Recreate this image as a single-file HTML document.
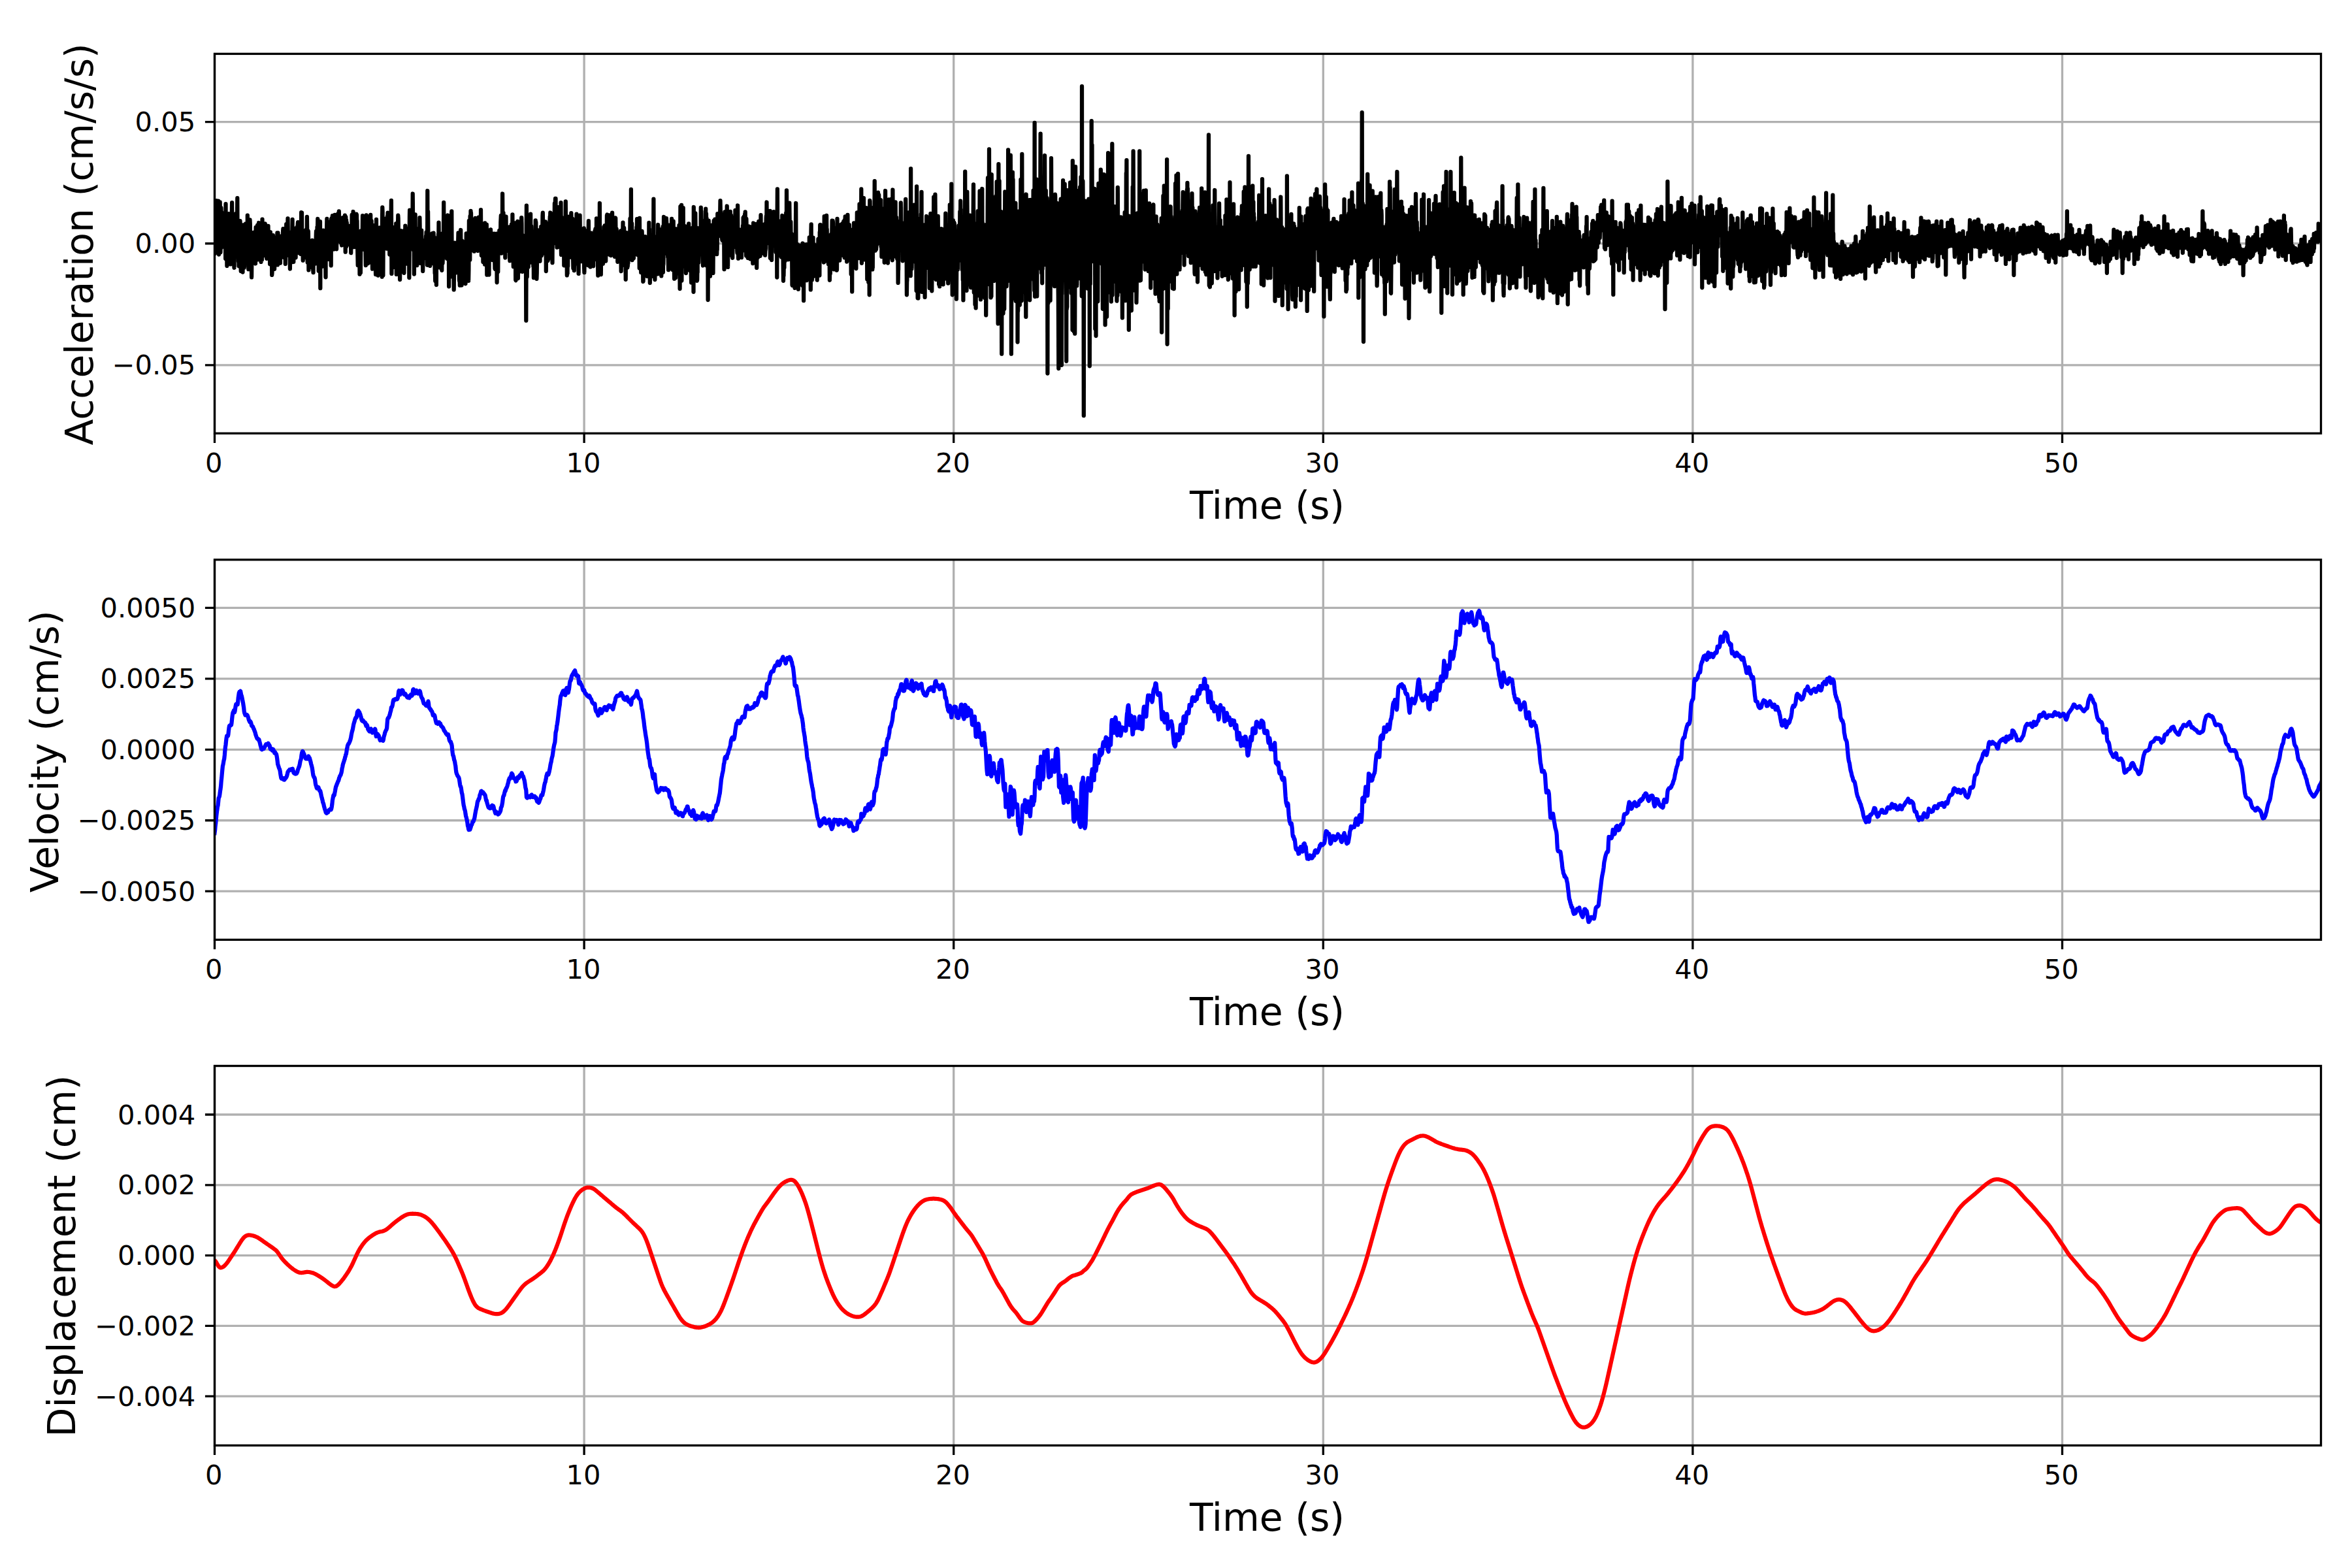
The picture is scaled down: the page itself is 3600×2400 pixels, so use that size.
<!DOCTYPE html>
<html lang="en"><head><meta charset="utf-8"><title>Acceleration, velocity and displacement time series</title>
<style>html,body{margin:0;padding:0;background:#fff;width:3600px;height:2400px;overflow:hidden}svg{display:block}text{font-family:"DejaVu Sans","Liberation Sans",sans-serif;fill:#000}.t{font-size:41.67px}.l{font-size:58.33px}</style></head><body>
<svg width="3600" height="2400" viewBox="0 0 3600 2400">
<rect width="3600" height="2400" fill="#ffffff"/>
<defs>
<clipPath id="c0"><rect x="328.50" y="82.40" width="3224.00" height="580.90"/></clipPath>
<clipPath id="c1"><rect x="328.50" y="856.70" width="3224.00" height="581.70"/></clipPath>
<clipPath id="c2"><rect x="328.50" y="1631.50" width="3224.00" height="580.90"/></clipPath>
</defs>
<path d="M328.50 82.40V663.30M894.10 82.40V663.30M1459.70 82.40V663.30M2025.30 82.40V663.30M2590.90 82.40V663.30M3156.50 82.40V663.30M328.50 186.70H3552.50M328.50 372.75H3552.50M328.50 558.80H3552.50" stroke="#b0b0b0" stroke-width="3.333" fill="none"/>
<path clip-path="url(#c0)" d="M328.5 357.9 328.8 339.3 329.1 388.1 329.3 360.2 329.6 357.7 329.9 372.4 330.2 384.0 330.5 332.5 330.8 341.5 331.0 385.1 331.3 307.1 331.6 322.2 331.9 353.9 332.2 328.4 332.5 378.1 332.7 361.4 333.0 340.5 333.3 309.9 333.6 346.8 333.9 311.8 334.2 307.7 334.4 311.4 334.7 318.1 335.0 389.5 335.3 360.9 335.6 346.7 335.9 375.6 336.1 354.1 336.4 320.3 336.7 309.3 337.0 340.6 337.3 356.2 337.5 386.3 337.8 365.6 338.1 353.6 338.4 318.0 338.7 326.5 339.0 369.4 339.2 378.7 339.5 342.5 339.8 328.3 340.1 349.0 340.4 328.4 340.7 345.1 340.9 343.4 341.2 372.6 341.5 362.4 341.8 326.7 342.1 337.7 342.4 332.5 342.6 343.2 342.9 369.4 343.2 359.5 343.5 336.4 343.8 333.4 344.1 363.0 344.3 349.8 344.6 377.0 344.9 351.8 345.2 395.9 345.5 312.1 345.8 375.3 346.0 365.6 346.3 344.7 346.6 383.6 346.9 376.1 347.2 348.9 347.4 407.0 347.7 371.0 348.0 401.6 348.3 386.6 348.6 386.9 348.9 365.5 349.1 351.8 349.4 371.3 349.7 345.9 350.0 327.2 350.3 351.8 350.6 361.7 350.8 348.8 351.1 362.0 351.4 376.0 351.7 388.6 352.0 342.8 352.3 360.2 352.5 356.2 352.8 404.4 353.1 359.8 353.4 372.8 353.7 368.3 354.0 381.5 354.2 363.3 354.5 343.1 354.8 327.5 355.1 310.1 355.4 337.4 355.6 345.6 355.9 363.5 356.2 369.2 356.5 339.4 356.8 355.7 357.1 396.8 357.3 350.1 357.6 330.8 357.9 339.0 358.2 404.9 358.5 409.8 358.8 386.0 359.0 382.2 359.3 373.0 359.6 338.9 359.9 329.5 360.2 363.9 360.5 356.9 360.7 356.0 361.0 329.6 361.3 326.9 361.6 329.2 361.9 353.1 362.2 362.7 362.4 367.3 362.7 358.6 363.0 332.0 363.3 303.2 363.6 359.7 363.9 360.2 364.1 366.3 364.4 352.7 364.7 375.8 365.0 400.3 365.3 376.1 365.5 407.3 365.8 358.1 366.1 374.9 366.4 373.4 366.7 392.7 367.0 367.5 367.2 375.9 367.5 338.2 367.8 344.8 368.1 365.7 368.4 360.6 368.7 415.1 368.9 387.1 369.2 358.3 369.5 359.3 369.8 375.7 370.1 381.6 370.4 391.6 370.6 392.0 370.9 379.1 371.2 352.9 371.5 416.6 371.8 359.0 372.1 351.0 372.3 344.3 372.6 380.5 372.9 369.7 373.2 357.3 373.5 380.2 373.7 409.8 374.0 407.8 374.3 387.1 374.6 377.4 374.9 385.6 375.2 381.2 375.4 393.1 375.7 386.2 376.0 342.4 376.3 368.1 376.6 370.2 376.9 362.2 377.1 351.9 377.4 352.7 377.7 377.1 378.0 390.3 378.3 381.6 378.6 370.2 378.8 329.6 379.1 365.6 379.4 364.9 379.7 370.5 380.0 351.5 380.3 412.2 380.5 364.0 380.8 369.1 381.1 408.8 381.4 357.7 381.7 391.1 381.9 378.8 382.2 386.1 382.5 336.4 382.8 342.5 383.1 364.0 383.4 365.0 383.6 364.8 383.9 360.0 384.2 378.1 384.5 404.8 384.8 392.8 385.1 424.4 385.3 402.9 385.6 375.0 385.9 371.0 386.2 382.5 386.5 396.5 386.8 373.8 387.0 391.2 387.3 377.8 387.6 388.6 387.9 399.7 388.2 355.8 388.5 380.8 388.7 379.6 389.0 367.0 389.3 379.6 389.6 382.8 389.9 385.6 390.2 358.5 390.4 370.8 390.7 381.5 391.0 403.5 391.3 385.6 391.6 347.9 391.8 393.5 392.1 359.6 392.4 390.9 392.7 361.0 393.0 376.7 393.3 368.6 393.5 396.0 393.8 383.2 394.1 344.6 394.4 378.9 394.7 353.2 395.0 397.4 395.2 387.6 395.5 356.7 395.8 372.8 396.1 341.0 396.4 361.5 396.7 364.0 396.9 374.9 397.2 355.6 397.5 381.8 397.8 373.2 398.1 375.5 398.4 379.5 398.6 373.6 398.9 364.8 399.2 369.8 399.5 400.9 399.8 371.3 400.0 375.3 400.3 397.4 400.6 371.6 400.9 397.6 401.2 365.5 401.5 335.6 401.7 373.5 402.0 363.2 402.3 392.0 402.6 377.2 402.9 359.9 403.2 389.6 403.4 388.1 403.7 378.4 404.0 362.9 404.3 356.8 404.6 356.9 404.9 356.8 405.1 366.5 405.4 376.2 405.7 342.4 406.0 348.9 406.3 382.7 406.6 344.3 406.8 345.1 407.1 345.9 407.4 356.5 407.7 376.9 408.0 368.6 408.2 395.8 408.5 368.3 408.8 348.3 409.1 363.9 409.4 365.4 409.7 365.1 409.9 360.0 410.2 361.7 410.5 345.9 410.8 374.1 411.1 384.1 411.4 365.0 411.6 391.4 411.9 385.6 412.2 369.1 412.5 369.4 412.8 377.0 413.1 404.3 413.3 373.3 413.6 367.6 413.9 355.4 414.2 376.1 414.5 361.8 414.8 372.3 415.0 393.1 415.3 376.9 415.6 379.4 415.9 371.0 416.2 420.9 416.5 417.7 416.7 398.4 417.0 373.4 417.3 382.4 417.6 377.4 417.9 360.2 418.1 390.0 418.4 386.3 418.7 384.6 419.0 405.4 419.3 392.6 419.6 388.7 419.8 400.9 420.1 411.8 420.4 363.6 420.7 364.3 421.0 372.7 421.3 387.2 421.5 400.6 421.8 387.6 422.1 391.5 422.4 396.3 422.7 371.6 423.0 381.7 423.2 394.1 423.5 401.1 423.8 380.5 424.1 376.5 424.4 356.5 424.7 405.4 424.9 405.4 425.2 375.9 425.5 356.3 425.8 365.7 426.1 379.5 426.3 375.8 426.6 397.6 426.9 403.0 427.2 399.0 427.5 398.4 427.8 390.4 428.0 378.1 428.3 375.8 428.6 362.1 428.9 402.7 429.2 368.4 429.5 393.0 429.7 361.7 430.0 392.6 430.3 373.9 430.6 376.8 430.9 372.4 431.2 374.6 431.4 383.8 431.7 381.5 432.0 371.6 432.3 384.6 432.6 378.8 432.9 385.7 433.1 353.5 433.4 350.2 433.7 375.0 434.0 393.8 434.3 384.7 434.6 359.9 434.8 377.7 435.1 391.3 435.4 383.8 435.7 375.3 436.0 377.4 436.2 369.0 436.5 378.5 436.8 404.0 437.1 379.7 437.4 380.0 437.7 380.2 437.9 391.7 438.2 343.1 438.5 375.1 438.8 354.0 439.1 345.6 439.4 358.4 439.6 349.9 439.9 343.1 440.2 355.8 440.5 334.4 440.8 360.9 441.1 378.6 441.3 378.4 441.6 360.2 441.9 364.9 442.2 379.4 442.5 378.1 442.8 362.8 443.0 355.5 443.3 364.3 443.6 372.1 443.9 411.5 444.2 378.2 444.4 390.9 444.7 381.9 445.0 373.9 445.3 402.0 445.6 392.5 445.9 397.6 446.1 371.9 446.4 389.9 446.7 386.4 447.0 382.1 447.3 354.5 447.6 335.9 447.8 377.5 448.1 397.2 448.4 388.3 448.7 384.4 449.0 364.8 449.3 401.0 449.5 389.1 449.8 375.9 450.1 360.4 450.4 369.7 450.7 349.7 451.0 358.7 451.2 382.3 451.5 351.3 451.8 375.3 452.1 381.7 452.4 354.0 452.6 394.3 452.9 370.8 453.2 378.6 453.5 356.7 453.8 371.9 454.1 357.6 454.3 374.7 454.6 347.7 454.9 377.3 455.2 348.3 455.5 348.7 455.8 341.7 456.0 340.2 456.3 378.0 456.6 354.3 456.9 355.9 457.2 354.6 457.5 346.2 457.7 362.4 458.0 387.3 458.3 372.4 458.6 349.0 458.9 371.2 459.2 355.5 459.4 380.7 459.7 356.8 460.0 388.8 460.3 373.4 460.6 366.7 460.9 359.3 461.1 325.2 461.4 339.3 461.7 366.9 462.0 325.6 462.3 374.9 462.5 382.1 462.8 386.6 463.1 379.1 463.4 374.5 463.7 398.7 464.0 367.4 464.2 380.6 464.5 367.4 464.8 376.5 465.1 353.0 465.4 363.4 465.7 382.4 465.9 357.0 466.2 373.2 466.5 366.0 466.8 358.2 467.1 375.4 467.4 364.7 467.6 380.1 467.9 379.8 468.2 370.0 468.5 370.0 468.8 362.6 469.1 350.9 469.3 379.9 469.6 395.1 469.9 331.8 470.2 354.6 470.5 384.0 470.7 401.7 471.0 383.3 471.3 365.4 471.6 353.2 471.9 354.6 472.2 379.5 472.4 413.4 472.7 399.8 473.0 404.7 473.3 384.9 473.6 388.2 473.9 383.7 474.1 409.1 474.4 386.9 474.7 395.1 475.0 403.7 475.3 393.6 475.6 399.9 475.8 399.8 476.1 376.8 476.4 369.6 476.7 372.4 477.0 373.1 477.3 385.6 477.5 374.2 477.8 367.9 478.1 395.0 478.4 405.0 478.7 399.6 478.9 407.9 479.2 412.1 479.5 417.1 479.8 386.2 480.1 396.6 480.4 394.8 480.6 394.8 480.9 373.9 481.2 368.9 481.5 386.6 481.8 376.6 482.1 381.1 482.3 382.2 482.6 403.7 482.9 394.0 483.2 392.2 483.5 371.7 483.8 358.7 484.0 354.0 484.3 391.1 484.6 375.6 484.9 366.7 485.2 383.2 485.5 347.6 485.7 371.4 486.0 351.3 486.3 335.0 486.6 373.6 486.9 371.0 487.2 369.6 487.4 354.6 487.7 414.7 488.0 389.1 488.3 396.3 488.6 394.9 488.8 405.6 489.1 397.1 489.4 386.4 489.7 386.1 490.0 339.2 490.3 441.2 490.5 368.1 490.8 377.8 491.1 381.0 491.4 378.9 491.7 399.2 492.0 402.6 492.2 380.2 492.5 387.1 492.8 407.9 493.1 382.9 493.4 397.4 493.7 384.2 493.9 398.2 494.2 389.6 494.5 384.7 494.8 352.6 495.1 376.6 495.4 376.4 495.6 390.8 495.9 386.6 496.2 382.5 496.5 369.5 496.8 379.0 497.0 388.2 497.3 392.0 497.6 366.8 497.9 371.0 498.2 393.5 498.5 424.3 498.7 361.2 499.0 380.2 499.3 387.6 499.6 380.5 499.9 377.1 500.2 345.6 500.4 334.9 500.7 372.9 501.0 363.6 501.3 361.3 501.6 349.0 501.9 396.9 502.1 350.3 502.4 339.8 502.7 362.2 503.0 356.1 503.3 342.6 503.6 353.2 503.8 379.2 504.1 375.4 504.4 363.7 504.7 370.3 505.0 356.1 505.2 364.6 505.5 356.6 505.8 354.6 506.1 344.0 506.4 368.1 506.7 406.4 506.9 339.3 507.2 335.2 507.5 334.2 507.8 360.0 508.1 348.9 508.4 341.7 508.6 337.3 508.9 330.2 509.2 358.7 509.5 348.3 509.8 349.3 510.1 357.7 510.3 373.8 510.6 336.9 510.9 381.6 511.2 379.2 511.5 365.4 511.8 331.1 512.0 332.9 512.3 328.9 512.6 341.1 512.9 357.6 513.2 346.3 513.5 357.8 513.7 332.4 514.0 375.2 514.3 356.9 514.6 356.3 514.9 356.9 515.1 381.3 515.4 344.0 515.7 341.3 516.0 347.7 516.3 366.5 516.6 339.5 516.8 355.9 517.1 327.4 517.4 354.1 517.7 354.8 518.0 354.0 518.3 350.5 518.5 332.0 518.8 323.4 519.1 333.8 519.4 345.3 519.7 347.1 520.0 352.5 520.2 336.7 520.5 355.9 520.8 356.9 521.1 350.6 521.4 371.1 521.7 347.1 521.9 346.6 522.2 359.8 522.5 357.9 522.8 354.4 523.1 375.5 523.3 374.3 523.6 345.7 523.9 361.7 524.2 368.3 524.5 349.9 524.8 333.1 525.0 367.7 525.3 348.7 525.6 357.5 525.9 354.2 526.2 359.1 526.5 352.3 526.7 342.3 527.0 344.2 527.3 354.6 527.6 366.2 527.9 329.7 528.2 339.8 528.4 353.7 528.7 385.6 529.0 354.9 529.3 332.2 529.6 366.2 529.9 377.8 530.1 337.1 530.4 355.8 530.7 340.3 531.0 344.2 531.3 374.2 531.6 359.9 531.8 345.4 532.1 359.4 532.4 356.4 532.7 371.8 533.0 364.6 533.2 350.8 533.5 374.3 533.8 357.0 534.1 350.5 534.4 359.4 534.7 359.2 534.9 349.5 535.2 345.9 535.5 355.6 535.8 350.4 536.1 347.5 536.4 348.3 536.6 353.5 536.9 346.0 537.2 387.1 537.5 361.8 537.8 348.9 538.1 347.2 538.3 374.6 538.6 328.9 538.9 364.8 539.2 356.2 539.5 353.6 539.8 345.9 540.0 351.2 540.3 342.3 540.6 324.0 540.9 343.9 541.2 326.7 541.4 342.4 541.7 360.8 542.0 378.2 542.3 341.2 542.6 372.0 542.9 347.9 543.1 352.9 543.4 345.0 543.7 347.2 544.0 336.8 544.3 347.1 544.6 344.9 544.8 375.8 545.1 354.8 545.4 365.2 545.7 327.7 546.0 329.5 546.3 354.9 546.5 337.8 546.8 369.9 547.1 376.0 547.4 390.5 547.7 406.1 548.0 371.5 548.2 364.4 548.5 365.8 548.8 378.7 549.1 387.0 549.4 380.8 549.6 387.5 549.9 394.7 550.2 371.7 550.5 419.7 550.8 392.5 551.1 382.9 551.3 360.2 551.6 391.0 551.9 417.5 552.2 383.3 552.5 353.3 552.8 377.6 553.0 370.3 553.3 366.6 553.6 367.5 553.9 354.1 554.2 363.2 554.5 370.5 554.7 360.5 555.0 330.2 555.3 367.7 555.6 372.7 555.9 377.9 556.2 381.7 556.4 379.2 556.7 381.9 557.0 364.7 557.3 375.4 557.6 368.0 557.9 373.5 558.1 366.2 558.4 343.1 558.7 349.5 559.0 365.1 559.3 346.0 559.5 383.6 559.8 406.1 560.1 383.6 560.4 386.8 560.7 329.3 561.0 352.8 561.2 366.4 561.5 330.7 561.8 361.1 562.1 377.3 562.4 394.8 562.7 383.9 562.9 403.4 563.2 383.3 563.5 361.4 563.8 387.8 564.1 379.8 564.4 370.1 564.6 350.5 564.9 377.1 565.2 397.3 565.5 364.9 565.8 376.0 566.1 368.8 566.3 370.4 566.6 401.5 566.9 335.5 567.2 328.8 567.5 373.0 567.7 385.6 568.0 398.7 568.3 373.3 568.6 338.1 568.9 367.7 569.2 370.4 569.4 377.0 569.7 392.5 570.0 411.6 570.3 353.5 570.6 359.7 570.9 355.2 571.1 373.9 571.4 395.9 571.7 403.7 572.0 387.8 572.3 353.9 572.6 345.2 572.8 376.9 573.1 400.9 573.4 372.8 573.7 347.9 574.0 368.4 574.3 386.8 574.5 367.6 574.8 405.5 575.1 420.2 575.4 384.8 575.7 390.7 576.0 335.8 576.2 375.2 576.5 404.5 576.8 357.2 577.1 355.2 577.4 373.5 577.6 368.8 577.9 361.7 578.2 379.1 578.5 421.6 578.8 394.1 579.1 370.3 579.3 372.5 579.6 364.5 579.9 375.8 580.2 394.3 580.5 393.2 580.8 370.3 581.0 375.8 581.3 348.5 581.6 352.2 581.9 414.4 582.2 368.8 582.5 370.8 582.7 371.8 583.0 365.0 583.3 374.2 583.6 362.5 583.9 367.4 584.2 378.1 584.4 404.7 584.7 423.7 585.0 338.0 585.3 317.3 585.6 325.1 585.8 369.4 586.1 352.6 586.4 421.6 586.7 366.0 587.0 338.2 587.3 363.2 587.5 343.7 587.8 378.2 588.1 360.8 588.4 352.7 588.7 341.1 589.0 335.6 589.2 354.7 589.5 361.2 589.8 352.9 590.1 341.0 590.4 364.3 590.7 356.1 590.9 358.2 591.2 363.7 591.5 365.0 591.8 334.0 592.1 380.7 592.4 356.6 592.6 339.7 592.9 330.8 593.2 338.5 593.5 325.7 593.8 366.8 594.0 364.9 594.3 359.7 594.6 355.8 594.9 364.9 595.2 343.9 595.5 350.4 595.7 365.9 596.0 359.7 596.3 389.5 596.6 358.5 596.9 376.9 597.2 329.6 597.4 369.8 597.7 348.5 598.0 379.1 598.3 329.1 598.6 328.5 598.9 306.9 599.1 357.6 599.4 418.9 599.7 393.5 600.0 400.5 600.3 360.8 600.6 387.1 600.8 380.0 601.1 351.9 601.4 355.6 601.7 347.9 602.0 365.9 602.3 392.1 602.5 383.3 602.8 409.0 603.1 357.4 603.4 372.7 603.7 401.4 603.9 367.9 604.2 363.5 604.5 361.8 604.8 369.1 605.1 365.7 605.4 375.0 605.6 399.7 605.9 406.6 606.2 342.1 606.5 361.9 606.8 419.9 607.1 360.0 607.3 385.2 607.6 387.5 607.9 397.5 608.2 352.5 608.5 371.7 608.8 362.7 609.0 345.4 609.3 329.7 609.6 334.0 609.9 358.6 610.2 360.3 610.5 370.7 610.7 356.9 611.0 382.6 611.3 417.4 611.6 382.1 611.9 405.9 612.1 428.0 612.4 395.7 612.7 355.1 613.0 383.5 613.3 353.2 613.6 376.9 613.8 380.4 614.1 379.5 614.4 368.4 614.7 378.2 615.0 353.5 615.3 363.5 615.5 369.1 615.8 414.4 616.1 361.3 616.4 359.5 616.7 385.0 617.0 391.0 617.2 416.0 617.5 374.9 617.8 359.7 618.1 395.3 618.4 417.8 618.7 380.2 618.9 371.4 619.2 352.7 619.5 382.9 619.8 370.9 620.1 385.9 620.3 345.6 620.6 378.2 620.9 377.3 621.2 379.3 621.5 393.7 621.8 375.9 622.0 378.4 622.3 384.8 622.6 394.1 622.9 387.4 623.2 403.7 623.5 392.4 623.7 382.1 624.0 375.3 624.3 349.9 624.6 371.0 624.9 384.8 625.2 378.1 625.4 365.1 625.7 399.1 626.0 365.5 626.3 425.1 626.6 389.6 626.9 332.3 627.1 321.6 627.4 355.6 627.7 375.2 628.0 355.1 628.3 369.9 628.6 336.6 628.8 342.7 629.1 355.1 629.4 374.0 629.7 348.2 630.0 373.4 630.2 377.3 630.5 378.8 630.8 367.5 631.1 353.4 631.4 343.6 631.7 296.5 631.9 312.8 632.2 367.8 632.5 356.6 632.8 382.7 633.1 370.8 633.4 380.7 633.6 343.6 633.9 419.6 634.2 372.9 634.5 370.7 634.8 351.5 635.1 377.2 635.3 357.5 635.6 328.3 635.9 372.4 636.2 382.1 636.5 398.0 636.8 352.3 637.0 369.2 637.3 386.9 637.6 394.3 637.9 389.4 638.2 406.2 638.4 355.7 638.7 371.7 639.0 357.0 639.3 350.2 639.6 398.4 639.9 386.2 640.1 363.4 640.4 366.2 640.7 393.0 641.0 353.3 641.3 374.2 641.6 354.7 641.8 351.3 642.1 373.6 642.4 333.2 642.7 353.7 643.0 390.3 643.3 403.0 643.5 391.2 643.8 381.6 644.1 390.5 644.4 353.8 644.7 379.9 645.0 359.0 645.2 352.7 645.5 388.0 645.8 371.9 646.1 371.6 646.4 367.6 646.7 369.2 646.9 384.8 647.2 415.0 647.5 388.0 647.8 371.6 648.1 388.4 648.3 387.7 648.6 391.2 648.9 377.8 649.2 387.1 649.5 381.4 649.8 384.0 650.0 380.7 650.3 384.0 650.6 377.0 650.9 394.9 651.2 388.0 651.5 379.3 651.7 367.9 652.0 361.2 652.3 368.5 652.6 355.3 652.9 385.6 653.2 365.8 653.4 367.9 653.7 391.2 654.0 405.8 654.3 292.0 654.6 396.9 654.9 374.8 655.1 323.8 655.4 359.4 655.7 369.8 656.0 366.7 656.3 392.5 656.5 394.3 656.8 380.9 657.1 390.7 657.4 373.8 657.7 372.1 658.0 370.5 658.2 406.9 658.5 363.7 658.8 389.1 659.1 376.7 659.4 391.8 659.7 397.3 659.9 388.4 660.2 385.2 660.5 358.3 660.8 358.6 661.1 372.4 661.4 357.5 661.6 360.0 661.9 363.3 662.2 388.2 662.5 386.3 662.8 403.1 663.1 362.3 663.3 359.0 663.6 356.7 663.9 397.4 664.2 362.4 664.5 389.8 664.7 379.6 665.0 389.7 665.3 382.4 665.6 418.3 665.9 411.7 666.2 430.0 666.4 421.7 666.7 389.8 667.0 404.0 667.3 365.4 667.6 370.6 667.9 436.0 668.1 364.4 668.4 377.3 668.7 397.0 669.0 386.0 669.3 396.1 669.6 385.5 669.8 401.4 670.1 396.7 670.4 380.4 670.7 369.1 671.0 358.3 671.3 370.1 671.5 340.7 671.8 369.2 672.1 380.0 672.4 379.8 672.7 362.2 673.0 409.6 673.2 385.7 673.5 376.3 673.8 360.4 674.1 374.4 674.4 404.0 674.6 393.9 674.9 372.3 675.2 400.2 675.5 384.8 675.8 368.4 676.1 377.3 676.3 413.8 676.6 381.4 676.9 375.4 677.2 357.4 677.5 402.8 677.8 395.8 678.0 364.8 678.3 369.0 678.6 375.6 678.9 365.4 679.2 309.9 679.5 389.8 679.7 358.9 680.0 364.3 680.3 356.6 680.6 366.6 680.9 392.9 681.2 368.8 681.4 357.4 681.7 388.1 682.0 375.7 682.3 381.2 682.6 378.3 682.8 382.1 683.1 362.6 683.4 344.1 683.7 371.0 684.0 395.8 684.3 372.1 684.5 374.7 684.8 337.5 685.1 361.3 685.4 329.5 685.7 368.4 686.0 343.3 686.2 393.7 686.5 394.3 686.8 357.9 687.1 438.5 687.4 388.5 687.7 416.3 687.9 355.3 688.2 409.5 688.5 387.9 688.8 385.1 689.1 413.7 689.4 342.2 689.6 383.0 689.9 350.2 690.2 404.3 690.5 411.7 690.8 372.3 691.0 339.0 691.3 323.3 691.6 398.4 691.9 423.4 692.2 421.7 692.5 396.4 692.7 388.4 693.0 406.3 693.3 396.1 693.6 378.9 693.9 372.8 694.2 414.5 694.4 406.4 694.7 443.4 695.0 415.6 695.3 392.6 695.6 398.6 695.9 401.7 696.1 371.7 696.4 405.1 696.7 416.2 697.0 394.9 697.3 390.6 697.6 417.4 697.8 389.7 698.1 380.3 698.4 415.2 698.7 415.2 699.0 402.5 699.3 379.4 699.5 416.7 699.8 416.9 700.1 405.4 700.4 390.3 700.7 398.0 700.9 406.9 701.2 368.6 701.5 356.4 701.8 403.7 702.1 376.1 702.4 408.7 702.6 366.2 702.9 427.7 703.2 430.1 703.5 421.6 703.8 436.9 704.1 412.0 704.3 385.5 704.6 429.1 704.9 390.9 705.2 352.0 705.5 402.4 705.8 400.8 706.0 428.5 706.3 404.9 706.6 436.6 706.9 384.2 707.2 368.6 707.5 383.7 707.7 415.7 708.0 431.2 708.3 410.2 708.6 422.5 708.9 408.1 709.1 407.5 709.4 422.8 709.7 416.4 710.0 384.2 710.3 405.1 710.6 396.7 710.8 422.4 711.1 379.5 711.4 383.8 711.7 370.2 712.0 413.7 712.3 395.9 712.5 434.3 712.8 416.7 713.1 412.3 713.4 407.7 713.7 357.4 714.0 403.4 714.2 387.4 714.5 398.7 714.8 396.2 715.1 391.7 715.4 428.0 715.7 409.8 715.9 425.9 716.2 382.6 716.5 380.0 716.8 420.2 717.1 429.9 717.4 413.5 717.6 378.7 717.9 337.8 718.2 349.1 718.5 361.9 718.8 378.3 719.0 386.4 719.3 397.8 719.6 331.0 719.9 355.3 720.2 363.2 720.5 322.8 720.7 350.7 721.0 325.9 721.3 348.6 721.6 335.2 721.9 364.5 722.2 378.6 722.4 364.9 722.7 354.2 723.0 343.3 723.3 357.9 723.6 370.7 723.9 381.0 724.1 383.3 724.4 369.3 724.7 358.6 725.0 350.0 725.3 352.9 725.6 358.6 725.8 384.7 726.1 380.8 726.4 345.0 726.7 347.9 727.0 354.3 727.2 338.6 727.5 333.8 727.8 349.1 728.1 337.6 728.4 353.9 728.7 350.4 728.9 375.4 729.2 376.9 729.5 350.4 729.8 379.0 730.1 353.2 730.4 355.2 730.6 357.6 730.9 375.6 731.2 345.2 731.5 383.9 731.8 373.4 732.1 339.5 732.3 350.1 732.6 332.6 732.9 364.2 733.2 382.9 733.5 374.0 733.8 347.1 734.0 350.6 734.3 346.4 734.6 360.3 734.9 363.4 735.2 368.9 735.4 331.6 735.7 365.0 736.0 321.2 736.3 367.0 736.6 341.8 736.9 391.0 737.1 389.5 737.4 375.3 737.7 387.5 738.0 386.5 738.3 374.7 738.6 375.0 738.8 346.7 739.1 353.1 739.4 401.1 739.7 365.3 740.0 395.2 740.3 396.9 740.5 391.9 740.8 374.2 741.1 375.2 741.4 398.7 741.7 386.3 742.0 404.7 742.2 341.4 742.5 389.9 742.8 387.1 743.1 390.7 743.4 388.8 743.7 389.3 743.9 397.7 744.2 373.8 744.5 363.9 744.8 343.7 745.1 374.0 745.3 420.7 745.6 377.8 745.9 394.6 746.2 369.0 746.5 406.9 746.8 385.0 747.0 375.0 747.3 399.7 747.6 386.6 747.9 363.5 748.2 362.7 748.5 420.6 748.7 354.2 749.0 363.2 749.3 359.5 749.6 377.9 749.9 378.7 750.2 381.4 750.4 383.2 750.7 388.1 751.0 351.3 751.3 365.2 751.6 368.6 751.9 371.8 752.1 375.9 752.4 357.1 752.7 383.7 753.0 371.8 753.3 374.0 753.5 378.5 753.8 398.0 754.1 364.6 754.4 372.7 754.7 361.5 755.0 383.8 755.2 386.8 755.5 373.1 755.8 382.1 756.1 387.0 756.4 357.7 756.7 370.7 756.9 360.5 757.2 396.5 757.5 411.2 757.8 404.9 758.1 412.2 758.4 370.2 758.6 360.8 758.9 364.1 759.2 367.8 759.5 365.3 759.8 369.1 760.1 357.6 760.3 377.4 760.6 432.3 760.9 375.2 761.2 391.2 761.5 378.8 761.7 363.0 762.0 370.5 762.3 415.9 762.6 367.4 762.9 378.3 763.2 371.8 763.4 374.9 763.7 362.3 764.0 373.1 764.3 352.8 764.6 374.5 764.9 373.1 765.1 353.1 765.4 355.0 765.7 374.1 766.0 373.1 766.3 340.7 766.6 334.4 766.8 329.9 767.1 351.4 767.4 387.6 767.7 361.6 768.0 376.2 768.3 371.3 768.5 348.4 768.8 357.9 769.1 296.5 769.4 340.4 769.7 338.3 770.0 334.4 770.2 334.2 770.5 325.8 770.8 378.1 771.1 354.3 771.4 366.3 771.6 344.0 771.9 332.8 772.2 339.4 772.5 351.0 772.8 340.9 773.1 348.4 773.3 394.5 773.6 376.0 773.9 369.4 774.2 336.8 774.5 331.5 774.8 368.8 775.0 367.8 775.3 384.1 775.6 365.3 775.9 363.8 776.2 347.9 776.5 381.5 776.7 352.9 777.0 365.9 777.3 364.7 777.6 359.7 777.9 372.9 778.2 353.2 778.4 360.6 778.7 351.5 779.0 376.4 779.3 385.2 779.6 368.4 779.8 347.3 780.1 395.9 780.4 399.1 780.7 362.8 781.0 378.5 781.3 350.4 781.5 356.4 781.8 366.2 782.1 360.6 782.4 368.1 782.7 356.3 783.0 343.3 783.2 346.9 783.5 375.8 783.8 398.2 784.1 394.3 784.4 328.3 784.7 386.6 784.9 373.3 785.2 362.6 785.5 382.3 785.8 408.1 786.1 348.6 786.4 347.4 786.6 376.0 786.9 390.8 787.2 341.2 787.5 358.2 787.8 364.0 788.0 390.2 788.3 395.9 788.6 388.0 788.9 377.9 789.2 428.4 789.5 429.2 789.7 371.4 790.0 400.7 790.3 384.0 790.6 399.3 790.9 374.5 791.2 364.8 791.4 379.2 791.7 374.0 792.0 353.5 792.3 338.9 792.6 378.1 792.9 426.1 793.1 396.6 793.4 409.5 793.7 386.8 794.0 390.1 794.3 355.2 794.6 385.3 794.8 374.1 795.1 340.9 795.4 373.0 795.7 350.3 796.0 360.4 796.3 371.2 796.5 415.4 796.8 371.2 797.1 365.2 797.4 342.7 797.7 343.7 797.9 350.0 798.2 333.2 798.5 342.8 798.8 400.5 799.1 394.9 799.4 394.2 799.6 415.8 799.9 360.1 800.2 391.8 800.5 373.1 800.8 387.8 801.1 396.4 801.3 399.2 801.6 392.5 801.9 394.0 802.2 384.0 802.5 386.1 802.8 381.8 803.0 394.9 803.3 385.2 803.6 400.9 803.9 403.9 804.2 415.2 804.5 402.3 804.7 403.8 805.0 410.5 805.3 490.7 805.6 393.7 805.9 314.7 806.1 401.7 806.4 383.7 806.7 423.6 807.0 400.4 807.3 403.0 807.6 388.1 807.8 384.8 808.1 380.8 808.4 366.3 808.7 408.8 809.0 373.3 809.3 370.1 809.5 386.3 809.8 383.6 810.1 340.6 810.4 382.4 810.7 378.6 811.0 383.6 811.2 392.9 811.5 382.2 811.8 401.6 812.1 327.7 812.4 373.1 812.7 364.4 812.9 367.3 813.2 346.2 813.5 361.1 813.8 362.1 814.1 366.6 814.4 374.1 814.6 389.4 814.9 378.6 815.2 398.5 815.5 367.5 815.8 363.5 816.0 360.9 816.3 407.8 816.6 369.0 816.9 425.2 817.2 378.4 817.5 392.6 817.7 361.2 818.0 368.2 818.3 375.3 818.6 384.2 818.9 363.6 819.2 386.6 819.4 377.7 819.7 337.4 820.0 386.3 820.3 340.1 820.6 369.8 820.9 381.5 821.1 392.4 821.4 426.8 821.7 418.6 822.0 396.0 822.3 383.4 822.6 358.9 822.8 352.1 823.1 384.0 823.4 383.7 823.7 378.9 824.0 385.6 824.2 374.2 824.5 399.3 824.8 372.6 825.1 383.8 825.4 375.8 825.7 373.9 825.9 372.0 826.2 388.2 826.5 399.8 826.8 378.5 827.1 386.5 827.4 389.3 827.6 362.0 827.9 361.3 828.2 346.9 828.5 349.4 828.8 391.1 829.1 362.2 829.3 375.1 829.6 351.7 829.9 352.7 830.2 354.1 830.5 330.2 830.8 325.7 831.0 335.8 831.3 376.0 831.6 359.6 831.9 367.8 832.2 358.6 832.4 377.7 832.7 347.3 833.0 374.9 833.3 369.2 833.6 387.6 833.9 377.9 834.1 358.6 834.4 367.3 834.7 380.0 835.0 339.4 835.3 342.5 835.6 358.4 835.8 415.1 836.1 362.2 836.4 370.0 836.7 350.2 837.0 378.1 837.3 352.9 837.5 342.3 837.8 365.4 838.1 389.6 838.4 399.1 838.7 396.0 839.0 386.8 839.2 397.0 839.5 363.1 839.8 358.6 840.1 365.0 840.4 366.5 840.7 345.0 840.9 368.2 841.2 361.2 841.5 338.4 841.8 331.5 842.1 333.4 842.3 325.5 842.6 345.9 842.9 335.2 843.2 349.3 843.5 350.9 843.8 344.3 844.0 346.3 844.3 346.8 844.6 374.7 844.9 373.1 845.2 383.1 845.5 402.2 845.7 370.9 846.0 371.4 846.3 337.7 846.6 335.9 846.9 334.9 847.2 334.1 847.4 328.4 847.7 340.4 848.0 326.5 848.3 344.9 848.6 348.2 848.9 311.4 849.1 345.1 849.4 343.9 849.7 313.3 850.0 304.0 850.3 316.2 850.5 303.9 850.8 372.6 851.1 347.2 851.4 362.1 851.7 348.0 852.0 323.5 852.2 330.0 852.5 378.7 852.8 350.7 853.1 345.4 853.4 345.2 853.7 332.2 853.9 331.5 854.2 322.7 854.5 328.3 854.8 322.5 855.1 317.2 855.4 342.4 855.6 350.6 855.9 345.3 856.2 346.4 856.5 362.7 856.8 378.2 857.1 353.2 857.3 331.2 857.6 360.5 857.9 340.4 858.2 379.1 858.5 310.2 858.8 378.6 859.0 390.0 859.3 367.7 859.6 367.6 859.9 332.8 860.2 350.0 860.4 365.0 860.7 360.3 861.0 356.5 861.3 375.6 861.6 383.6 861.9 358.7 862.1 377.3 862.4 387.1 862.7 387.9 863.0 353.5 863.3 406.3 863.6 379.8 863.8 357.6 864.1 354.1 864.4 340.5 864.7 352.3 865.0 356.5 865.3 343.0 865.5 353.2 865.8 308.4 866.1 366.0 866.4 375.1 866.7 404.6 867.0 388.7 867.2 351.9 867.5 379.5 867.8 421.4 868.1 394.7 868.4 361.4 868.6 418.5 868.9 356.7 869.2 407.6 869.5 366.7 869.8 365.3 870.1 331.7 870.3 362.8 870.6 368.7 870.9 373.4 871.2 357.7 871.5 345.8 871.8 367.3 872.0 384.9 872.3 384.9 872.6 368.4 872.9 378.2 873.2 393.6 873.5 382.2 873.7 354.9 874.0 368.6 874.3 326.2 874.6 335.6 874.9 354.0 875.2 371.3 875.4 358.5 875.7 380.9 876.0 368.9 876.3 334.9 876.6 379.8 876.8 379.9 877.1 395.4 877.4 410.6 877.7 360.1 878.0 340.9 878.3 337.8 878.5 402.9 878.8 414.1 879.1 386.0 879.4 351.1 879.7 343.5 880.0 337.0 880.2 337.3 880.5 376.0 880.8 380.2 881.1 355.2 881.4 385.6 881.7 385.3 881.9 382.8 882.2 364.6 882.5 327.7 882.8 363.3 883.1 383.6 883.4 378.5 883.6 372.8 883.9 384.8 884.2 382.5 884.5 404.5 884.8 388.0 885.1 366.3 885.3 403.2 885.6 418.9 885.9 380.0 886.2 385.5 886.5 358.5 886.7 366.7 887.0 363.0 887.3 352.7 887.6 329.7 887.9 362.9 888.2 397.8 888.4 397.8 888.7 392.9 889.0 394.7 889.3 375.8 889.6 378.1 889.9 369.7 890.1 400.2 890.4 395.0 890.7 377.9 891.0 357.1 891.3 376.2 891.6 379.6 891.8 394.3 892.1 382.2 892.4 395.3 892.7 397.9 893.0 388.4 893.3 367.8 893.5 365.2 893.8 349.3 894.1 409.2 894.4 417.2 894.7 388.5 894.9 398.1 895.2 384.3 895.5 375.6 895.8 379.8 896.1 359.5 896.4 354.9 896.6 377.6 896.9 375.6 897.2 374.6 897.5 404.7 897.8 378.8 898.1 383.9 898.3 388.7 898.6 392.9 898.9 353.1 899.2 374.1 899.5 399.8 899.8 366.6 900.0 406.1 900.3 365.3 900.6 357.1 900.9 338.2 901.2 371.8 901.5 388.0 901.7 358.2 902.0 372.0 902.3 380.1 902.6 391.7 902.9 377.9 903.1 408.1 903.4 382.9 903.7 408.5 904.0 382.2 904.3 381.2 904.6 361.1 904.8 356.7 905.1 378.0 905.4 358.8 905.7 367.6 906.0 403.7 906.3 382.8 906.5 394.2 906.8 371.0 907.1 375.1 907.4 401.9 907.7 387.7 908.0 384.7 908.2 407.3 908.5 381.2 908.8 391.2 909.1 398.1 909.4 367.9 909.7 393.6 909.9 378.2 910.2 366.4 910.5 353.4 910.8 357.3 911.1 384.0 911.4 350.4 911.6 370.8 911.9 364.8 912.2 369.1 912.5 356.2 912.8 365.6 913.0 334.3 913.3 355.9 913.6 356.4 913.9 373.7 914.2 397.2 914.5 391.0 914.7 391.3 915.0 393.4 915.3 421.7 915.6 398.8 915.9 386.9 916.2 383.9 916.4 361.1 916.7 377.7 917.0 374.4 917.3 368.1 917.6 387.0 917.9 311.0 918.1 373.0 918.4 359.5 918.7 354.7 919.0 374.6 919.3 367.2 919.6 371.2 919.8 420.2 920.1 392.8 920.4 370.3 920.7 369.1 921.0 357.4 921.2 369.5 921.5 379.7 921.8 372.5 922.1 380.8 922.4 372.7 922.7 354.6 922.9 403.7 923.2 376.8 923.5 384.8 923.8 375.6 924.1 377.4 924.4 347.5 924.6 362.4 924.9 359.0 925.2 348.6 925.5 393.7 925.8 345.1 926.1 390.6 926.3 381.5 926.6 362.2 926.9 389.3 927.2 399.6 927.5 352.3 927.8 373.4 928.0 356.5 928.3 364.7 928.6 370.0 928.9 329.9 929.2 361.5 929.5 328.5 929.7 377.5 930.0 373.1 930.3 371.4 930.6 366.1 930.9 384.6 931.1 389.0 931.4 345.2 931.7 354.7 932.0 344.8 932.3 375.9 932.6 389.8 932.8 387.9 933.1 366.6 933.4 354.0 933.7 370.6 934.0 372.8 934.3 329.1 934.5 354.1 934.8 385.3 935.1 391.1 935.4 384.9 935.7 335.7 936.0 369.4 936.2 334.1 936.5 385.1 936.8 388.4 937.1 325.6 937.4 368.8 937.7 348.9 937.9 363.0 938.2 373.8 938.5 348.3 938.8 359.5 939.1 360.8 939.3 374.8 939.6 390.6 939.9 353.2 940.2 369.1 940.5 370.0 940.8 364.0 941.0 392.9 941.3 358.5 941.6 361.4 941.9 333.3 942.2 334.0 942.5 355.5 942.7 368.5 943.0 352.2 943.3 373.9 943.6 350.3 943.9 355.1 944.2 360.4 944.4 360.7 944.7 369.4 945.0 378.9 945.3 400.8 945.6 357.7 945.9 374.6 946.1 357.6 946.4 358.2 946.7 371.8 947.0 357.7 947.3 369.1 947.5 386.2 947.8 381.5 948.1 383.4 948.4 375.0 948.7 370.5 949.0 384.3 949.2 369.5 949.5 356.6 949.8 370.6 950.1 353.3 950.4 381.5 950.7 415.1 950.9 360.3 951.2 358.6 951.5 407.3 951.8 388.9 952.1 393.5 952.4 358.0 952.6 388.7 952.9 355.8 953.2 358.4 953.5 340.7 953.8 396.8 954.1 392.8 954.3 384.1 954.6 367.7 954.9 374.5 955.2 348.8 955.5 366.8 955.8 395.9 956.0 393.2 956.3 383.0 956.6 372.9 956.9 385.6 957.2 371.3 957.4 386.2 957.7 427.8 958.0 376.2 958.3 388.0 958.6 391.5 958.9 356.2 959.1 389.7 959.4 381.7 959.7 374.2 960.0 371.3 960.3 409.4 960.6 371.7 960.8 407.3 961.1 398.4 961.4 402.8 961.7 393.9 962.0 383.2 962.3 366.6 962.5 357.6 962.8 384.3 963.1 377.1 963.4 368.4 963.7 393.0 964.0 360.6 964.2 364.7 964.5 334.6 964.8 366.6 965.1 333.6 965.4 372.4 965.6 359.4 965.9 289.8 966.2 370.4 966.5 374.9 966.8 361.7 967.1 342.0 967.3 364.7 967.6 398.1 967.9 387.0 968.2 386.6 968.5 389.8 968.8 364.2 969.0 360.8 969.3 395.7 969.6 380.5 969.9 395.3 970.2 371.4 970.5 354.6 970.7 382.8 971.0 360.3 971.3 360.3 971.6 362.2 971.9 355.4 972.2 371.6 972.4 363.5 972.7 364.6 973.0 375.3 973.3 380.3 973.6 363.3 973.8 355.9 974.1 377.3 974.4 347.7 974.7 359.0 975.0 335.2 975.3 385.2 975.5 387.7 975.8 390.2 976.1 351.3 976.4 387.9 976.7 360.7 977.0 366.3 977.2 362.4 977.5 354.8 977.8 346.5 978.1 377.7 978.4 374.7 978.7 410.4 978.9 333.8 979.2 378.8 979.5 382.4 979.8 386.2 980.1 390.2 980.4 407.3 980.6 400.2 980.9 401.0 981.2 417.1 981.5 365.5 981.8 361.9 982.1 390.2 982.3 387.2 982.6 353.9 982.9 361.6 983.2 395.6 983.5 393.9 983.7 412.5 984.0 401.5 984.3 431.0 984.6 430.4 984.9 390.2 985.2 395.5 985.4 382.9 985.7 384.8 986.0 383.1 986.3 390.8 986.6 396.3 986.9 379.7 987.1 397.0 987.4 362.2 987.7 410.3 988.0 407.0 988.3 390.8 988.6 409.5 988.8 391.1 989.1 390.0 989.4 394.4 989.7 412.9 990.0 376.7 990.3 408.6 990.5 422.9 990.8 384.3 991.1 408.7 991.4 399.8 991.7 391.9 991.9 404.9 992.2 378.1 992.5 410.4 992.8 410.0 993.1 403.1 993.4 340.8 993.6 361.8 993.9 350.7 994.2 397.3 994.5 390.1 994.8 433.0 995.1 410.1 995.3 393.7 995.6 396.5 995.9 405.6 996.2 410.2 996.5 381.4 996.8 374.5 997.0 402.6 997.3 376.9 997.6 423.1 997.9 385.3 998.2 398.3 998.5 386.3 998.7 418.7 999.0 372.8 999.3 389.5 999.6 398.0 999.9 384.0 1000.1 387.0 1000.4 304.7 1000.7 399.9 1001.0 404.7 1001.3 388.1 1001.6 388.1 1001.8 381.1 1002.1 387.7 1002.4 428.0 1002.7 404.1 1003.0 403.2 1003.3 415.8 1003.5 419.5 1003.8 389.3 1004.1 362.3 1004.4 388.0 1004.7 397.7 1005.0 366.1 1005.2 392.6 1005.5 391.7 1005.8 381.9 1006.1 392.8 1006.4 381.2 1006.7 387.0 1006.9 419.3 1007.2 344.0 1007.5 355.7 1007.8 375.2 1008.1 352.4 1008.4 387.6 1008.6 369.7 1008.9 373.0 1009.2 371.5 1009.5 382.7 1009.8 358.4 1010.0 364.8 1010.3 351.1 1010.6 389.5 1010.9 367.4 1011.2 366.3 1011.5 367.5 1011.7 369.5 1012.0 373.3 1012.3 422.4 1012.6 372.5 1012.9 365.6 1013.2 382.9 1013.4 366.8 1013.7 380.7 1014.0 387.9 1014.3 379.6 1014.6 347.0 1014.9 416.8 1015.1 382.5 1015.4 405.4 1015.7 376.3 1016.0 332.0 1016.3 358.9 1016.6 379.6 1016.8 364.2 1017.1 361.8 1017.4 378.0 1017.7 361.0 1018.0 374.7 1018.2 364.0 1018.5 361.5 1018.8 355.1 1019.1 348.9 1019.4 374.9 1019.7 369.8 1019.9 334.1 1020.2 340.0 1020.5 380.1 1020.8 346.3 1021.1 349.3 1021.4 389.1 1021.6 383.4 1021.9 355.3 1022.2 393.5 1022.5 386.8 1022.8 399.2 1023.1 413.2 1023.3 366.1 1023.6 396.7 1023.9 370.7 1024.2 344.6 1024.5 371.1 1024.8 381.6 1025.0 364.5 1025.3 356.1 1025.6 378.4 1025.9 355.4 1026.2 385.9 1026.5 399.8 1026.7 368.1 1027.0 391.4 1027.3 379.4 1027.6 381.9 1027.9 378.7 1028.1 334.8 1028.4 398.0 1028.7 393.2 1029.0 397.3 1029.3 413.0 1029.6 350.2 1029.8 401.3 1030.1 398.1 1030.4 388.0 1030.7 338.7 1031.0 376.9 1031.3 390.0 1031.5 364.0 1031.8 406.1 1032.1 426.7 1032.4 363.4 1032.7 374.5 1033.0 420.9 1033.2 411.8 1033.5 387.2 1033.8 408.9 1034.1 425.2 1034.4 398.9 1034.7 350.3 1034.9 359.9 1035.2 397.8 1035.5 378.4 1035.8 381.1 1036.1 397.0 1036.3 392.6 1036.6 364.4 1036.9 418.4 1037.2 402.6 1037.5 381.2 1037.8 390.3 1038.0 385.0 1038.3 385.9 1038.6 399.0 1038.9 357.2 1039.2 377.6 1039.5 344.9 1039.7 392.6 1040.0 385.9 1040.3 368.5 1040.6 442.0 1040.9 366.9 1041.2 353.8 1041.4 316.1 1041.7 405.4 1042.0 371.2 1042.3 356.2 1042.6 358.2 1042.9 361.0 1043.1 313.8 1043.4 429.6 1043.7 362.9 1044.0 386.4 1044.3 389.3 1044.5 370.1 1044.8 373.6 1045.1 344.8 1045.4 337.6 1045.7 318.2 1046.0 377.6 1046.2 355.3 1046.5 388.0 1046.8 402.4 1047.1 407.7 1047.4 360.5 1047.7 387.7 1047.9 379.8 1048.2 379.4 1048.5 346.0 1048.8 382.9 1049.1 364.5 1049.4 352.6 1049.6 362.0 1049.9 418.1 1050.2 404.6 1050.5 358.7 1050.8 391.2 1051.1 379.7 1051.3 408.7 1051.6 359.6 1051.9 357.3 1052.2 386.0 1052.5 371.8 1052.8 399.1 1053.0 388.8 1053.3 350.6 1053.6 366.0 1053.9 364.0 1054.2 342.4 1054.4 362.5 1054.7 364.5 1055.0 383.0 1055.3 380.6 1055.6 386.4 1055.9 414.3 1056.1 392.3 1056.4 391.4 1056.7 361.7 1057.0 366.8 1057.3 386.8 1057.6 351.8 1057.8 420.5 1058.1 432.6 1058.4 429.6 1058.7 402.0 1059.0 356.1 1059.3 356.9 1059.5 381.6 1059.8 348.8 1060.1 382.0 1060.4 401.9 1060.7 377.8 1061.0 374.0 1061.2 378.7 1061.5 446.8 1061.8 317.0 1062.1 420.5 1062.4 395.3 1062.6 428.3 1062.9 405.7 1063.2 376.2 1063.5 391.7 1063.8 401.7 1064.1 383.1 1064.3 326.4 1064.6 351.1 1064.9 378.0 1065.2 393.2 1065.5 385.0 1065.8 348.4 1066.0 352.5 1066.3 374.3 1066.6 412.8 1066.9 429.8 1067.2 428.0 1067.5 403.7 1067.7 416.7 1068.0 349.2 1068.3 381.4 1068.6 373.3 1068.9 355.1 1069.2 402.0 1069.4 388.5 1069.7 377.9 1070.0 372.2 1070.3 382.2 1070.6 371.6 1070.8 368.3 1071.1 360.5 1071.4 361.2 1071.7 380.3 1072.0 356.8 1072.3 371.7 1072.5 360.4 1072.8 317.7 1073.1 369.0 1073.4 323.3 1073.7 340.5 1074.0 374.0 1074.2 345.3 1074.5 344.0 1074.8 357.8 1075.1 356.4 1075.4 384.3 1075.7 394.6 1075.9 406.5 1076.2 382.2 1076.5 378.9 1076.8 339.8 1077.1 377.2 1077.4 359.0 1077.6 380.4 1077.9 362.3 1078.2 375.2 1078.5 372.2 1078.8 351.8 1079.1 370.2 1079.3 356.5 1079.6 336.8 1079.9 372.7 1080.2 319.6 1080.5 375.8 1080.7 370.8 1081.0 327.0 1081.3 406.5 1081.6 334.0 1081.9 369.2 1082.2 361.4 1082.4 384.7 1082.7 365.4 1083.0 388.2 1083.3 359.6 1083.6 459.1 1083.9 380.5 1084.1 380.0 1084.4 368.5 1084.7 337.6 1085.0 349.9 1085.3 366.7 1085.6 364.3 1085.8 362.7 1086.1 351.1 1086.4 366.3 1086.7 394.7 1087.0 422.7 1087.3 388.0 1087.5 399.3 1087.8 369.1 1088.1 380.4 1088.4 366.8 1088.7 351.2 1088.9 344.8 1089.2 363.2 1089.5 351.9 1089.8 375.1 1090.1 395.1 1090.4 366.6 1090.6 348.3 1090.9 349.4 1091.2 382.0 1091.5 418.0 1091.8 375.0 1092.1 378.1 1092.3 350.5 1092.6 338.0 1092.9 366.2 1093.2 378.0 1093.5 364.8 1093.8 353.4 1094.0 347.7 1094.3 335.6 1094.6 371.0 1094.9 372.5 1095.2 381.8 1095.5 382.5 1095.7 361.7 1096.0 376.6 1096.3 357.7 1096.6 342.3 1096.9 368.6 1097.2 389.2 1097.4 380.7 1097.7 382.7 1098.0 357.1 1098.3 327.1 1098.6 344.0 1098.8 353.9 1099.1 335.6 1099.4 361.8 1099.7 340.0 1100.0 336.8 1100.3 354.3 1100.5 356.1 1100.8 352.4 1101.1 328.2 1101.4 339.3 1101.7 351.2 1102.0 329.7 1102.2 324.3 1102.5 307.1 1102.8 321.9 1103.1 339.0 1103.4 330.1 1103.7 331.6 1103.9 334.1 1104.2 353.1 1104.5 345.6 1104.8 341.3 1105.1 364.9 1105.4 367.7 1105.6 328.6 1105.9 365.8 1106.2 360.9 1106.5 337.4 1106.8 348.9 1107.0 354.6 1107.3 357.4 1107.6 354.1 1107.9 353.9 1108.2 359.8 1108.5 412.2 1108.7 331.6 1109.0 331.0 1109.3 324.4 1109.6 328.1 1109.9 349.8 1110.2 344.0 1110.4 365.5 1110.7 396.0 1111.0 349.1 1111.3 386.8 1111.6 364.8 1111.9 337.6 1112.1 376.3 1112.4 345.9 1112.7 315.5 1113.0 336.6 1113.3 383.7 1113.6 376.2 1113.8 390.1 1114.1 408.9 1114.4 347.9 1114.7 357.1 1115.0 346.2 1115.2 348.7 1115.5 348.4 1115.8 363.7 1116.1 390.7 1116.4 355.3 1116.7 363.9 1116.9 335.3 1117.2 374.7 1117.5 360.1 1117.8 323.9 1118.1 382.7 1118.4 367.8 1118.6 337.9 1118.9 329.4 1119.2 375.4 1119.5 355.1 1119.8 346.6 1120.1 344.1 1120.3 349.9 1120.6 341.7 1120.9 370.8 1121.2 394.8 1121.5 376.8 1121.8 366.9 1122.0 376.2 1122.3 353.3 1122.6 343.0 1122.9 378.5 1123.2 332.8 1123.5 375.1 1123.7 353.8 1124.0 359.9 1124.3 368.1 1124.6 338.6 1124.9 354.8 1125.1 357.1 1125.4 321.9 1125.7 338.6 1126.0 368.4 1126.3 377.7 1126.6 342.8 1126.8 358.1 1127.1 370.6 1127.4 347.2 1127.7 379.5 1128.0 371.1 1128.3 384.6 1128.5 387.0 1128.8 349.7 1129.1 314.5 1129.4 362.6 1129.7 378.7 1130.0 395.7 1130.2 376.3 1130.5 361.8 1130.8 357.6 1131.1 368.8 1131.4 360.5 1131.7 363.9 1131.9 351.4 1132.2 354.4 1132.5 356.8 1132.8 371.8 1133.1 372.5 1133.3 362.0 1133.6 388.0 1133.9 387.8 1134.2 364.8 1134.5 366.0 1134.8 356.4 1135.0 394.1 1135.3 359.8 1135.6 373.4 1135.9 353.7 1136.2 384.2 1136.5 363.9 1136.7 376.5 1137.0 345.3 1137.3 379.8 1137.6 333.3 1137.9 361.4 1138.2 369.6 1138.4 351.8 1138.7 331.7 1139.0 360.2 1139.3 362.6 1139.6 373.6 1139.9 372.7 1140.1 327.9 1140.4 342.5 1140.7 324.4 1141.0 369.0 1141.3 365.6 1141.6 357.2 1141.8 373.8 1142.1 391.4 1142.4 334.8 1142.7 346.8 1143.0 364.9 1143.2 356.3 1143.5 369.3 1143.8 363.1 1144.1 357.3 1144.4 380.5 1144.7 395.0 1144.9 393.1 1145.2 380.8 1145.5 375.6 1145.8 358.5 1146.1 388.7 1146.4 385.2 1146.6 362.2 1146.9 346.5 1147.2 347.2 1147.5 363.6 1147.8 356.9 1148.1 387.3 1148.3 396.5 1148.6 388.9 1148.9 365.0 1149.2 352.2 1149.5 383.7 1149.8 381.6 1150.0 377.9 1150.3 351.3 1150.6 373.2 1150.9 372.9 1151.2 382.4 1151.4 366.3 1151.7 346.8 1152.0 379.5 1152.3 403.1 1152.6 370.1 1152.9 372.2 1153.1 341.5 1153.4 383.0 1153.7 387.5 1154.0 369.1 1154.3 392.5 1154.6 356.0 1154.8 347.6 1155.1 354.0 1155.4 353.0 1155.7 361.8 1156.0 370.8 1156.3 352.5 1156.5 375.9 1156.8 362.8 1157.1 364.0 1157.4 342.9 1157.7 373.9 1158.0 387.8 1158.2 409.9 1158.5 373.6 1158.8 343.5 1159.1 389.1 1159.4 351.1 1159.6 361.6 1159.9 394.3 1160.2 377.3 1160.5 344.4 1160.8 355.1 1161.1 349.5 1161.3 339.0 1161.6 358.9 1161.9 351.0 1162.2 371.1 1162.5 364.9 1162.8 343.4 1163.0 353.4 1163.3 363.7 1163.6 391.8 1163.9 363.3 1164.2 355.8 1164.5 329.2 1164.7 370.9 1165.0 372.3 1165.3 360.7 1165.6 351.6 1165.9 360.4 1166.2 366.2 1166.4 363.5 1166.7 367.0 1167.0 387.7 1167.3 375.0 1167.6 349.6 1167.9 378.8 1168.1 351.7 1168.4 353.7 1168.7 352.8 1169.0 361.8 1169.3 343.6 1169.5 374.9 1169.8 343.6 1170.1 363.0 1170.4 361.3 1170.7 376.3 1171.0 390.7 1171.2 387.8 1171.5 382.8 1171.8 375.6 1172.1 381.5 1172.4 344.9 1172.7 333.2 1172.9 330.6 1173.2 362.0 1173.5 309.5 1173.8 361.5 1174.1 341.7 1174.4 353.3 1174.6 345.5 1174.9 351.8 1175.2 352.4 1175.5 357.9 1175.8 346.6 1176.1 370.5 1176.3 372.1 1176.6 343.3 1176.9 334.6 1177.2 333.0 1177.5 334.5 1177.7 355.0 1178.0 348.1 1178.3 331.9 1178.6 322.8 1178.9 395.0 1179.2 345.9 1179.4 355.8 1179.7 356.7 1180.0 364.5 1180.3 361.1 1180.6 371.4 1180.9 366.1 1181.1 398.0 1181.4 367.6 1181.7 377.0 1182.0 338.3 1182.3 342.4 1182.6 364.9 1182.8 354.6 1183.1 368.1 1183.4 373.5 1183.7 361.0 1184.0 337.1 1184.3 324.2 1184.5 350.9 1184.8 344.3 1185.1 350.5 1185.4 343.9 1185.7 336.2 1185.9 365.7 1186.2 356.8 1186.5 330.7 1186.8 368.9 1187.1 361.9 1187.4 325.4 1187.6 385.9 1187.9 372.9 1188.2 374.2 1188.5 382.4 1188.8 351.7 1189.1 352.7 1189.3 424.5 1189.6 336.6 1189.9 289.4 1190.2 366.2 1190.5 366.3 1190.8 359.6 1191.0 376.9 1191.3 355.7 1191.6 391.3 1191.9 367.6 1192.2 377.0 1192.5 370.7 1192.7 353.9 1193.0 352.0 1193.3 363.1 1193.6 355.1 1193.9 381.7 1194.2 366.7 1194.4 338.3 1194.7 375.9 1195.0 379.1 1195.3 382.5 1195.6 365.9 1195.8 380.6 1196.1 393.8 1196.4 387.5 1196.7 345.6 1197.0 393.7 1197.3 330.0 1197.5 363.9 1197.8 343.6 1198.1 366.1 1198.4 356.2 1198.7 405.8 1199.0 429.8 1199.2 397.9 1199.5 422.0 1199.8 405.7 1200.1 367.6 1200.4 409.7 1200.7 350.1 1200.9 355.8 1201.2 338.3 1201.5 399.6 1201.8 359.4 1202.1 380.9 1202.4 374.8 1202.6 378.2 1202.9 357.4 1203.2 325.9 1203.5 338.6 1203.8 373.6 1204.0 291.3 1204.3 335.9 1204.6 371.9 1204.9 355.5 1205.2 333.4 1205.5 382.7 1205.7 364.5 1206.0 389.1 1206.3 397.3 1206.6 363.6 1206.9 386.7 1207.2 357.5 1207.4 351.7 1207.7 350.8 1208.0 381.0 1208.3 310.6 1208.6 333.0 1208.9 362.5 1209.1 383.1 1209.4 396.9 1209.7 373.4 1210.0 357.1 1210.3 339.6 1210.6 368.3 1210.8 382.8 1211.1 390.2 1211.4 383.5 1211.7 357.8 1212.0 382.5 1212.2 394.3 1212.5 436.2 1212.8 436.9 1213.1 395.5 1213.4 385.0 1213.7 362.3 1213.9 389.2 1214.2 414.3 1214.5 427.2 1214.8 399.1 1215.1 420.1 1215.4 382.1 1215.6 389.0 1215.9 370.8 1216.2 432.6 1216.5 440.9 1216.8 417.8 1217.1 391.2 1217.3 407.6 1217.6 375.7 1217.9 354.9 1218.2 311.0 1218.5 383.9 1218.8 387.5 1219.0 406.6 1219.3 395.6 1219.6 403.5 1219.9 373.7 1220.2 426.0 1220.5 405.2 1220.7 428.6 1221.0 431.2 1221.3 400.5 1221.6 383.6 1221.9 442.7 1222.1 376.6 1222.4 393.0 1222.7 397.7 1223.0 404.0 1223.3 379.0 1223.6 375.6 1223.8 421.4 1224.1 406.9 1224.4 402.5 1224.7 414.8 1225.0 419.0 1225.3 400.4 1225.5 422.9 1225.8 411.1 1226.1 421.1 1226.4 420.6 1226.7 404.6 1227.0 426.1 1227.2 394.7 1227.5 409.4 1227.8 385.1 1228.1 437.1 1228.4 398.4 1228.7 372.5 1228.9 411.9 1229.2 429.1 1229.5 429.8 1229.8 413.3 1230.1 460.2 1230.3 400.3 1230.6 407.4 1230.9 418.7 1231.2 418.6 1231.5 406.4 1231.8 398.7 1232.0 424.1 1232.3 423.3 1232.6 420.2 1232.9 396.8 1233.2 383.7 1233.5 399.8 1233.7 381.4 1234.0 394.9 1234.3 374.1 1234.6 429.2 1234.9 406.3 1235.2 425.8 1235.4 408.8 1235.7 383.1 1236.0 404.4 1236.3 404.9 1236.6 400.7 1236.9 407.6 1237.1 382.5 1237.4 390.5 1237.7 421.7 1238.0 415.8 1238.3 415.0 1238.6 403.7 1238.8 363.5 1239.1 409.2 1239.4 380.9 1239.7 372.2 1240.0 365.5 1240.2 398.9 1240.5 389.2 1240.8 443.4 1241.1 403.6 1241.4 355.9 1241.7 343.3 1241.9 422.6 1242.2 410.1 1242.5 395.6 1242.8 428.7 1243.1 421.7 1243.4 404.7 1243.6 403.1 1243.9 401.5 1244.2 395.7 1244.5 363.5 1244.8 415.7 1245.1 405.6 1245.3 422.7 1245.6 397.0 1245.9 394.7 1246.2 374.4 1246.5 394.2 1246.8 375.1 1247.0 421.6 1247.3 406.1 1247.6 382.5 1247.9 389.7 1248.2 381.7 1248.4 412.9 1248.7 380.9 1249.0 394.2 1249.3 390.2 1249.6 422.6 1249.9 413.9 1250.1 406.7 1250.4 377.8 1250.7 428.6 1251.0 394.5 1251.3 401.5 1251.6 384.8 1251.8 390.0 1252.1 399.1 1252.4 366.0 1252.7 403.5 1253.0 373.8 1253.3 398.9 1253.5 411.2 1253.8 413.0 1254.1 385.9 1254.4 421.6 1254.7 355.5 1255.0 375.9 1255.2 344.4 1255.5 364.2 1255.8 344.0 1256.1 395.9 1256.4 371.6 1256.6 382.8 1256.9 392.5 1257.2 353.9 1257.5 354.2 1257.8 370.4 1258.1 370.0 1258.3 375.4 1258.6 370.6 1258.9 375.3 1259.2 356.2 1259.5 375.0 1259.8 382.3 1260.0 349.5 1260.3 373.9 1260.6 395.1 1260.9 401.6 1261.2 347.6 1261.5 370.5 1261.7 331.1 1262.0 377.8 1262.3 383.6 1262.6 342.0 1262.9 380.5 1263.2 379.4 1263.4 376.2 1263.7 399.4 1264.0 367.9 1264.3 392.3 1264.6 349.2 1264.9 384.1 1265.1 329.9 1265.4 367.2 1265.7 350.9 1266.0 381.0 1266.3 366.9 1266.5 391.6 1266.8 388.6 1267.1 391.8 1267.4 370.4 1267.7 389.9 1268.0 404.4 1268.2 400.7 1268.5 386.3 1268.8 381.6 1269.1 383.1 1269.4 401.8 1269.7 401.9 1269.9 428.8 1270.2 411.7 1270.5 398.1 1270.8 418.8 1271.1 371.0 1271.4 392.3 1271.6 371.4 1271.9 358.8 1272.2 377.8 1272.5 388.5 1272.8 372.0 1273.1 393.1 1273.3 360.6 1273.6 337.6 1273.9 359.1 1274.2 357.9 1274.5 339.5 1274.7 337.9 1275.0 341.6 1275.3 364.2 1275.6 384.7 1275.9 398.9 1276.2 368.8 1276.4 412.3 1276.7 384.0 1277.0 349.1 1277.3 379.2 1277.6 352.6 1277.9 381.8 1278.1 372.2 1278.4 365.5 1278.7 382.5 1279.0 384.2 1279.3 382.4 1279.6 366.9 1279.8 376.2 1280.1 391.3 1280.4 382.9 1280.7 413.7 1281.0 413.0 1281.3 376.3 1281.5 334.8 1281.8 374.5 1282.1 369.2 1282.4 373.3 1282.7 371.9 1283.0 384.3 1283.2 366.7 1283.5 371.6 1283.8 375.3 1284.1 361.6 1284.4 398.3 1284.6 372.3 1284.9 387.8 1285.2 398.6 1285.5 392.0 1285.8 386.2 1286.1 361.6 1286.3 369.6 1286.6 345.9 1286.9 357.6 1287.2 343.8 1287.5 377.9 1287.8 365.4 1288.0 353.9 1288.3 370.7 1288.6 381.2 1288.9 376.1 1289.2 342.4 1289.5 390.3 1289.7 376.6 1290.0 382.9 1290.3 356.1 1290.6 391.0 1290.9 368.9 1291.2 339.1 1291.4 363.6 1291.7 360.7 1292.0 371.0 1292.3 363.2 1292.6 337.2 1292.8 394.4 1293.1 380.5 1293.4 344.3 1293.7 331.5 1294.0 363.1 1294.3 353.8 1294.5 363.7 1294.8 361.3 1295.1 392.1 1295.4 392.5 1295.7 385.4 1296.0 393.5 1296.2 400.6 1296.5 398.5 1296.8 359.1 1297.1 366.9 1297.4 328.8 1297.7 372.9 1297.9 367.5 1298.2 348.9 1298.5 365.6 1298.8 381.6 1299.1 379.4 1299.4 376.2 1299.6 390.9 1299.9 344.2 1300.2 372.6 1300.5 363.1 1300.8 363.3 1301.0 370.0 1301.3 386.2 1301.6 363.1 1301.9 364.3 1302.2 388.2 1302.5 396.4 1302.7 419.6 1303.0 389.8 1303.3 365.0 1303.6 363.0 1303.9 352.0 1304.2 446.4 1304.4 351.7 1304.7 376.5 1305.0 360.9 1305.3 372.7 1305.6 392.8 1305.9 389.2 1306.1 396.3 1306.4 397.4 1306.7 383.9 1307.0 341.3 1307.3 392.3 1307.6 357.8 1307.8 372.9 1308.1 370.8 1308.4 392.9 1308.7 344.9 1309.0 351.1 1309.3 384.3 1309.5 392.8 1309.8 382.5 1310.1 365.5 1310.4 411.1 1310.7 353.6 1310.9 371.3 1311.2 349.1 1311.5 363.2 1311.8 325.3 1312.1 348.1 1312.4 328.7 1312.6 394.6 1312.9 384.8 1313.2 342.4 1313.5 344.8 1313.8 347.2 1314.1 350.0 1314.3 374.4 1314.6 382.4 1314.9 395.2 1315.2 383.5 1315.5 312.5 1315.8 327.9 1316.0 349.4 1316.3 331.7 1316.6 359.0 1316.9 357.4 1317.2 344.5 1317.5 393.6 1317.7 345.5 1318.0 339.7 1318.3 289.4 1318.6 348.3 1318.9 402.8 1319.1 378.4 1319.4 360.8 1319.7 347.0 1320.0 367.8 1320.3 330.1 1320.6 308.3 1320.8 322.5 1321.1 355.3 1321.4 353.2 1321.7 363.1 1322.0 303.2 1322.3 353.4 1322.5 342.0 1322.8 380.4 1323.1 397.3 1323.4 350.7 1323.7 337.4 1324.0 343.1 1324.2 348.8 1324.5 378.1 1324.8 350.7 1325.1 370.8 1325.4 328.6 1325.7 318.2 1325.9 377.7 1326.2 365.6 1326.5 388.8 1326.8 395.7 1327.1 394.1 1327.3 427.6 1327.6 413.4 1327.9 378.8 1328.2 402.4 1328.5 371.4 1328.8 383.6 1329.0 385.2 1329.3 431.9 1329.6 367.0 1329.9 392.9 1330.2 355.8 1330.5 362.3 1330.7 451.3 1331.0 358.3 1331.3 306.8 1331.6 308.0 1331.9 336.1 1332.2 384.6 1332.4 323.8 1332.7 353.5 1333.0 331.6 1333.3 339.3 1333.6 322.4 1333.9 318.2 1334.1 355.3 1334.4 390.1 1334.7 363.8 1335.0 358.9 1335.3 412.4 1335.6 361.8 1335.8 409.5 1336.1 346.4 1336.4 330.8 1336.7 338.6 1337.0 368.7 1337.2 351.3 1337.5 339.2 1337.8 334.8 1338.1 346.0 1338.4 353.5 1338.7 277.1 1338.9 370.5 1339.2 348.6 1339.5 350.0 1339.8 383.6 1340.1 332.7 1340.4 343.5 1340.6 326.3 1340.9 337.5 1341.2 381.3 1341.5 370.9 1341.8 347.4 1342.1 367.4 1342.3 350.9 1342.6 373.5 1342.9 368.6 1343.2 321.8 1343.5 338.2 1343.8 343.1 1344.0 294.7 1344.3 325.2 1344.6 331.6 1344.9 323.1 1345.2 298.4 1345.4 319.9 1345.7 321.6 1346.0 336.4 1346.3 323.5 1346.6 319.0 1346.9 369.5 1347.1 336.1 1347.4 305.8 1347.7 314.1 1348.0 337.1 1348.3 306.4 1348.6 377.5 1348.8 355.0 1349.1 356.8 1349.4 392.9 1349.7 325.0 1350.0 362.1 1350.3 355.5 1350.5 351.7 1350.8 364.5 1351.1 319.4 1351.4 356.5 1351.7 383.5 1352.0 347.3 1352.2 340.6 1352.5 378.9 1352.8 370.9 1353.1 342.4 1353.4 333.1 1353.7 401.8 1353.9 365.6 1354.2 359.5 1354.5 348.5 1354.8 374.0 1355.1 292.0 1355.3 392.8 1355.6 396.3 1355.9 379.4 1356.2 364.3 1356.5 352.5 1356.8 354.7 1357.0 329.5 1357.3 319.6 1357.6 336.2 1357.9 351.0 1358.2 317.7 1358.5 334.4 1358.7 357.3 1359.0 402.6 1359.3 362.0 1359.6 362.3 1359.9 328.5 1360.2 337.3 1360.4 305.4 1360.7 355.8 1361.0 377.9 1361.3 345.8 1361.6 329.6 1361.9 308.5 1362.1 379.9 1362.4 344.7 1362.7 347.7 1363.0 374.8 1363.3 332.8 1363.5 322.2 1363.8 319.6 1364.1 319.9 1364.4 331.7 1364.7 304.3 1365.0 334.3 1365.2 395.8 1365.5 367.4 1365.8 398.3 1366.1 360.2 1366.4 290.5 1366.7 341.2 1366.9 329.7 1367.2 361.7 1367.5 377.1 1367.8 364.6 1368.1 351.4 1368.4 344.6 1368.6 342.0 1368.9 361.5 1369.2 384.3 1369.5 392.4 1369.8 381.8 1370.1 319.0 1370.3 354.7 1370.6 309.3 1370.9 350.8 1371.2 370.5 1371.5 363.3 1371.7 364.1 1372.0 332.9 1372.3 392.5 1372.6 389.2 1372.9 378.6 1373.2 396.2 1373.4 364.0 1373.7 368.3 1374.0 344.9 1374.3 364.0 1374.6 432.9 1374.9 413.5 1375.1 412.8 1375.4 366.8 1375.7 346.9 1376.0 355.2 1376.3 345.6 1376.6 356.2 1376.8 369.5 1377.1 362.6 1377.4 348.0 1377.7 359.0 1378.0 338.0 1378.3 346.4 1378.5 376.4 1378.8 310.4 1379.1 349.0 1379.4 349.1 1379.7 372.4 1380.0 377.7 1380.2 347.3 1380.5 381.6 1380.8 354.3 1381.1 368.8 1381.4 354.4 1381.6 399.3 1381.9 391.5 1382.2 385.9 1382.5 355.8 1382.8 354.0 1383.1 368.6 1383.3 387.0 1383.6 361.1 1383.9 356.4 1384.2 386.2 1384.5 341.1 1384.8 358.1 1385.0 357.5 1385.3 346.1 1385.6 394.3 1385.9 319.4 1386.2 304.9 1386.5 354.4 1386.7 352.4 1387.0 346.3 1387.3 392.8 1387.6 386.2 1387.9 451.3 1388.2 429.4 1388.4 430.2 1388.7 401.3 1389.0 420.8 1389.3 395.1 1389.6 372.3 1389.8 392.7 1390.1 411.8 1390.4 325.3 1390.7 397.3 1391.0 370.0 1391.3 419.4 1391.5 386.7 1391.8 392.0 1392.1 368.4 1392.4 391.7 1392.7 375.9 1393.0 353.8 1393.2 371.5 1393.5 353.6 1393.8 422.2 1394.1 258.1 1394.4 394.5 1394.7 380.1 1394.9 368.6 1395.2 383.7 1395.5 411.4 1395.8 393.7 1396.1 367.0 1396.4 364.4 1396.6 385.9 1396.9 394.6 1397.2 394.7 1397.5 375.6 1397.8 366.9 1398.0 382.2 1398.3 354.4 1398.6 367.4 1398.9 335.4 1399.2 313.7 1399.5 335.5 1399.7 371.2 1400.0 355.3 1400.3 366.3 1400.6 323.3 1400.9 353.3 1401.2 389.0 1401.4 401.1 1401.7 348.1 1402.0 365.8 1402.3 385.5 1402.6 444.9 1402.9 398.0 1403.1 285.3 1403.4 337.4 1403.7 386.6 1404.0 364.3 1404.3 378.9 1404.6 456.2 1404.8 429.1 1405.1 371.3 1405.4 456.5 1405.7 380.0 1406.0 391.6 1406.3 411.3 1406.5 335.3 1406.8 369.5 1407.1 339.4 1407.4 385.9 1407.7 401.0 1407.9 339.5 1408.2 343.3 1408.5 360.4 1408.8 408.6 1409.1 365.7 1409.4 421.6 1409.6 400.9 1409.9 327.6 1410.2 370.5 1410.5 293.8 1410.8 432.2 1411.1 446.9 1411.3 383.9 1411.6 432.3 1411.9 396.7 1412.2 417.3 1412.5 379.2 1412.8 382.2 1413.0 394.7 1413.3 438.7 1413.6 433.2 1413.9 382.0 1414.2 417.7 1414.5 366.1 1414.7 344.3 1415.0 369.6 1415.3 399.6 1415.6 454.9 1415.9 374.8 1416.1 369.0 1416.4 393.8 1416.7 369.8 1417.0 361.2 1417.3 407.5 1417.6 378.0 1417.8 380.8 1418.1 331.0 1418.4 368.0 1418.7 386.6 1419.0 370.0 1419.3 344.0 1419.5 360.2 1419.8 347.5 1420.1 369.8 1420.4 398.5 1420.7 387.3 1421.0 373.6 1421.2 410.6 1421.5 382.8 1421.8 346.0 1422.1 363.1 1422.4 370.0 1422.7 441.0 1422.9 362.5 1423.2 366.0 1423.5 362.8 1423.8 367.3 1424.1 339.9 1424.4 326.9 1424.6 402.7 1424.9 390.0 1425.2 376.3 1425.5 392.5 1425.8 426.7 1426.0 417.0 1426.3 445.3 1426.6 386.3 1426.9 360.7 1427.2 404.1 1427.5 336.4 1427.7 352.5 1428.0 333.9 1428.3 367.0 1428.6 426.0 1428.9 399.7 1429.2 301.7 1429.4 346.8 1429.7 401.8 1430.0 374.1 1430.3 411.9 1430.6 389.6 1430.9 350.2 1431.1 347.1 1431.4 297.7 1431.7 330.6 1432.0 397.4 1432.3 374.0 1432.6 372.5 1432.8 427.9 1433.1 407.4 1433.4 360.1 1433.7 402.5 1434.0 372.2 1434.2 368.2 1434.5 354.2 1434.8 381.2 1435.1 368.9 1435.4 382.1 1435.7 330.9 1435.9 362.7 1436.2 393.8 1436.5 396.0 1436.8 377.7 1437.1 435.2 1437.4 410.8 1437.6 409.7 1437.9 405.1 1438.2 438.4 1438.5 365.9 1438.8 377.8 1439.1 359.7 1439.3 400.1 1439.6 422.0 1439.9 373.6 1440.2 366.9 1440.5 378.7 1440.8 350.2 1441.0 351.0 1441.3 390.1 1441.6 350.5 1441.9 377.6 1442.2 368.2 1442.4 395.3 1442.7 416.5 1443.0 404.2 1443.3 422.4 1443.6 435.5 1443.9 410.7 1444.1 410.3 1444.4 425.5 1444.7 351.7 1445.0 377.1 1445.3 395.8 1445.6 372.1 1445.8 357.0 1446.1 380.6 1446.4 382.9 1446.7 403.1 1447.0 360.7 1447.3 326.7 1447.5 359.9 1447.8 371.8 1448.1 407.9 1448.4 426.5 1448.7 385.3 1449.0 417.6 1449.2 424.7 1449.5 424.1 1449.8 388.2 1450.1 373.8 1450.4 393.9 1450.7 390.0 1450.9 423.2 1451.2 433.6 1451.5 399.1 1451.8 406.8 1452.1 417.3 1452.3 385.1 1452.6 362.6 1452.9 428.0 1453.2 407.9 1453.5 378.7 1453.8 313.5 1454.0 349.0 1454.3 373.9 1454.6 417.4 1454.9 357.2 1455.2 381.1 1455.5 404.2 1455.7 409.9 1456.0 406.1 1456.3 281.6 1456.6 389.8 1456.9 376.6 1457.2 396.6 1457.4 405.5 1457.7 451.3 1458.0 345.4 1458.3 353.6 1458.6 372.0 1458.9 337.3 1459.1 342.8 1459.4 383.3 1459.7 405.0 1460.0 375.1 1460.3 352.5 1460.5 340.7 1460.8 341.8 1461.1 360.1 1461.4 420.7 1461.7 388.1 1462.0 424.8 1462.2 377.5 1462.5 391.6 1462.8 369.5 1463.1 380.7 1463.4 377.5 1463.7 404.3 1463.9 457.7 1464.2 412.6 1464.5 354.6 1464.8 372.5 1465.1 395.7 1465.4 381.4 1465.6 378.9 1465.9 412.4 1466.2 388.5 1466.5 358.6 1466.8 380.9 1467.1 361.2 1467.3 345.3 1467.6 366.6 1467.9 376.1 1468.2 382.7 1468.5 365.0 1468.7 383.2 1469.0 368.1 1469.3 324.0 1469.6 367.5 1469.9 378.3 1470.2 307.5 1470.4 320.9 1470.7 320.0 1471.0 368.3 1471.3 354.1 1471.6 384.7 1471.9 399.7 1472.1 377.4 1472.4 369.5 1472.7 412.8 1473.0 387.0 1473.3 373.5 1473.6 401.9 1473.8 428.6 1474.1 406.9 1474.4 459.4 1474.7 368.1 1475.0 362.9 1475.3 422.3 1475.5 389.6 1475.8 346.5 1476.1 364.6 1476.4 409.4 1476.7 357.0 1477.0 338.8 1477.2 262.6 1477.5 423.2 1477.8 412.7 1478.1 398.2 1478.4 429.5 1478.6 366.9 1478.9 315.1 1479.2 385.1 1479.5 444.8 1479.8 378.3 1480.1 412.2 1480.3 293.7 1480.6 326.1 1480.9 366.8 1481.2 380.3 1481.5 400.1 1481.8 382.2 1482.0 393.3 1482.3 435.3 1482.6 369.2 1482.9 402.5 1483.2 414.0 1483.5 375.3 1483.7 374.2 1484.0 382.0 1484.3 368.3 1484.6 329.7 1484.9 393.3 1485.2 409.7 1485.4 369.8 1485.7 428.1 1486.0 440.2 1486.3 392.8 1486.6 371.4 1486.8 355.8 1487.1 366.2 1487.4 425.5 1487.7 370.0 1488.0 387.6 1488.3 412.9 1488.5 371.3 1488.8 370.4 1489.1 366.4 1489.4 404.6 1489.7 326.1 1490.0 282.3 1490.2 367.1 1490.5 418.0 1490.8 447.8 1491.1 390.0 1491.4 343.7 1491.7 405.5 1491.9 342.3 1492.2 428.5 1492.5 466.2 1492.8 433.2 1493.1 426.1 1493.4 406.7 1493.6 471.4 1493.9 416.5 1494.2 365.2 1494.5 411.0 1494.8 352.2 1495.0 403.3 1495.3 386.0 1495.6 379.4 1495.9 402.1 1496.2 356.3 1496.5 357.7 1496.7 323.1 1497.0 379.9 1497.3 412.5 1497.6 387.9 1497.9 375.4 1498.2 406.1 1498.4 404.1 1498.7 452.4 1499.0 421.8 1499.3 364.1 1499.6 292.5 1499.9 351.4 1500.1 336.9 1500.4 327.8 1500.7 367.2 1501.0 458.4 1501.3 416.7 1501.6 394.6 1501.8 395.3 1502.1 399.4 1502.4 416.4 1502.7 422.6 1503.0 366.4 1503.3 289.0 1503.5 356.2 1503.8 340.8 1504.1 395.4 1504.4 397.6 1504.7 414.8 1504.9 373.9 1505.2 441.4 1505.5 372.7 1505.8 358.5 1506.1 386.4 1506.4 447.7 1506.6 397.5 1506.9 428.3 1507.2 456.0 1507.5 408.7 1507.8 390.6 1508.1 344.3 1508.3 377.6 1508.6 364.3 1508.9 367.3 1509.2 482.4 1509.5 403.7 1509.8 408.6 1510.0 401.5 1510.3 364.3 1510.6 355.9 1510.9 386.4 1511.2 397.8 1511.5 362.1 1511.7 318.9 1512.0 272.2 1512.3 330.1 1512.6 407.5 1512.9 415.7 1513.1 400.4 1513.4 407.6 1513.7 364.2 1514.0 228.4 1514.3 434.1 1514.6 363.9 1514.8 435.5 1515.1 385.5 1515.4 399.8 1515.7 334.8 1516.0 357.2 1516.3 350.9 1516.5 455.4 1516.8 371.2 1517.1 342.2 1517.4 453.4 1517.7 267.0 1518.0 330.4 1518.2 330.6 1518.5 387.4 1518.8 345.5 1519.1 356.7 1519.4 323.8 1519.7 422.5 1519.9 302.9 1520.2 401.6 1520.5 361.8 1520.8 391.3 1521.1 356.7 1521.4 429.9 1521.6 382.8 1521.9 421.6 1522.2 372.5 1522.5 359.1 1522.8 378.9 1523.0 392.1 1523.3 319.6 1523.6 374.8 1523.9 362.5 1524.2 300.5 1524.5 348.7 1524.7 341.3 1525.0 312.5 1525.3 348.6 1525.6 278.2 1525.9 388.7 1526.2 350.8 1526.4 336.6 1526.7 352.3 1527.0 389.7 1527.3 457.8 1527.6 495.4 1527.9 306.8 1528.1 323.4 1528.4 251.1 1528.7 334.9 1529.0 306.6 1529.3 394.8 1529.6 276.9 1529.8 362.4 1530.1 385.1 1530.4 479.0 1530.7 453.6 1531.0 383.8 1531.2 401.5 1531.5 413.6 1531.8 411.0 1532.1 323.9 1532.4 387.7 1532.7 388.3 1532.9 415.6 1533.2 541.7 1533.5 398.4 1533.8 430.4 1534.1 425.8 1534.4 375.9 1534.6 387.8 1534.9 380.2 1535.2 409.0 1535.5 479.7 1535.8 452.8 1536.1 337.9 1536.3 422.4 1536.6 358.3 1536.9 401.2 1537.2 473.0 1537.5 433.3 1537.8 365.6 1538.0 347.7 1538.3 293.5 1538.6 397.5 1538.9 391.1 1539.2 352.2 1539.4 416.0 1539.7 367.4 1540.0 438.3 1540.3 376.9 1540.6 438.3 1540.9 412.4 1541.1 352.8 1541.4 371.2 1541.7 360.1 1542.0 359.5 1542.3 377.7 1542.6 430.0 1542.8 413.7 1543.1 229.3 1543.4 376.5 1543.7 310.5 1544.0 382.8 1544.3 407.9 1544.5 290.7 1544.8 331.1 1545.1 294.4 1545.4 316.0 1545.7 397.5 1546.0 429.7 1546.2 270.2 1546.5 353.2 1546.8 237.7 1547.1 322.6 1547.4 280.5 1547.7 299.3 1547.9 541.7 1548.2 434.4 1548.5 284.1 1548.8 410.7 1549.1 457.5 1549.3 362.3 1549.6 343.2 1549.9 263.5 1550.2 315.2 1550.5 274.7 1550.8 352.2 1551.0 416.9 1551.3 385.0 1551.6 339.3 1551.9 392.4 1552.2 434.0 1552.5 411.1 1552.7 346.5 1553.0 315.6 1553.3 313.7 1553.6 353.9 1553.9 432.0 1554.2 338.4 1554.4 310.9 1554.7 460.8 1555.0 404.2 1555.3 402.4 1555.6 376.2 1555.9 397.7 1556.1 409.4 1556.4 449.5 1556.7 444.0 1557.0 394.5 1557.3 349.2 1557.5 523.5 1557.8 437.0 1558.1 476.1 1558.4 464.0 1558.7 356.7 1559.0 348.3 1559.2 348.7 1559.5 323.3 1559.8 335.6 1560.1 399.2 1560.4 448.2 1560.7 447.5 1560.9 466.6 1561.2 429.3 1561.5 347.3 1561.8 405.8 1562.1 369.9 1562.4 274.8 1562.6 363.3 1562.9 341.1 1563.2 337.8 1563.5 376.8 1563.8 460.2 1564.1 321.1 1564.3 235.8 1564.6 374.9 1564.9 369.4 1565.2 340.8 1565.5 386.4 1565.8 386.6 1566.0 400.2 1566.3 367.7 1566.6 374.2 1566.9 380.1 1567.2 407.6 1567.4 390.5 1567.7 337.0 1568.0 429.4 1568.3 373.1 1568.6 363.1 1568.9 323.9 1569.1 412.5 1569.4 447.7 1569.7 412.5 1570.0 414.5 1570.3 484.9 1570.6 297.5 1570.8 347.7 1571.1 349.5 1571.4 390.5 1571.7 337.4 1572.0 360.4 1572.3 328.1 1572.5 373.1 1572.8 339.4 1573.1 437.2 1573.4 434.7 1573.7 384.6 1574.0 383.7 1574.2 306.3 1574.5 329.0 1574.8 409.7 1575.1 379.4 1575.4 306.2 1575.6 387.0 1575.9 356.5 1576.2 459.3 1576.5 422.5 1576.8 382.4 1577.1 364.5 1577.3 349.6 1577.6 336.9 1577.9 306.0 1578.2 414.8 1578.5 340.4 1578.8 320.5 1579.0 358.5 1579.3 325.3 1579.6 375.6 1579.9 365.8 1580.2 380.4 1580.5 324.2 1580.7 378.4 1581.0 346.7 1581.3 348.5 1581.6 291.7 1581.9 337.8 1582.2 379.4 1582.4 355.5 1582.7 429.0 1583.0 407.8 1583.3 444.6 1583.6 187.8 1583.8 361.9 1584.1 453.9 1584.4 405.7 1584.7 353.9 1585.0 396.9 1585.3 434.2 1585.5 378.8 1585.8 318.3 1586.1 405.2 1586.4 274.4 1586.7 354.7 1587.0 361.9 1587.2 453.4 1587.5 392.5 1587.8 376.6 1588.1 323.5 1588.4 350.9 1588.7 330.4 1588.9 368.5 1589.2 349.4 1589.5 350.7 1589.8 375.5 1590.1 334.3 1590.4 372.3 1590.6 389.3 1590.9 392.4 1591.2 350.0 1591.5 326.5 1591.8 345.2 1592.1 327.4 1592.3 289.5 1592.6 204.6 1592.9 379.6 1593.2 352.3 1593.5 412.1 1593.7 336.7 1594.0 381.6 1594.3 418.0 1594.6 408.1 1594.9 316.8 1595.2 433.3 1595.4 333.7 1595.7 411.8 1596.0 310.8 1596.3 310.4 1596.6 329.1 1596.9 291.7 1597.1 381.3 1597.4 326.7 1597.7 351.8 1598.0 340.3 1598.3 386.8 1598.6 295.9 1598.8 321.2 1599.1 238.0 1599.4 303.0 1599.7 379.8 1600.0 369.9 1600.3 365.1 1600.5 405.2 1600.8 291.7 1601.1 392.0 1601.4 384.0 1601.7 372.1 1601.9 317.6 1602.2 311.6 1602.5 303.1 1602.8 311.4 1603.1 353.2 1603.4 571.5 1603.6 390.7 1603.9 317.9 1604.2 381.8 1604.5 463.7 1604.8 406.6 1605.1 425.2 1605.3 437.3 1605.6 391.5 1605.9 338.5 1606.2 422.9 1606.5 388.0 1606.8 384.9 1607.0 415.3 1607.3 393.2 1607.6 460.0 1607.9 409.7 1608.2 430.0 1608.5 419.3 1608.7 435.1 1609.0 242.0 1609.3 304.0 1609.6 433.4 1609.9 422.0 1610.1 401.9 1610.4 356.7 1610.7 354.3 1611.0 400.7 1611.3 410.4 1611.6 382.8 1611.8 339.4 1612.1 376.5 1612.4 402.8 1612.7 379.8 1613.0 384.9 1613.3 322.8 1613.5 349.9 1613.8 346.0 1614.1 438.2 1614.4 375.4 1614.7 314.7 1615.0 297.6 1615.2 301.0 1615.5 356.5 1615.8 345.9 1616.1 407.6 1616.4 349.0 1616.7 359.4 1616.9 437.7 1617.2 389.4 1617.5 351.9 1617.8 318.8 1618.1 361.1 1618.4 311.0 1618.6 416.6 1618.9 364.3 1619.2 399.5 1619.5 428.7 1619.8 452.8 1620.0 494.8 1620.3 564.0 1620.6 451.8 1620.9 488.0 1621.2 401.8 1621.5 461.0 1621.7 415.0 1622.0 455.4 1622.3 451.4 1622.6 380.3 1622.9 361.6 1623.2 406.0 1623.4 321.3 1623.7 304.6 1624.0 334.5 1624.3 342.2 1624.6 363.3 1624.9 558.8 1625.1 419.6 1625.4 403.9 1625.7 323.2 1626.0 340.3 1626.3 362.6 1626.6 404.2 1626.8 310.4 1627.1 276.1 1627.4 383.2 1627.7 374.5 1628.0 426.5 1628.2 389.1 1628.5 336.2 1628.8 302.6 1629.1 349.0 1629.4 341.4 1629.7 281.6 1629.9 330.9 1630.2 303.6 1630.5 360.9 1630.8 387.7 1631.1 416.4 1631.4 435.3 1631.6 450.0 1631.9 450.9 1632.2 552.8 1632.5 341.7 1632.8 472.9 1633.1 392.3 1633.3 470.1 1633.6 291.2 1633.9 412.7 1634.2 398.9 1634.5 299.0 1634.8 351.4 1635.0 325.1 1635.3 360.5 1635.6 354.6 1635.9 412.5 1636.2 295.5 1636.5 358.3 1636.7 439.3 1637.0 357.3 1637.3 388.3 1637.6 392.8 1637.9 348.1 1638.1 279.3 1638.4 369.7 1638.7 344.2 1639.0 324.5 1639.3 396.9 1639.6 355.2 1639.8 448.8 1640.1 397.0 1640.4 372.6 1640.7 334.1 1641.0 348.5 1641.3 424.0 1641.5 505.1 1641.8 246.2 1642.1 467.5 1642.4 434.9 1642.7 467.3 1643.0 340.6 1643.2 400.9 1643.5 416.4 1643.8 507.4 1644.1 370.8 1644.4 414.5 1644.7 264.0 1644.9 359.1 1645.2 510.7 1645.5 389.4 1645.8 405.0 1646.1 255.2 1646.3 388.0 1646.6 347.0 1646.9 337.9 1647.2 386.2 1647.5 410.9 1647.8 435.1 1648.0 421.7 1648.3 437.4 1648.6 417.1 1648.9 379.3 1649.2 387.5 1649.5 355.4 1649.7 356.0 1650.0 292.0 1650.3 346.7 1650.6 369.9 1650.9 338.2 1651.2 426.1 1651.4 348.2 1651.7 382.9 1652.0 322.0 1652.3 341.2 1652.6 298.1 1652.9 339.1 1653.1 286.4 1653.4 334.7 1653.7 377.3 1654.0 328.6 1654.3 390.9 1654.5 270.9 1654.8 329.5 1655.1 308.4 1655.4 282.9 1655.7 453.3 1656.0 132.0 1656.2 389.1 1656.5 382.2 1656.8 373.5 1657.1 393.2 1657.4 277.2 1657.7 316.0 1657.9 377.1 1658.2 411.0 1658.5 398.3 1658.8 636.2 1659.1 414.5 1659.4 421.4 1659.6 440.1 1659.9 395.6 1660.2 339.7 1660.5 437.4 1660.8 361.7 1661.1 307.7 1661.3 341.7 1661.6 350.0 1661.9 384.4 1662.2 318.5 1662.5 308.2 1662.8 326.0 1663.0 346.6 1663.3 340.1 1663.6 311.2 1663.9 389.5 1664.2 326.9 1664.4 389.4 1664.7 441.6 1665.0 391.4 1665.3 340.7 1665.6 363.5 1665.9 356.2 1666.1 440.0 1666.4 304.7 1666.7 332.0 1667.0 335.5 1667.3 424.7 1667.6 330.3 1667.8 560.3 1668.1 356.8 1668.4 350.4 1668.7 434.8 1669.0 326.1 1669.3 341.9 1669.5 354.5 1669.8 306.1 1670.1 387.1 1670.4 337.0 1670.7 185.2 1671.0 400.2 1671.2 315.9 1671.5 221.9 1671.8 368.1 1672.1 339.3 1672.4 381.1 1672.6 381.9 1672.9 352.9 1673.2 313.6 1673.5 362.0 1673.8 344.3 1674.1 290.1 1674.3 361.8 1674.6 340.2 1674.9 390.5 1675.2 288.8 1675.5 307.4 1675.8 317.6 1676.0 323.2 1676.3 503.5 1676.6 372.2 1676.9 448.2 1677.2 395.2 1677.5 514.1 1677.7 346.1 1678.0 397.9 1678.3 416.8 1678.6 405.1 1678.9 444.5 1679.2 365.6 1679.4 356.3 1679.7 421.8 1680.0 400.9 1680.3 461.3 1680.6 360.6 1680.8 356.3 1681.1 350.1 1681.4 280.8 1681.7 370.8 1682.0 388.9 1682.3 322.6 1682.5 374.3 1682.8 285.7 1683.1 370.2 1683.4 380.0 1683.7 350.5 1684.0 402.1 1684.2 369.9 1684.5 390.1 1684.8 259.6 1685.1 266.5 1685.4 280.8 1685.7 354.4 1685.9 352.6 1686.2 343.1 1686.5 404.0 1686.8 380.9 1687.1 278.6 1687.4 331.8 1687.6 358.3 1687.9 472.8 1688.2 423.3 1688.5 394.4 1688.8 393.0 1689.1 359.0 1689.3 409.8 1689.6 410.8 1689.9 267.0 1690.2 342.7 1690.5 413.2 1690.7 309.7 1691.0 371.9 1691.3 397.1 1691.6 497.2 1691.9 372.4 1692.2 438.2 1692.4 386.8 1692.7 343.0 1693.0 404.4 1693.3 280.8 1693.6 344.3 1693.9 391.3 1694.1 484.8 1694.4 333.6 1694.7 371.9 1695.0 337.6 1695.3 397.0 1695.6 347.1 1695.8 355.5 1696.1 234.0 1696.4 382.7 1696.7 447.3 1697.0 369.0 1697.3 368.2 1697.5 336.1 1697.8 379.6 1698.1 390.7 1698.4 346.2 1698.7 325.3 1698.9 368.8 1699.2 421.1 1699.5 367.3 1699.8 359.3 1700.1 347.0 1700.4 351.2 1700.6 352.7 1700.9 461.5 1701.2 312.8 1701.5 323.4 1701.8 368.0 1702.1 411.5 1702.3 220.2 1702.6 451.8 1702.9 359.6 1703.2 329.8 1703.5 371.0 1703.8 369.4 1704.0 343.5 1704.3 397.9 1704.6 431.3 1704.9 414.6 1705.2 375.5 1705.5 407.6 1705.7 337.8 1706.0 355.9 1706.3 316.1 1706.6 342.3 1706.9 365.4 1707.2 388.7 1707.4 375.0 1707.7 357.1 1708.0 402.5 1708.3 385.5 1708.6 424.6 1708.8 359.1 1709.1 402.8 1709.4 460.6 1709.7 429.9 1710.0 387.6 1710.3 397.0 1710.5 452.3 1710.8 286.9 1711.1 341.1 1711.4 372.6 1711.7 394.0 1712.0 386.6 1712.2 392.2 1712.5 351.6 1712.8 365.8 1713.1 379.4 1713.4 356.9 1713.7 386.6 1713.9 442.6 1714.2 408.7 1714.5 344.3 1714.8 421.5 1715.1 338.0 1715.4 444.7 1715.6 332.4 1715.9 396.7 1716.2 446.4 1716.5 397.0 1716.8 393.0 1717.0 407.1 1717.3 412.3 1717.6 417.1 1717.9 486.5 1718.2 376.6 1718.5 383.5 1718.7 361.0 1719.0 360.9 1719.3 407.0 1719.6 410.4 1719.9 335.3 1720.2 391.6 1720.4 364.2 1720.7 380.3 1721.0 353.7 1721.3 391.5 1721.6 325.1 1721.9 406.6 1722.1 340.9 1722.4 460.2 1722.7 372.4 1723.0 385.2 1723.3 340.9 1723.6 344.0 1723.8 264.9 1724.1 285.2 1724.4 245.1 1724.7 358.8 1725.0 426.0 1725.2 445.6 1725.5 374.1 1725.8 339.0 1726.1 363.3 1726.4 393.8 1726.7 337.3 1726.9 402.7 1727.2 395.0 1727.5 340.8 1727.8 504.8 1728.1 330.6 1728.4 377.8 1728.6 394.3 1728.9 387.9 1729.2 434.0 1729.5 376.4 1729.8 434.2 1730.1 369.1 1730.3 362.5 1730.6 352.3 1730.9 403.0 1731.2 353.8 1731.5 394.8 1731.8 475.3 1732.0 389.2 1732.3 398.7 1732.6 411.1 1732.9 355.0 1733.2 386.6 1733.5 338.2 1733.7 286.1 1734.0 313.9 1734.3 343.1 1734.6 231.4 1734.9 310.8 1735.1 339.8 1735.4 394.4 1735.7 444.4 1736.0 383.7 1736.3 342.0 1736.6 406.0 1736.8 374.3 1737.1 347.9 1737.4 388.9 1737.7 420.4 1738.0 375.7 1738.3 371.8 1738.5 392.0 1738.8 371.3 1739.1 418.4 1739.4 463.1 1739.7 445.8 1740.0 406.6 1740.2 380.1 1740.5 397.7 1740.8 326.3 1741.1 351.2 1741.4 370.4 1741.7 351.2 1741.9 343.2 1742.2 374.7 1742.5 416.7 1742.8 377.4 1743.1 366.3 1743.3 382.8 1743.6 395.0 1743.9 393.1 1744.2 231.4 1744.5 429.6 1744.8 295.7 1745.0 352.6 1745.3 311.5 1745.6 374.7 1745.9 428.9 1746.2 356.7 1746.5 356.4 1746.7 312.7 1747.0 322.6 1747.3 323.5 1747.6 334.8 1747.9 377.9 1748.2 360.6 1748.4 392.2 1748.7 337.6 1749.0 319.9 1749.3 400.3 1749.6 380.2 1749.9 385.4 1750.1 357.5 1750.4 314.8 1750.7 291.9 1751.0 341.4 1751.3 399.4 1751.5 343.1 1751.8 364.7 1752.1 387.1 1752.4 382.9 1752.7 412.5 1753.0 366.8 1753.2 408.5 1753.5 351.9 1753.8 291.4 1754.1 368.5 1754.4 401.5 1754.7 329.1 1754.9 354.2 1755.2 330.1 1755.5 352.3 1755.8 364.5 1756.1 315.2 1756.4 346.1 1756.6 314.6 1756.9 311.7 1757.2 360.7 1757.5 402.5 1757.8 415.2 1758.1 355.5 1758.3 371.6 1758.6 342.8 1758.9 334.8 1759.2 311.3 1759.5 350.3 1759.8 353.4 1760.0 383.5 1760.3 318.9 1760.6 349.8 1760.9 376.0 1761.2 440.6 1761.4 392.4 1761.7 363.8 1762.0 353.2 1762.3 395.3 1762.6 355.6 1762.9 413.5 1763.1 426.6 1763.4 421.7 1763.7 334.3 1764.0 367.9 1764.3 378.1 1764.6 332.8 1764.8 330.3 1765.1 314.0 1765.4 313.1 1765.7 361.7 1766.0 336.4 1766.3 344.7 1766.5 358.0 1766.8 347.9 1767.1 350.0 1767.4 393.9 1767.7 373.1 1768.0 374.7 1768.2 363.3 1768.5 449.7 1768.8 428.2 1769.1 446.4 1769.4 400.3 1769.6 331.3 1769.9 436.7 1770.2 404.7 1770.5 441.0 1770.8 408.7 1771.1 379.3 1771.3 343.7 1771.6 399.4 1771.9 355.9 1772.2 366.0 1772.5 349.4 1772.8 380.8 1773.0 411.7 1773.3 423.1 1773.6 409.0 1773.9 444.5 1774.2 455.7 1774.5 436.5 1774.7 461.2 1775.0 418.6 1775.3 352.5 1775.6 437.2 1775.9 409.1 1776.2 440.9 1776.4 386.6 1776.7 382.9 1777.0 375.4 1777.3 395.9 1777.6 334.2 1777.9 397.7 1778.1 508.6 1778.4 377.6 1778.7 367.9 1779.0 375.2 1779.3 347.7 1779.5 442.4 1779.8 366.0 1780.1 366.9 1780.4 299.9 1780.7 376.8 1781.0 346.6 1781.2 319.0 1781.5 422.8 1781.8 284.3 1782.1 314.4 1782.4 325.3 1782.7 425.9 1782.9 424.8 1783.2 387.2 1783.5 441.2 1783.8 422.2 1784.1 364.4 1784.4 351.9 1784.6 354.7 1784.9 395.8 1785.2 423.4 1785.5 436.8 1785.8 369.3 1786.1 244.0 1786.3 356.2 1786.6 526.8 1786.9 345.2 1787.2 426.1 1787.5 426.0 1787.7 472.4 1788.0 358.5 1788.3 377.0 1788.6 320.3 1788.9 343.3 1789.2 411.8 1789.4 422.7 1789.7 402.7 1790.0 395.9 1790.3 430.7 1790.6 409.8 1790.9 367.7 1791.1 345.3 1791.4 316.1 1791.7 316.3 1792.0 349.3 1792.3 338.6 1792.6 331.3 1792.8 335.9 1793.1 387.9 1793.4 421.1 1793.7 345.5 1794.0 371.1 1794.3 357.5 1794.5 416.7 1794.8 441.3 1795.1 407.7 1795.4 415.1 1795.7 418.3 1795.9 353.6 1796.2 393.7 1796.5 420.1 1796.8 442.1 1797.1 385.3 1797.4 383.0 1797.6 409.5 1797.9 380.5 1798.2 392.8 1798.5 371.4 1798.8 418.7 1799.1 281.0 1799.3 363.0 1799.6 309.9 1799.9 375.7 1800.2 358.0 1800.5 268.3 1800.8 378.6 1801.0 373.6 1801.3 419.5 1801.6 341.8 1801.9 369.4 1802.2 322.4 1802.5 347.6 1802.7 392.8 1803.0 265.8 1803.3 322.0 1803.6 325.2 1803.9 345.1 1804.2 405.5 1804.4 325.9 1804.7 342.4 1805.0 397.2 1805.3 387.6 1805.6 412.4 1805.8 387.8 1806.1 356.9 1806.4 377.3 1806.7 352.2 1807.0 366.3 1807.3 348.6 1807.5 363.8 1807.8 365.7 1808.1 370.7 1808.4 387.0 1808.7 384.9 1809.0 346.5 1809.2 381.5 1809.5 327.3 1809.8 321.8 1810.1 379.5 1810.4 314.9 1810.7 294.1 1810.9 371.9 1811.2 323.4 1811.5 353.5 1811.8 298.3 1812.1 349.1 1812.4 379.4 1812.6 405.6 1812.9 309.0 1813.2 346.6 1813.5 325.4 1813.8 385.0 1814.0 347.7 1814.3 379.9 1814.6 377.2 1814.9 370.6 1815.2 378.4 1815.5 366.1 1815.7 324.9 1816.0 369.9 1816.3 314.4 1816.6 304.3 1816.9 290.2 1817.2 341.7 1817.4 279.9 1817.7 386.5 1818.0 288.8 1818.3 328.9 1818.6 343.5 1818.9 333.1 1819.1 392.1 1819.4 342.9 1819.7 334.3 1820.0 339.2 1820.3 345.6 1820.6 308.4 1820.8 354.9 1821.1 384.6 1821.4 369.0 1821.7 326.8 1822.0 334.1 1822.2 358.5 1822.5 371.8 1822.8 402.1 1823.1 365.2 1823.4 369.4 1823.7 367.9 1823.9 314.0 1824.2 348.4 1824.5 296.2 1824.8 336.5 1825.1 336.4 1825.4 317.9 1825.6 369.7 1825.9 358.7 1826.2 328.5 1826.5 355.0 1826.8 375.4 1827.1 357.1 1827.3 365.6 1827.6 372.0 1827.9 342.8 1828.2 392.3 1828.5 417.4 1828.8 419.8 1829.0 376.0 1829.3 345.1 1829.6 323.4 1829.9 356.6 1830.2 335.6 1830.5 345.4 1830.7 394.9 1831.0 378.1 1831.3 360.7 1831.6 371.4 1831.9 374.8 1832.1 335.3 1832.4 328.2 1832.7 348.3 1833.0 431.6 1833.3 379.2 1833.6 380.2 1833.8 366.2 1834.1 381.0 1834.4 369.3 1834.7 342.0 1835.0 337.3 1835.3 355.8 1835.5 361.6 1835.8 359.7 1836.1 317.7 1836.4 386.9 1836.7 382.0 1837.0 389.6 1837.2 390.0 1837.5 387.6 1837.8 405.6 1838.1 377.0 1838.4 344.4 1838.7 341.7 1838.9 359.2 1839.2 288.3 1839.5 368.1 1839.8 317.5 1840.1 389.4 1840.3 325.8 1840.6 411.5 1840.9 361.3 1841.2 379.1 1841.5 377.5 1841.8 408.3 1842.0 376.1 1842.3 370.4 1842.6 390.3 1842.9 408.2 1843.2 344.9 1843.5 402.4 1843.7 402.3 1844.0 401.0 1844.3 294.4 1844.6 395.6 1844.9 416.3 1845.2 397.0 1845.4 377.1 1845.7 370.8 1846.0 386.1 1846.3 420.1 1846.6 375.5 1846.9 378.0 1847.1 317.0 1847.4 352.8 1847.7 359.9 1848.0 404.1 1848.3 383.0 1848.5 381.2 1848.8 378.1 1849.1 407.2 1849.4 388.8 1849.7 387.2 1850.0 206.4 1850.2 383.9 1850.5 402.0 1850.8 437.0 1851.1 370.5 1851.4 409.5 1851.7 425.1 1851.9 439.3 1852.2 421.4 1852.5 385.8 1852.8 396.3 1853.1 393.5 1853.4 355.9 1853.6 382.3 1853.9 370.0 1854.2 398.3 1854.5 413.5 1854.8 433.6 1855.1 393.0 1855.3 345.7 1855.6 395.4 1855.9 371.7 1856.2 344.2 1856.5 314.5 1856.8 343.4 1857.0 415.7 1857.3 408.7 1857.6 354.6 1857.9 352.3 1858.2 381.6 1858.4 362.4 1858.7 370.2 1859.0 377.1 1859.3 291.0 1859.6 383.9 1859.9 414.8 1860.1 394.3 1860.4 389.0 1860.7 349.7 1861.0 377.3 1861.3 398.1 1861.6 370.2 1861.8 405.7 1862.1 386.7 1862.4 372.8 1862.7 401.1 1863.0 409.4 1863.3 410.4 1863.5 425.5 1863.8 382.8 1864.1 397.4 1864.4 372.1 1864.7 394.7 1865.0 383.6 1865.2 412.2 1865.5 346.3 1865.8 344.7 1866.1 311.4 1866.4 354.2 1866.6 374.9 1866.9 393.9 1867.2 362.7 1867.5 339.7 1867.8 337.1 1868.1 393.8 1868.3 405.6 1868.6 407.6 1868.9 369.2 1869.2 347.7 1869.5 361.4 1869.8 365.4 1870.0 374.8 1870.3 372.7 1870.6 422.8 1870.9 359.9 1871.2 377.2 1871.5 387.4 1871.7 395.0 1872.0 420.0 1872.3 348.4 1872.6 361.7 1872.9 369.3 1873.2 377.0 1873.4 383.0 1873.7 356.7 1874.0 349.7 1874.3 404.9 1874.6 421.2 1874.9 372.0 1875.1 405.5 1875.4 330.1 1875.7 410.9 1876.0 351.1 1876.3 365.4 1876.5 375.5 1876.8 403.1 1877.1 378.9 1877.4 305.3 1877.7 362.2 1878.0 408.9 1878.2 359.3 1878.5 371.6 1878.8 350.7 1879.1 371.5 1879.4 327.8 1879.7 351.3 1879.9 428.0 1880.2 427.1 1880.5 376.1 1880.8 343.4 1881.1 350.3 1881.4 343.2 1881.6 314.0 1881.9 316.7 1882.2 391.5 1882.5 279.2 1882.8 392.7 1883.1 365.1 1883.3 405.8 1883.6 368.2 1883.9 376.5 1884.2 344.5 1884.5 375.2 1884.7 387.1 1885.0 370.2 1885.3 352.4 1885.6 333.4 1885.9 377.3 1886.2 393.2 1886.4 419.9 1886.7 418.0 1887.0 426.5 1887.3 390.7 1887.6 373.7 1887.9 397.0 1888.1 312.4 1888.4 348.2 1888.7 359.9 1889.0 339.8 1889.3 343.3 1889.6 482.5 1889.8 337.5 1890.1 381.8 1890.4 430.5 1890.7 367.6 1891.0 413.6 1891.3 406.8 1891.5 446.2 1891.8 381.0 1892.1 363.8 1892.4 385.8 1892.7 378.5 1892.9 437.9 1893.2 369.9 1893.5 389.0 1893.8 388.2 1894.1 361.2 1894.4 332.5 1894.6 392.7 1894.9 371.8 1895.2 342.7 1895.5 409.4 1895.8 392.0 1896.1 442.8 1896.3 404.0 1896.6 336.8 1896.9 367.1 1897.2 396.4 1897.5 382.7 1897.8 350.2 1898.0 390.8 1898.3 394.0 1898.6 353.4 1898.9 410.4 1899.2 368.0 1899.5 396.7 1899.7 413.2 1900.0 350.4 1900.3 327.3 1900.6 388.6 1900.9 315.1 1901.2 353.0 1901.4 355.2 1901.7 377.7 1902.0 405.9 1902.3 327.8 1902.6 342.5 1902.8 342.1 1903.1 369.1 1903.4 389.5 1903.7 293.5 1904.0 365.5 1904.3 381.4 1904.5 360.4 1904.8 398.6 1905.1 351.7 1905.4 286.3 1905.7 324.1 1906.0 296.3 1906.2 375.6 1906.5 358.9 1906.8 322.5 1907.1 404.1 1907.4 431.2 1907.7 376.8 1907.9 389.1 1908.2 359.7 1908.5 359.0 1908.8 469.5 1909.1 410.9 1909.4 417.5 1909.6 368.2 1909.9 433.6 1910.2 419.4 1910.5 383.4 1910.8 361.9 1911.0 238.8 1911.3 381.6 1911.6 314.1 1911.9 367.0 1912.2 350.4 1912.5 373.2 1912.7 412.4 1913.0 365.9 1913.3 344.8 1913.6 315.4 1913.9 310.3 1914.2 297.6 1914.4 328.3 1914.7 327.3 1915.0 362.2 1915.3 403.1 1915.6 367.1 1915.9 374.6 1916.1 347.8 1916.4 353.0 1916.7 346.2 1917.0 375.5 1917.3 284.3 1917.6 365.9 1917.8 407.9 1918.1 367.6 1918.4 309.2 1918.7 371.6 1919.0 326.5 1919.2 342.6 1919.5 332.7 1919.8 373.2 1920.1 357.0 1920.4 347.0 1920.7 344.2 1920.9 393.5 1921.2 342.3 1921.5 363.8 1921.8 407.9 1922.1 398.4 1922.4 356.9 1922.6 393.6 1922.9 398.0 1923.2 349.9 1923.5 384.7 1923.8 366.2 1924.1 394.2 1924.3 362.9 1924.6 400.4 1924.9 401.8 1925.2 354.7 1925.5 342.2 1925.8 376.6 1926.0 339.3 1926.3 351.0 1926.6 355.2 1926.9 384.5 1927.2 299.0 1927.5 304.4 1927.7 402.3 1928.0 312.4 1928.3 363.8 1928.6 378.9 1928.9 375.7 1929.1 363.4 1929.4 392.6 1929.7 403.6 1930.0 395.6 1930.3 389.3 1930.6 367.2 1930.8 434.7 1931.1 432.6 1931.4 382.9 1931.7 401.8 1932.0 274.1 1932.3 377.0 1932.5 358.0 1932.8 389.8 1933.1 379.8 1933.4 385.3 1933.7 368.6 1934.0 401.8 1934.2 436.7 1934.5 404.3 1934.8 400.0 1935.1 403.0 1935.4 361.4 1935.7 368.6 1935.9 343.9 1936.2 390.3 1936.5 386.9 1936.8 363.8 1937.1 330.1 1937.3 400.0 1937.6 383.4 1937.9 409.7 1938.2 422.8 1938.5 392.2 1938.8 382.1 1939.0 365.7 1939.3 387.2 1939.6 371.9 1939.9 419.4 1940.2 373.8 1940.5 425.5 1940.7 392.0 1941.0 354.2 1941.3 385.9 1941.6 356.6 1941.9 366.9 1942.2 289.5 1942.4 394.8 1942.7 387.8 1943.0 384.6 1943.3 311.3 1943.6 414.7 1943.9 383.0 1944.1 344.6 1944.4 425.2 1944.7 346.4 1945.0 354.5 1945.3 315.1 1945.6 317.7 1945.8 335.5 1946.1 334.5 1946.4 405.8 1946.7 403.0 1947.0 378.4 1947.2 381.5 1947.5 397.5 1947.8 375.3 1948.1 365.7 1948.4 331.5 1948.7 384.1 1948.9 391.5 1949.2 356.7 1949.5 362.8 1949.8 357.9 1950.1 330.9 1950.4 367.7 1950.6 306.1 1950.9 324.5 1951.2 360.7 1951.5 460.7 1951.8 435.3 1952.1 392.1 1952.3 421.7 1952.6 395.5 1952.9 384.7 1953.2 341.0 1953.5 348.2 1953.8 351.7 1954.0 336.2 1954.3 343.6 1954.6 381.0 1954.9 435.7 1955.2 425.1 1955.4 356.1 1955.7 418.0 1956.0 371.7 1956.3 395.1 1956.6 367.8 1956.9 403.8 1957.1 452.9 1957.4 352.8 1957.7 397.1 1958.0 397.4 1958.3 363.5 1958.6 400.5 1958.8 378.1 1959.1 380.7 1959.4 374.1 1959.7 373.6 1960.0 381.3 1960.3 301.5 1960.5 332.1 1960.8 397.8 1961.1 419.4 1961.4 399.4 1961.7 410.1 1962.0 363.8 1962.2 347.9 1962.5 390.8 1962.8 467.2 1963.1 421.3 1963.4 388.3 1963.6 406.4 1963.9 407.3 1964.2 356.4 1964.5 399.1 1964.8 353.4 1965.1 372.8 1965.3 351.0 1965.6 378.6 1965.9 387.1 1966.2 389.0 1966.5 432.4 1966.8 431.3 1967.0 390.2 1967.3 424.5 1967.6 429.9 1967.9 419.1 1968.2 400.5 1968.5 429.9 1968.7 414.9 1969.0 393.9 1969.3 395.4 1969.6 441.9 1969.9 269.3 1970.2 394.3 1970.4 371.6 1970.7 379.5 1971.0 416.4 1971.3 387.9 1971.6 473.2 1971.9 399.1 1972.1 349.2 1972.4 386.4 1972.7 405.2 1973.0 405.5 1973.3 394.3 1973.5 431.4 1973.8 374.9 1974.1 392.2 1974.4 357.6 1974.7 425.2 1975.0 395.4 1975.2 394.9 1975.5 381.5 1975.8 386.8 1976.1 340.3 1976.4 327.8 1976.7 391.7 1976.9 365.4 1977.2 375.4 1977.5 383.7 1977.8 379.7 1978.1 451.9 1978.4 458.4 1978.6 420.2 1978.9 400.7 1979.2 396.9 1979.5 347.2 1979.8 373.4 1980.1 342.3 1980.3 422.7 1980.6 433.4 1980.9 346.1 1981.2 391.3 1981.5 427.4 1981.7 375.2 1982.0 396.6 1982.3 456.8 1982.6 427.0 1982.9 469.4 1983.2 395.5 1983.4 449.2 1983.7 453.6 1984.0 377.7 1984.3 350.7 1984.6 373.1 1984.9 417.4 1985.1 372.6 1985.4 400.5 1985.7 413.7 1986.0 421.8 1986.3 435.9 1986.6 402.6 1986.8 367.9 1987.1 433.0 1987.4 401.5 1987.7 376.2 1988.0 349.5 1988.3 366.3 1988.5 387.1 1988.8 318.2 1989.1 378.5 1989.4 383.4 1989.7 408.8 1990.0 415.9 1990.2 359.7 1990.5 388.6 1990.8 358.4 1991.1 459.3 1991.4 331.3 1991.6 378.0 1991.9 349.0 1992.2 375.4 1992.5 351.3 1992.8 395.7 1993.1 390.3 1993.3 395.6 1993.6 439.8 1993.9 375.0 1994.2 363.9 1994.5 362.4 1994.8 343.6 1995.0 362.9 1995.3 366.4 1995.6 419.2 1995.9 417.8 1996.2 377.0 1996.5 349.2 1996.7 407.0 1997.0 387.9 1997.3 441.5 1997.6 401.1 1997.9 399.0 1998.2 355.6 1998.4 330.9 1998.7 393.2 1999.0 369.6 1999.3 442.5 1999.6 379.7 1999.8 336.0 2000.1 421.0 2000.4 407.4 2000.7 475.9 2001.0 383.6 2001.3 320.3 2001.5 385.7 2001.8 345.7 2002.1 318.8 2002.4 435.9 2002.7 428.0 2003.0 443.9 2003.2 414.5 2003.5 383.8 2003.8 350.5 2004.1 375.8 2004.4 381.8 2004.7 378.2 2004.9 356.7 2005.2 385.8 2005.5 386.2 2005.8 437.7 2006.1 376.6 2006.4 382.3 2006.6 303.8 2006.9 362.6 2007.2 345.5 2007.5 395.5 2007.8 402.6 2008.0 371.6 2008.3 340.6 2008.6 365.4 2008.9 332.7 2009.2 317.6 2009.5 357.4 2009.7 320.0 2010.0 409.3 2010.3 379.1 2010.6 372.6 2010.9 388.3 2011.2 445.9 2011.4 391.2 2011.7 343.8 2012.0 358.0 2012.3 362.3 2012.6 381.0 2012.9 301.3 2013.1 296.9 2013.4 369.3 2013.7 316.1 2014.0 365.2 2014.3 330.6 2014.6 335.8 2014.8 341.2 2015.1 311.3 2015.4 289.5 2015.7 321.0 2016.0 336.9 2016.3 326.4 2016.5 329.4 2016.8 313.0 2017.1 346.8 2017.4 345.9 2017.7 302.4 2017.9 379.5 2018.2 375.5 2018.5 398.4 2018.8 323.1 2019.1 353.7 2019.4 374.0 2019.6 360.8 2019.9 300.6 2020.2 308.0 2020.5 358.9 2020.8 363.7 2021.1 399.7 2021.3 318.1 2021.6 364.0 2021.9 362.8 2022.2 397.3 2022.5 421.0 2022.8 358.1 2023.0 382.8 2023.3 346.3 2023.6 378.8 2023.9 392.9 2024.2 374.6 2024.5 357.3 2024.7 376.1 2025.0 322.5 2025.3 362.1 2025.6 331.8 2025.9 374.7 2026.1 406.6 2026.4 484.4 2026.7 361.9 2027.0 340.0 2027.3 332.6 2027.6 373.2 2027.8 371.0 2028.1 282.3 2028.4 309.5 2028.7 315.0 2029.0 318.0 2029.3 351.5 2029.5 351.5 2029.8 301.6 2030.1 350.9 2030.4 364.9 2030.7 319.6 2031.0 388.6 2031.2 438.8 2031.5 377.4 2031.8 367.6 2032.1 344.4 2032.4 322.3 2032.7 406.8 2032.9 368.8 2033.2 371.0 2033.5 353.5 2033.8 398.0 2034.1 368.3 2034.3 369.9 2034.6 385.6 2034.9 426.1 2035.2 406.7 2035.5 444.2 2035.8 458.2 2036.0 436.5 2036.3 370.1 2036.6 418.2 2036.9 387.4 2037.2 362.4 2037.5 391.5 2037.7 395.3 2038.0 371.6 2038.3 341.0 2038.6 373.1 2038.9 389.6 2039.2 373.7 2039.4 400.1 2039.7 398.2 2040.0 363.3 2040.3 402.3 2040.6 379.0 2040.9 338.0 2041.1 357.5 2041.4 334.9 2041.7 393.2 2042.0 397.0 2042.3 382.4 2042.6 379.3 2042.8 416.0 2043.1 373.7 2043.4 386.9 2043.7 374.5 2044.0 363.5 2044.2 368.7 2044.5 387.6 2044.8 375.7 2045.1 397.8 2045.4 339.9 2045.7 382.7 2045.9 373.2 2046.2 376.7 2046.5 363.1 2046.8 359.6 2047.1 366.4 2047.4 395.4 2047.6 349.7 2047.9 366.0 2048.2 396.0 2048.5 405.6 2048.8 375.7 2049.1 390.0 2049.3 406.2 2049.6 384.5 2049.9 351.1 2050.2 344.5 2050.5 399.6 2050.8 393.2 2051.0 357.9 2051.3 340.8 2051.6 362.4 2051.9 344.9 2052.2 351.4 2052.4 377.9 2052.7 348.0 2053.0 330.8 2053.3 333.3 2053.6 367.3 2053.9 345.4 2054.1 369.3 2054.4 384.7 2054.7 410.5 2055.0 360.1 2055.3 386.3 2055.6 333.5 2055.8 382.0 2056.1 376.0 2056.4 401.3 2056.7 353.8 2057.0 336.8 2057.3 348.3 2057.5 305.2 2057.8 387.4 2058.1 356.6 2058.4 365.2 2058.7 344.1 2059.0 361.8 2059.2 367.2 2059.5 429.4 2059.8 389.3 2060.1 339.2 2060.4 446.1 2060.7 417.5 2060.9 425.7 2061.2 443.2 2061.5 358.5 2061.8 370.8 2062.1 333.9 2062.3 419.5 2062.6 359.4 2062.9 330.4 2063.2 408.9 2063.5 344.0 2063.8 329.9 2064.0 347.8 2064.3 326.8 2064.6 331.4 2064.9 355.3 2065.2 361.0 2065.5 346.3 2065.7 306.8 2066.0 331.5 2066.3 320.5 2066.6 359.9 2066.9 328.7 2067.2 317.3 2067.4 314.3 2067.7 320.1 2068.0 377.5 2068.3 403.2 2068.6 378.3 2068.9 377.9 2069.1 354.0 2069.4 294.3 2069.7 356.4 2070.0 334.7 2070.3 340.8 2070.5 325.9 2070.8 367.3 2071.1 313.8 2071.4 314.3 2071.7 365.6 2072.0 345.9 2072.2 381.7 2072.5 394.3 2072.8 321.6 2073.1 337.7 2073.4 361.4 2073.7 341.3 2073.9 377.0 2074.2 388.9 2074.5 351.7 2074.8 377.0 2075.1 327.4 2075.4 364.5 2075.6 384.6 2075.9 392.4 2076.2 384.1 2076.5 389.9 2076.8 366.0 2077.1 400.0 2077.3 389.1 2077.6 378.8 2077.9 377.2 2078.2 382.8 2078.5 394.5 2078.7 338.5 2079.0 280.6 2079.3 455.7 2079.6 338.7 2079.9 350.1 2080.2 369.1 2080.4 348.4 2080.7 424.7 2081.0 374.3 2081.3 331.1 2081.6 413.9 2081.9 384.0 2082.1 348.9 2082.4 320.0 2082.7 333.8 2083.0 360.3 2083.3 342.9 2083.6 377.4 2083.8 295.5 2084.1 276.6 2084.4 325.2 2084.7 172.2 2085.0 360.5 2085.3 350.2 2085.5 330.3 2085.8 311.3 2086.1 372.7 2086.4 355.7 2086.7 348.7 2087.0 523.1 2087.2 314.8 2087.5 358.2 2087.8 360.4 2088.1 364.5 2088.4 354.1 2088.6 339.3 2088.9 407.8 2089.2 389.3 2089.5 412.0 2089.8 354.6 2090.1 344.4 2090.3 378.7 2090.6 391.7 2090.9 396.8 2091.2 351.4 2091.5 371.8 2091.8 374.7 2092.0 361.7 2092.3 406.3 2092.6 388.8 2092.9 350.1 2093.2 266.7 2093.5 367.8 2093.7 373.7 2094.0 321.6 2094.3 398.5 2094.6 343.7 2094.9 356.5 2095.2 366.2 2095.4 394.0 2095.7 380.3 2096.0 383.0 2096.3 365.0 2096.6 283.6 2096.8 325.8 2097.1 394.9 2097.4 386.0 2097.7 370.5 2098.0 357.8 2098.3 393.6 2098.5 342.9 2098.8 338.2 2099.1 315.8 2099.4 360.5 2099.7 374.6 2100.0 344.0 2100.2 345.3 2100.5 346.0 2100.8 292.3 2101.1 317.4 2101.4 338.6 2101.7 379.9 2101.9 342.2 2102.2 333.6 2102.5 365.4 2102.8 350.0 2103.1 366.9 2103.4 334.6 2103.6 352.2 2103.9 417.5 2104.2 370.5 2104.5 350.9 2104.8 336.3 2105.0 317.8 2105.3 322.5 2105.6 301.4 2105.9 348.1 2106.2 320.5 2106.5 362.9 2106.7 345.0 2107.0 412.7 2107.3 379.6 2107.6 437.3 2107.9 428.7 2108.2 344.0 2108.4 352.2 2108.7 348.0 2109.0 363.7 2109.3 364.7 2109.6 372.4 2109.9 388.2 2110.1 375.5 2110.4 301.0 2110.7 382.7 2111.0 392.4 2111.3 364.1 2111.6 350.9 2111.8 333.4 2112.1 318.2 2112.4 306.4 2112.7 348.8 2113.0 300.2 2113.3 295.7 2113.5 342.5 2113.8 338.9 2114.1 376.1 2114.4 322.0 2114.7 329.4 2114.9 414.0 2115.2 420.1 2115.5 388.8 2115.8 397.8 2116.1 366.4 2116.4 368.4 2116.6 360.4 2116.9 351.8 2117.2 357.4 2117.5 352.0 2117.8 347.7 2118.1 423.6 2118.3 370.5 2118.6 355.7 2118.9 401.3 2119.2 433.2 2119.5 374.6 2119.8 480.7 2120.0 384.3 2120.3 417.0 2120.6 420.9 2120.9 397.4 2121.2 399.0 2121.5 402.3 2121.7 358.0 2122.0 408.7 2122.3 430.4 2122.6 343.4 2122.9 382.4 2123.1 387.3 2123.4 320.0 2123.7 371.8 2124.0 346.3 2124.3 404.9 2124.6 403.7 2124.8 425.6 2125.1 384.2 2125.4 395.6 2125.7 400.1 2126.0 326.0 2126.3 383.1 2126.5 369.6 2126.8 338.9 2127.1 278.1 2127.4 314.1 2127.7 287.2 2128.0 370.0 2128.2 324.6 2128.5 336.4 2128.8 448.5 2129.1 449.0 2129.4 412.7 2129.7 397.7 2129.9 403.7 2130.2 373.7 2130.5 368.3 2130.8 335.6 2131.1 346.1 2131.4 348.8 2131.6 355.5 2131.9 325.9 2132.2 341.7 2132.5 324.0 2132.8 343.2 2133.0 347.0 2133.3 339.1 2133.6 352.0 2133.9 401.6 2134.2 348.5 2134.5 317.5 2134.7 290.0 2135.0 313.5 2135.3 389.6 2135.6 369.7 2135.9 349.2 2136.2 342.3 2136.4 361.0 2136.7 331.1 2137.0 358.9 2137.3 330.6 2137.6 384.2 2137.9 341.1 2138.1 301.3 2138.4 263.0 2138.7 317.4 2139.0 306.7 2139.3 347.7 2139.6 363.6 2139.8 353.5 2140.1 372.9 2140.4 345.0 2140.7 386.0 2141.0 368.5 2141.2 372.9 2141.5 343.5 2141.8 399.3 2142.1 372.6 2142.4 382.2 2142.7 346.4 2142.9 377.7 2143.2 366.3 2143.5 323.8 2143.8 377.6 2144.1 374.1 2144.4 342.7 2144.6 379.3 2144.9 308.7 2145.2 352.9 2145.5 348.6 2145.8 350.0 2146.1 435.6 2146.3 317.1 2146.6 362.7 2146.9 423.8 2147.2 390.2 2147.5 361.7 2147.8 333.1 2148.0 342.3 2148.3 327.5 2148.6 344.1 2148.9 378.6 2149.2 399.5 2149.4 386.0 2149.7 406.0 2150.0 379.9 2150.3 379.4 2150.6 457.0 2150.9 410.6 2151.1 392.6 2151.4 382.6 2151.7 353.3 2152.0 428.3 2152.3 363.0 2152.6 379.5 2152.8 330.2 2153.1 374.7 2153.4 341.3 2153.7 360.1 2154.0 356.3 2154.3 391.5 2154.5 395.4 2154.8 362.4 2155.1 346.7 2155.4 388.9 2155.7 364.0 2156.0 380.5 2156.2 378.8 2156.5 487.0 2156.8 446.4 2157.1 404.7 2157.4 382.0 2157.7 394.8 2157.9 321.0 2158.2 323.2 2158.5 351.1 2158.8 366.6 2159.1 412.8 2159.3 399.3 2159.6 361.7 2159.9 337.2 2160.2 376.6 2160.5 347.4 2160.8 316.8 2161.0 333.5 2161.3 395.1 2161.6 370.1 2161.9 348.8 2162.2 399.3 2162.5 374.1 2162.7 366.7 2163.0 395.8 2163.3 392.1 2163.6 401.4 2163.9 432.5 2164.2 408.7 2164.4 419.0 2164.7 410.9 2165.0 363.6 2165.3 364.2 2165.6 352.3 2165.9 331.9 2166.1 378.7 2166.4 355.0 2166.7 326.4 2167.0 296.9 2167.3 318.5 2167.5 352.4 2167.8 360.0 2168.1 383.9 2168.4 417.4 2168.7 340.0 2169.0 359.2 2169.2 348.6 2169.5 409.1 2169.8 383.0 2170.1 357.1 2170.4 376.1 2170.7 356.7 2170.9 381.7 2171.2 369.6 2171.5 362.6 2171.8 363.6 2172.1 381.0 2172.4 378.0 2172.6 385.5 2172.9 380.8 2173.2 383.6 2173.5 374.7 2173.8 410.4 2174.1 397.1 2174.3 428.7 2174.6 414.5 2174.9 414.2 2175.2 399.1 2175.5 395.0 2175.7 388.7 2176.0 401.1 2176.3 305.5 2176.6 391.8 2176.9 414.3 2177.2 382.7 2177.4 375.2 2177.7 374.1 2178.0 368.5 2178.3 389.0 2178.6 337.1 2178.9 401.9 2179.1 297.5 2179.4 407.1 2179.7 414.3 2180.0 385.9 2180.3 380.2 2180.6 354.8 2180.8 380.5 2181.1 381.0 2181.4 440.3 2181.7 397.2 2182.0 424.9 2182.3 439.2 2182.5 408.2 2182.8 376.2 2183.1 368.4 2183.4 386.6 2183.7 364.5 2184.0 347.3 2184.2 357.5 2184.5 377.3 2184.8 355.8 2185.1 403.3 2185.4 404.8 2185.6 417.8 2185.9 408.7 2186.2 411.2 2186.5 365.3 2186.8 368.1 2187.1 306.1 2187.3 385.8 2187.6 372.8 2187.9 417.2 2188.2 446.2 2188.5 386.1 2188.8 336.5 2189.0 359.6 2189.3 360.5 2189.6 383.9 2189.9 379.2 2190.2 392.0 2190.5 348.1 2190.7 326.5 2191.0 346.7 2191.3 366.4 2191.6 368.0 2191.9 349.6 2192.2 359.3 2192.4 388.2 2192.7 343.0 2193.0 342.8 2193.3 331.5 2193.6 338.5 2193.8 350.2 2194.1 363.2 2194.4 364.3 2194.7 356.6 2195.0 311.8 2195.3 388.6 2195.5 363.4 2195.8 359.7 2196.1 341.5 2196.4 385.1 2196.7 343.6 2197.0 313.4 2197.2 313.1 2197.5 299.9 2197.8 386.8 2198.1 337.1 2198.4 369.9 2198.7 364.9 2198.9 364.5 2199.2 362.2 2199.5 395.0 2199.8 351.9 2200.1 366.2 2200.4 394.3 2200.6 376.0 2200.9 408.9 2201.2 393.4 2201.5 351.2 2201.8 328.6 2202.1 404.2 2202.3 362.9 2202.6 336.4 2202.9 357.8 2203.2 327.8 2203.5 312.7 2203.7 319.3 2204.0 371.3 2204.3 398.7 2204.6 402.5 2204.9 386.3 2205.2 367.2 2205.4 364.7 2205.7 406.4 2206.0 353.5 2206.3 478.8 2206.6 336.8 2206.9 322.4 2207.1 318.4 2207.4 334.5 2207.7 327.1 2208.0 352.1 2208.3 346.2 2208.6 294.1 2208.8 298.5 2209.1 318.9 2209.4 320.3 2209.7 362.9 2210.0 284.9 2210.3 335.5 2210.5 352.3 2210.8 367.0 2211.1 394.1 2211.4 344.0 2211.7 438.2 2211.9 338.4 2212.2 346.7 2212.5 395.1 2212.8 370.1 2213.1 347.3 2213.4 316.6 2213.6 263.0 2213.9 346.8 2214.2 327.0 2214.5 340.5 2214.8 362.3 2215.1 406.6 2215.3 448.6 2215.6 375.2 2215.9 400.9 2216.2 377.6 2216.5 349.8 2216.8 337.8 2217.0 354.3 2217.3 357.3 2217.6 377.9 2217.9 373.1 2218.2 375.1 2218.5 373.2 2218.7 367.2 2219.0 387.2 2219.3 401.2 2219.6 319.7 2219.9 350.1 2220.1 406.5 2220.4 263.0 2220.7 319.4 2221.0 404.6 2221.3 371.7 2221.6 364.7 2221.8 389.4 2222.1 380.1 2222.4 375.3 2222.7 350.2 2223.0 450.8 2223.3 353.1 2223.5 329.3 2223.8 404.8 2224.1 337.1 2224.4 353.2 2224.7 380.2 2225.0 335.6 2225.2 323.1 2225.5 315.8 2225.8 294.9 2226.1 370.1 2226.4 419.9 2226.7 379.9 2226.9 351.0 2227.2 321.2 2227.5 352.1 2227.8 389.3 2228.1 337.4 2228.4 332.8 2228.6 310.9 2228.9 319.5 2229.2 331.2 2229.5 339.8 2229.8 359.4 2230.0 434.1 2230.3 371.1 2230.6 328.9 2230.9 312.5 2231.2 361.8 2231.5 360.6 2231.7 328.5 2232.0 340.7 2232.3 323.6 2232.6 331.1 2232.9 350.3 2233.2 389.3 2233.4 429.6 2233.7 359.2 2234.0 368.3 2234.3 337.0 2234.6 325.5 2234.9 376.1 2235.1 337.9 2235.4 350.0 2235.7 382.9 2236.0 344.7 2236.3 241.4 2236.6 356.7 2236.8 332.3 2237.1 372.6 2237.4 338.5 2237.7 319.1 2238.0 368.0 2238.2 357.6 2238.5 325.4 2238.8 374.3 2239.1 374.2 2239.4 365.8 2239.7 450.9 2239.9 392.7 2240.2 429.4 2240.5 366.2 2240.8 346.5 2241.1 381.6 2241.4 340.2 2241.6 287.6 2241.9 345.9 2242.2 363.2 2242.5 361.4 2242.8 397.5 2243.1 376.4 2243.3 355.8 2243.6 425.0 2243.9 434.2 2244.2 415.2 2244.5 406.9 2244.8 370.7 2245.0 353.4 2245.3 366.6 2245.6 317.3 2245.9 355.6 2246.2 373.6 2246.4 414.8 2246.7 357.7 2247.0 400.4 2247.3 408.7 2247.6 387.7 2247.9 333.0 2248.1 364.7 2248.4 383.7 2248.7 409.0 2249.0 362.5 2249.3 346.8 2249.6 324.7 2249.8 340.3 2250.1 352.3 2250.4 381.8 2250.7 336.8 2251.0 308.1 2251.3 375.6 2251.5 366.8 2251.8 344.4 2252.1 311.4 2252.4 363.8 2252.7 375.5 2253.0 341.5 2253.2 396.1 2253.5 425.0 2253.8 416.9 2254.1 364.2 2254.4 363.3 2254.7 401.7 2254.9 406.8 2255.2 383.5 2255.5 366.9 2255.8 371.6 2256.1 418.1 2256.3 416.2 2256.6 423.9 2256.9 378.4 2257.2 329.5 2257.5 352.0 2257.8 362.4 2258.0 379.5 2258.3 374.3 2258.6 388.7 2258.9 408.7 2259.2 381.7 2259.5 373.9 2259.7 336.9 2260.0 352.8 2260.3 374.0 2260.6 348.7 2260.9 360.1 2261.2 337.1 2261.4 351.6 2261.7 344.0 2262.0 348.4 2262.3 346.6 2262.6 347.9 2262.9 394.9 2263.1 365.1 2263.4 353.8 2263.7 367.2 2264.0 335.9 2264.3 354.2 2264.5 386.9 2264.8 368.1 2265.1 381.4 2265.4 385.6 2265.7 355.7 2266.0 401.5 2266.2 346.0 2266.5 366.5 2266.8 386.3 2267.1 341.4 2267.4 358.0 2267.7 353.3 2267.9 367.6 2268.2 348.7 2268.5 391.6 2268.8 406.0 2269.1 385.1 2269.4 364.6 2269.6 406.2 2269.9 399.3 2270.2 445.9 2270.5 381.5 2270.8 372.0 2271.1 368.8 2271.3 448.6 2271.6 410.6 2271.9 395.5 2272.2 328.0 2272.5 384.9 2272.8 370.8 2273.0 387.5 2273.3 330.1 2273.6 382.5 2273.9 382.5 2274.2 363.8 2274.4 391.2 2274.7 393.0 2275.0 397.0 2275.3 410.4 2275.6 354.1 2275.9 401.4 2276.1 348.5 2276.4 396.2 2276.7 404.1 2277.0 376.7 2277.3 368.4 2277.6 393.8 2277.8 389.1 2278.1 412.0 2278.4 430.4 2278.7 414.0 2279.0 351.5 2279.3 390.6 2279.5 369.4 2279.8 405.0 2280.1 375.7 2280.4 363.2 2280.7 391.2 2281.0 366.4 2281.2 354.2 2281.5 388.6 2281.8 380.0 2282.1 353.6 2282.4 353.2 2282.6 371.6 2282.9 415.9 2283.2 343.8 2283.5 382.7 2283.8 371.5 2284.1 374.3 2284.3 339.7 2284.6 364.7 2284.9 459.4 2285.2 411.9 2285.5 385.9 2285.8 385.8 2286.0 399.2 2286.3 413.2 2286.6 435.5 2286.9 390.4 2287.2 406.4 2287.5 400.8 2287.7 389.8 2288.0 417.3 2288.3 430.8 2288.6 323.0 2288.9 419.5 2289.2 408.5 2289.4 359.5 2289.7 385.1 2290.0 349.2 2290.3 411.7 2290.6 347.8 2290.8 316.0 2291.1 309.9 2291.4 330.0 2291.7 396.2 2292.0 365.4 2292.3 371.0 2292.5 415.8 2292.8 387.4 2293.1 344.6 2293.4 391.5 2293.7 406.7 2294.0 384.1 2294.2 398.3 2294.5 417.6 2294.8 380.2 2295.1 376.3 2295.4 345.8 2295.7 402.1 2295.9 411.8 2296.2 380.8 2296.5 380.5 2296.8 381.8 2297.1 402.1 2297.4 375.5 2297.6 404.2 2297.9 349.9 2298.2 363.8 2298.5 400.4 2298.8 347.4 2299.1 395.1 2299.3 360.6 2299.6 284.9 2299.9 382.4 2300.2 336.5 2300.5 433.0 2300.7 417.6 2301.0 413.4 2301.3 445.3 2301.6 452.4 2301.9 385.2 2302.2 384.5 2302.4 434.1 2302.7 398.3 2303.0 382.1 2303.3 362.8 2303.6 387.6 2303.9 381.8 2304.1 348.8 2304.4 373.5 2304.7 384.1 2305.0 404.7 2305.3 384.0 2305.6 355.0 2305.8 414.7 2306.1 398.2 2306.4 371.0 2306.7 344.8 2307.0 374.7 2307.3 417.7 2307.5 385.7 2307.8 347.7 2308.1 376.4 2308.4 334.1 2308.7 332.3 2308.9 420.4 2309.2 366.8 2309.5 335.0 2309.8 352.7 2310.1 379.5 2310.4 406.0 2310.6 416.5 2310.9 441.3 2311.2 414.3 2311.5 416.4 2311.8 381.7 2312.1 380.2 2312.3 397.4 2312.6 389.8 2312.9 380.7 2313.2 396.7 2313.5 345.9 2313.8 350.8 2314.0 360.6 2314.3 385.9 2314.6 408.4 2314.9 423.7 2315.2 433.3 2315.5 426.8 2315.7 402.7 2316.0 399.4 2316.3 406.6 2316.6 414.9 2316.9 427.8 2317.1 418.0 2317.4 352.3 2317.7 394.9 2318.0 396.4 2318.3 419.9 2318.6 386.0 2318.8 356.6 2319.1 398.9 2319.4 379.3 2319.7 373.2 2320.0 366.5 2320.3 389.1 2320.5 381.2 2320.8 390.3 2321.1 440.0 2321.4 348.3 2321.7 303.0 2322.0 384.8 2322.2 370.5 2322.5 397.3 2322.8 377.6 2323.1 405.9 2323.4 282.3 2323.7 354.2 2323.9 350.7 2324.2 348.4 2324.5 347.0 2324.8 354.0 2325.1 350.9 2325.4 374.2 2325.6 333.5 2325.9 370.7 2326.2 391.6 2326.5 423.4 2326.8 374.8 2327.0 368.9 2327.3 388.1 2327.6 374.7 2327.9 363.1 2328.2 372.0 2328.5 378.8 2328.7 375.5 2329.0 360.2 2329.3 387.7 2329.6 404.5 2329.9 366.4 2330.2 355.1 2330.4 361.6 2330.7 351.0 2331.0 376.7 2331.3 377.3 2331.6 366.3 2331.9 360.9 2332.1 346.2 2332.4 332.0 2332.7 355.8 2333.0 377.7 2333.3 399.8 2333.6 381.9 2333.8 396.8 2334.1 397.5 2334.4 397.8 2334.7 405.5 2335.0 425.0 2335.2 362.6 2335.5 440.4 2335.8 375.5 2336.1 386.6 2336.4 393.8 2336.7 384.8 2336.9 395.8 2337.2 333.6 2337.5 365.5 2337.8 365.4 2338.1 369.6 2338.4 412.9 2338.6 376.7 2338.9 394.2 2339.2 350.9 2339.5 388.9 2339.8 378.9 2340.1 399.7 2340.3 341.0 2340.6 420.3 2340.9 421.4 2341.2 392.7 2341.5 403.0 2341.8 394.6 2342.0 386.2 2342.3 380.1 2342.6 391.8 2342.9 445.3 2343.2 397.0 2343.4 371.2 2343.7 370.3 2344.0 419.7 2344.3 396.2 2344.6 370.2 2344.9 365.2 2345.1 374.0 2345.4 343.5 2345.7 368.8 2346.0 338.6 2346.3 358.5 2346.6 308.8 2346.8 342.7 2347.1 390.0 2347.4 350.8 2347.7 414.9 2348.0 366.7 2348.3 411.7 2348.5 433.0 2348.8 414.0 2349.1 404.3 2349.4 289.8 2349.7 378.5 2350.0 374.7 2350.2 390.0 2350.5 367.8 2350.8 400.6 2351.1 422.4 2351.4 422.4 2351.7 419.5 2351.9 428.2 2352.2 411.9 2352.5 407.8 2352.8 405.3 2353.1 428.6 2353.3 419.1 2353.6 417.1 2353.9 406.6 2354.2 408.5 2354.5 455.1 2354.8 401.1 2355.0 382.8 2355.3 390.1 2355.6 395.2 2355.9 452.0 2356.2 439.3 2356.5 422.7 2356.7 404.6 2357.0 394.1 2357.3 391.1 2357.6 433.2 2357.9 390.8 2358.2 361.0 2358.4 396.6 2358.7 393.5 2359.0 434.6 2359.3 416.0 2359.6 409.3 2359.9 448.4 2360.1 376.2 2360.4 351.9 2360.7 355.9 2361.0 361.8 2361.3 456.5 2361.5 375.2 2361.8 354.2 2362.1 375.5 2362.4 287.9 2362.7 390.1 2363.0 373.0 2363.2 414.5 2363.5 409.4 2363.8 388.8 2364.1 400.1 2364.4 406.6 2364.7 373.3 2364.9 366.0 2365.2 406.2 2365.5 418.1 2365.8 409.3 2366.1 418.9 2366.4 393.3 2366.6 418.4 2366.9 422.9 2367.2 397.0 2367.5 378.6 2367.8 323.2 2368.1 375.5 2368.3 426.5 2368.6 422.4 2368.9 392.0 2369.2 392.9 2369.5 394.1 2369.8 369.2 2370.0 432.1 2370.3 409.7 2370.6 368.7 2370.9 369.2 2371.2 386.8 2371.4 396.2 2371.7 431.9 2372.0 391.7 2372.3 394.0 2372.6 375.1 2372.9 444.8 2373.1 405.8 2373.4 389.6 2373.7 354.3 2374.0 409.8 2374.3 428.4 2374.6 417.8 2374.8 363.3 2375.1 410.7 2375.4 359.1 2375.7 355.3 2376.0 338.2 2376.3 376.8 2376.5 409.9 2376.8 377.1 2377.1 361.2 2377.4 408.3 2377.7 447.7 2378.0 412.7 2378.2 385.1 2378.5 418.3 2378.8 398.3 2379.1 385.3 2379.4 408.8 2379.6 362.7 2379.9 417.2 2380.2 435.3 2380.5 389.7 2380.8 349.0 2381.1 416.2 2381.3 378.7 2381.6 362.1 2381.9 387.2 2382.2 356.1 2382.5 405.8 2382.8 331.8 2383.0 412.7 2383.3 423.5 2383.6 434.3 2383.9 463.9 2384.2 399.4 2384.5 362.7 2384.7 417.1 2385.0 433.7 2385.3 398.3 2385.6 430.1 2385.9 449.3 2386.2 391.7 2386.4 397.3 2386.7 440.5 2387.0 414.1 2387.3 392.0 2387.6 424.8 2387.8 416.3 2388.1 378.4 2388.4 339.6 2388.7 410.0 2389.0 380.9 2389.3 375.7 2389.5 378.6 2389.8 401.5 2390.1 439.8 2390.4 396.1 2390.7 406.2 2391.0 451.6 2391.2 385.0 2391.5 396.7 2391.8 387.9 2392.1 345.7 2392.4 370.7 2392.7 434.4 2392.9 397.5 2393.2 412.0 2393.5 350.2 2393.8 446.4 2394.1 398.7 2394.4 438.1 2394.6 439.2 2394.9 401.2 2395.2 361.8 2395.5 428.2 2395.8 420.6 2396.1 412.4 2396.3 412.1 2396.6 419.9 2396.9 396.5 2397.2 384.3 2397.5 388.0 2397.7 426.1 2398.0 366.1 2398.3 359.0 2398.6 337.3 2398.9 327.9 2399.2 337.0 2399.4 400.6 2399.7 465.8 2400.0 390.2 2400.3 414.4 2400.6 396.6 2400.9 414.2 2401.1 409.1 2401.4 411.5 2401.7 428.6 2402.0 407.7 2402.3 355.7 2402.6 354.5 2402.8 401.5 2403.1 407.9 2403.4 377.6 2403.7 415.0 2404.0 400.2 2404.3 414.8 2404.5 337.0 2404.8 410.0 2405.1 427.1 2405.4 397.8 2405.7 397.4 2405.9 328.7 2406.2 350.5 2406.5 312.1 2406.8 409.3 2407.1 362.5 2407.4 381.9 2407.6 397.3 2407.9 379.6 2408.2 355.2 2408.5 372.8 2408.8 406.0 2409.1 317.3 2409.3 353.7 2409.6 395.9 2409.9 409.5 2410.2 398.3 2410.5 379.5 2410.8 413.6 2411.0 408.0 2411.3 369.3 2411.6 393.8 2411.9 364.6 2412.2 370.5 2412.5 347.0 2412.7 316.7 2413.0 338.1 2413.3 332.3 2413.6 362.2 2413.9 361.4 2414.2 396.6 2414.4 371.8 2414.7 412.6 2415.0 358.0 2415.3 370.6 2415.6 389.6 2415.8 374.2 2416.1 394.4 2416.4 364.7 2416.7 354.9 2417.0 368.5 2417.3 360.9 2417.5 428.2 2417.8 412.6 2418.1 437.3 2418.4 412.2 2418.7 383.1 2419.0 401.3 2419.2 367.8 2419.5 398.0 2419.8 402.0 2420.1 396.5 2420.4 405.7 2420.7 390.8 2420.9 392.4 2421.2 368.7 2421.5 399.1 2421.8 390.3 2422.1 402.6 2422.4 401.8 2422.6 383.8 2422.9 377.7 2423.2 373.0 2423.5 384.7 2423.8 369.9 2424.0 409.3 2424.3 365.6 2424.6 360.0 2424.9 384.2 2425.2 363.4 2425.5 375.0 2425.7 377.7 2426.0 360.2 2426.3 373.6 2426.6 376.2 2426.9 373.7 2427.2 402.5 2427.4 368.7 2427.7 364.3 2428.0 346.1 2428.3 371.0 2428.6 332.2 2428.9 393.9 2429.1 405.3 2429.4 391.6 2429.7 435.9 2430.0 429.6 2430.3 421.0 2430.6 396.6 2430.8 449.0 2431.1 408.3 2431.4 388.0 2431.7 389.1 2432.0 366.1 2432.2 369.0 2432.5 376.8 2432.8 411.1 2433.1 407.9 2433.4 395.0 2433.7 396.9 2433.9 368.2 2434.2 378.0 2434.5 364.3 2434.8 389.8 2435.1 393.8 2435.4 354.8 2435.6 371.2 2435.9 372.2 2436.2 365.4 2436.5 366.3 2436.8 370.4 2437.1 342.0 2437.3 341.4 2437.6 361.8 2437.9 355.1 2438.2 338.1 2438.5 377.3 2438.8 343.9 2439.0 400.0 2439.3 387.4 2439.6 383.3 2439.9 354.0 2440.2 354.5 2440.5 362.4 2440.7 398.5 2441.0 358.6 2441.3 358.1 2441.6 382.7 2441.9 353.4 2442.1 396.7 2442.4 362.2 2442.7 345.7 2443.0 366.2 2443.3 378.1 2443.6 366.1 2443.8 340.8 2444.1 354.6 2444.4 345.7 2444.7 378.5 2445.0 339.3 2445.3 340.0 2445.5 362.2 2445.8 329.1 2446.1 352.8 2446.4 344.9 2446.7 371.4 2447.0 346.1 2447.2 337.3 2447.5 347.9 2447.8 350.0 2448.1 341.7 2448.4 341.9 2448.7 364.1 2448.9 353.9 2449.2 352.5 2449.5 337.2 2449.8 343.2 2450.1 316.9 2450.3 330.7 2450.6 328.0 2450.9 322.1 2451.2 313.6 2451.5 317.9 2451.8 335.5 2452.0 322.3 2452.3 351.5 2452.6 352.2 2452.9 326.4 2453.2 332.2 2453.5 342.9 2453.7 334.4 2454.0 348.7 2454.3 341.2 2454.6 312.3 2454.9 313.1 2455.2 306.7 2455.4 348.7 2455.7 362.7 2456.0 379.4 2456.3 362.1 2456.6 359.0 2456.9 342.2 2457.1 381.4 2457.4 354.4 2457.7 342.7 2458.0 356.7 2458.3 349.2 2458.5 346.6 2458.8 325.4 2459.1 339.6 2459.4 353.8 2459.7 340.3 2460.0 337.5 2460.2 349.2 2460.5 375.1 2460.8 374.8 2461.1 362.9 2461.4 332.9 2461.7 331.2 2461.9 346.8 2462.2 351.5 2462.5 366.3 2462.8 353.8 2463.1 362.1 2463.4 353.2 2463.6 362.9 2463.9 354.3 2464.2 356.5 2464.5 358.4 2464.8 365.0 2465.1 352.6 2465.3 372.6 2465.6 376.2 2465.9 391.6 2466.2 381.0 2466.5 383.3 2466.8 369.7 2467.0 366.5 2467.3 403.8 2467.6 307.6 2467.9 384.5 2468.2 346.9 2468.4 359.6 2468.7 377.1 2469.0 387.3 2469.3 450.9 2469.6 357.8 2469.9 387.5 2470.1 377.7 2470.4 361.7 2470.7 351.5 2471.0 348.2 2471.3 347.4 2471.6 367.4 2471.8 346.0 2472.1 350.2 2472.4 369.6 2472.7 339.9 2473.0 362.6 2473.3 374.9 2473.5 398.6 2473.8 396.2 2474.1 379.5 2474.4 374.7 2474.7 348.6 2475.0 351.6 2475.2 352.7 2475.5 369.8 2475.8 356.9 2476.1 382.7 2476.4 401.5 2476.6 376.6 2476.9 356.2 2477.2 351.8 2477.5 358.9 2477.8 361.5 2478.1 413.5 2478.3 349.8 2478.6 363.6 2478.9 367.0 2479.2 393.7 2479.5 360.4 2479.8 378.6 2480.0 383.4 2480.3 341.3 2480.6 343.0 2480.9 350.0 2481.2 377.5 2481.5 368.0 2481.7 373.5 2482.0 376.0 2482.3 378.4 2482.6 395.6 2482.9 358.7 2483.2 371.2 2483.4 353.8 2483.7 368.9 2484.0 377.5 2484.3 353.0 2484.6 375.7 2484.8 366.3 2485.1 359.4 2485.4 354.5 2485.7 417.2 2486.0 379.7 2486.3 380.6 2486.5 365.5 2486.8 385.9 2487.1 376.1 2487.4 365.4 2487.7 363.2 2488.0 374.2 2488.2 371.1 2488.5 339.9 2488.8 344.6 2489.1 375.5 2489.4 337.3 2489.7 355.2 2489.9 313.5 2490.2 374.8 2490.5 361.9 2490.8 350.2 2491.1 338.5 2491.4 353.8 2491.6 339.1 2491.9 313.3 2492.2 343.9 2492.5 343.7 2492.8 361.0 2493.1 337.3 2493.3 323.6 2493.6 338.9 2493.9 334.9 2494.2 384.5 2494.5 364.0 2494.7 369.5 2495.0 395.1 2495.3 330.8 2495.6 361.8 2495.9 382.3 2496.2 355.3 2496.4 364.3 2496.7 412.6 2497.0 376.9 2497.3 341.0 2497.6 355.1 2497.9 333.1 2498.1 376.0 2498.4 370.6 2498.7 363.7 2499.0 341.9 2499.3 346.6 2499.6 428.6 2499.8 359.0 2500.1 406.1 2500.4 392.3 2500.7 381.7 2501.0 402.9 2501.3 391.4 2501.5 374.8 2501.8 351.1 2502.1 375.0 2502.4 392.9 2502.7 404.2 2502.9 360.8 2503.2 363.4 2503.5 346.9 2503.8 363.0 2504.1 388.2 2504.4 368.5 2504.6 387.0 2504.9 400.4 2505.2 389.9 2505.5 326.6 2505.8 393.1 2506.1 400.3 2506.3 385.6 2506.6 359.5 2506.9 409.7 2507.2 390.7 2507.5 367.1 2507.8 392.0 2508.0 358.1 2508.3 321.3 2508.6 341.8 2508.9 342.1 2509.2 344.3 2509.5 354.8 2509.7 361.1 2510.0 368.0 2510.3 356.3 2510.6 428.7 2510.9 391.0 2511.2 347.7 2511.4 314.6 2511.7 356.1 2512.0 391.7 2512.3 413.0 2512.6 374.8 2512.8 385.7 2513.1 373.0 2513.4 371.3 2513.7 391.1 2514.0 378.8 2514.3 351.5 2514.5 358.8 2514.8 396.6 2515.1 397.3 2515.4 368.8 2515.7 344.5 2516.0 343.9 2516.2 382.3 2516.5 387.5 2516.8 366.8 2517.1 366.2 2517.4 387.1 2517.7 419.5 2517.9 344.1 2518.2 357.5 2518.5 350.5 2518.8 380.7 2519.1 375.3 2519.4 375.4 2519.6 397.5 2519.9 388.0 2520.2 362.5 2520.5 362.2 2520.8 408.3 2521.0 360.3 2521.3 348.1 2521.6 358.1 2521.9 363.7 2522.2 383.7 2522.5 371.4 2522.7 379.2 2523.0 332.9 2523.3 377.1 2523.6 412.3 2523.9 370.4 2524.2 352.1 2524.4 359.4 2524.7 381.2 2525.0 345.8 2525.3 420.4 2525.6 335.3 2525.9 355.0 2526.1 394.1 2526.4 422.1 2526.7 346.1 2527.0 363.4 2527.3 379.7 2527.6 370.8 2527.8 387.5 2528.1 383.9 2528.4 375.9 2528.7 384.6 2529.0 401.4 2529.2 380.7 2529.5 381.8 2529.8 405.3 2530.1 371.2 2530.4 360.4 2530.7 383.7 2530.9 342.5 2531.2 379.2 2531.5 366.5 2531.8 402.0 2532.1 406.8 2532.4 410.9 2532.6 418.4 2532.9 394.3 2533.2 396.9 2533.5 337.1 2533.8 360.0 2534.1 339.5 2534.3 336.7 2534.6 373.8 2534.9 327.7 2535.2 391.9 2535.5 366.7 2535.8 381.1 2536.0 371.7 2536.3 379.5 2536.6 342.7 2536.9 320.0 2537.2 362.6 2537.5 364.0 2537.7 421.8 2538.0 399.8 2538.3 373.7 2538.6 401.7 2538.9 382.5 2539.1 401.2 2539.4 388.1 2539.7 409.7 2540.0 366.9 2540.3 355.4 2540.6 373.5 2540.8 322.8 2541.1 362.0 2541.4 343.9 2541.7 406.1 2542.0 356.1 2542.3 357.5 2542.5 360.7 2542.8 316.6 2543.1 377.1 2543.4 365.8 2543.7 349.3 2544.0 368.5 2544.2 376.2 2544.5 356.3 2544.8 387.7 2545.1 392.4 2545.4 396.4 2545.7 399.5 2545.9 393.5 2546.2 341.0 2546.5 356.8 2546.8 368.3 2547.1 351.7 2547.3 365.3 2547.6 348.0 2547.9 389.6 2548.2 373.5 2548.5 473.2 2548.8 361.0 2549.0 382.3 2549.3 387.2 2549.6 359.1 2549.9 368.7 2550.2 380.3 2550.5 384.6 2550.7 403.3 2551.0 377.8 2551.3 432.7 2551.6 381.1 2551.9 340.9 2552.2 397.5 2552.4 277.9 2552.7 350.5 2553.0 389.8 2553.3 363.5 2553.6 378.0 2553.9 355.1 2554.1 356.6 2554.4 360.8 2554.7 353.6 2555.0 377.5 2555.3 369.4 2555.6 381.9 2555.8 366.6 2556.1 384.9 2556.4 366.1 2556.7 359.5 2557.0 389.8 2557.2 395.5 2557.5 315.0 2557.8 386.9 2558.1 385.0 2558.4 375.4 2558.7 338.2 2558.9 350.1 2559.2 372.5 2559.5 355.9 2559.8 376.6 2560.1 360.0 2560.4 382.7 2560.6 334.2 2560.9 332.5 2561.2 357.9 2561.5 380.9 2561.8 342.1 2562.1 362.2 2562.3 376.6 2562.6 365.9 2562.9 343.1 2563.2 333.0 2563.5 334.0 2563.8 328.8 2564.0 339.6 2564.3 373.2 2564.6 334.7 2564.9 360.4 2565.2 351.5 2565.4 326.3 2565.7 369.5 2566.0 360.7 2566.3 364.7 2566.6 335.4 2566.9 356.4 2567.1 390.9 2567.4 351.7 2567.7 381.2 2568.0 347.6 2568.3 348.5 2568.6 350.2 2568.8 309.5 2569.1 355.4 2569.4 380.8 2569.7 373.6 2570.0 371.9 2570.3 370.1 2570.5 312.3 2570.8 330.8 2571.1 342.3 2571.4 397.4 2571.7 365.4 2572.0 387.3 2572.2 375.6 2572.5 354.2 2572.8 361.3 2573.1 348.3 2573.4 339.9 2573.6 331.7 2573.9 302.8 2574.2 356.3 2574.5 325.1 2574.8 329.0 2575.1 358.1 2575.3 337.7 2575.6 352.6 2575.9 352.0 2576.2 360.5 2576.5 352.7 2576.8 345.7 2577.0 364.5 2577.3 360.4 2577.6 387.1 2577.9 362.4 2578.2 364.2 2578.5 373.3 2578.7 322.0 2579.0 340.0 2579.3 343.3 2579.6 351.5 2579.9 344.5 2580.2 357.3 2580.4 369.1 2580.7 343.8 2581.0 331.6 2581.3 332.4 2581.6 328.2 2581.9 348.0 2582.1 369.6 2582.4 356.0 2582.7 346.8 2583.0 328.5 2583.3 359.1 2583.5 375.7 2583.8 392.1 2584.1 368.0 2584.4 342.3 2584.7 361.9 2585.0 368.5 2585.2 379.4 2585.5 326.9 2585.8 363.3 2586.1 326.2 2586.4 347.2 2586.7 393.5 2586.9 368.7 2587.2 316.3 2587.5 326.8 2587.8 335.2 2588.1 320.0 2588.4 334.5 2588.6 336.1 2588.9 336.1 2589.2 328.8 2589.5 311.6 2589.8 351.3 2590.1 326.6 2590.3 322.2 2590.6 355.3 2590.9 335.3 2591.2 370.9 2591.5 333.9 2591.7 323.5 2592.0 336.7 2592.3 361.4 2592.6 327.4 2592.9 320.0 2593.2 344.6 2593.4 347.9 2593.7 314.7 2594.0 404.4 2594.3 383.1 2594.6 356.1 2594.9 377.8 2595.1 349.6 2595.4 354.2 2595.7 370.5 2596.0 354.3 2596.3 357.9 2596.6 349.2 2596.8 345.0 2597.1 345.0 2597.4 352.1 2597.7 371.2 2598.0 375.1 2598.3 386.1 2598.5 349.6 2598.8 349.8 2599.1 355.7 2599.4 362.8 2599.7 356.2 2599.9 342.3 2600.2 328.6 2600.5 341.1 2600.8 331.0 2601.1 313.4 2601.4 353.6 2601.6 345.9 2601.9 361.6 2602.2 351.1 2602.5 345.1 2602.8 301.6 2603.1 344.4 2603.3 321.3 2603.6 378.5 2603.9 341.4 2604.2 347.3 2604.5 355.5 2604.8 323.1 2605.0 368.0 2605.3 440.3 2605.6 332.4 2605.9 353.7 2606.2 332.0 2606.5 358.7 2606.7 365.0 2607.0 388.4 2607.3 375.1 2607.6 333.2 2607.9 355.3 2608.2 397.2 2608.4 358.9 2608.7 360.5 2609.0 382.1 2609.3 360.0 2609.6 384.6 2609.8 343.2 2610.1 356.8 2610.4 347.1 2610.7 425.2 2611.0 374.6 2611.3 377.1 2611.5 400.7 2611.8 383.0 2612.1 385.5 2612.4 349.5 2612.7 397.0 2613.0 367.5 2613.2 315.8 2613.5 319.1 2613.8 354.1 2614.1 382.8 2614.4 382.7 2614.7 335.6 2614.9 359.4 2615.2 416.1 2615.5 432.6 2615.8 343.4 2616.1 334.6 2616.4 352.6 2616.6 376.5 2616.9 393.7 2617.2 371.9 2617.5 382.5 2617.8 369.7 2618.0 397.6 2618.3 382.7 2618.6 397.0 2618.9 423.8 2619.2 314.3 2619.5 391.5 2619.7 404.3 2620.0 409.5 2620.3 356.7 2620.6 377.0 2620.9 314.7 2621.2 355.0 2621.4 398.8 2621.7 431.2 2622.0 353.1 2622.3 404.6 2622.6 331.7 2622.9 347.7 2623.1 429.7 2623.4 383.2 2623.7 339.7 2624.0 425.3 2624.3 438.2 2624.6 411.3 2624.8 379.6 2625.1 368.2 2625.4 358.3 2625.7 377.1 2626.0 403.0 2626.2 393.9 2626.5 402.6 2626.8 387.5 2627.1 417.2 2627.4 375.7 2627.7 358.1 2627.9 354.0 2628.2 324.3 2628.5 350.1 2628.8 334.3 2629.1 372.7 2629.4 377.7 2629.6 339.2 2629.9 336.6 2630.2 324.2 2630.5 356.9 2630.8 342.5 2631.1 327.8 2631.3 342.4 2631.6 332.1 2631.9 305.7 2632.2 304.9 2632.5 330.0 2632.8 317.4 2633.0 338.1 2633.3 334.2 2633.6 343.7 2633.9 314.5 2634.2 349.4 2634.5 338.1 2634.7 354.4 2635.0 356.2 2635.3 361.4 2635.6 320.7 2635.9 358.1 2636.1 392.7 2636.4 341.2 2636.7 383.7 2637.0 343.5 2637.3 414.8 2637.6 365.1 2637.8 353.6 2638.1 399.0 2638.4 351.7 2638.7 357.7 2639.0 339.8 2639.3 326.7 2639.5 327.4 2639.8 339.4 2640.1 345.6 2640.4 370.7 2640.7 380.8 2641.0 404.5 2641.2 382.5 2641.5 319.9 2641.8 407.1 2642.1 381.8 2642.4 386.4 2642.7 410.3 2642.9 373.8 2643.2 395.0 2643.5 388.9 2643.8 390.8 2644.1 384.7 2644.3 393.5 2644.6 433.8 2644.9 356.9 2645.2 403.6 2645.5 376.6 2645.8 363.5 2646.0 374.9 2646.3 393.6 2646.6 370.9 2646.9 387.2 2647.2 395.9 2647.5 404.7 2647.7 393.7 2648.0 418.1 2648.3 374.0 2648.6 360.8 2648.9 348.4 2649.2 441.6 2649.4 382.2 2649.7 330.1 2650.0 348.4 2650.3 344.3 2650.6 381.2 2650.9 376.1 2651.1 349.0 2651.4 389.2 2651.7 334.2 2652.0 354.1 2652.3 423.5 2652.6 395.1 2652.8 399.2 2653.1 407.8 2653.4 405.1 2653.7 363.4 2654.0 378.3 2654.2 373.1 2654.5 385.0 2654.8 392.7 2655.1 384.7 2655.4 375.9 2655.7 372.2 2655.9 377.2 2656.2 371.0 2656.5 360.8 2656.8 356.8 2657.1 383.5 2657.4 394.2 2657.6 360.9 2657.9 342.0 2658.2 375.1 2658.5 353.8 2658.8 384.6 2659.1 374.4 2659.3 349.8 2659.6 334.0 2659.9 398.1 2660.2 374.1 2660.5 379.9 2660.8 404.0 2661.0 370.2 2661.3 375.8 2661.6 372.5 2661.9 373.3 2662.2 371.5 2662.4 405.7 2662.7 382.1 2663.0 396.9 2663.3 415.2 2663.6 363.6 2663.9 381.0 2664.1 408.4 2664.4 402.0 2664.7 379.9 2665.0 359.3 2665.3 401.3 2665.6 364.4 2665.8 352.6 2666.1 360.8 2666.4 379.3 2666.7 388.4 2667.0 346.7 2667.3 325.4 2667.5 349.1 2667.8 372.8 2668.1 362.4 2668.4 365.7 2668.7 363.0 2669.0 398.7 2669.2 363.4 2669.5 375.8 2669.8 365.8 2670.1 387.4 2670.4 361.6 2670.6 365.8 2670.9 352.9 2671.2 380.2 2671.5 361.6 2671.8 399.1 2672.1 411.6 2672.3 344.5 2672.6 409.1 2672.9 409.3 2673.2 371.1 2673.5 386.0 2673.8 337.9 2674.0 391.5 2674.3 365.8 2674.6 367.1 2674.9 341.4 2675.2 366.7 2675.5 335.3 2675.7 391.6 2676.0 385.9 2676.3 378.2 2676.6 411.7 2676.9 406.0 2677.2 409.6 2677.4 423.8 2677.7 381.5 2678.0 430.3 2678.3 407.0 2678.6 412.2 2678.9 390.9 2679.1 393.7 2679.4 362.0 2679.7 329.7 2680.0 377.7 2680.3 408.5 2680.5 381.7 2680.8 407.8 2681.1 406.0 2681.4 389.7 2681.7 353.4 2682.0 340.2 2682.2 370.5 2682.5 394.9 2682.8 365.8 2683.1 371.9 2683.4 422.8 2683.7 400.8 2683.9 423.6 2684.2 414.4 2684.5 393.8 2684.8 432.3 2685.1 424.0 2685.4 410.7 2685.6 420.8 2685.9 392.1 2686.2 381.1 2686.5 406.2 2686.8 432.1 2687.1 427.2 2687.3 371.9 2687.6 347.7 2687.9 351.7 2688.2 373.2 2688.5 357.3 2688.7 385.6 2689.0 341.9 2689.3 401.0 2689.6 360.9 2689.9 380.9 2690.2 418.2 2690.4 387.0 2690.7 396.7 2691.0 422.0 2691.3 400.6 2691.6 391.9 2691.9 360.2 2692.1 406.1 2692.4 341.3 2692.7 404.8 2693.0 404.9 2693.3 347.6 2693.6 340.1 2693.8 372.5 2694.1 319.1 2694.4 355.5 2694.7 361.9 2695.0 350.5 2695.3 389.5 2695.5 318.8 2695.8 337.1 2696.1 376.6 2696.4 351.1 2696.7 358.9 2697.0 319.8 2697.2 430.3 2697.5 369.4 2697.8 413.0 2698.1 376.8 2698.4 368.4 2698.6 360.6 2698.9 359.3 2699.2 346.8 2699.5 407.9 2699.8 383.8 2700.1 440.3 2700.3 382.2 2700.6 437.1 2700.9 355.5 2701.2 363.3 2701.5 384.5 2701.8 403.6 2702.0 379.4 2702.3 372.6 2702.6 378.1 2702.9 358.0 2703.2 415.4 2703.5 373.7 2703.7 392.4 2704.0 392.2 2704.3 327.1 2704.6 343.3 2704.9 344.1 2705.2 378.7 2705.4 379.4 2705.7 387.1 2706.0 357.0 2706.3 370.0 2706.6 372.6 2706.8 382.4 2707.1 391.2 2707.4 365.0 2707.7 367.6 2708.0 357.9 2708.3 333.7 2708.5 349.0 2708.8 367.3 2709.1 357.2 2709.4 406.5 2709.7 416.6 2710.0 436.0 2710.2 400.5 2710.5 387.5 2710.8 374.6 2711.1 416.6 2711.4 405.9 2711.7 388.1 2711.9 383.8 2712.2 406.1 2712.5 379.0 2712.8 353.2 2713.1 364.6 2713.4 319.4 2713.6 349.4 2713.9 383.9 2714.2 369.4 2714.5 386.6 2714.8 342.0 2715.0 375.6 2715.3 375.7 2715.6 358.3 2715.9 372.8 2716.2 382.4 2716.5 381.2 2716.7 368.9 2717.0 359.7 2717.3 400.2 2717.6 418.1 2717.9 377.9 2718.2 389.7 2718.4 387.0 2718.7 356.2 2719.0 365.4 2719.3 394.2 2719.6 384.8 2719.9 396.6 2720.1 382.0 2720.4 354.4 2720.7 399.3 2721.0 396.8 2721.3 404.0 2721.6 398.8 2721.8 392.4 2722.1 387.3 2722.4 361.1 2722.7 356.4 2723.0 373.1 2723.3 369.9 2723.5 384.9 2723.8 383.1 2724.1 360.0 2724.4 362.3 2724.7 389.0 2724.9 387.8 2725.2 369.3 2725.5 391.7 2725.8 406.9 2726.1 403.5 2726.4 389.3 2726.6 395.2 2726.9 421.1 2727.2 412.7 2727.5 381.9 2727.8 385.5 2728.1 380.9 2728.3 389.2 2728.6 387.7 2728.9 375.7 2729.2 375.3 2729.5 395.9 2729.8 368.5 2730.0 383.1 2730.3 403.1 2730.6 360.2 2730.9 359.2 2731.2 375.6 2731.5 359.8 2731.7 368.4 2732.0 421.0 2732.3 385.5 2732.6 396.2 2732.9 355.6 2733.1 366.4 2733.4 356.0 2733.7 374.7 2734.0 377.7 2734.3 362.2 2734.6 324.8 2734.8 351.1 2735.1 372.0 2735.4 359.8 2735.7 366.3 2736.0 345.9 2736.3 358.9 2736.5 371.5 2736.8 368.8 2737.1 385.6 2737.4 375.6 2737.7 402.9 2738.0 383.4 2738.2 353.9 2738.5 365.3 2738.8 362.7 2739.1 356.3 2739.4 318.7 2739.7 350.0 2739.9 356.8 2740.2 339.4 2740.5 341.7 2740.8 365.3 2741.1 370.5 2741.3 340.3 2741.6 352.8 2741.9 330.8 2742.2 361.2 2742.5 348.5 2742.8 361.4 2743.0 336.3 2743.3 345.5 2743.6 358.0 2743.9 349.5 2744.2 353.4 2744.5 342.0 2744.7 352.2 2745.0 377.9 2745.3 360.6 2745.6 363.1 2745.9 366.2 2746.2 378.9 2746.4 364.5 2746.7 341.2 2747.0 338.3 2747.3 332.5 2747.6 370.0 2747.9 339.7 2748.1 363.0 2748.4 339.7 2748.7 376.0 2749.0 367.6 2749.3 359.6 2749.6 361.0 2749.8 368.6 2750.1 371.7 2750.4 356.7 2750.7 351.8 2751.0 375.5 2751.2 384.7 2751.5 390.6 2751.8 384.9 2752.1 393.8 2752.4 388.4 2752.7 360.4 2752.9 373.8 2753.2 371.6 2753.5 339.7 2753.8 340.3 2754.1 347.5 2754.4 363.4 2754.6 355.8 2754.9 369.2 2755.2 384.7 2755.5 390.9 2755.8 354.0 2756.1 363.0 2756.3 355.1 2756.6 355.8 2756.9 384.9 2757.2 374.1 2757.5 352.5 2757.8 337.7 2758.0 344.2 2758.3 380.8 2758.6 365.7 2758.9 342.4 2759.2 362.8 2759.4 363.4 2759.7 337.0 2760.0 374.1 2760.3 380.8 2760.6 341.4 2760.9 371.8 2761.1 366.6 2761.4 342.1 2761.7 324.7 2762.0 337.5 2762.3 347.0 2762.6 352.3 2762.8 348.8 2763.1 345.1 2763.4 364.3 2763.7 351.7 2764.0 391.9 2764.3 378.3 2764.5 361.1 2764.8 373.8 2765.1 366.4 2765.4 367.6 2765.7 354.8 2766.0 321.9 2766.2 380.6 2766.5 352.9 2766.8 342.0 2767.1 374.0 2767.4 383.7 2767.7 381.6 2767.9 357.2 2768.2 361.6 2768.5 371.7 2768.8 378.6 2769.1 374.2 2769.3 326.8 2769.6 372.9 2769.9 356.4 2770.2 356.2 2770.5 370.0 2770.8 376.4 2771.0 393.0 2771.3 397.7 2771.6 381.9 2771.9 376.4 2772.2 376.2 2772.5 350.7 2772.7 377.9 2773.0 379.3 2773.3 379.9 2773.6 362.3 2773.9 380.8 2774.2 390.3 2774.4 410.1 2774.7 362.7 2775.0 403.9 2775.3 370.8 2775.6 377.6 2775.9 375.9 2776.1 410.7 2776.4 302.1 2776.7 373.7 2777.0 384.0 2777.3 398.1 2777.5 406.5 2777.8 367.6 2778.1 380.6 2778.4 424.7 2778.7 394.0 2779.0 385.6 2779.2 404.3 2779.5 350.2 2779.8 385.7 2780.1 324.7 2780.4 326.6 2780.7 363.5 2780.9 351.3 2781.2 355.4 2781.5 345.0 2781.8 355.9 2782.1 379.8 2782.4 398.9 2782.6 358.8 2782.9 364.5 2783.2 366.5 2783.5 325.2 2783.8 344.6 2784.1 400.3 2784.3 391.6 2784.6 378.9 2784.9 413.2 2785.2 387.7 2785.5 391.1 2785.7 391.1 2786.0 352.1 2786.3 357.1 2786.6 411.3 2786.9 374.4 2787.2 386.3 2787.4 372.0 2787.7 376.1 2788.0 366.3 2788.3 331.2 2788.6 337.5 2788.9 360.9 2789.1 359.7 2789.4 371.5 2789.7 363.6 2790.0 377.1 2790.3 376.6 2790.6 423.7 2790.8 386.4 2791.1 371.0 2791.4 379.0 2791.7 370.4 2792.0 357.0 2792.3 364.5 2792.5 386.2 2792.8 358.1 2793.1 365.7 2793.4 374.0 2793.7 346.4 2794.0 370.2 2794.2 361.7 2794.5 363.0 2794.8 368.7 2795.1 295.4 2795.4 370.3 2795.6 349.3 2795.9 384.0 2796.2 356.2 2796.5 387.4 2796.8 365.6 2797.1 359.7 2797.3 390.4 2797.6 363.6 2797.9 377.8 2798.2 384.6 2798.5 362.3 2798.8 387.7 2799.0 366.3 2799.3 352.5 2799.6 353.9 2799.9 341.5 2800.2 365.8 2800.5 339.3 2800.7 378.9 2801.0 406.2 2801.3 396.4 2801.6 359.5 2801.9 386.0 2802.2 327.2 2802.4 381.5 2802.7 340.8 2803.0 350.3 2803.3 367.1 2803.6 406.4 2803.8 355.4 2804.1 371.3 2804.4 374.6 2804.7 369.1 2805.0 406.3 2805.3 298.7 2805.5 379.0 2805.8 405.5 2806.1 357.4 2806.4 387.6 2806.7 370.4 2807.0 369.7 2807.2 406.8 2807.5 407.3 2807.8 386.4 2808.1 416.4 2808.4 409.6 2808.7 374.1 2808.9 411.7 2809.2 393.0 2809.5 404.1 2809.8 386.8 2810.1 424.5 2810.4 417.5 2810.6 401.6 2810.9 374.2 2811.2 411.6 2811.5 422.6 2811.8 422.9 2812.0 409.3 2812.3 396.4 2812.6 401.4 2812.9 384.6 2813.2 401.2 2813.5 377.1 2813.7 400.1 2814.0 419.2 2814.3 398.7 2814.6 388.2 2814.9 405.7 2815.2 391.2 2815.4 422.6 2815.7 407.6 2816.0 381.0 2816.3 412.8 2816.6 401.5 2816.9 382.6 2817.1 426.8 2817.4 414.8 2817.7 383.3 2818.0 390.5 2818.3 397.6 2818.6 416.8 2818.8 395.8 2819.1 404.1 2819.4 375.5 2819.7 370.0 2820.0 392.9 2820.3 390.5 2820.5 415.1 2820.8 420.1 2821.1 404.1 2821.4 396.5 2821.7 400.2 2821.9 408.8 2822.2 380.1 2822.5 412.9 2822.8 413.8 2823.1 383.7 2823.4 376.6 2823.6 394.9 2823.9 406.1 2824.2 389.7 2824.5 417.9 2824.8 394.2 2825.1 387.7 2825.3 380.5 2825.6 388.7 2825.9 408.6 2826.2 392.0 2826.5 392.5 2826.8 419.3 2827.0 404.0 2827.3 398.8 2827.6 409.6 2827.9 409.3 2828.2 414.0 2828.5 401.5 2828.7 399.5 2829.0 400.0 2829.3 395.5 2829.6 385.9 2829.9 388.0 2830.1 392.3 2830.4 388.9 2830.7 380.9 2831.0 398.8 2831.3 413.8 2831.6 395.3 2831.8 417.3 2832.1 409.6 2832.4 395.0 2832.7 393.3 2833.0 390.3 2833.3 380.5 2833.5 376.7 2833.8 392.6 2834.1 390.8 2834.4 389.9 2834.7 401.2 2835.0 385.1 2835.2 378.7 2835.5 392.0 2835.8 407.8 2836.1 420.4 2836.4 415.2 2836.7 410.2 2836.9 384.5 2837.2 393.0 2837.5 382.0 2837.8 377.5 2838.1 372.7 2838.3 375.4 2838.6 383.3 2838.9 388.3 2839.2 381.1 2839.5 415.9 2839.8 381.4 2840.0 383.1 2840.3 362.2 2840.6 378.6 2840.9 390.7 2841.2 417.3 2841.5 384.8 2841.7 400.7 2842.0 391.5 2842.3 403.8 2842.6 396.2 2842.9 416.6 2843.2 375.8 2843.4 379.2 2843.7 384.2 2844.0 375.6 2844.3 394.3 2844.6 396.2 2844.9 400.9 2845.1 384.6 2845.4 393.4 2845.7 394.6 2846.0 385.3 2846.3 396.1 2846.6 405.4 2846.8 391.2 2847.1 412.3 2847.4 378.4 2847.7 409.2 2848.0 397.8 2848.2 369.8 2848.5 406.5 2848.8 415.6 2849.1 382.9 2849.4 384.7 2849.7 370.2 2849.9 390.5 2850.2 410.6 2850.5 381.6 2850.8 366.3 2851.1 353.8 2851.4 382.8 2851.6 413.3 2851.9 404.4 2852.2 394.8 2852.5 404.4 2852.8 394.3 2853.1 388.1 2853.3 397.5 2853.6 379.8 2853.9 369.0 2854.2 384.4 2854.5 397.2 2854.8 371.3 2855.0 426.3 2855.3 369.2 2855.6 361.1 2855.9 387.0 2856.2 389.9 2856.4 365.0 2856.7 378.9 2857.0 373.1 2857.3 366.3 2857.6 367.0 2857.9 357.5 2858.1 371.5 2858.4 358.7 2858.7 378.6 2859.0 348.6 2859.3 376.8 2859.6 372.2 2859.8 379.8 2860.1 391.8 2860.4 393.3 2860.7 406.8 2861.0 355.3 2861.3 355.9 2861.5 358.9 2861.8 316.2 2862.1 345.5 2862.4 367.5 2862.7 383.7 2863.0 360.4 2863.2 402.2 2863.5 361.1 2863.8 384.9 2864.1 383.7 2864.4 382.0 2864.7 362.5 2864.9 384.5 2865.2 366.7 2865.5 388.6 2865.8 378.7 2866.1 400.2 2866.3 360.5 2866.6 353.7 2866.9 366.7 2867.2 349.8 2867.5 353.9 2867.8 377.2 2868.0 359.7 2868.3 332.6 2868.6 364.5 2868.9 392.9 2869.2 396.4 2869.5 381.9 2869.7 357.8 2870.0 356.2 2870.3 386.3 2870.6 391.6 2870.9 407.3 2871.2 416.5 2871.4 395.6 2871.7 393.0 2872.0 370.6 2872.3 352.8 2872.6 370.8 2872.9 393.2 2873.1 389.0 2873.4 402.6 2873.7 398.8 2874.0 352.4 2874.3 372.9 2874.5 395.7 2874.8 369.7 2875.1 393.5 2875.4 367.4 2875.7 358.9 2876.0 379.4 2876.2 407.9 2876.5 372.1 2876.8 378.7 2877.1 354.3 2877.4 390.3 2877.7 377.8 2877.9 361.9 2878.2 403.3 2878.5 396.5 2878.8 371.1 2879.1 362.7 2879.4 353.4 2879.6 332.2 2879.9 358.8 2880.2 363.3 2880.5 374.4 2880.8 376.2 2881.1 366.7 2881.3 384.8 2881.6 392.5 2881.9 397.9 2882.2 378.6 2882.5 372.0 2882.7 382.7 2883.0 387.6 2883.3 391.7 2883.6 361.8 2883.9 367.1 2884.2 348.4 2884.4 376.9 2884.7 386.9 2885.0 371.8 2885.3 378.3 2885.6 351.7 2885.9 392.2 2886.1 371.8 2886.4 376.6 2886.7 371.3 2887.0 366.1 2887.3 389.3 2887.6 359.8 2887.8 380.5 2888.1 344.0 2888.4 345.0 2888.7 358.3 2889.0 326.6 2889.3 357.7 2889.5 362.5 2889.8 358.2 2890.1 392.8 2890.4 399.4 2890.7 371.6 2891.0 363.8 2891.2 366.5 2891.5 354.8 2891.8 378.1 2892.1 383.1 2892.4 359.1 2892.6 367.9 2892.9 358.5 2893.2 341.1 2893.5 377.3 2893.8 373.2 2894.1 374.0 2894.3 380.3 2894.6 377.4 2894.9 371.9 2895.2 373.5 2895.5 359.2 2895.8 357.9 2896.0 376.6 2896.3 352.2 2896.6 368.6 2896.9 374.2 2897.2 379.2 2897.5 371.2 2897.7 384.8 2898.0 398.2 2898.3 388.5 2898.6 334.4 2898.9 380.5 2899.2 378.1 2899.4 350.4 2899.7 371.4 2900.0 368.9 2900.3 372.6 2900.6 373.8 2900.8 383.5 2901.1 370.6 2901.4 379.2 2901.7 402.1 2902.0 387.5 2902.3 364.3 2902.5 379.3 2902.8 377.2 2903.1 382.6 2903.4 383.7 2903.7 368.5 2904.0 361.0 2904.2 360.6 2904.5 358.3 2904.8 378.4 2905.1 373.7 2905.4 358.4 2905.7 354.8 2905.9 366.1 2906.2 356.0 2906.5 373.4 2906.8 362.2 2907.1 365.2 2907.4 375.1 2907.6 361.5 2907.9 356.8 2908.2 372.4 2908.5 373.3 2908.8 375.3 2909.1 374.1 2909.3 373.8 2909.6 392.8 2909.9 386.0 2910.2 364.5 2910.5 377.2 2910.7 376.9 2911.0 366.5 2911.3 366.9 2911.6 357.0 2911.9 368.9 2912.2 375.8 2912.4 387.6 2912.7 399.8 2913.0 383.3 2913.3 382.5 2913.6 364.7 2913.9 375.6 2914.1 383.2 2914.4 362.8 2914.7 340.0 2915.0 373.8 2915.3 368.9 2915.6 362.9 2915.8 369.1 2916.1 369.8 2916.4 363.4 2916.7 369.8 2917.0 395.7 2917.3 369.8 2917.5 382.2 2917.8 372.0 2918.1 363.6 2918.4 384.5 2918.7 364.9 2918.9 377.7 2919.2 379.1 2919.5 369.8 2919.8 374.0 2920.1 356.4 2920.4 353.0 2920.6 385.1 2920.9 398.9 2921.2 380.8 2921.5 398.0 2921.8 383.9 2922.1 382.0 2922.3 374.5 2922.6 401.1 2922.9 385.0 2923.2 382.6 2923.5 374.5 2923.8 368.3 2924.0 367.6 2924.3 369.7 2924.6 369.4 2924.9 381.8 2925.2 369.2 2925.5 385.6 2925.7 395.9 2926.0 378.1 2926.3 392.4 2926.6 362.4 2926.9 377.1 2927.1 376.0 2927.4 378.4 2927.7 372.8 2928.0 423.7 2928.3 377.9 2928.6 370.3 2928.8 381.9 2929.1 374.5 2929.4 375.2 2929.7 386.5 2930.0 397.1 2930.3 403.2 2930.5 402.8 2930.8 408.1 2931.1 404.7 2931.4 363.2 2931.7 394.0 2932.0 378.4 2932.2 378.9 2932.5 366.4 2932.8 379.0 2933.1 377.4 2933.4 388.0 2933.7 383.1 2933.9 395.7 2934.2 370.8 2934.5 377.2 2934.8 371.2 2935.1 373.2 2935.4 377.5 2935.6 373.2 2935.9 361.1 2936.2 385.7 2936.5 396.7 2936.8 377.7 2937.0 393.3 2937.3 380.1 2937.6 369.9 2937.9 368.9 2938.2 401.1 2938.5 376.1 2938.7 387.3 2939.0 355.3 2939.3 348.6 2939.6 371.4 2939.9 356.6 2940.2 367.9 2940.4 333.3 2940.7 379.5 2941.0 378.2 2941.3 342.0 2941.6 357.6 2941.9 367.3 2942.1 383.9 2942.4 369.3 2942.7 339.3 2943.0 356.1 2943.3 367.6 2943.6 384.5 2943.8 394.7 2944.1 381.5 2944.4 348.2 2944.7 338.6 2945.0 344.0 2945.2 348.7 2945.5 372.7 2945.8 360.5 2946.1 397.0 2946.4 372.3 2946.7 356.0 2946.9 362.0 2947.2 363.0 2947.5 362.8 2947.8 367.5 2948.1 339.3 2948.4 352.0 2948.6 381.1 2948.9 358.5 2949.2 377.7 2949.5 390.6 2949.8 362.8 2950.1 351.1 2950.3 361.9 2950.6 362.5 2950.9 354.8 2951.2 355.2 2951.5 354.1 2951.8 351.1 2952.0 338.8 2952.3 340.8 2952.6 381.4 2952.9 391.7 2953.2 385.3 2953.4 370.6 2953.7 377.3 2954.0 360.9 2954.3 371.3 2954.6 372.1 2954.9 380.7 2955.1 365.7 2955.4 387.8 2955.7 368.2 2956.0 372.3 2956.3 375.1 2956.6 353.0 2956.8 346.0 2957.1 352.2 2957.4 371.5 2957.7 400.2 2958.0 384.8 2958.3 396.3 2958.5 388.3 2958.8 369.5 2959.1 345.2 2959.4 385.9 2959.7 356.9 2960.0 352.2 2960.2 359.0 2960.5 357.3 2960.8 374.6 2961.1 379.4 2961.4 371.3 2961.7 367.0 2961.9 374.8 2962.2 377.7 2962.5 366.4 2962.8 380.9 2963.1 358.7 2963.3 385.7 2963.6 342.4 2963.9 351.6 2964.2 338.8 2964.5 370.5 2964.8 363.5 2965.0 374.1 2965.3 386.2 2965.6 407.3 2965.9 363.9 2966.2 371.8 2966.5 377.8 2966.7 406.8 2967.0 380.0 2967.3 346.9 2967.6 365.0 2967.9 363.8 2968.2 384.8 2968.4 367.1 2968.7 375.5 2969.0 372.9 2969.3 371.9 2969.6 387.6 2969.9 377.7 2970.1 386.8 2970.4 375.6 2970.7 377.1 2971.0 373.3 2971.3 341.4 2971.5 338.8 2971.8 364.3 2972.1 370.8 2972.4 387.2 2972.7 373.6 2973.0 354.6 2973.2 359.9 2973.5 365.5 2973.8 353.1 2974.1 355.0 2974.4 386.0 2974.7 378.4 2974.9 376.3 2975.2 394.0 2975.5 384.8 2975.8 371.4 2976.1 376.2 2976.4 374.6 2976.6 364.8 2976.9 362.9 2977.2 352.1 2977.5 372.1 2977.8 366.7 2978.1 356.3 2978.3 420.4 2978.6 372.5 2978.9 370.2 2979.2 372.6 2979.5 370.8 2979.8 357.6 2980.0 377.5 2980.3 373.1 2980.6 361.9 2980.9 377.7 2981.2 340.8 2981.4 363.1 2981.7 363.4 2982.0 351.7 2982.3 357.1 2982.6 358.3 2982.9 363.1 2983.1 373.8 2983.4 361.1 2983.7 364.0 2984.0 376.7 2984.3 363.7 2984.6 347.8 2984.8 369.5 2985.1 369.7 2985.4 368.2 2985.7 340.6 2986.0 362.4 2986.3 337.0 2986.5 351.0 2986.8 352.2 2987.1 363.8 2987.4 364.1 2987.7 336.5 2988.0 358.0 2988.2 367.1 2988.5 354.9 2988.8 376.4 2989.1 348.6 2989.4 363.2 2989.6 346.0 2989.9 351.1 2990.2 367.8 2990.5 357.0 2990.8 363.0 2991.1 362.2 2991.3 369.1 2991.6 386.1 2991.9 393.2 2992.2 375.8 2992.5 384.6 2992.8 366.3 2993.0 364.4 2993.3 365.9 2993.6 372.0 2993.9 365.4 2994.2 359.5 2994.5 363.6 2994.7 377.4 2995.0 373.9 2995.3 372.9 2995.6 387.8 2995.9 382.3 2996.2 376.0 2996.4 370.4 2996.7 365.7 2997.0 376.3 2997.3 360.4 2997.6 364.2 2997.8 368.2 2998.1 360.5 2998.4 401.9 2998.7 397.1 2999.0 357.2 2999.3 373.4 2999.5 370.8 2999.8 388.8 3000.1 391.5 3000.4 389.2 3000.7 396.6 3001.0 369.3 3001.2 375.8 3001.5 369.8 3001.8 369.4 3002.1 377.2 3002.4 376.9 3002.7 363.8 3002.9 375.2 3003.2 375.4 3003.5 374.3 3003.8 359.3 3004.1 360.0 3004.4 367.8 3004.6 354.2 3004.9 373.0 3005.2 390.3 3005.5 392.7 3005.8 366.5 3006.1 381.5 3006.3 406.1 3006.6 424.5 3006.9 364.6 3007.2 378.0 3007.5 379.9 3007.7 371.7 3008.0 364.1 3008.3 379.6 3008.6 379.1 3008.9 402.9 3009.2 367.4 3009.4 383.1 3009.7 379.5 3010.0 374.6 3010.3 366.0 3010.6 378.6 3010.9 381.5 3011.1 362.9 3011.4 384.8 3011.7 384.7 3012.0 366.0 3012.3 356.5 3012.6 357.5 3012.8 359.5 3013.1 365.1 3013.4 376.7 3013.7 366.6 3014.0 357.5 3014.3 369.9 3014.5 359.2 3014.8 346.8 3015.1 337.0 3015.4 355.6 3015.7 346.0 3015.9 339.7 3016.2 341.4 3016.5 347.4 3016.8 373.9 3017.1 396.7 3017.4 350.3 3017.6 373.8 3017.9 356.1 3018.2 359.8 3018.5 361.3 3018.8 376.1 3019.1 361.0 3019.3 354.8 3019.6 353.1 3019.9 347.2 3020.2 360.7 3020.5 354.4 3020.8 357.5 3021.0 360.0 3021.3 356.2 3021.6 367.2 3021.9 365.3 3022.2 338.9 3022.5 352.0 3022.7 377.3 3023.0 346.4 3023.3 370.4 3023.6 369.9 3023.9 363.3 3024.1 366.3 3024.4 361.8 3024.7 352.8 3025.0 351.3 3025.3 352.2 3025.6 339.0 3025.8 347.3 3026.1 348.8 3026.4 350.5 3026.7 348.3 3027.0 373.3 3027.3 378.0 3027.5 349.4 3027.8 336.2 3028.1 346.6 3028.4 337.7 3028.7 354.1 3029.0 352.0 3029.2 355.9 3029.5 360.4 3029.8 362.7 3030.1 359.0 3030.4 369.7 3030.7 392.4 3030.9 359.8 3031.2 377.2 3031.5 365.3 3031.8 351.3 3032.1 368.3 3032.4 345.4 3032.6 364.2 3032.9 358.7 3033.2 366.9 3033.5 362.9 3033.8 353.9 3034.0 385.4 3034.3 369.7 3034.6 366.9 3034.9 357.8 3035.2 364.9 3035.5 369.2 3035.7 378.1 3036.0 379.9 3036.3 377.3 3036.6 366.2 3036.9 370.1 3037.2 357.1 3037.4 370.1 3037.7 362.6 3038.0 375.1 3038.3 366.0 3038.6 377.8 3038.9 384.9 3039.1 366.3 3039.4 373.7 3039.7 371.1 3040.0 367.1 3040.3 376.3 3040.6 376.7 3040.8 348.0 3041.1 370.8 3041.4 370.9 3041.7 367.6 3042.0 375.4 3042.2 370.3 3042.5 369.8 3042.8 356.1 3043.1 362.2 3043.4 352.7 3043.7 345.2 3043.9 370.0 3044.2 358.4 3044.5 370.9 3044.8 347.9 3045.1 363.8 3045.4 366.6 3045.6 379.8 3045.9 363.7 3046.2 373.2 3046.5 363.2 3046.8 373.0 3047.1 361.8 3047.3 373.7 3047.6 368.6 3047.9 374.5 3048.2 360.6 3048.5 358.1 3048.8 366.8 3049.0 344.7 3049.3 345.2 3049.6 365.0 3049.9 368.0 3050.2 365.1 3050.5 366.4 3050.7 378.4 3051.0 365.6 3051.3 353.1 3051.6 372.9 3051.9 375.6 3052.1 380.0 3052.4 369.0 3052.7 389.1 3053.0 370.6 3053.3 364.2 3053.6 374.0 3053.8 381.0 3054.1 382.7 3054.4 382.9 3054.7 384.8 3055.0 388.4 3055.3 357.9 3055.5 369.1 3055.8 398.0 3056.1 357.3 3056.4 387.8 3056.7 374.6 3057.0 371.7 3057.2 370.5 3057.5 362.5 3057.8 376.5 3058.1 385.2 3058.4 364.9 3058.7 370.0 3058.9 367.6 3059.2 362.6 3059.5 354.6 3059.8 350.1 3060.1 363.2 3060.3 366.9 3060.6 367.0 3060.9 379.3 3061.2 345.9 3061.5 374.4 3061.8 369.0 3062.0 367.0 3062.3 364.9 3062.6 362.8 3062.9 369.4 3063.2 356.1 3063.5 361.4 3063.7 389.9 3064.0 383.6 3064.3 374.8 3064.6 344.6 3064.9 364.8 3065.2 375.3 3065.4 365.4 3065.7 377.2 3066.0 369.4 3066.3 363.0 3066.6 384.6 3066.9 372.4 3067.1 369.0 3067.4 371.8 3067.7 361.0 3068.0 382.1 3068.3 376.4 3068.5 382.0 3068.8 376.5 3069.1 364.8 3069.4 371.2 3069.7 380.9 3070.0 403.9 3070.2 360.6 3070.5 360.4 3070.8 354.0 3071.1 367.3 3071.4 376.5 3071.7 376.8 3071.9 358.1 3072.2 351.9 3072.5 350.1 3072.8 372.4 3073.1 363.5 3073.4 357.0 3073.6 391.0 3073.9 365.0 3074.2 393.2 3074.5 367.5 3074.8 382.4 3075.1 377.7 3075.3 390.2 3075.6 396.8 3075.9 367.2 3076.2 364.8 3076.5 371.3 3076.8 375.5 3077.0 368.2 3077.3 360.7 3077.6 375.4 3077.9 376.5 3078.2 364.2 3078.4 378.5 3078.7 387.4 3079.0 371.1 3079.3 353.5 3079.6 361.7 3079.9 383.0 3080.1 352.0 3080.4 385.7 3080.7 375.3 3081.0 383.2 3081.3 366.2 3081.6 365.1 3081.8 351.5 3082.1 371.9 3082.4 421.1 3082.7 368.6 3083.0 395.5 3083.3 387.7 3083.5 391.0 3083.8 386.8 3084.1 386.3 3084.4 387.8 3084.7 370.0 3085.0 374.9 3085.2 386.9 3085.5 398.4 3085.8 365.1 3086.1 373.2 3086.4 378.5 3086.6 374.8 3086.9 377.5 3087.2 386.8 3087.5 374.9 3087.8 374.3 3088.1 370.1 3088.3 357.4 3088.6 374.0 3088.9 357.5 3089.2 369.5 3089.5 372.8 3089.8 366.0 3090.0 379.6 3090.3 366.5 3090.6 362.2 3090.9 383.7 3091.2 384.7 3091.5 366.8 3091.7 360.9 3092.0 383.7 3092.3 356.6 3092.6 348.6 3092.9 364.3 3093.2 355.6 3093.4 370.7 3093.7 377.8 3094.0 373.3 3094.3 359.2 3094.6 364.0 3094.8 366.4 3095.1 363.4 3095.4 357.9 3095.7 378.9 3096.0 353.7 3096.3 354.9 3096.5 388.1 3096.8 372.3 3097.1 361.8 3097.4 361.4 3097.7 344.9 3098.0 365.5 3098.2 371.8 3098.5 372.3 3098.8 361.3 3099.1 363.0 3099.4 359.9 3099.7 357.8 3099.9 348.1 3100.2 350.1 3100.5 374.5 3100.8 360.7 3101.1 386.3 3101.4 361.6 3101.6 360.5 3101.9 364.9 3102.2 357.0 3102.5 356.6 3102.8 368.6 3103.1 372.8 3103.3 377.1 3103.6 384.0 3103.9 373.5 3104.2 385.5 3104.5 368.6 3104.7 351.0 3105.0 353.2 3105.3 348.5 3105.6 375.2 3105.9 372.4 3106.2 364.4 3106.4 385.3 3106.7 371.5 3107.0 377.8 3107.3 368.0 3107.6 378.9 3107.9 367.4 3108.1 369.3 3108.4 368.7 3108.7 380.1 3109.0 360.2 3109.3 374.4 3109.6 381.8 3109.8 349.6 3110.1 346.8 3110.4 373.4 3110.7 357.8 3111.0 367.3 3111.3 372.0 3111.5 363.5 3111.8 366.0 3112.1 365.2 3112.4 348.8 3112.7 383.6 3112.9 353.1 3113.2 377.6 3113.5 364.0 3113.8 383.2 3114.1 359.0 3114.4 385.0 3114.6 359.9 3114.9 373.4 3115.2 385.6 3115.5 388.3 3115.8 372.1 3116.1 376.1 3116.3 363.4 3116.6 365.7 3116.9 371.5 3117.2 340.6 3117.5 344.5 3117.8 347.7 3118.0 353.0 3118.3 355.6 3118.6 342.1 3118.9 358.8 3119.2 364.8 3119.5 356.2 3119.7 363.0 3120.0 372.3 3120.3 351.5 3120.6 377.0 3120.9 356.5 3121.2 371.2 3121.4 369.7 3121.7 373.9 3122.0 370.0 3122.3 343.8 3122.6 362.4 3122.8 368.6 3123.1 358.4 3123.4 354.5 3123.7 381.0 3124.0 372.8 3124.3 356.3 3124.5 352.2 3124.8 358.9 3125.1 369.2 3125.4 364.3 3125.7 368.9 3126.0 354.6 3126.2 356.8 3126.5 347.9 3126.8 354.3 3127.1 359.3 3127.4 371.0 3127.7 384.3 3127.9 362.4 3128.2 370.2 3128.5 373.2 3128.8 375.9 3129.1 366.2 3129.4 370.0 3129.6 358.2 3129.9 369.8 3130.2 364.5 3130.5 370.3 3130.8 378.7 3131.0 384.8 3131.3 375.5 3131.6 394.7 3131.9 369.0 3132.2 365.5 3132.5 377.9 3132.7 362.1 3133.0 366.0 3133.3 360.3 3133.6 359.8 3133.9 386.4 3134.2 393.2 3134.4 373.2 3134.7 367.1 3135.0 364.8 3135.3 368.2 3135.6 373.8 3135.9 400.7 3136.1 366.5 3136.4 397.2 3136.7 380.2 3137.0 381.3 3137.3 370.2 3137.6 383.4 3137.8 378.4 3138.1 372.1 3138.4 390.6 3138.7 379.3 3139.0 389.5 3139.2 372.6 3139.5 362.2 3139.8 360.9 3140.1 360.6 3140.4 380.7 3140.7 378.7 3140.9 379.7 3141.2 361.0 3141.5 374.7 3141.8 375.3 3142.1 368.4 3142.4 376.2 3142.6 369.8 3142.9 393.6 3143.2 366.7 3143.5 370.2 3143.8 362.5 3144.1 363.0 3144.3 395.5 3144.6 361.1 3144.9 375.4 3145.2 359.7 3145.5 373.9 3145.8 372.7 3146.0 392.2 3146.3 401.8 3146.6 375.9 3146.9 383.0 3147.2 365.5 3147.5 374.2 3147.7 384.5 3148.0 379.0 3148.3 373.3 3148.6 367.9 3148.9 373.7 3149.1 378.4 3149.4 364.2 3149.7 359.7 3150.0 372.7 3150.3 382.9 3150.6 370.7 3150.8 383.8 3151.1 372.0 3151.4 381.1 3151.7 383.4 3152.0 383.1 3152.3 389.0 3152.5 382.7 3152.8 389.8 3153.1 377.9 3153.4 372.4 3153.7 375.4 3154.0 385.7 3154.2 370.7 3154.5 372.4 3154.8 387.5 3155.1 385.2 3155.4 376.7 3155.7 374.2 3155.9 375.9 3156.2 382.1 3156.5 378.0 3156.8 375.8 3157.1 379.2 3157.3 368.5 3157.6 370.1 3157.9 371.1 3158.2 390.9 3158.5 374.4 3158.8 374.2 3159.0 375.1 3159.3 380.8 3159.6 367.6 3159.9 382.0 3160.2 371.7 3160.5 375.6 3160.7 368.0 3161.0 370.8 3161.3 366.4 3161.6 386.1 3161.9 389.0 3162.2 375.9 3162.4 371.0 3162.7 390.0 3163.0 358.2 3163.3 376.0 3163.6 366.3 3163.9 323.3 3164.1 371.9 3164.4 376.1 3164.7 372.0 3165.0 365.2 3165.3 352.7 3165.5 372.8 3165.8 368.9 3166.1 379.8 3166.4 372.8 3166.7 359.2 3167.0 369.5 3167.2 365.7 3167.5 369.1 3167.8 364.6 3168.1 358.3 3168.4 361.0 3168.7 358.7 3168.9 363.7 3169.2 344.7 3169.5 360.2 3169.8 366.9 3170.1 367.1 3170.4 373.3 3170.6 362.3 3170.9 373.0 3171.2 380.4 3171.5 350.4 3171.8 379.0 3172.1 377.7 3172.3 376.4 3172.6 367.3 3172.9 371.3 3173.2 371.2 3173.5 362.3 3173.8 360.5 3174.0 373.1 3174.3 384.6 3174.6 374.1 3174.9 381.3 3175.2 367.5 3175.4 367.8 3175.7 376.3 3176.0 363.5 3176.3 375.6 3176.6 375.3 3176.9 377.6 3177.1 364.5 3177.4 376.6 3177.7 368.3 3178.0 376.9 3178.3 380.8 3178.6 385.5 3178.8 383.3 3179.1 373.1 3179.4 359.1 3179.7 363.7 3180.0 381.2 3180.3 378.3 3180.5 363.5 3180.8 376.8 3181.1 380.5 3181.4 377.5 3181.7 375.0 3182.0 389.3 3182.2 372.1 3182.5 351.8 3182.8 361.0 3183.1 377.3 3183.4 368.7 3183.6 369.1 3183.9 374.6 3184.2 377.3 3184.5 376.5 3184.8 373.2 3185.1 363.7 3185.3 367.3 3185.6 367.1 3185.9 373.5 3186.2 367.4 3186.5 366.0 3186.8 370.6 3187.0 370.5 3187.3 361.4 3187.6 369.4 3187.9 368.4 3188.2 370.1 3188.5 380.3 3188.7 373.2 3189.0 372.4 3189.3 366.6 3189.6 377.4 3189.9 388.7 3190.2 369.0 3190.4 375.0 3190.7 376.8 3191.0 372.6 3191.3 374.2 3191.6 360.4 3191.8 369.4 3192.1 370.7 3192.4 357.7 3192.7 363.7 3193.0 353.5 3193.3 361.7 3193.5 368.6 3193.8 371.5 3194.1 372.9 3194.4 362.0 3194.7 353.3 3195.0 351.4 3195.2 345.8 3195.5 361.2 3195.8 357.1 3196.1 361.7 3196.4 356.3 3196.7 368.8 3196.9 360.9 3197.2 367.4 3197.5 356.4 3197.8 374.1 3198.1 358.8 3198.4 369.0 3198.6 373.9 3198.9 359.4 3199.2 345.3 3199.5 364.1 3199.8 377.4 3200.1 390.8 3200.3 395.9 3200.6 387.6 3200.9 386.5 3201.2 376.4 3201.5 398.3 3201.7 387.8 3202.0 381.0 3202.3 364.1 3202.6 362.8 3202.9 369.8 3203.2 368.1 3203.4 385.2 3203.7 396.9 3204.0 394.3 3204.3 387.8 3204.6 383.7 3204.9 384.7 3205.1 399.2 3205.4 384.3 3205.7 385.4 3206.0 379.7 3206.3 393.4 3206.6 393.2 3206.8 403.3 3207.1 395.8 3207.4 402.2 3207.7 392.1 3208.0 386.3 3208.3 397.8 3208.5 378.3 3208.8 375.5 3209.1 386.8 3209.4 377.2 3209.7 397.4 3209.9 398.2 3210.2 383.9 3210.5 368.1 3210.8 372.0 3211.1 391.7 3211.4 388.4 3211.6 376.9 3211.9 391.0 3212.2 385.3 3212.5 391.1 3212.8 368.8 3213.1 369.3 3213.3 390.0 3213.6 402.0 3213.9 391.3 3214.2 391.1 3214.5 388.4 3214.8 379.9 3215.0 376.0 3215.3 370.2 3215.6 374.7 3215.9 373.3 3216.2 367.3 3216.5 380.2 3216.7 383.6 3217.0 388.0 3217.3 384.5 3217.6 387.3 3217.9 387.7 3218.2 385.9 3218.4 386.4 3218.7 380.6 3219.0 370.4 3219.3 370.8 3219.6 389.7 3219.8 386.5 3220.1 386.9 3220.4 391.9 3220.7 387.2 3221.0 401.0 3221.3 387.5 3221.5 387.7 3221.8 388.6 3222.1 374.4 3222.4 374.0 3222.7 382.3 3223.0 383.2 3223.2 391.4 3223.5 381.9 3223.8 374.9 3224.1 399.0 3224.4 385.7 3224.7 399.0 3224.9 417.8 3225.2 389.3 3225.5 383.1 3225.8 384.0 3226.1 386.0 3226.4 384.7 3226.6 392.6 3226.9 390.1 3227.2 380.0 3227.5 386.2 3227.8 399.6 3228.0 395.1 3228.3 391.9 3228.6 395.0 3228.9 389.1 3229.2 389.9 3229.5 392.2 3229.7 392.2 3230.0 396.4 3230.3 387.5 3230.6 369.8 3230.9 391.7 3231.2 376.3 3231.4 386.0 3231.7 387.6 3232.0 386.3 3232.3 384.8 3232.6 374.7 3232.9 380.7 3233.1 387.5 3233.4 386.8 3233.7 375.2 3234.0 389.8 3234.3 389.8 3234.6 372.8 3234.8 380.7 3235.1 363.2 3235.4 351.7 3235.7 366.1 3236.0 375.7 3236.2 360.6 3236.5 368.4 3236.8 357.5 3237.1 368.8 3237.4 370.9 3237.7 374.2 3237.9 361.5 3238.2 370.7 3238.5 368.4 3238.8 374.5 3239.1 379.4 3239.4 388.4 3239.6 387.5 3239.9 394.8 3240.2 379.3 3240.5 371.8 3240.8 354.2 3241.1 359.4 3241.3 368.0 3241.6 368.3 3241.9 378.4 3242.2 376.5 3242.5 375.2 3242.8 372.5 3243.0 379.1 3243.3 379.0 3243.6 362.5 3243.9 378.7 3244.2 360.1 3244.5 358.4 3244.7 356.1 3245.0 370.6 3245.3 369.4 3245.6 366.3 3245.9 372.6 3246.1 372.7 3246.4 381.0 3246.7 381.9 3247.0 393.5 3247.3 394.0 3247.6 390.2 3247.8 387.2 3248.1 391.0 3248.4 380.1 3248.7 417.8 3249.0 378.3 3249.3 370.1 3249.5 393.6 3249.8 381.1 3250.1 396.1 3250.4 380.2 3250.7 388.3 3251.0 383.8 3251.2 376.7 3251.5 382.7 3251.8 380.5 3252.1 375.9 3252.4 362.5 3252.7 362.2 3252.9 383.5 3253.2 386.8 3253.5 380.9 3253.8 389.3 3254.1 391.2 3254.3 372.0 3254.6 374.2 3254.9 356.5 3255.2 379.9 3255.5 363.7 3255.8 363.0 3256.0 368.7 3256.3 365.0 3256.6 386.3 3256.9 365.1 3257.2 367.3 3257.5 377.9 3257.7 364.4 3258.0 396.8 3258.3 364.4 3258.6 367.8 3258.9 365.8 3259.2 376.5 3259.4 358.0 3259.7 367.8 3260.0 362.8 3260.3 356.2 3260.6 369.0 3260.9 383.7 3261.1 362.0 3261.4 362.8 3261.7 370.8 3262.0 381.4 3262.3 380.5 3262.6 371.2 3262.8 367.1 3263.1 379.0 3263.4 367.5 3263.7 382.9 3264.0 369.3 3264.2 373.3 3264.5 378.2 3264.8 377.6 3265.1 379.0 3265.4 368.1 3265.7 369.2 3265.9 377.8 3266.2 372.3 3266.5 370.8 3266.8 404.0 3267.1 381.1 3267.4 393.5 3267.6 387.1 3267.9 386.2 3268.2 391.3 3268.5 369.1 3268.8 364.9 3269.1 388.5 3269.3 363.7 3269.6 375.1 3269.9 382.7 3270.2 374.5 3270.5 391.7 3270.8 378.6 3271.0 381.3 3271.3 387.8 3271.6 366.4 3271.9 390.9 3272.2 396.4 3272.4 384.4 3272.7 369.4 3273.0 389.7 3273.3 369.3 3273.6 380.6 3273.9 367.8 3274.1 361.7 3274.4 349.1 3274.7 371.1 3275.0 353.8 3275.3 368.4 3275.6 375.4 3275.8 353.8 3276.1 347.5 3276.4 347.1 3276.7 352.7 3277.0 358.5 3277.3 340.0 3277.5 341.2 3277.8 356.8 3278.1 331.1 3278.4 355.8 3278.7 353.2 3279.0 352.7 3279.2 358.9 3279.5 359.0 3279.8 355.2 3280.1 355.2 3280.4 348.8 3280.6 378.2 3280.9 354.4 3281.2 358.5 3281.5 359.9 3281.8 361.8 3282.1 362.0 3282.3 350.5 3282.6 341.4 3282.9 364.5 3283.2 350.9 3283.5 374.0 3283.8 359.4 3284.0 351.0 3284.3 356.3 3284.6 371.7 3284.9 371.8 3285.2 367.2 3285.5 357.7 3285.7 369.2 3286.0 366.9 3286.3 360.6 3286.6 368.3 3286.9 370.2 3287.2 353.8 3287.4 360.0 3287.7 357.8 3288.0 362.0 3288.3 341.0 3288.6 365.2 3288.9 363.0 3289.1 349.0 3289.4 360.0 3289.7 346.3 3290.0 347.3 3290.3 362.7 3290.5 360.7 3290.8 369.8 3291.1 344.5 3291.4 348.3 3291.7 346.6 3292.0 348.4 3292.2 365.7 3292.5 372.6 3292.8 372.2 3293.1 374.7 3293.4 358.9 3293.7 363.3 3293.9 358.0 3294.2 358.1 3294.5 357.9 3294.8 368.2 3295.1 359.2 3295.4 370.5 3295.6 359.1 3295.9 369.4 3296.2 368.9 3296.5 366.6 3296.8 369.5 3297.1 367.0 3297.3 359.4 3297.6 373.3 3297.9 362.6 3298.2 349.9 3298.5 366.0 3298.7 368.7 3299.0 353.5 3299.3 367.5 3299.6 374.4 3299.9 372.8 3300.2 370.0 3300.4 369.0 3300.7 380.8 3301.0 374.1 3301.3 364.7 3301.6 376.6 3301.9 373.2 3302.1 370.0 3302.4 384.0 3302.7 364.8 3303.0 363.3 3303.3 359.2 3303.6 346.1 3303.8 370.8 3304.1 370.3 3304.4 366.6 3304.7 373.7 3305.0 371.9 3305.3 381.3 3305.5 388.0 3305.8 364.6 3306.1 372.2 3306.4 366.0 3306.7 358.1 3306.9 371.9 3307.2 381.7 3307.5 385.5 3307.8 370.9 3308.1 375.0 3308.4 380.9 3308.6 372.7 3308.9 354.5 3309.2 367.8 3309.5 368.1 3309.8 369.0 3310.1 354.2 3310.3 373.9 3310.6 385.6 3310.9 372.7 3311.2 360.2 3311.5 362.3 3311.8 356.1 3312.0 372.0 3312.3 352.6 3312.6 331.1 3312.9 370.0 3313.2 375.5 3313.5 367.4 3313.7 359.2 3314.0 366.9 3314.3 367.9 3314.6 363.6 3314.9 359.0 3315.2 373.8 3315.4 378.3 3315.7 365.5 3316.0 367.1 3316.3 368.1 3316.6 373.7 3316.8 361.7 3317.1 365.4 3317.4 369.5 3317.7 343.4 3318.0 368.4 3318.3 359.5 3318.5 364.1 3318.8 374.7 3319.1 370.1 3319.4 380.1 3319.7 370.7 3320.0 366.3 3320.2 359.8 3320.5 374.8 3320.8 354.7 3321.1 361.1 3321.4 371.0 3321.7 379.0 3321.9 362.3 3322.2 368.7 3322.5 354.3 3322.8 366.1 3323.1 376.1 3323.4 368.3 3323.6 367.7 3323.9 361.6 3324.2 386.7 3324.5 361.8 3324.8 371.6 3325.0 360.9 3325.3 370.0 3325.6 365.1 3325.9 366.0 3326.2 353.0 3326.5 367.4 3326.7 382.0 3327.0 390.3 3327.3 381.0 3327.6 384.2 3327.9 378.6 3328.2 381.0 3328.4 378.6 3328.7 370.1 3329.0 379.1 3329.3 386.1 3329.6 373.2 3329.9 375.2 3330.1 368.4 3330.4 361.8 3330.7 383.0 3331.0 386.3 3331.3 372.1 3331.6 373.1 3331.8 359.2 3332.1 371.6 3332.4 376.2 3332.7 380.1 3333.0 393.0 3333.2 375.4 3333.5 367.0 3333.8 372.8 3334.1 366.8 3334.4 370.0 3334.7 372.8 3334.9 377.3 3335.2 372.3 3335.5 356.0 3335.8 364.8 3336.1 366.7 3336.4 369.8 3336.6 359.3 3336.9 379.3 3337.2 358.0 3337.5 359.8 3337.8 353.8 3338.1 359.4 3338.3 352.1 3338.6 358.2 3338.9 370.9 3339.2 378.1 3339.5 365.8 3339.8 362.9 3340.0 367.6 3340.3 365.9 3340.6 364.0 3340.9 387.0 3341.2 365.9 3341.5 362.1 3341.7 355.7 3342.0 370.5 3342.3 363.6 3342.6 371.3 3342.9 361.4 3343.1 370.8 3343.4 366.2 3343.7 379.5 3344.0 374.0 3344.3 373.4 3344.6 379.1 3344.8 375.3 3345.1 376.1 3345.4 376.0 3345.7 371.6 3346.0 375.9 3346.3 374.9 3346.5 374.5 3346.8 370.5 3347.1 351.1 3347.4 351.1 3347.7 369.8 3348.0 366.7 3348.2 361.5 3348.5 362.8 3348.8 350.9 3349.1 373.9 3349.4 381.6 3349.7 376.7 3349.9 371.3 3350.2 364.7 3350.5 376.8 3350.8 371.3 3351.1 370.7 3351.3 378.3 3351.6 390.1 3351.9 372.7 3352.2 366.0 3352.5 376.0 3352.8 381.3 3353.0 385.9 3353.3 386.6 3353.6 381.3 3353.9 388.6 3354.2 398.1 3354.5 399.7 3354.7 374.5 3355.0 368.1 3355.3 367.4 3355.6 364.7 3355.9 377.2 3356.2 373.1 3356.4 383.9 3356.7 386.2 3357.0 400.1 3357.3 385.5 3357.6 382.4 3357.9 387.2 3358.1 376.1 3358.4 381.3 3358.7 375.2 3359.0 379.2 3359.3 387.0 3359.6 381.0 3359.8 373.0 3360.1 378.9 3360.4 369.7 3360.7 367.0 3361.0 368.3 3361.2 376.4 3361.5 369.9 3361.8 375.5 3362.1 382.8 3362.4 379.3 3362.7 388.3 3362.9 375.4 3363.2 370.2 3363.5 381.2 3363.8 384.0 3364.1 376.4 3364.4 365.1 3364.6 364.7 3364.9 369.5 3365.2 389.3 3365.5 358.2 3365.8 361.8 3366.1 383.3 3366.3 361.3 3366.6 376.1 3366.9 369.6 3367.2 392.1 3367.5 382.8 3367.8 379.7 3368.0 369.4 3368.3 366.4 3368.6 373.2 3368.9 390.0 3369.2 372.4 3369.4 377.6 3369.7 361.1 3370.0 373.5 3370.3 377.2 3370.6 361.5 3370.9 380.0 3371.1 358.7 3371.4 323.3 3371.7 356.3 3372.0 369.4 3372.3 351.3 3372.6 358.4 3372.8 350.0 3373.1 355.4 3373.4 341.6 3373.7 349.6 3374.0 343.3 3374.3 359.4 3374.5 354.9 3374.8 377.7 3375.1 372.2 3375.4 356.1 3375.7 364.8 3376.0 367.3 3376.2 357.2 3376.5 362.8 3376.8 379.0 3377.1 362.4 3377.4 369.9 3377.6 374.7 3377.9 364.6 3378.2 364.9 3378.5 361.1 3378.8 377.7 3379.1 381.9 3379.3 353.1 3379.6 365.3 3379.9 357.1 3380.2 368.3 3380.5 363.3 3380.8 358.8 3381.0 388.5 3381.3 374.3 3381.6 364.4 3381.9 388.0 3382.2 364.3 3382.5 372.7 3382.7 388.4 3383.0 379.7 3383.3 381.6 3383.6 380.8 3383.9 372.6 3384.2 386.7 3384.4 373.9 3384.7 373.7 3385.0 381.3 3385.3 379.2 3385.6 353.4 3385.9 383.0 3386.1 384.9 3386.4 372.7 3386.7 383.6 3387.0 380.0 3387.3 394.6 3387.5 366.7 3387.8 384.2 3388.1 379.1 3388.4 364.0 3388.7 374.0 3389.0 371.8 3389.2 372.0 3389.5 369.4 3389.8 393.4 3390.1 379.4 3390.4 385.0 3390.7 381.4 3390.9 383.9 3391.2 375.1 3391.5 381.2 3391.8 381.1 3392.1 366.9 3392.4 363.9 3392.6 365.2 3392.9 356.8 3393.2 370.8 3393.5 370.6 3393.8 369.3 3394.1 369.7 3394.3 364.2 3394.6 371.5 3394.9 380.0 3395.2 390.7 3395.5 376.7 3395.7 379.4 3396.0 384.0 3396.3 397.2 3396.6 377.6 3396.9 378.4 3397.2 400.4 3397.4 383.7 3397.7 376.1 3398.0 365.9 3398.3 371.2 3398.6 389.5 3398.9 387.6 3399.1 404.2 3399.4 392.7 3399.7 386.7 3400.0 387.4 3400.3 394.7 3400.6 388.4 3400.8 368.2 3401.1 389.9 3401.4 386.0 3401.7 380.8 3402.0 385.7 3402.3 392.7 3402.5 377.4 3402.8 369.1 3403.1 376.9 3403.4 377.2 3403.7 389.3 3404.0 385.3 3404.2 379.6 3404.5 367.1 3404.8 400.5 3405.1 384.9 3405.4 384.5 3405.6 369.3 3405.9 404.0 3406.2 390.6 3406.5 389.4 3406.8 390.5 3407.1 396.4 3407.3 386.2 3407.6 373.7 3407.9 383.7 3408.2 394.3 3408.5 384.9 3408.8 388.5 3409.0 381.8 3409.3 377.3 3409.6 379.5 3409.9 382.6 3410.2 395.5 3410.5 400.8 3410.7 382.8 3411.0 380.9 3411.3 375.2 3411.6 377.2 3411.9 380.2 3412.2 375.6 3412.4 373.0 3412.7 389.2 3413.0 394.6 3413.3 367.2 3413.6 367.3 3413.8 374.3 3414.1 353.6 3414.4 377.2 3414.7 383.4 3415.0 372.7 3415.3 359.4 3415.5 377.0 3415.8 371.0 3416.1 388.9 3416.4 369.6 3416.7 374.6 3417.0 375.7 3417.2 375.7 3417.5 367.1 3417.8 392.3 3418.1 386.6 3418.4 380.7 3418.7 358.8 3418.9 369.2 3419.2 376.9 3419.5 365.5 3419.8 361.1 3420.1 372.4 3420.4 371.7 3420.6 377.9 3420.9 374.1 3421.2 392.3 3421.5 380.1 3421.8 375.9 3422.0 387.4 3422.3 359.3 3422.6 371.6 3422.9 382.0 3423.2 388.5 3423.5 387.0 3423.7 388.3 3424.0 381.8 3424.3 395.9 3424.6 389.8 3424.9 370.1 3425.2 385.4 3425.4 362.5 3425.7 383.9 3426.0 396.3 3426.3 396.3 3426.6 379.5 3426.9 389.7 3427.1 395.0 3427.4 375.7 3427.7 377.9 3428.0 390.6 3428.3 397.7 3428.6 403.1 3428.8 389.7 3429.1 389.4 3429.4 387.9 3429.7 383.8 3430.0 381.3 3430.3 393.8 3430.5 387.9 3430.8 383.7 3431.1 391.7 3431.4 394.6 3431.7 400.1 3431.9 397.2 3432.2 390.9 3432.5 392.6 3432.8 400.5 3433.1 396.3 3433.4 402.3 3433.6 421.1 3433.9 395.3 3434.2 398.5 3434.5 382.3 3434.8 394.2 3435.1 397.7 3435.3 401.3 3435.6 401.4 3435.9 394.7 3436.2 398.4 3436.5 385.4 3436.8 388.6 3437.0 387.7 3437.3 392.1 3437.6 398.6 3437.9 383.7 3438.2 391.0 3438.5 384.4 3438.7 379.5 3439.0 383.8 3439.3 381.8 3439.6 385.3 3439.9 367.1 3440.1 371.5 3440.4 392.6 3440.7 374.6 3441.0 363.4 3441.3 365.1 3441.6 373.9 3441.8 383.6 3442.1 387.3 3442.4 380.0 3442.7 376.9 3443.0 373.8 3443.3 377.2 3443.5 382.8 3443.8 373.3 3444.1 375.9 3444.4 394.7 3444.7 387.2 3445.0 373.9 3445.2 366.3 3445.5 376.3 3445.8 383.7 3446.1 370.6 3446.4 378.4 3446.7 382.0 3446.9 392.2 3447.2 384.8 3447.5 376.2 3447.8 378.7 3448.1 371.4 3448.3 390.5 3448.6 363.1 3448.9 388.2 3449.2 372.4 3449.5 383.8 3449.8 373.9 3450.0 369.0 3450.3 365.6 3450.6 382.0 3450.9 363.3 3451.2 373.2 3451.5 383.9 3451.7 373.5 3452.0 359.1 3452.3 371.2 3452.6 362.0 3452.9 378.3 3453.2 371.5 3453.4 360.8 3453.7 371.2 3454.0 366.2 3454.3 364.5 3454.6 348.4 3454.9 358.1 3455.1 368.3 3455.4 371.4 3455.7 378.0 3456.0 382.4 3456.3 382.4 3456.6 382.3 3456.8 366.9 3457.1 374.6 3457.4 378.8 3457.7 379.6 3458.0 376.7 3458.2 375.1 3458.5 382.7 3458.8 387.0 3459.1 372.1 3459.4 366.5 3459.7 384.6 3459.9 388.5 3460.2 401.1 3460.5 370.5 3460.8 398.8 3461.1 399.2 3461.4 388.1 3461.6 392.4 3461.9 379.2 3462.2 390.5 3462.5 376.6 3462.8 372.5 3463.1 372.0 3463.3 359.8 3463.6 375.5 3463.9 381.0 3464.2 374.6 3464.5 386.0 3464.8 369.3 3465.0 370.5 3465.3 368.8 3465.6 388.9 3465.9 386.2 3466.2 371.2 3466.4 360.4 3466.7 375.7 3467.0 364.3 3467.3 357.5 3467.6 357.6 3467.9 346.1 3468.1 356.2 3468.4 350.2 3468.7 369.9 3469.0 355.5 3469.3 375.6 3469.6 360.7 3469.8 348.8 3470.1 362.4 3470.4 364.7 3470.7 367.7 3471.0 344.4 3471.3 352.6 3471.5 370.4 3471.8 361.8 3472.1 357.2 3472.4 371.5 3472.7 360.9 3473.0 372.8 3473.2 379.0 3473.5 350.0 3473.8 359.6 3474.1 370.6 3474.4 349.8 3474.7 351.6 3474.9 347.9 3475.2 349.4 3475.5 336.7 3475.8 350.4 3476.1 363.2 3476.3 340.5 3476.6 348.0 3476.9 376.4 3477.2 345.3 3477.5 365.7 3477.8 345.0 3478.0 339.1 3478.3 347.3 3478.6 348.0 3478.9 339.7 3479.2 342.2 3479.5 345.8 3479.7 358.8 3480.0 348.7 3480.3 358.1 3480.6 345.1 3480.9 342.1 3481.2 341.4 3481.4 345.8 3481.7 367.1 3482.0 364.1 3482.3 381.9 3482.6 358.0 3482.9 344.8 3483.1 348.8 3483.4 359.7 3483.7 353.3 3484.0 356.1 3484.3 360.7 3484.5 355.6 3484.8 362.5 3485.1 355.9 3485.4 364.0 3485.7 358.9 3486.0 367.0 3486.2 353.1 3486.5 360.1 3486.8 339.1 3487.1 355.6 3487.4 392.4 3487.7 350.3 3487.9 359.4 3488.2 358.9 3488.5 354.2 3488.8 359.6 3489.1 362.2 3489.4 362.1 3489.6 347.9 3489.9 342.3 3490.2 338.8 3490.5 347.3 3490.8 343.0 3491.1 342.3 3491.3 364.2 3491.6 367.6 3491.9 370.9 3492.2 343.3 3492.5 360.3 3492.7 341.4 3493.0 352.0 3493.3 341.6 3493.6 386.2 3493.9 391.7 3494.2 380.6 3494.4 386.1 3494.7 351.9 3495.0 349.5 3495.3 353.7 3495.6 349.5 3495.9 330.0 3496.1 364.2 3496.4 371.5 3496.7 380.3 3497.0 359.5 3497.3 340.4 3497.6 374.3 3497.8 344.4 3498.1 373.5 3498.4 389.0 3498.7 398.0 3499.0 372.7 3499.3 369.8 3499.5 363.0 3499.8 364.4 3500.1 358.8 3500.4 359.0 3500.7 360.4 3501.0 386.2 3501.2 360.3 3501.5 359.5 3501.8 360.5 3502.1 385.3 3502.4 372.1 3502.6 371.1 3502.9 364.9 3503.2 364.9 3503.5 361.3 3503.8 368.2 3504.1 364.6 3504.3 374.4 3504.6 374.7 3504.9 385.8 3505.2 369.9 3505.5 373.0 3505.8 382.5 3506.0 352.2 3506.3 365.0 3506.6 350.3 3506.9 365.8 3507.2 381.0 3507.5 384.4 3507.7 381.3 3508.0 398.8 3508.3 397.6 3508.6 377.6 3508.9 382.7 3509.2 393.3 3509.4 376.9 3509.7 402.1 3510.0 398.7 3510.3 394.6 3510.6 389.5 3510.8 379.1 3511.1 389.4 3511.4 398.5 3511.7 395.5 3512.0 387.8 3512.3 389.1 3512.5 386.8 3512.8 389.6 3513.1 379.8 3513.4 394.9 3513.7 395.0 3514.0 390.6 3514.2 396.0 3514.5 385.7 3514.8 389.0 3515.1 390.3 3515.4 400.7 3515.7 386.9 3515.9 399.4 3516.2 395.8 3516.5 383.0 3516.8 383.6 3517.1 393.4 3517.4 388.9 3517.6 390.3 3517.9 391.4 3518.2 390.9 3518.5 395.8 3518.8 391.1 3519.0 380.7 3519.3 399.0 3519.6 398.0 3519.9 375.9 3520.2 395.2 3520.5 389.5 3520.7 386.2 3521.0 377.9 3521.3 380.5 3521.6 379.4 3521.9 388.6 3522.2 393.4 3522.4 366.8 3522.7 380.9 3523.0 380.1 3523.3 398.0 3523.6 391.7 3523.9 388.4 3524.1 373.4 3524.4 379.5 3524.7 366.7 3525.0 374.8 3525.3 379.0 3525.6 376.6 3525.8 385.9 3526.1 394.6 3526.4 381.9 3526.7 393.3 3527.0 377.9 3527.3 383.6 3527.5 362.1 3527.8 386.3 3528.1 375.7 3528.4 386.9 3528.7 400.8 3528.9 394.5 3529.2 400.1 3529.5 394.9 3529.8 389.3 3530.1 378.1 3530.4 385.8 3530.6 398.6 3530.9 403.7 3531.2 397.4 3531.5 405.6 3531.8 397.1 3532.1 384.3 3532.3 384.3 3532.6 384.1 3532.9 383.2 3533.2 375.1 3533.5 395.9 3533.8 391.2 3534.0 382.8 3534.3 378.8 3534.6 378.3 3534.9 381.1 3535.2 376.2 3535.5 386.9 3535.7 380.9 3536.0 369.8 3536.3 374.2 3536.6 401.0 3536.9 375.9 3537.1 377.8 3537.4 386.9 3537.7 372.8 3538.0 371.4 3538.3 377.2 3538.6 379.4 3538.8 389.2 3539.1 365.8 3539.4 383.1 3539.7 369.5 3540.0 376.6 3540.3 373.8 3540.5 376.6 3540.8 378.2 3541.1 384.9 3541.4 379.5 3541.7 357.9 3542.0 380.1 3542.2 367.0 3542.5 363.2 3542.8 362.5 3543.1 359.2 3543.4 367.9 3543.7 361.1 3543.9 362.2 3544.2 364.8 3544.5 359.5 3544.8 361.9 3545.1 356.2 3545.3 367.8 3545.6 366.0 3545.9 358.5 3546.2 358.7 3546.5 370.0 3546.8 363.1 3547.0 369.6 3547.3 357.4 3547.6 364.8 3547.9 370.2 3548.2 365.3 3548.5 364.6 3548.7 342.5 3549.0 351.1 3549.3 343.6 3549.6 363.3 3549.9 363.6 3550.2 360.9 3550.4 358.8 3550.7 354.7 3551.0 351.1 3551.3 365.5 3551.6 360.2 3551.9 359.3 3552.1 362.6 3552.4 347.8" stroke="#000000" stroke-width="6.25" fill="none" stroke-linejoin="round" stroke-linecap="square"/>
<path d="M328.50 663.30v14.58M894.10 663.30v14.58M1459.70 663.30v14.58M2025.30 663.30v14.58M2590.90 663.30v14.58M3156.50 663.30v14.58M328.50 186.70h-14.58M328.50 372.75h-14.58M328.50 558.80h-14.58" stroke="#000" stroke-width="3.333" fill="none"/>
<rect x="328.50" y="82.40" width="3224.00" height="580.90" fill="none" stroke="#000" stroke-width="3.333" stroke-linejoin="miter"/>
<text class="t" x="327.30" y="723.30" text-anchor="middle">0</text>
<text class="t" x="892.90" y="723.30" text-anchor="middle">10</text>
<text class="t" x="1458.50" y="723.30" text-anchor="middle">20</text>
<text class="t" x="2024.10" y="723.30" text-anchor="middle">30</text>
<text class="t" x="2589.70" y="723.30" text-anchor="middle">40</text>
<text class="t" x="3155.30" y="723.30" text-anchor="middle">50</text>
<text class="t" x="299.33" y="201.30" text-anchor="end">0.05</text>
<text class="t" x="299.33" y="387.35" text-anchor="end">0.00</text>
<text class="t" x="299.33" y="573.40" text-anchor="end">−0.05</text>
<text class="l" x="1939.50" y="794.00" text-anchor="middle">Time (s)</text>
<text class="l" transform="translate(142.00 373.85) rotate(-90)" text-anchor="middle">Acceleration (cm/s/s)</text>
<path d="M328.50 856.70V1438.40M894.10 856.70V1438.40M1459.70 856.70V1438.40M2025.30 856.70V1438.40M2590.90 856.70V1438.40M3156.50 856.70V1438.40M328.50 930.40H3552.50M328.50 1038.85H3552.50M328.50 1147.30H3552.50M328.50 1255.75H3552.50M328.50 1364.20H3552.50" stroke="#b0b0b0" stroke-width="3.333" fill="none"/>
<path clip-path="url(#c1)" d="M328.5 1275.1 329.1 1270.7 329.6 1264.6 330.2 1260.1 330.8 1253.8 331.3 1248.1 331.9 1242.8 332.5 1238.7 333.0 1234.9 333.6 1232.8 334.2 1226.7 334.7 1221.5 335.3 1220.5 335.9 1218.8 336.4 1215.5 337.0 1210.8 337.5 1207.9 338.1 1203.0 338.7 1195.3 339.2 1190.9 339.8 1184.1 340.4 1177.6 340.9 1172.5 341.5 1170.2 342.1 1166.8 342.6 1163.8 343.2 1161.6 343.8 1156.0 344.3 1149.8 344.9 1143.7 345.5 1139.9 346.0 1134.8 346.6 1129.7 347.2 1126.3 347.7 1126.2 348.3 1126.9 348.9 1126.5 349.4 1124.3 350.0 1118.3 350.6 1113.5 351.1 1110.8 351.7 1111.2 352.3 1110.0 352.8 1110.6 353.4 1110.1 354.0 1109.6 354.5 1106.7 355.1 1100.8 355.6 1096.1 356.2 1091.9 356.8 1089.8 357.3 1089.9 357.9 1087.5 358.5 1089.8 359.0 1090.3 359.6 1088.1 360.2 1083.7 360.7 1080.5 361.3 1078.0 361.9 1077.5 362.4 1078.7 363.0 1078.3 363.6 1078.3 364.1 1075.1 364.7 1068.2 365.3 1064.3 365.8 1060.6 366.4 1059.1 367.0 1059.6 367.5 1058.7 368.1 1057.9 368.7 1061.1 369.2 1063.7 369.8 1065.1 370.4 1067.6 370.9 1070.2 371.5 1073.5 372.1 1076.2 372.6 1079.8 373.2 1083.6 373.7 1088.7 374.3 1091.6 374.9 1093.0 375.4 1094.5 376.0 1094.3 376.6 1094.4 377.1 1093.8 377.7 1093.8 378.3 1095.3 378.8 1095.1 379.4 1096.8 380.0 1098.3 380.5 1100.6 381.1 1102.5 381.7 1103.4 382.2 1104.9 382.8 1103.8 383.4 1104.6 383.9 1105.4 384.5 1107.6 385.1 1110.5 385.6 1111.3 386.2 1111.3 386.8 1111.8 387.3 1112.8 387.9 1114.8 388.5 1115.6 389.0 1116.9 389.6 1118.7 390.2 1120.1 390.7 1121.7 391.3 1124.4 391.8 1125.8 392.4 1127.6 393.0 1128.8 393.5 1130.4 394.1 1130.5 394.7 1130.5 395.2 1132.2 395.8 1132.3 396.4 1132.0 396.9 1133.8 397.5 1136.0 398.1 1138.3 398.6 1140.7 399.2 1142.6 399.8 1145.2 400.3 1146.7 400.9 1147.3 401.5 1145.8 402.0 1145.5 402.6 1146.2 403.2 1146.2 403.7 1146.2 404.3 1144.7 404.9 1143.2 405.4 1143.0 406.0 1141.3 406.6 1140.8 407.1 1139.2 407.7 1139.1 408.2 1140.0 408.8 1139.3 409.4 1139.0 409.9 1138.6 410.5 1137.8 411.1 1138.7 411.6 1139.7 412.2 1140.6 412.8 1141.4 413.3 1144.7 413.9 1146.6 414.5 1146.3 415.0 1146.4 415.6 1146.0 416.2 1147.0 416.7 1148.7 417.3 1148.0 417.9 1146.8 418.4 1147.4 419.0 1148.8 419.6 1150.0 420.1 1152.5 420.7 1151.6 421.3 1151.7 421.8 1152.9 422.4 1154.1 423.0 1154.3 423.5 1156.8 424.1 1160.5 424.7 1165.4 425.2 1169.8 425.8 1171.6 426.3 1173.0 426.9 1175.0 427.5 1176.6 428.0 1177.5 428.6 1179.8 429.2 1184.2 429.7 1187.3 430.3 1190.6 430.9 1191.8 431.4 1191.8 432.0 1191.4 432.6 1191.5 433.1 1191.1 433.7 1191.1 434.3 1193.4 434.8 1193.3 435.4 1193.6 436.0 1192.5 436.5 1191.0 437.1 1191.1 437.7 1190.6 438.2 1189.5 438.8 1188.4 439.4 1186.6 439.9 1184.4 440.5 1181.7 441.1 1180.8 441.6 1179.9 442.2 1179.5 442.8 1179.2 443.3 1177.9 443.9 1178.8 444.4 1178.8 445.0 1177.7 445.6 1177.8 446.1 1177.2 446.7 1177.4 447.3 1177.1 447.8 1176.7 448.4 1179.2 449.0 1180.3 449.5 1182.8 450.1 1183.5 450.7 1183.6 451.2 1184.3 451.8 1183.9 452.4 1183.7 452.9 1184.5 453.5 1184.2 454.1 1183.8 454.6 1182.7 455.2 1181.4 455.8 1178.7 456.3 1177.3 456.9 1175.8 457.5 1173.8 458.0 1173.2 458.6 1170.7 459.2 1167.4 459.7 1164.5 460.3 1163.2 460.9 1161.0 461.4 1156.5 462.0 1152.9 462.5 1151.2 463.1 1149.9 463.7 1150.5 464.2 1151.6 464.8 1153.4 465.4 1154.1 465.9 1155.8 466.5 1157.8 467.1 1159.4 467.6 1160.6 468.2 1161.4 468.8 1161.4 469.3 1161.3 469.9 1160.8 470.5 1160.6 471.0 1161.4 471.6 1159.2 472.2 1157.4 472.7 1158.8 473.3 1159.7 473.9 1160.3 474.4 1162.2 475.0 1164.4 475.6 1166.6 476.1 1169.2 476.7 1171.1 477.3 1173.6 477.8 1175.5 478.4 1179.5 478.9 1183.2 479.5 1186.9 480.1 1188.2 480.6 1189.7 481.2 1189.9 481.8 1191.5 482.3 1194.6 482.9 1199.4 483.5 1202.2 484.0 1203.1 484.6 1205.7 485.2 1206.9 485.7 1206.8 486.3 1205.3 486.9 1205.7 487.4 1205.1 488.0 1207.2 488.6 1208.4 489.1 1210.1 489.7 1210.9 490.3 1210.7 490.8 1213.3 491.4 1215.8 492.0 1218.9 492.5 1220.4 493.1 1222.9 493.7 1225.3 494.2 1228.1 494.8 1229.3 495.4 1231.2 495.9 1234.0 496.5 1235.9 497.0 1238.0 497.6 1239.6 498.2 1241.3 498.7 1243.5 499.3 1244.2 499.9 1244.8 500.4 1243.0 501.0 1243.3 501.6 1242.8 502.1 1243.2 502.7 1241.8 503.3 1240.2 503.8 1239.7 504.4 1239.6 505.0 1239.3 505.5 1238.9 506.1 1237.8 506.7 1239.3 507.2 1237.8 507.8 1234.8 508.4 1230.5 508.9 1225.3 509.5 1222.0 510.1 1218.7 510.6 1216.9 511.2 1217.8 511.8 1216.6 512.3 1213.8 512.9 1210.8 513.5 1207.2 514.0 1204.8 514.6 1202.9 515.1 1202.2 515.7 1199.9 516.3 1198.9 516.8 1197.5 517.4 1195.8 518.0 1195.1 518.5 1193.5 519.1 1190.8 519.7 1189.5 520.2 1187.9 520.8 1187.0 521.4 1186.4 521.9 1184.4 522.5 1182.8 523.1 1179.8 523.6 1176.0 524.2 1173.9 524.8 1170.4 525.3 1168.7 525.9 1166.9 526.5 1165.4 527.0 1163.1 527.6 1162.1 528.2 1158.8 528.7 1158.0 529.3 1154.9 529.9 1154.0 530.4 1150.6 531.0 1146.4 531.6 1144.1 532.1 1141.1 532.7 1139.9 533.2 1138.7 533.8 1138.3 534.4 1137.1 534.9 1136.0 535.5 1134.6 536.1 1133.0 536.6 1131.1 537.2 1128.8 537.8 1124.8 538.3 1122.4 538.9 1119.6 539.5 1117.9 540.0 1115.8 540.6 1112.3 541.2 1109.0 541.7 1107.0 542.3 1105.3 542.9 1103.2 543.4 1101.0 544.0 1099.4 544.6 1098.3 545.1 1098.7 545.7 1098.0 546.3 1094.5 546.8 1090.3 547.4 1088.8 548.0 1088.5 548.5 1087.8 549.1 1088.8 549.6 1089.7 550.2 1090.3 550.8 1092.8 551.3 1092.8 551.9 1095.7 552.5 1097.0 553.0 1099.7 553.6 1102.1 554.2 1103.2 554.7 1103.6 555.3 1102.4 555.9 1103.1 556.4 1104.0 557.0 1104.5 557.6 1105.2 558.1 1106.2 558.7 1105.9 559.3 1106.2 559.8 1109.0 560.4 1111.0 561.0 1110.0 561.5 1109.5 562.1 1110.7 562.7 1113.3 563.2 1115.9 563.8 1117.0 564.4 1118.1 564.9 1118.4 565.5 1119.5 566.1 1119.5 566.6 1119.1 567.2 1115.9 567.7 1115.5 568.3 1117.3 568.9 1118.0 569.4 1119.7 570.0 1121.6 570.6 1120.1 571.1 1118.9 571.7 1119.9 572.3 1119.0 572.8 1117.4 573.4 1117.4 574.0 1115.7 574.5 1116.9 575.1 1123.0 575.7 1127.1 576.2 1126.3 576.8 1126.1 577.4 1124.6 577.9 1123.3 578.5 1124.7 579.1 1125.4 579.6 1125.8 580.2 1127.5 580.8 1130.0 581.3 1131.8 581.9 1133.2 582.5 1132.8 583.0 1132.1 583.6 1131.6 584.2 1131.5 584.7 1133.0 585.3 1133.4 585.8 1132.4 586.4 1133.8 587.0 1131.2 587.5 1127.6 588.1 1126.0 588.7 1123.7 589.2 1121.5 589.8 1120.1 590.4 1118.6 590.9 1117.6 591.5 1116.7 592.1 1114.7 592.6 1108.1 593.2 1101.1 593.8 1099.3 594.3 1099.0 594.9 1098.7 595.5 1097.1 596.0 1095.5 596.6 1094.0 597.2 1091.2 597.7 1089.4 598.3 1087.5 598.9 1082.8 599.4 1082.5 600.0 1082.2 600.6 1080.1 601.1 1077.5 601.7 1073.7 602.3 1071.4 602.8 1071.6 603.4 1070.9 603.9 1071.5 604.5 1070.6 605.1 1070.1 605.6 1070.5 606.2 1069.9 606.8 1070.2 607.3 1069.4 607.9 1070.1 608.5 1069.1 609.0 1067.4 609.6 1063.1 610.2 1058.3 610.7 1057.1 611.3 1059.1 611.9 1060.6 612.4 1063.1 613.0 1062.4 613.6 1060.7 614.1 1059.7 614.7 1058.3 615.3 1056.4 615.8 1056.4 616.4 1056.8 617.0 1059.3 617.5 1061.5 618.1 1061.6 618.7 1062.9 619.2 1062.0 619.8 1062.1 620.3 1061.8 620.9 1062.8 621.5 1064.4 622.0 1065.1 622.6 1065.9 623.2 1067.1 623.7 1067.6 624.3 1066.7 624.9 1066.8 625.4 1066.4 626.0 1066.5 626.6 1068.3 627.1 1064.9 627.7 1064.5 628.3 1064.6 628.8 1063.3 629.4 1063.7 630.0 1063.8 630.5 1064.9 631.1 1063.3 631.7 1059.7 632.2 1055.6 632.8 1055.0 633.4 1057.0 633.9 1059.0 634.5 1061.4 635.1 1061.3 635.6 1058.7 636.2 1057.9 636.8 1057.0 637.3 1056.8 637.9 1058.7 638.4 1060.4 639.0 1060.9 639.6 1061.5 640.1 1061.2 640.7 1060.9 641.3 1059.6 641.8 1058.2 642.4 1057.5 643.0 1058.4 643.5 1061.2 644.1 1063.8 644.7 1066.1 645.2 1067.2 645.8 1068.7 646.4 1069.1 646.9 1069.9 647.5 1072.8 648.1 1074.7 648.6 1076.6 649.2 1076.9 649.8 1077.0 650.3 1077.3 650.9 1078.0 651.5 1079.2 652.0 1079.9 652.6 1080.2 653.2 1080.3 653.7 1078.6 654.3 1077.5 654.9 1076.1 655.4 1073.3 656.0 1076.3 656.5 1081.5 657.1 1083.5 657.7 1083.8 658.2 1085.1 658.8 1085.4 659.4 1086.2 659.9 1087.8 660.5 1088.1 661.1 1088.9 661.6 1090.1 662.2 1092.4 662.8 1094.9 663.3 1094.1 663.9 1094.3 664.5 1094.2 665.0 1094.7 665.6 1096.4 666.2 1100.0 666.7 1102.5 667.3 1104.8 667.9 1106.7 668.4 1106.2 669.0 1106.5 669.6 1106.7 670.1 1107.9 670.7 1107.6 671.3 1106.8 671.8 1105.5 672.4 1106.0 673.0 1107.0 673.5 1107.7 674.1 1107.6 674.6 1109.9 675.2 1111.1 675.8 1111.2 676.3 1112.5 676.9 1112.6 677.5 1113.1 678.0 1114.0 678.6 1115.1 679.2 1116.8 679.7 1118.2 680.3 1118.4 680.9 1119.8 681.4 1120.1 682.0 1121.5 682.6 1122.8 683.1 1123.5 683.7 1123.3 684.3 1125.0 684.8 1125.0 685.4 1124.2 686.0 1124.1 686.5 1126.2 687.1 1129.2 687.7 1132.2 688.2 1133.6 688.8 1134.8 689.4 1135.3 689.9 1135.3 690.5 1138.0 691.0 1138.4 691.6 1141.1 692.2 1147.6 692.7 1151.9 693.3 1156.0 693.9 1156.9 694.4 1158.8 695.0 1162.5 695.6 1164.0 696.1 1165.8 696.7 1169.5 697.3 1172.7 697.8 1177.9 698.4 1182.2 699.0 1184.3 699.5 1185.2 700.1 1186.9 700.7 1187.9 701.2 1188.7 701.8 1189.2 702.4 1190.5 702.9 1192.6 703.5 1196.6 704.1 1200.7 704.6 1203.4 705.2 1203.8 705.8 1206.2 706.3 1209.9 706.9 1213.8 707.5 1215.6 708.0 1219.2 708.6 1224.2 709.1 1228.3 709.7 1232.6 710.3 1234.8 710.8 1238.0 711.4 1239.5 712.0 1241.7 712.5 1245.6 713.1 1249.3 713.7 1250.9 714.2 1253.3 714.8 1255.8 715.4 1259.2 715.9 1263.7 716.5 1265.3 717.1 1269.0 717.6 1270.1 718.2 1268.0 718.8 1268.0 719.3 1269.8 719.9 1268.2 720.5 1266.5 721.0 1264.5 721.6 1262.7 722.2 1262.2 722.7 1260.3 723.3 1257.9 723.9 1257.7 724.4 1257.7 725.0 1256.0 725.6 1254.0 726.1 1253.3 726.7 1249.8 727.2 1246.6 727.8 1243.2 728.4 1240.0 728.9 1238.0 729.5 1235.6 730.1 1232.7 730.6 1229.0 731.2 1226.2 731.8 1226.1 732.3 1224.1 732.9 1222.4 733.5 1222.5 734.0 1219.4 734.6 1216.5 735.2 1215.3 735.7 1213.5 736.3 1211.2 736.9 1210.8 737.4 1211.8 738.0 1213.3 738.6 1213.9 739.1 1212.4 739.7 1213.1 740.3 1214.5 740.8 1214.7 741.4 1215.3 742.0 1216.6 742.5 1216.9 743.1 1219.9 743.7 1223.0 744.2 1225.4 744.8 1225.1 745.3 1228.2 745.9 1230.1 746.5 1232.2 747.0 1233.6 747.6 1235.8 748.2 1235.3 748.7 1236.6 749.3 1235.7 749.9 1236.3 750.4 1237.3 751.0 1237.0 751.6 1235.9 752.1 1234.8 752.7 1233.4 753.3 1232.7 753.8 1233.9 754.4 1233.6 755.0 1233.7 755.5 1234.9 756.1 1238.4 756.7 1239.9 757.2 1240.6 757.8 1243.5 758.4 1244.9 758.9 1243.9 759.5 1243.5 760.1 1243.1 760.6 1243.9 761.2 1245.1 761.7 1245.0 762.3 1246.5 762.9 1246.1 763.4 1245.8 764.0 1245.0 764.6 1244.1 765.1 1243.1 765.7 1242.1 766.3 1240.3 766.8 1236.2 767.4 1235.3 768.0 1233.9 768.5 1231.3 769.1 1228.2 769.7 1222.8 770.2 1219.4 770.8 1218.0 771.4 1217.5 771.9 1214.8 772.5 1212.4 773.1 1209.9 773.6 1210.6 774.2 1208.6 774.8 1206.4 775.3 1206.1 775.9 1204.6 776.5 1203.0 777.0 1200.9 777.6 1198.9 778.2 1196.7 778.7 1193.8 779.3 1193.1 779.8 1191.1 780.4 1192.2 781.0 1191.4 781.5 1189.2 782.1 1187.6 782.7 1186.0 783.2 1183.6 783.8 1184.8 784.4 1185.2 784.9 1187.6 785.5 1189.4 786.1 1191.1 786.6 1191.4 787.2 1191.7 787.8 1191.4 788.3 1192.9 788.9 1193.1 789.5 1196.3 790.0 1195.9 790.6 1195.8 791.2 1194.1 791.7 1192.9 792.3 1189.7 792.9 1190.5 793.4 1191.2 794.0 1190.9 794.6 1189.6 795.1 1187.7 795.7 1186.6 796.3 1186.1 796.8 1187.7 797.4 1186.7 797.9 1185.1 798.5 1182.9 799.1 1184.8 799.6 1187.2 800.2 1187.6 800.8 1188.1 801.3 1189.9 801.9 1191.9 802.5 1193.7 803.0 1196.2 803.6 1200.3 804.2 1204.9 804.7 1207.1 805.3 1209.3 805.9 1220.1 806.4 1220.9 807.0 1221.3 807.6 1220.3 808.1 1218.9 808.7 1219.0 809.3 1218.7 809.8 1219.9 810.4 1219.3 811.0 1219.9 811.5 1220.4 812.1 1218.8 812.7 1217.9 813.2 1216.7 813.8 1216.5 814.4 1217.3 814.9 1219.0 815.5 1219.9 816.0 1218.4 816.6 1218.6 817.2 1219.7 817.7 1219.1 818.3 1218.7 818.9 1219.4 819.4 1221.4 820.0 1221.7 820.6 1220.8 821.1 1221.9 821.7 1225.8 822.3 1226.9 822.8 1225.5 823.4 1226.7 824.0 1227.8 824.5 1228.7 825.1 1228.0 825.7 1226.1 826.2 1224.3 826.8 1223.3 827.4 1221.8 827.9 1219.3 828.5 1217.1 829.1 1217.7 829.6 1217.6 830.2 1217.0 830.8 1214.2 831.3 1212.4 831.9 1209.6 832.4 1206.7 833.0 1202.7 833.6 1200.1 834.1 1198.0 834.7 1197.0 835.3 1193.4 835.8 1191.4 836.4 1187.7 837.0 1186.1 837.5 1183.9 838.1 1183.8 838.7 1185.1 839.2 1185.8 839.8 1184.2 840.4 1182.2 840.9 1179.6 841.5 1177.1 842.1 1173.5 842.6 1170.3 843.2 1167.8 843.8 1165.4 844.3 1162.1 844.9 1159.4 845.5 1157.5 846.0 1154.6 846.6 1149.9 847.2 1146.0 847.7 1142.8 848.3 1139.9 848.9 1137.9 849.4 1135.8 850.0 1128.8 850.5 1121.4 851.1 1119.1 851.7 1116.5 852.2 1111.3 852.8 1108.6 853.4 1104.8 853.9 1100.5 854.5 1095.7 855.1 1090.2 855.6 1086.4 856.2 1082.1 856.8 1078.8 857.3 1072.8 857.9 1068.2 858.5 1065.2 859.0 1064.4 859.6 1063.6 860.2 1061.2 860.7 1060.2 861.3 1059.0 861.9 1057.5 862.4 1057.1 863.0 1056.9 863.6 1060.3 864.1 1062.3 864.7 1063.6 865.3 1063.9 865.8 1061.2 866.4 1056.4 867.0 1054.0 867.5 1052.9 868.1 1056.6 868.6 1057.3 869.2 1059.7 869.8 1060.1 870.3 1057.5 870.9 1055.1 871.5 1050.4 872.0 1045.7 872.6 1042.2 873.2 1042.2 873.7 1041.3 874.3 1038.5 874.9 1035.3 875.4 1033.8 876.0 1033.3 876.6 1031.7 877.1 1032.0 877.7 1032.0 878.3 1028.4 878.8 1029.2 879.4 1027.9 880.0 1026.3 880.5 1028.1 881.1 1030.7 881.7 1033.0 882.2 1034.1 882.8 1033.0 883.4 1033.7 883.9 1033.9 884.5 1035.0 885.1 1035.0 885.6 1040.9 886.2 1046.2 886.7 1046.4 887.3 1045.7 887.9 1044.0 888.4 1045.7 889.0 1047.2 889.6 1047.6 890.1 1048.7 890.7 1050.1 891.3 1051.2 891.8 1054.4 892.4 1055.9 893.0 1057.0 893.5 1056.0 894.1 1056.0 894.7 1058.1 895.2 1060.0 895.8 1061.5 896.4 1061.3 896.9 1061.8 897.5 1063.1 898.1 1063.6 898.6 1064.9 899.2 1064.2 899.8 1065.2 900.3 1066.4 900.9 1064.7 901.5 1065.4 902.0 1064.9 902.6 1065.8 903.1 1067.2 903.7 1068.9 904.3 1069.7 904.8 1069.9 905.4 1071.5 906.0 1073.8 906.5 1075.3 907.1 1075.1 907.7 1076.3 908.2 1077.3 908.8 1077.3 909.4 1077.1 909.9 1077.6 910.5 1077.3 911.1 1083.7 911.6 1086.3 912.2 1088.4 912.8 1089.5 913.3 1088.9 913.9 1089.6 914.5 1092.2 915.0 1093.6 915.6 1095.3 916.2 1094.0 916.7 1091.2 917.3 1088.7 917.9 1086.9 918.4 1085.2 919.0 1085.3 919.6 1086.6 920.1 1090.9 920.7 1091.5 921.2 1090.3 921.8 1089.3 922.4 1088.1 922.9 1087.1 923.5 1086.7 924.1 1086.1 924.6 1084.1 925.2 1082.3 925.8 1082.2 926.3 1083.7 926.9 1084.9 927.5 1086.3 928.0 1086.8 928.6 1087.1 929.2 1085.0 929.7 1082.7 930.3 1081.6 930.9 1081.0 931.4 1080.6 932.0 1079.6 932.6 1081.1 933.1 1082.2 933.7 1082.2 934.3 1081.2 934.8 1080.6 935.4 1081.1 936.0 1080.7 936.5 1082.1 937.1 1083.7 937.7 1085.1 938.2 1085.7 938.8 1083.3 939.3 1080.7 939.9 1078.4 940.5 1076.3 941.0 1074.9 941.6 1072.8 942.2 1069.1 942.7 1067.6 943.3 1066.8 943.9 1065.7 944.4 1065.0 945.0 1065.1 945.6 1065.5 946.1 1065.0 946.7 1064.5 947.3 1063.9 947.8 1064.4 948.4 1064.6 949.0 1064.3 949.5 1062.7 950.1 1060.9 950.7 1061.8 951.2 1060.8 951.8 1063.0 952.4 1064.3 952.9 1065.5 953.5 1065.1 954.1 1068.0 954.6 1069.7 955.2 1069.7 955.8 1070.4 956.3 1071.2 956.9 1071.2 957.4 1070.7 958.0 1071.0 958.6 1069.9 959.1 1067.8 959.7 1066.8 960.3 1067.9 960.8 1069.6 961.4 1072.4 962.0 1074.0 962.5 1073.0 963.1 1073.1 963.7 1073.4 964.2 1072.8 964.8 1074.0 965.4 1077.1 965.9 1078.5 966.5 1075.5 967.1 1070.1 967.6 1069.0 968.2 1068.8 968.8 1068.1 969.3 1067.6 969.9 1067.9 970.5 1066.7 971.0 1066.4 971.6 1065.4 972.2 1064.6 972.7 1063.7 973.3 1063.2 973.8 1061.2 974.4 1059.6 975.0 1057.7 975.5 1060.3 976.1 1063.1 976.7 1066.2 977.2 1067.6 977.8 1067.9 978.4 1069.4 978.9 1069.8 979.5 1070.1 980.1 1070.6 980.6 1072.2 981.2 1076.7 981.8 1080.6 982.3 1084.9 982.9 1086.2 983.5 1089.7 984.0 1093.4 984.6 1099.1 985.2 1102.1 985.7 1106.3 986.3 1111.8 986.9 1116.0 987.4 1119.0 988.0 1123.6 988.6 1127.2 989.1 1129.9 989.7 1133.9 990.3 1138.2 990.8 1143.7 991.4 1148.5 991.9 1152.6 992.5 1156.3 993.1 1160.6 993.6 1161.1 994.2 1163.3 994.8 1168.9 995.3 1172.8 995.9 1174.5 996.5 1175.4 997.0 1176.0 997.6 1178.4 998.2 1182.2 998.7 1186.7 999.3 1189.6 999.9 1191.3 1000.4 1189.9 1001.0 1188.8 1001.6 1186.7 1002.1 1185.3 1002.7 1192.5 1003.3 1198.9 1003.8 1202.0 1004.4 1205.2 1005.0 1209.1 1005.5 1210.6 1006.1 1211.6 1006.7 1212.4 1007.2 1212.9 1007.8 1212.3 1008.4 1211.7 1008.9 1211.1 1009.5 1210.7 1010.0 1209.4 1010.6 1208.6 1011.2 1207.3 1011.7 1206.1 1012.3 1206.9 1012.9 1206.3 1013.4 1206.3 1014.0 1207.0 1014.6 1206.5 1015.1 1208.2 1015.7 1209.3 1016.3 1207.4 1016.8 1207.0 1017.4 1206.7 1018.0 1206.4 1018.5 1206.4 1019.1 1206.7 1019.7 1208.9 1020.2 1208.8 1020.8 1209.5 1021.4 1209.4 1021.9 1208.9 1022.5 1209.4 1023.1 1210.8 1023.6 1211.0 1024.2 1213.5 1024.8 1218.8 1025.3 1220.1 1025.9 1220.3 1026.5 1221.6 1027.0 1222.3 1027.6 1223.7 1028.1 1226.0 1028.7 1230.8 1029.3 1234.7 1029.8 1236.4 1030.4 1237.8 1031.0 1236.3 1031.5 1235.7 1032.1 1237.3 1032.7 1236.0 1033.2 1238.4 1033.8 1241.0 1034.4 1244.3 1034.9 1242.7 1035.5 1242.6 1036.1 1242.7 1036.6 1242.1 1037.2 1243.7 1037.8 1245.1 1038.3 1246.8 1038.9 1247.4 1039.5 1246.1 1040.0 1246.1 1040.6 1245.7 1041.2 1244.6 1041.7 1244.2 1042.3 1244.6 1042.9 1244.9 1043.4 1245.9 1044.0 1247.4 1044.5 1249.2 1045.1 1249.3 1045.7 1246.4 1046.2 1245.2 1046.8 1245.2 1047.4 1244.5 1047.9 1244.0 1048.5 1242.4 1049.1 1241.4 1049.6 1239.3 1050.2 1240.1 1050.8 1237.9 1051.3 1236.8 1051.9 1234.3 1052.5 1234.3 1053.0 1237.3 1053.6 1239.1 1054.2 1240.0 1054.7 1240.8 1055.3 1242.5 1055.9 1244.9 1056.4 1246.1 1057.0 1245.0 1057.6 1244.1 1058.1 1246.8 1058.7 1248.8 1059.3 1247.0 1059.8 1244.2 1060.4 1242.1 1061.0 1240.1 1061.5 1241.0 1062.1 1242.9 1062.6 1247.9 1063.2 1250.5 1063.8 1253.3 1064.3 1253.5 1064.9 1253.8 1065.5 1254.3 1066.0 1250.6 1066.6 1248.5 1067.2 1249.1 1067.7 1250.0 1068.3 1249.5 1068.9 1249.6 1069.4 1251.7 1070.0 1252.2 1070.6 1252.1 1071.1 1251.0 1071.7 1250.5 1072.3 1250.1 1072.8 1249.4 1073.4 1251.6 1074.0 1252.9 1074.5 1249.7 1075.1 1245.6 1075.7 1244.5 1076.2 1246.1 1076.8 1246.8 1077.4 1248.4 1077.9 1250.1 1078.5 1251.5 1079.1 1251.3 1079.6 1249.9 1080.2 1248.2 1080.7 1248.1 1081.3 1247.9 1081.9 1247.5 1082.4 1249.5 1083.0 1252.3 1083.6 1254.1 1084.1 1255.3 1084.7 1253.8 1085.3 1252.0 1085.8 1250.5 1086.4 1248.9 1087.0 1250.9 1087.5 1252.8 1088.1 1254.1 1088.7 1254.5 1089.2 1254.0 1089.8 1252.8 1090.4 1251.6 1090.9 1248.2 1091.5 1247.1 1092.1 1244.2 1092.6 1242.0 1093.2 1242.5 1093.8 1242.4 1094.3 1241.3 1094.9 1241.8 1095.5 1240.2 1096.0 1235.9 1096.6 1232.7 1097.2 1232.3 1097.7 1232.5 1098.3 1230.4 1098.8 1228.6 1099.4 1226.1 1100.0 1222.6 1100.5 1220.2 1101.1 1217.1 1101.7 1214.5 1102.2 1210.5 1102.8 1204.5 1103.4 1198.9 1103.9 1193.6 1104.5 1190.2 1105.1 1187.3 1105.6 1184.2 1106.2 1182.3 1106.8 1179.0 1107.3 1175.1 1107.9 1169.6 1108.5 1167.9 1109.0 1163.8 1109.6 1159.8 1110.2 1158.4 1110.7 1160.1 1111.3 1161.1 1111.9 1160.9 1112.4 1160.7 1113.0 1156.1 1113.6 1154.3 1114.1 1154.2 1114.7 1151.8 1115.2 1149.3 1115.8 1147.4 1116.4 1146.5 1116.9 1144.2 1117.5 1142.9 1118.1 1139.9 1118.6 1135.4 1119.2 1132.2 1119.8 1130.9 1120.3 1129.4 1120.9 1128.8 1121.5 1130.6 1122.0 1131.9 1122.6 1131.8 1123.2 1131.7 1123.7 1130.3 1124.3 1127.5 1124.9 1123.3 1125.4 1118.6 1126.0 1114.6 1126.6 1111.0 1127.1 1107.9 1127.7 1106.5 1128.3 1106.5 1128.8 1106.0 1129.4 1103.4 1130.0 1104.7 1130.5 1105.4 1131.1 1106.2 1131.7 1107.0 1132.2 1106.5 1132.8 1105.7 1133.3 1104.1 1133.9 1103.6 1134.5 1101.6 1135.0 1100.5 1135.6 1098.7 1136.2 1097.3 1136.7 1096.8 1137.3 1096.8 1137.9 1096.4 1138.4 1097.2 1139.0 1097.0 1139.6 1098.1 1140.1 1095.0 1140.7 1089.2 1141.3 1086.8 1141.8 1084.1 1142.4 1081.9 1143.0 1080.9 1143.5 1080.8 1144.1 1080.3 1144.7 1081.8 1145.2 1083.1 1145.8 1083.3 1146.4 1085.3 1146.9 1084.9 1147.5 1084.1 1148.1 1084.1 1148.6 1085.2 1149.2 1083.7 1149.8 1083.9 1150.3 1083.0 1150.9 1082.8 1151.4 1082.9 1152.0 1082.1 1152.6 1083.1 1153.1 1081.7 1153.7 1082.1 1154.3 1081.3 1154.8 1078.3 1155.4 1076.2 1156.0 1076.4 1156.5 1076.8 1157.1 1077.1 1157.7 1076.8 1158.2 1079.2 1158.8 1077.4 1159.4 1076.0 1159.9 1075.0 1160.5 1071.9 1161.1 1069.1 1161.6 1067.5 1162.2 1067.2 1162.8 1066.3 1163.3 1065.3 1163.9 1064.9 1164.5 1061.1 1165.0 1060.6 1165.6 1060.0 1166.2 1060.1 1166.7 1060.4 1167.3 1062.1 1167.9 1062.5 1168.4 1063.0 1169.0 1064.6 1169.5 1066.2 1170.1 1066.6 1170.7 1067.1 1171.2 1068.4 1171.8 1068.4 1172.4 1066.7 1172.9 1058.4 1173.5 1050.6 1174.1 1046.8 1174.6 1046.1 1175.2 1045.8 1175.8 1045.3 1176.3 1046.3 1176.9 1044.3 1177.5 1041.7 1178.0 1039.7 1178.6 1034.4 1179.2 1033.0 1179.7 1030.8 1180.3 1029.1 1180.9 1028.0 1181.4 1028.6 1182.0 1027.7 1182.6 1026.9 1183.1 1026.9 1183.7 1027.4 1184.3 1024.9 1184.8 1023.0 1185.4 1021.1 1185.9 1020.1 1186.5 1018.8 1187.1 1019.2 1187.6 1018.5 1188.2 1018.9 1188.8 1018.2 1189.3 1016.4 1189.9 1013.6 1190.5 1012.6 1191.0 1013.2 1191.6 1015.1 1192.2 1017.2 1192.7 1018.0 1193.3 1017.1 1193.9 1015.8 1194.4 1012.8 1195.0 1011.4 1195.6 1010.5 1196.1 1010.6 1196.7 1009.6 1197.3 1008.4 1197.8 1006.7 1198.4 1005.4 1199.0 1007.2 1199.5 1008.5 1200.1 1008.6 1200.7 1009.4 1201.2 1010.2 1201.8 1013.4 1202.4 1015.5 1202.9 1015.2 1203.5 1011.8 1204.0 1010.9 1204.6 1008.7 1205.2 1006.9 1205.7 1007.1 1206.3 1008.4 1206.9 1008.8 1207.4 1008.2 1208.0 1008.3 1208.6 1005.8 1209.1 1006.2 1209.7 1007.6 1210.3 1008.1 1210.8 1010.4 1211.4 1012.7 1212.0 1013.4 1212.5 1016.5 1213.1 1019.7 1213.7 1020.6 1214.2 1024.2 1214.8 1029.4 1215.4 1034.9 1215.9 1041.5 1216.5 1048.7 1217.1 1050.1 1217.6 1050.4 1218.2 1049.5 1218.8 1049.8 1219.3 1052.5 1219.9 1056.5 1220.5 1060.8 1221.0 1064.6 1221.6 1065.7 1222.1 1069.2 1222.7 1073.0 1223.3 1077.6 1223.8 1081.6 1224.4 1085.2 1225.0 1088.9 1225.5 1091.3 1226.1 1093.4 1226.7 1095.3 1227.2 1097.8 1227.8 1099.9 1228.4 1104.1 1228.9 1107.3 1229.5 1113.8 1230.1 1118.6 1230.6 1121.0 1231.2 1124.7 1231.8 1128.1 1232.3 1133.6 1232.9 1138.1 1233.5 1141.3 1234.0 1144.6 1234.6 1150.0 1235.2 1157.3 1235.7 1161.1 1236.3 1163.6 1236.9 1165.6 1237.4 1166.9 1238.0 1171.9 1238.6 1177.2 1239.1 1180.6 1239.7 1183.0 1240.2 1186.1 1240.8 1190.6 1241.4 1194.9 1241.9 1198.0 1242.5 1200.5 1243.1 1204.1 1243.6 1206.2 1244.2 1209.2 1244.8 1212.7 1245.3 1218.2 1245.9 1222.3 1246.5 1225.1 1247.0 1228.0 1247.6 1230.1 1248.2 1232.0 1248.7 1235.5 1249.3 1238.7 1249.9 1243.4 1250.4 1245.9 1251.0 1249.8 1251.6 1251.8 1252.1 1253.6 1252.7 1254.5 1253.3 1255.7 1253.8 1259.6 1254.4 1263.5 1255.0 1264.2 1255.5 1262.9 1256.1 1262.5 1256.6 1262.5 1257.2 1262.2 1257.8 1261.0 1258.3 1259.1 1258.9 1256.8 1259.5 1254.8 1260.0 1253.8 1260.6 1254.2 1261.2 1254.1 1261.7 1252.5 1262.3 1253.9 1262.9 1255.1 1263.4 1257.8 1264.0 1260.1 1264.6 1260.3 1265.1 1259.1 1265.7 1257.9 1266.3 1257.5 1266.8 1257.9 1267.4 1256.9 1268.0 1256.5 1268.5 1255.6 1269.1 1254.4 1269.7 1255.9 1270.2 1259.9 1270.8 1263.3 1271.4 1264.6 1271.9 1265.2 1272.5 1267.3 1273.1 1269.1 1273.6 1267.9 1274.2 1267.1 1274.7 1264.6 1275.3 1262.6 1275.9 1259.4 1276.4 1255.6 1277.0 1254.4 1277.6 1254.6 1278.1 1255.8 1278.7 1256.3 1279.3 1256.7 1279.8 1255.3 1280.4 1255.0 1281.0 1257.3 1281.5 1256.6 1282.1 1258.5 1282.7 1260.7 1283.2 1262.2 1283.8 1261.1 1284.4 1258.0 1284.9 1255.0 1285.5 1255.7 1286.1 1256.3 1286.6 1255.9 1287.2 1255.2 1287.8 1256.4 1288.3 1257.0 1288.9 1258.8 1289.5 1259.4 1290.0 1260.7 1290.6 1261.5 1291.2 1260.7 1291.7 1260.6 1292.3 1260.8 1292.8 1260.2 1293.4 1258.8 1294.0 1256.0 1294.5 1254.3 1295.1 1254.5 1295.7 1255.8 1296.2 1257.8 1296.8 1258.4 1297.4 1256.7 1297.9 1257.2 1298.5 1258.1 1299.1 1261.6 1299.6 1264.9 1300.2 1264.4 1300.8 1262.8 1301.3 1261.6 1301.9 1259.2 1302.5 1259.6 1303.0 1262.5 1303.6 1263.5 1304.2 1264.5 1304.7 1265.4 1305.3 1266.4 1305.9 1269.1 1306.4 1271.7 1307.0 1271.1 1307.6 1270.7 1308.1 1269.6 1308.7 1268.4 1309.3 1267.5 1309.8 1268.4 1310.4 1269.7 1310.9 1269.3 1311.5 1268.6 1312.1 1264.1 1312.6 1259.5 1313.2 1257.9 1313.8 1256.8 1314.3 1256.9 1314.9 1258.8 1315.5 1257.8 1316.0 1256.4 1316.6 1255.5 1317.2 1254.6 1317.7 1254.4 1318.3 1245.6 1318.9 1246.4 1319.4 1248.6 1320.0 1250.4 1320.6 1249.2 1321.1 1248.6 1321.7 1248.8 1322.3 1246.4 1322.8 1246.0 1323.4 1245.0 1324.0 1239.3 1324.5 1236.9 1325.1 1237.7 1325.7 1237.0 1326.2 1239.0 1326.8 1240.8 1327.3 1240.8 1327.9 1237.3 1328.5 1234.0 1329.0 1231.3 1329.6 1230.8 1330.2 1231.6 1330.7 1234.9 1331.3 1238.4 1331.9 1238.7 1332.4 1236.9 1333.0 1232.6 1333.6 1228.7 1334.1 1227.6 1334.7 1229.2 1335.3 1231.1 1335.8 1232.8 1336.4 1231.0 1337.0 1229.5 1337.5 1227.0 1338.1 1214.9 1338.7 1211.5 1339.2 1210.8 1339.8 1210.9 1340.4 1209.2 1340.9 1206.4 1341.5 1205.1 1342.1 1201.8 1342.6 1197.3 1343.2 1191.6 1343.8 1189.7 1344.3 1186.3 1344.9 1185.0 1345.4 1181.2 1346.0 1177.8 1346.6 1173.5 1347.1 1171.0 1347.7 1165.5 1348.3 1162.2 1348.8 1162.6 1349.4 1163.2 1350.0 1160.6 1350.5 1155.7 1351.1 1149.1 1351.7 1147.1 1352.2 1146.6 1352.8 1148.9 1353.4 1148.6 1353.9 1150.8 1354.5 1151.0 1355.1 1152.8 1355.6 1154.9 1356.2 1150.2 1356.8 1142.0 1357.3 1136.1 1357.9 1133.7 1358.5 1130.5 1359.0 1131.0 1359.6 1130.2 1360.2 1127.5 1360.7 1124.2 1361.3 1121.8 1361.9 1114.8 1362.4 1112.7 1363.0 1113.1 1363.5 1111.7 1364.1 1109.7 1364.7 1106.8 1365.2 1105.2 1365.8 1102.3 1366.4 1097.7 1366.9 1091.7 1367.5 1088.9 1368.1 1087.2 1368.6 1085.1 1369.2 1084.9 1369.8 1084.5 1370.3 1078.5 1370.9 1072.6 1371.5 1070.6 1372.0 1067.5 1372.6 1067.3 1373.2 1066.9 1373.7 1064.9 1374.3 1062.0 1374.9 1063.3 1375.4 1062.2 1376.0 1059.1 1376.6 1056.9 1377.1 1056.2 1377.7 1055.0 1378.3 1052.9 1378.8 1050.0 1379.4 1047.3 1380.0 1047.1 1380.5 1048.4 1381.1 1051.4 1381.6 1055.0 1382.2 1057.2 1382.8 1056.7 1383.3 1057.6 1383.9 1057.4 1384.5 1055.6 1385.0 1051.9 1385.6 1049.3 1386.2 1044.3 1386.7 1042.0 1387.3 1040.7 1387.9 1041.7 1388.4 1046.7 1389.0 1051.1 1389.6 1052.2 1390.1 1052.4 1390.7 1049.3 1391.3 1048.6 1391.8 1048.2 1392.4 1049.2 1393.0 1051.3 1393.5 1052.6 1394.1 1054.6 1394.7 1049.6 1395.2 1043.0 1395.8 1041.8 1396.4 1044.7 1396.9 1052.0 1397.5 1057.2 1398.0 1057.6 1398.6 1056.5 1399.2 1053.1 1399.7 1051.4 1400.3 1050.3 1400.9 1047.5 1401.4 1047.7 1402.0 1045.7 1402.6 1046.2 1403.1 1047.3 1403.7 1047.7 1404.3 1048.5 1404.8 1052.9 1405.4 1054.2 1406.0 1053.1 1406.5 1051.5 1407.1 1049.4 1407.7 1050.1 1408.2 1047.8 1408.8 1048.2 1409.4 1049.1 1409.9 1048.3 1410.5 1046.4 1411.1 1052.2 1411.6 1054.6 1412.2 1057.2 1412.8 1057.5 1413.3 1060.1 1413.9 1062.0 1414.5 1062.6 1415.0 1060.9 1415.6 1064.2 1416.1 1063.8 1416.7 1064.1 1417.3 1064.6 1417.8 1064.7 1418.4 1062.5 1419.0 1062.0 1419.5 1059.6 1420.1 1057.3 1420.7 1056.5 1421.2 1055.7 1421.8 1054.1 1422.4 1053.6 1422.9 1055.9 1423.5 1055.4 1424.1 1053.8 1424.6 1052.7 1425.2 1052.0 1425.8 1052.8 1426.3 1055.5 1426.9 1054.2 1427.5 1054.7 1428.0 1054.8 1428.6 1057.8 1429.2 1057.8 1429.7 1051.3 1430.3 1049.5 1430.9 1048.4 1431.4 1043.7 1432.0 1042.6 1432.6 1042.4 1433.1 1046.4 1433.7 1048.6 1434.2 1050.1 1434.8 1051.0 1435.4 1051.3 1435.9 1048.6 1436.5 1049.5 1437.1 1051.0 1437.6 1052.5 1438.2 1055.0 1438.8 1053.4 1439.3 1052.7 1439.9 1053.7 1440.5 1052.8 1441.0 1050.3 1441.6 1049.1 1442.2 1047.8 1442.7 1048.8 1443.3 1050.1 1443.9 1052.5 1444.4 1055.4 1445.0 1055.1 1445.6 1057.1 1446.1 1061.0 1446.7 1067.7 1447.3 1067.6 1447.8 1067.5 1448.4 1070.9 1449.0 1073.3 1449.5 1079.3 1450.1 1082.2 1450.7 1083.6 1451.2 1087.0 1451.8 1088.2 1452.3 1089.0 1452.9 1088.2 1453.5 1086.2 1454.0 1080.1 1454.6 1082.0 1455.2 1086.3 1455.7 1093.7 1456.3 1098.2 1456.9 1095.0 1457.4 1092.2 1458.0 1090.6 1458.6 1088.4 1459.1 1085.1 1459.7 1086.4 1460.3 1085.1 1460.8 1081.7 1461.4 1081.7 1462.0 1082.7 1462.5 1082.0 1463.1 1082.3 1463.7 1087.6 1464.2 1096.8 1464.8 1096.6 1465.4 1097.4 1465.9 1098.9 1466.5 1098.9 1467.1 1098.8 1467.6 1096.2 1468.2 1093.5 1468.7 1090.6 1469.3 1087.3 1469.9 1086.5 1470.4 1081.2 1471.0 1078.6 1471.6 1078.4 1472.1 1081.3 1472.7 1085.7 1473.3 1089.1 1473.8 1093.9 1474.4 1097.7 1475.0 1097.9 1475.5 1100.5 1476.1 1096.0 1476.7 1087.9 1477.2 1078.9 1477.8 1079.8 1478.4 1086.9 1478.9 1090.3 1479.5 1096.4 1480.1 1096.2 1480.6 1088.0 1481.2 1084.3 1481.8 1083.3 1482.3 1086.5 1482.9 1089.3 1483.5 1093.1 1484.0 1094.8 1484.6 1092.0 1485.2 1089.9 1485.7 1087.0 1486.3 1087.6 1486.8 1091.8 1487.4 1102.3 1488.0 1108.9 1488.5 1109.5 1489.1 1107.0 1489.7 1104.0 1490.2 1098.8 1490.8 1100.9 1491.4 1098.5 1491.9 1096.7 1492.5 1105.6 1493.1 1119.2 1493.6 1127.6 1494.2 1127.8 1494.8 1124.2 1495.3 1120.8 1495.9 1118.0 1496.5 1113.3 1497.0 1108.4 1497.6 1107.9 1498.2 1111.0 1498.7 1121.0 1499.3 1128.1 1499.9 1125.5 1500.4 1121.8 1501.0 1123.0 1501.6 1124.0 1502.1 1128.9 1502.7 1138.5 1503.3 1140.5 1503.8 1137.7 1504.4 1133.8 1504.9 1128.2 1505.5 1124.2 1506.1 1121.6 1506.6 1126.3 1507.2 1134.7 1507.8 1140.9 1508.3 1144.8 1508.9 1150.2 1509.5 1161.5 1510.0 1171.1 1510.6 1180.0 1511.2 1185.2 1511.7 1181.3 1512.3 1172.7 1512.9 1170.8 1513.4 1167.9 1514.0 1160.4 1514.6 1156.9 1515.1 1158.8 1515.7 1167.5 1516.3 1178.3 1516.8 1187.1 1517.4 1188.2 1518.0 1181.9 1518.5 1179.2 1519.1 1175.9 1519.7 1172.8 1520.2 1168.7 1520.8 1168.2 1521.4 1172.9 1521.9 1180.0 1522.5 1182.8 1523.0 1184.1 1523.6 1183.2 1524.2 1181.8 1524.7 1182.3 1525.3 1187.1 1525.9 1193.0 1526.4 1195.3 1527.0 1194.0 1527.6 1197.3 1528.1 1189.5 1528.7 1180.7 1529.3 1175.0 1529.8 1167.3 1530.4 1167.7 1531.0 1167.2 1531.5 1166.0 1532.1 1163.1 1532.7 1163.4 1533.2 1168.0 1533.8 1172.8 1534.4 1178.1 1534.9 1186.4 1535.5 1197.4 1536.1 1204.1 1536.6 1208.8 1537.2 1210.5 1537.8 1202.4 1538.3 1199.5 1538.9 1222.4 1539.4 1235.3 1540.0 1234.6 1540.6 1232.3 1541.1 1228.2 1541.7 1221.8 1542.3 1215.8 1542.8 1219.3 1543.4 1226.6 1544.0 1241.6 1544.5 1250.0 1545.1 1242.0 1545.7 1228.4 1546.2 1213.8 1546.8 1204.0 1547.4 1205.7 1547.9 1216.8 1548.5 1231.0 1549.1 1246.2 1549.6 1246.8 1550.2 1236.1 1550.8 1223.4 1551.3 1216.3 1551.9 1209.7 1552.5 1213.5 1553.0 1220.3 1553.6 1229.4 1554.2 1235.3 1554.7 1234.7 1555.3 1233.8 1555.9 1231.0 1556.4 1231.1 1557.0 1231.3 1557.5 1237.5 1558.1 1256.6 1558.7 1263.3 1559.2 1263.0 1559.8 1260.7 1560.4 1265.0 1560.9 1272.1 1561.5 1274.3 1562.1 1276.0 1562.6 1270.6 1563.2 1263.6 1563.8 1260.6 1564.3 1251.0 1564.9 1236.6 1565.5 1232.4 1566.0 1234.9 1566.6 1236.0 1567.2 1237.7 1567.7 1234.0 1568.3 1231.1 1568.9 1224.6 1569.4 1228.6 1570.0 1235.2 1570.6 1241.5 1571.1 1243.0 1571.7 1241.7 1572.3 1234.4 1572.8 1226.6 1573.4 1226.8 1574.0 1227.6 1574.5 1227.0 1575.1 1234.3 1575.6 1238.1 1576.2 1245.4 1576.8 1249.3 1577.3 1243.8 1577.9 1231.6 1578.5 1224.6 1579.0 1219.9 1579.6 1221.7 1580.2 1227.4 1580.7 1231.3 1581.3 1232.2 1581.9 1227.9 1582.4 1226.0 1583.0 1226.6 1583.6 1218.2 1584.1 1198.3 1584.7 1195.0 1585.3 1199.2 1585.8 1199.2 1586.4 1198.6 1587.0 1198.8 1587.5 1196.9 1588.1 1181.6 1588.7 1173.8 1589.2 1177.8 1589.8 1186.4 1590.4 1195.4 1590.9 1205.5 1591.5 1206.8 1592.1 1193.9 1592.6 1172.6 1593.2 1158.2 1593.7 1160.9 1594.3 1175.1 1594.9 1186.9 1595.4 1192.5 1596.0 1192.9 1596.6 1190.3 1597.1 1189.1 1597.7 1167.9 1598.3 1150.7 1598.8 1153.7 1599.4 1156.0 1600.0 1164.0 1600.5 1163.6 1601.1 1154.2 1601.7 1154.2 1602.2 1151.5 1602.8 1148.0 1603.4 1148.0 1603.9 1158.9 1604.5 1181.1 1605.1 1188.5 1605.6 1189.7 1606.2 1187.6 1606.8 1185.9 1607.3 1185.4 1607.9 1187.2 1608.5 1187.8 1609.0 1179.2 1609.6 1169.0 1610.1 1165.7 1610.7 1163.7 1611.3 1166.9 1611.8 1166.8 1612.4 1170.0 1613.0 1175.1 1613.5 1176.8 1614.1 1181.4 1614.7 1175.2 1615.2 1161.5 1615.8 1153.3 1616.4 1147.4 1616.9 1148.5 1617.5 1148.9 1618.1 1146.3 1618.6 1146.7 1619.2 1152.6 1619.8 1165.0 1620.3 1183.8 1620.9 1204.1 1621.5 1205.1 1622.0 1198.3 1622.6 1190.2 1623.2 1187.3 1623.7 1198.8 1624.3 1213.0 1624.9 1207.4 1625.4 1200.7 1626.0 1193.6 1626.6 1207.7 1627.1 1219.0 1627.7 1224.9 1628.2 1228.8 1628.8 1225.1 1629.4 1222.8 1629.9 1210.6 1630.5 1194.4 1631.1 1186.3 1631.6 1190.9 1632.2 1200.2 1632.8 1209.2 1633.3 1218.8 1633.9 1223.1 1634.5 1227.1 1635.0 1227.9 1635.6 1219.7 1636.2 1204.7 1636.7 1204.8 1637.3 1205.8 1637.9 1206.8 1638.4 1204.4 1639.0 1206.9 1639.6 1214.8 1640.1 1223.1 1640.7 1219.0 1641.3 1213.9 1641.8 1213.0 1642.4 1235.5 1643.0 1253.7 1643.5 1255.5 1644.1 1257.5 1644.7 1251.8 1645.2 1252.5 1645.8 1242.5 1646.3 1227.2 1646.9 1224.7 1647.5 1234.3 1648.0 1246.7 1648.6 1252.9 1649.2 1249.4 1649.7 1242.3 1650.3 1235.2 1650.9 1237.9 1651.4 1249.8 1652.0 1259.6 1652.6 1262.5 1653.1 1263.3 1653.7 1265.9 1654.3 1244.7 1654.8 1210.8 1655.4 1198.9 1656.0 1197.6 1656.5 1196.0 1657.1 1195.2 1657.7 1190.3 1658.2 1212.7 1658.8 1243.2 1659.4 1262.6 1659.9 1266.1 1660.5 1267.6 1661.1 1265.5 1661.6 1261.4 1662.2 1244.6 1662.8 1226.4 1663.3 1213.9 1663.9 1203.5 1664.4 1197.0 1665.0 1195.8 1665.6 1191.0 1666.1 1192.2 1666.7 1193.7 1667.3 1203.9 1667.8 1209.0 1668.4 1208.9 1669.0 1210.3 1669.5 1209.1 1670.1 1205.3 1670.7 1184.6 1671.2 1181.7 1671.8 1177.3 1672.4 1178.4 1672.9 1180.4 1673.5 1184.7 1674.1 1189.7 1674.6 1194.1 1675.2 1175.9 1675.8 1155.9 1676.3 1163.6 1676.9 1173.0 1677.5 1179.9 1678.0 1175.9 1678.6 1169.9 1679.2 1164.2 1679.7 1162.9 1680.3 1167.8 1680.8 1168.3 1681.4 1165.3 1682.0 1163.9 1682.5 1157.3 1683.1 1149.3 1683.7 1147.6 1684.2 1153.0 1684.8 1156.1 1685.4 1152.5 1685.9 1152.8 1686.5 1153.8 1687.1 1150.7 1687.6 1143.6 1688.2 1138.8 1688.8 1135.8 1689.3 1138.7 1689.9 1139.5 1690.5 1141.9 1691.0 1136.9 1691.6 1135.3 1692.2 1130.8 1692.7 1128.5 1693.3 1128.7 1693.9 1132.6 1694.4 1139.7 1695.0 1143.1 1695.6 1148.2 1696.1 1148.8 1696.7 1150.5 1697.3 1142.4 1697.8 1133.2 1698.4 1130.9 1698.9 1132.4 1699.5 1138.6 1700.1 1140.2 1700.6 1128.3 1701.2 1108.9 1701.8 1102.1 1702.3 1102.3 1702.9 1104.2 1703.5 1102.3 1704.0 1105.0 1704.6 1115.2 1705.2 1121.7 1705.7 1119.4 1706.3 1108.6 1706.9 1099.4 1707.4 1098.1 1708.0 1101.7 1708.6 1109.3 1709.1 1115.3 1709.7 1124.3 1710.3 1125.5 1710.8 1120.6 1711.4 1113.0 1712.0 1108.6 1712.5 1106.6 1713.1 1108.3 1713.7 1112.0 1714.2 1120.0 1714.8 1124.0 1715.4 1126.1 1715.9 1122.7 1716.5 1120.7 1717.0 1116.1 1717.6 1113.3 1718.2 1114.5 1718.7 1113.7 1719.3 1114.9 1719.9 1115.7 1720.4 1116.6 1721.0 1116.1 1721.6 1115.0 1722.1 1115.2 1722.7 1118.5 1723.3 1118.3 1723.8 1111.6 1724.4 1100.0 1725.0 1092.3 1725.5 1089.9 1726.1 1083.8 1726.7 1079.6 1727.2 1079.4 1727.8 1084.2 1728.4 1095.1 1728.9 1106.9 1729.5 1109.8 1730.1 1107.1 1730.6 1100.0 1731.2 1095.4 1731.8 1098.8 1732.3 1105.8 1732.9 1115.7 1733.5 1124.1 1734.0 1123.7 1734.6 1116.2 1735.1 1102.5 1735.7 1097.6 1736.3 1097.6 1736.8 1105.4 1737.4 1111.6 1738.0 1114.6 1738.5 1112.6 1739.1 1110.5 1739.7 1113.0 1740.2 1112.3 1740.8 1111.6 1741.4 1113.1 1741.9 1113.3 1742.5 1114.3 1743.1 1106.8 1743.6 1099.0 1744.2 1096.6 1744.8 1099.6 1745.3 1103.8 1745.9 1112.9 1746.5 1115.4 1747.0 1114.4 1747.6 1114.0 1748.2 1116.1 1748.7 1114.1 1749.3 1102.3 1749.9 1091.5 1750.4 1085.4 1751.0 1081.6 1751.5 1082.1 1752.1 1082.9 1752.7 1087.3 1753.2 1093.8 1753.8 1094.8 1754.4 1096.8 1754.9 1090.1 1755.5 1081.6 1756.1 1075.0 1756.6 1069.3 1757.2 1064.5 1757.8 1066.7 1758.3 1067.3 1758.9 1066.2 1759.5 1064.4 1760.0 1065.5 1760.6 1065.0 1761.2 1070.0 1761.7 1071.4 1762.3 1071.0 1762.9 1071.3 1763.4 1074.6 1764.0 1072.2 1764.6 1067.5 1765.1 1060.1 1765.7 1056.3 1766.3 1054.5 1766.8 1053.4 1767.4 1052.7 1768.0 1049.4 1768.5 1045.9 1769.1 1046.6 1769.6 1046.4 1770.2 1052.1 1770.8 1058.4 1771.3 1059.9 1771.9 1062.9 1772.5 1063.5 1773.0 1063.8 1773.6 1063.2 1774.2 1063.8 1774.7 1064.2 1775.3 1061.0 1775.9 1063.5 1776.4 1071.9 1777.0 1079.9 1777.6 1087.9 1778.1 1098.1 1778.7 1101.2 1779.3 1097.4 1779.8 1095.0 1780.4 1089.8 1781.0 1092.6 1781.5 1101.4 1782.1 1104.4 1782.7 1105.8 1783.2 1102.9 1783.8 1099.9 1784.4 1094.5 1784.9 1092.9 1785.5 1095.3 1786.1 1092.9 1786.6 1095.0 1787.2 1106.9 1787.7 1115.7 1788.3 1113.0 1788.9 1106.9 1789.4 1106.7 1790.0 1106.1 1790.6 1108.7 1791.1 1108.1 1791.7 1105.4 1792.3 1105.0 1792.8 1103.9 1793.4 1107.4 1794.0 1108.7 1794.5 1113.0 1795.1 1119.9 1795.7 1126.3 1796.2 1130.8 1796.8 1138.4 1797.4 1139.9 1797.9 1141.5 1798.5 1142.6 1799.1 1141.5 1799.6 1136.8 1800.2 1131.2 1800.8 1123.8 1801.3 1126.9 1801.9 1129.7 1802.5 1132.0 1803.0 1132.9 1803.6 1131.9 1804.2 1132.9 1804.7 1130.0 1805.3 1130.1 1805.8 1129.5 1806.4 1114.7 1807.0 1109.5 1807.5 1109.0 1808.1 1109.7 1808.7 1112.0 1809.2 1118.1 1809.8 1122.7 1810.4 1119.1 1810.9 1105.3 1811.5 1097.1 1812.1 1096.5 1812.6 1101.7 1813.2 1102.8 1813.8 1105.2 1814.3 1106.9 1814.9 1105.0 1815.5 1099.0 1816.0 1093.0 1816.6 1090.3 1817.2 1089.8 1817.7 1090.8 1818.3 1090.1 1818.9 1090.9 1819.4 1091.9 1820.0 1085.6 1820.6 1079.0 1821.1 1079.7 1821.7 1079.2 1822.2 1078.6 1822.8 1080.6 1823.4 1080.4 1823.9 1076.4 1824.5 1070.7 1825.1 1067.4 1825.6 1067.1 1826.2 1067.7 1826.8 1069.8 1827.3 1071.0 1827.9 1070.6 1828.5 1072.3 1829.0 1072.9 1829.6 1069.0 1830.2 1066.9 1830.7 1067.6 1831.3 1068.9 1831.9 1070.2 1832.4 1066.4 1833.0 1060.0 1833.6 1056.4 1834.1 1058.2 1834.7 1059.9 1835.3 1061.0 1835.8 1062.2 1836.4 1059.4 1837.0 1054.4 1837.5 1049.8 1838.1 1050.5 1838.7 1052.2 1839.2 1053.5 1839.8 1054.5 1840.3 1053.6 1840.9 1053.7 1841.5 1052.3 1842.0 1050.7 1842.6 1045.1 1843.2 1039.0 1843.7 1038.9 1844.3 1040.2 1844.9 1049.2 1845.4 1054.2 1846.0 1053.9 1846.6 1054.7 1847.1 1051.3 1847.7 1050.1 1848.3 1059.2 1848.8 1069.0 1849.4 1074.8 1850.0 1070.4 1850.5 1063.7 1851.1 1058.7 1851.7 1058.5 1852.2 1060.2 1852.8 1059.8 1853.4 1065.3 1853.9 1074.2 1854.5 1081.7 1855.1 1083.9 1855.6 1082.0 1856.2 1079.4 1856.8 1075.0 1857.3 1079.6 1857.9 1085.0 1858.4 1088.8 1859.0 1087.4 1859.6 1081.7 1860.1 1081.9 1860.7 1081.2 1861.3 1081.9 1861.8 1082.7 1862.4 1082.8 1863.0 1085.0 1863.5 1089.8 1864.1 1093.8 1864.7 1097.5 1865.2 1101.4 1865.8 1098.8 1866.4 1091.7 1866.9 1087.0 1867.5 1080.8 1868.1 1079.1 1868.6 1082.8 1869.2 1083.9 1869.8 1085.1 1870.3 1086.0 1870.9 1086.3 1871.5 1084.9 1872.0 1085.4 1872.6 1084.3 1873.2 1091.4 1873.7 1100.0 1874.3 1104.2 1874.9 1103.9 1875.4 1099.7 1876.0 1096.3 1876.5 1093.8 1877.1 1094.3 1877.7 1091.1 1878.2 1092.5 1878.8 1097.5 1879.4 1100.9 1879.9 1101.7 1880.5 1102.3 1881.1 1099.7 1881.6 1098.0 1882.2 1100.7 1882.8 1103.1 1883.3 1108.2 1883.9 1109.9 1884.5 1108.3 1885.0 1106.7 1885.6 1102.7 1886.2 1102.3 1886.7 1104.8 1887.3 1106.8 1887.9 1107.3 1888.4 1104.5 1889.0 1102.9 1889.6 1108.4 1890.1 1114.4 1890.7 1115.3 1891.3 1113.3 1891.8 1111.4 1892.4 1109.6 1892.9 1117.3 1893.5 1126.4 1894.1 1131.6 1894.6 1129.5 1895.2 1125.1 1895.8 1123.2 1896.3 1123.6 1896.9 1121.7 1897.5 1125.4 1898.0 1129.8 1898.6 1134.7 1899.2 1139.2 1899.7 1141.8 1900.3 1136.7 1900.9 1131.8 1901.4 1129.3 1902.0 1132.7 1902.6 1133.8 1903.1 1136.9 1903.7 1138.5 1904.3 1141.2 1904.8 1141.2 1905.4 1134.3 1906.0 1127.5 1906.5 1127.8 1907.1 1129.7 1907.7 1135.3 1908.2 1138.9 1908.8 1147.0 1909.4 1155.6 1909.9 1156.4 1910.5 1156.0 1911.0 1152.0 1911.6 1147.6 1912.2 1144.4 1912.7 1142.8 1913.3 1138.3 1913.9 1131.8 1914.4 1127.8 1915.0 1129.1 1915.6 1133.7 1916.1 1132.8 1916.7 1124.8 1917.3 1115.0 1917.8 1114.9 1918.4 1114.7 1919.0 1115.7 1919.5 1116.1 1920.1 1118.6 1920.7 1120.1 1921.2 1122.2 1921.8 1121.4 1922.4 1110.0 1922.9 1105.2 1923.5 1104.7 1924.1 1105.4 1924.6 1106.5 1925.2 1107.7 1925.8 1108.5 1926.3 1108.9 1926.9 1111.3 1927.5 1109.8 1928.0 1112.0 1928.6 1113.6 1929.1 1111.7 1929.7 1108.9 1930.3 1105.0 1930.8 1102.9 1931.4 1103.9 1932.0 1104.3 1932.5 1104.0 1933.1 1105.2 1933.7 1106.2 1934.2 1112.2 1934.8 1118.3 1935.4 1121.6 1935.9 1120.9 1936.5 1122.1 1937.1 1120.2 1937.6 1120.7 1938.2 1121.8 1938.8 1120.5 1939.3 1118.8 1939.9 1119.7 1940.5 1126.4 1941.0 1133.5 1941.6 1137.1 1942.2 1133.2 1942.7 1132.6 1943.3 1129.8 1943.9 1133.5 1944.4 1142.2 1945.0 1146.8 1945.6 1143.3 1946.1 1139.9 1946.7 1140.8 1947.2 1140.7 1947.8 1142.7 1948.4 1143.8 1948.9 1147.4 1949.5 1147.3 1950.1 1144.2 1950.6 1140.0 1951.2 1137.0 1951.8 1148.4 1952.3 1161.1 1952.9 1167.6 1953.5 1168.4 1954.0 1168.3 1954.6 1167.9 1955.2 1170.5 1955.7 1168.9 1956.3 1167.2 1956.9 1167.9 1957.4 1174.8 1958.0 1181.8 1958.6 1183.9 1959.1 1183.9 1959.7 1183.6 1960.3 1180.9 1960.8 1181.4 1961.4 1187.7 1962.0 1191.6 1962.5 1190.5 1963.1 1193.6 1963.6 1192.4 1964.2 1191.0 1964.8 1190.9 1965.3 1190.7 1965.9 1193.7 1966.5 1201.8 1967.0 1209.5 1967.6 1218.8 1968.2 1225.3 1968.7 1229.4 1969.3 1230.6 1969.9 1233.7 1970.4 1232.5 1971.0 1229.5 1971.6 1231.5 1972.1 1239.8 1972.7 1247.8 1973.3 1252.8 1973.8 1257.3 1974.4 1258.4 1975.0 1261.0 1975.5 1261.7 1976.1 1260.8 1976.7 1260.3 1977.2 1263.5 1977.8 1267.9 1978.4 1276.1 1978.9 1280.1 1979.5 1281.1 1980.1 1280.6 1980.6 1284.3 1981.2 1283.5 1981.7 1285.0 1982.3 1289.3 1982.9 1295.7 1983.4 1298.7 1984.0 1300.3 1984.6 1298.1 1985.1 1298.3 1985.7 1299.6 1986.3 1302.9 1986.8 1303.7 1987.4 1306.8 1988.0 1306.4 1988.5 1306.4 1989.1 1303.0 1989.7 1301.0 1990.2 1298.4 1990.8 1296.1 1991.4 1297.5 1991.9 1298.2 1992.5 1299.3 1993.1 1301.5 1993.6 1303.5 1994.2 1300.7 1994.8 1296.1 1995.3 1292.1 1995.9 1292.4 1996.5 1290.9 1997.0 1292.0 1997.6 1295.1 1998.2 1295.9 1998.7 1296.1 1999.3 1302.8 1999.8 1306.5 2000.4 1309.9 2001.0 1314.3 2001.5 1313.1 2002.1 1310.1 2002.7 1312.8 2003.2 1314.7 2003.8 1312.3 2004.4 1310.8 2004.9 1309.3 2005.5 1309.8 2006.1 1312.2 2006.6 1311.0 2007.2 1310.8 2007.8 1313.6 2008.3 1313.5 2008.9 1312.6 2009.5 1310.4 2010.0 1309.2 2010.6 1308.4 2011.2 1309.9 2011.7 1306.8 2012.3 1303.8 2012.9 1302.0 2013.4 1301.6 2014.0 1302.7 2014.6 1303.9 2015.1 1304.8 2015.7 1304.2 2016.3 1304.9 2016.8 1304.0 2017.4 1303.1 2017.9 1300.5 2018.5 1300.5 2019.1 1297.8 2019.6 1297.7 2020.2 1293.8 2020.8 1293.4 2021.3 1292.6 2021.9 1291.9 2022.5 1294.0 2023.0 1293.5 2023.6 1292.7 2024.2 1293.4 2024.7 1293.3 2025.3 1291.8 2025.9 1291.2 2026.4 1291.5 2027.0 1290.7 2027.6 1287.9 2028.1 1283.8 2028.7 1277.2 2029.3 1273.9 2029.8 1272.2 2030.4 1272.8 2031.0 1272.8 2031.5 1276.4 2032.1 1275.9 2032.7 1275.8 2033.2 1275.7 2033.8 1275.9 2034.3 1276.1 2034.9 1279.3 2035.5 1284.0 2036.0 1290.2 2036.6 1291.4 2037.2 1290.1 2037.7 1289.2 2038.3 1284.7 2038.9 1282.2 2039.4 1280.7 2040.0 1279.7 2040.6 1281.1 2041.1 1279.8 2041.7 1280.1 2042.3 1282.6 2042.8 1285.4 2043.4 1286.0 2044.0 1284.9 2044.5 1284.4 2045.1 1284.4 2045.7 1282.2 2046.2 1281.2 2046.8 1279.2 2047.4 1278.8 2047.9 1276.8 2048.5 1278.6 2049.1 1279.2 2049.6 1281.1 2050.2 1279.5 2050.8 1282.2 2051.3 1281.7 2051.9 1282.7 2052.4 1286.4 2053.0 1288.1 2053.6 1288.7 2054.1 1287.1 2054.7 1286.6 2055.3 1283.4 2055.8 1279.2 2056.4 1278.5 2057.0 1276.7 2057.5 1275.1 2058.1 1277.5 2058.7 1278.8 2059.2 1280.5 2059.8 1284.8 2060.4 1287.0 2060.9 1290.2 2061.5 1291.3 2062.1 1289.3 2062.6 1290.2 2063.2 1290.3 2063.8 1288.6 2064.3 1286.0 2064.9 1282.3 2065.5 1278.8 2066.0 1273.5 2066.6 1271.2 2067.2 1268.3 2067.7 1264.9 2068.3 1266.6 2068.9 1268.0 2069.4 1266.2 2070.0 1266.2 2070.5 1265.5 2071.1 1265.2 2071.7 1264.8 2072.2 1265.7 2072.8 1266.0 2073.4 1264.3 2073.9 1261.0 2074.5 1257.7 2075.1 1253.6 2075.6 1252.8 2076.2 1254.4 2076.8 1255.7 2077.3 1258.5 2077.9 1260.3 2078.5 1262.5 2079.0 1258.4 2079.6 1257.5 2080.2 1251.1 2080.7 1248.3 2081.3 1247.6 2081.9 1251.8 2082.4 1252.5 2083.0 1254.8 2083.6 1258.1 2084.1 1254.8 2084.7 1243.7 2085.3 1221.9 2085.8 1221.2 2086.4 1224.5 2087.0 1226.9 2087.5 1227.0 2088.1 1227.1 2088.6 1221.1 2089.2 1216.1 2089.8 1209.8 2090.3 1204.5 2090.9 1206.2 2091.5 1208.0 2092.0 1211.3 2092.6 1216.7 2093.2 1217.7 2093.7 1211.6 2094.3 1196.8 2094.9 1184.2 2095.4 1184.5 2096.0 1187.2 2096.6 1185.9 2097.1 1188.1 2097.7 1191.7 2098.3 1194.9 2098.8 1194.9 2099.4 1194.0 2100.0 1194.4 2100.5 1193.6 2101.1 1189.4 2101.7 1189.1 2102.2 1186.8 2102.8 1185.7 2103.4 1183.8 2103.9 1183.1 2104.5 1179.7 2105.0 1173.5 2105.6 1166.4 2106.2 1161.1 2106.7 1156.2 2107.3 1154.1 2107.9 1155.4 2108.4 1152.3 2109.0 1151.9 2109.6 1153.4 2110.1 1156.5 2110.7 1156.7 2111.3 1158.7 2111.8 1150.8 2112.4 1137.1 2113.0 1129.0 2113.5 1127.3 2114.1 1127.9 2114.7 1125.8 2115.2 1129.4 2115.8 1131.1 2116.4 1130.8 2116.9 1128.7 2117.5 1123.6 2118.1 1119.1 2118.6 1113.4 2119.2 1113.4 2119.8 1113.8 2120.3 1115.6 2120.9 1118.2 2121.5 1120.0 2122.0 1119.8 2122.6 1117.3 2123.1 1113.6 2123.7 1109.2 2124.3 1109.1 2124.8 1112.1 2125.4 1114.0 2126.0 1114.5 2126.5 1116.3 2127.1 1113.2 2127.7 1108.4 2128.2 1104.2 2128.8 1101.2 2129.4 1100.2 2129.9 1097.6 2130.5 1093.4 2131.1 1087.2 2131.6 1082.6 2132.2 1078.1 2132.8 1075.7 2133.3 1074.7 2133.9 1076.1 2134.5 1074.7 2135.0 1071.1 2135.6 1073.8 2136.2 1076.3 2136.7 1079.9 2137.3 1083.3 2137.9 1086.4 2138.4 1082.9 2139.0 1072.5 2139.6 1063.0 2140.1 1054.9 2140.7 1051.3 2141.2 1050.6 2141.8 1050.1 2142.4 1050.2 2142.9 1049.7 2143.5 1048.3 2144.1 1049.6 2144.6 1049.9 2145.2 1048.0 2145.8 1047.4 2146.3 1048.8 2146.9 1051.6 2147.5 1053.2 2148.0 1051.9 2148.6 1050.2 2149.2 1052.3 2149.7 1054.4 2150.3 1054.9 2150.9 1059.6 2151.4 1060.6 2152.0 1062.2 2152.6 1062.8 2153.1 1062.3 2153.7 1062.1 2154.3 1064.1 2154.8 1068.2 2155.4 1072.6 2156.0 1077.4 2156.5 1082.3 2157.1 1089.2 2157.7 1090.9 2158.2 1085.1 2158.8 1080.8 2159.3 1079.8 2159.9 1075.0 2160.5 1072.7 2161.0 1069.4 2161.6 1070.7 2162.2 1070.9 2162.7 1070.5 2163.3 1071.4 2163.9 1073.9 2164.4 1076.0 2165.0 1076.4 2165.6 1074.9 2166.1 1073.6 2166.7 1071.5 2167.3 1066.8 2167.8 1065.0 2168.4 1064.4 2169.0 1058.0 2169.5 1053.1 2170.1 1047.7 2170.7 1042.9 2171.2 1040.7 2171.8 1040.1 2172.4 1043.1 2172.9 1047.8 2173.5 1052.2 2174.1 1057.9 2174.6 1063.5 2175.2 1066.6 2175.7 1068.7 2176.3 1067.8 2176.9 1071.0 2177.4 1072.1 2178.0 1072.1 2178.6 1070.8 2179.1 1067.4 2179.7 1068.5 2180.3 1066.9 2180.8 1063.9 2181.4 1064.7 2182.0 1066.3 2182.5 1069.4 2183.1 1068.9 2183.7 1069.1 2184.2 1067.9 2184.8 1067.9 2185.4 1072.1 2185.9 1078.8 2186.5 1083.8 2187.1 1083.5 2187.6 1084.3 2188.2 1085.7 2188.8 1078.7 2189.3 1070.8 2189.9 1065.6 2190.5 1062.2 2191.0 1060.5 2191.6 1064.9 2192.2 1069.4 2192.7 1073.2 2193.3 1071.3 2193.8 1068.0 2194.4 1065.2 2195.0 1059.9 2195.5 1058.9 2196.1 1057.9 2196.7 1062.2 2197.2 1065.3 2197.8 1070.0 2198.4 1071.0 2198.9 1064.6 2199.5 1055.4 2200.1 1046.6 2200.6 1046.7 2201.2 1050.8 2201.8 1051.3 2202.3 1055.7 2202.9 1057.1 2203.5 1055.3 2204.0 1051.2 2204.6 1045.6 2205.2 1037.7 2205.7 1035.5 2206.3 1038.2 2206.9 1038.9 2207.4 1040.3 2208.0 1042.5 2208.6 1041.4 2209.1 1031.2 2209.7 1020.0 2210.3 1011.3 2210.8 1013.6 2211.4 1018.6 2211.9 1026.2 2212.5 1032.5 2213.1 1036.9 2213.6 1035.6 2214.2 1031.0 2214.8 1021.7 2215.3 1018.7 2215.9 1018.9 2216.5 1019.9 2217.0 1020.3 2217.6 1022.2 2218.2 1023.7 2218.7 1020.7 2219.3 1012.2 2219.9 1000.6 2220.4 997.6 2221.0 998.3 2221.6 1000.0 2222.1 1002.9 2222.7 1004.2 2223.3 1007.8 2223.8 1008.2 2224.4 1006.2 2225.0 1004.3 2225.5 999.3 2226.1 994.6 2226.7 994.4 2227.2 990.1 2227.8 986.6 2228.4 979.5 2228.9 971.3 2229.5 966.5 2230.0 968.9 2230.6 969.1 2231.2 968.5 2231.7 968.5 2232.3 967.6 2232.9 967.1 2233.4 970.9 2234.0 971.7 2234.6 969.7 2235.1 964.3 2235.7 956.0 2236.3 945.7 2236.8 939.0 2237.4 938.1 2238.0 936.9 2238.5 935.5 2239.1 936.4 2239.7 938.9 2240.2 946.6 2240.8 950.8 2241.4 953.7 2241.9 950.3 2242.5 948.7 2243.1 947.6 2243.6 946.2 2244.2 946.8 2244.8 945.3 2245.3 942.6 2245.9 939.3 2246.4 941.6 2247.0 944.5 2247.6 949.1 2248.1 949.9 2248.7 952.5 2249.3 950.7 2249.8 946.5 2250.4 944.5 2251.0 939.7 2251.5 939.1 2252.1 937.1 2252.7 939.6 2253.2 942.8 2253.8 949.5 2254.4 951.3 2254.9 954.3 2255.5 953.8 2256.1 954.7 2256.6 957.4 2257.2 955.7 2257.8 954.5 2258.3 954.7 2258.9 956.0 2259.5 954.2 2260.0 949.3 2260.6 945.8 2261.2 942.5 2261.7 940.1 2262.3 937.6 2262.9 937.0 2263.4 935.9 2264.0 934.9 2264.5 936.6 2265.1 939.5 2265.7 942.3 2266.2 944.8 2266.8 946.3 2267.4 945.3 2267.9 944.8 2268.5 944.7 2269.1 946.2 2269.6 947.8 2270.2 953.8 2270.8 957.2 2271.3 962.2 2271.9 964.8 2272.5 962.4 2273.0 960.9 2273.6 957.6 2274.2 955.3 2274.7 954.6 2275.3 955.3 2275.9 955.9 2276.4 958.2 2277.0 962.7 2277.6 966.4 2278.1 970.6 2278.7 975.9 2279.3 977.9 2279.8 980.8 2280.4 982.1 2281.0 983.2 2281.5 983.6 2282.1 983.5 2282.6 983.2 2283.2 984.1 2283.8 985.0 2284.3 985.4 2284.9 988.2 2285.5 994.6 2286.0 1000.0 2286.6 1005.7 2287.2 1006.8 2287.7 1007.2 2288.3 1009.5 2288.9 1008.7 2289.4 1009.2 2290.0 1009.2 2290.6 1010.9 2291.1 1009.9 2291.7 1013.3 2292.3 1017.4 2292.8 1023.2 2293.4 1025.9 2294.0 1029.6 2294.5 1033.8 2295.1 1035.9 2295.7 1037.8 2296.2 1041.1 2296.8 1044.1 2297.4 1047.8 2297.9 1050.2 2298.5 1051.7 2299.1 1049.5 2299.6 1042.6 2300.2 1033.4 2300.7 1029.3 2301.3 1029.3 2301.9 1032.1 2302.4 1035.7 2303.0 1038.9 2303.6 1041.2 2304.1 1041.7 2304.7 1042.3 2305.3 1043.8 2305.8 1044.8 2306.4 1045.6 2307.0 1044.9 2307.5 1046.7 2308.1 1045.5 2308.7 1042.0 2309.2 1041.9 2309.8 1038.5 2310.4 1038.3 2310.9 1040.8 2311.5 1042.4 2312.1 1041.9 2312.6 1042.5 2313.2 1042.8 2313.8 1040.6 2314.3 1040.3 2314.9 1043.9 2315.5 1049.3 2316.0 1053.0 2316.6 1057.2 2317.1 1061.8 2317.7 1063.0 2318.3 1067.0 2318.8 1068.6 2319.4 1071.2 2320.0 1071.9 2320.5 1072.7 2321.1 1075.1 2321.7 1070.7 2322.2 1070.2 2322.8 1070.7 2323.4 1071.7 2323.9 1070.9 2324.5 1071.9 2325.1 1074.6 2325.6 1077.7 2326.2 1082.0 2326.8 1085.9 2327.3 1086.0 2327.9 1084.5 2328.5 1083.2 2329.0 1081.2 2329.6 1081.9 2330.2 1080.4 2330.7 1079.0 2331.3 1079.5 2331.9 1078.9 2332.4 1075.9 2333.0 1075.0 2333.6 1075.8 2334.1 1078.8 2334.7 1084.0 2335.2 1089.1 2335.8 1095.4 2336.4 1098.5 2336.9 1099.5 2337.5 1096.0 2338.1 1093.8 2338.6 1093.8 2339.2 1091.9 2339.8 1091.2 2340.3 1090.4 2340.9 1095.7 2341.5 1100.1 2342.0 1103.8 2342.6 1106.4 2343.2 1110.5 2343.7 1109.1 2344.3 1111.2 2344.9 1110.4 2345.4 1109.3 2346.0 1108.0 2346.6 1105.1 2347.1 1104.6 2347.7 1105.1 2348.3 1105.7 2348.8 1109.2 2349.4 1109.6 2350.0 1109.9 2350.5 1110.3 2351.1 1113.0 2351.7 1116.3 2352.2 1120.1 2352.8 1123.3 2353.3 1128.0 2353.9 1131.6 2354.5 1136.8 2355.0 1138.8 2355.6 1141.3 2356.2 1148.5 2356.7 1155.4 2357.3 1162.1 2357.9 1168.1 2358.4 1169.8 2359.0 1173.7 2359.6 1177.3 2360.1 1181.1 2360.7 1180.8 2361.3 1180.0 2361.8 1179.9 2362.4 1179.7 2363.0 1180.0 2363.5 1182.1 2364.1 1183.0 2364.7 1184.8 2365.2 1190.8 2365.8 1200.2 2366.4 1208.2 2366.9 1212.8 2367.5 1212.3 2368.1 1209.7 2368.6 1211.4 2369.2 1211.3 2369.8 1210.6 2370.3 1212.2 2370.9 1215.3 2371.4 1223.7 2372.0 1235.0 2372.6 1243.7 2373.1 1251.4 2373.7 1251.0 2374.3 1251.7 2374.8 1250.7 2375.4 1249.4 2376.0 1246.3 2376.5 1246.1 2377.1 1245.5 2377.7 1249.6 2378.2 1252.8 2378.8 1257.0 2379.4 1260.6 2379.9 1263.6 2380.5 1267.2 2381.1 1269.2 2381.6 1270.9 2382.2 1273.4 2382.8 1278.7 2383.3 1289.6 2383.9 1299.0 2384.5 1302.0 2385.0 1302.9 2385.6 1302.8 2386.2 1303.3 2386.7 1303.6 2387.3 1303.2 2387.8 1304.1 2388.4 1303.8 2389.0 1307.4 2389.5 1310.8 2390.1 1316.6 2390.7 1320.4 2391.2 1326.3 2391.8 1330.3 2392.4 1332.3 2392.9 1336.5 2393.5 1337.3 2394.1 1339.2 2394.6 1341.7 2395.2 1340.6 2395.8 1341.9 2396.3 1342.8 2396.9 1343.9 2397.5 1344.4 2398.0 1347.2 2398.6 1349.7 2399.2 1352.4 2399.7 1357.1 2400.3 1362.2 2400.9 1366.9 2401.4 1371.6 2402.0 1376.4 2402.6 1377.2 2403.1 1380.0 2403.7 1382.0 2404.3 1384.6 2404.8 1385.3 2405.4 1388.5 2405.9 1389.2 2406.5 1388.7 2407.1 1391.8 2407.6 1395.0 2408.2 1396.7 2408.8 1398.7 2409.3 1396.7 2409.9 1397.6 2410.5 1397.3 2411.0 1398.1 2411.6 1397.4 2412.2 1396.4 2412.7 1393.6 2413.3 1391.6 2413.9 1391.1 2414.4 1391.6 2415.0 1392.0 2415.6 1392.0 2416.1 1392.0 2416.7 1390.5 2417.3 1389.2 2417.8 1391.5 2418.4 1394.6 2419.0 1395.9 2419.5 1396.9 2420.1 1398.9 2420.7 1400.8 2421.2 1401.5 2421.8 1402.7 2422.4 1403.8 2422.9 1402.2 2423.5 1399.5 2424.0 1397.1 2424.6 1393.4 2425.2 1391.6 2425.7 1391.5 2426.3 1391.6 2426.9 1392.7 2427.4 1394.6 2428.0 1394.7 2428.6 1394.3 2429.1 1396.6 2429.7 1400.1 2430.3 1405.0 2430.8 1408.3 2431.4 1411.1 2432.0 1411.2 2432.5 1409.5 2433.1 1409.4 2433.7 1408.1 2434.2 1405.6 2434.8 1404.1 2435.4 1403.7 2435.9 1404.1 2436.5 1404.5 2437.1 1404.5 2437.6 1404.3 2438.2 1403.7 2438.8 1403.9 2439.3 1406.1 2439.9 1406.2 2440.5 1403.7 2441.0 1400.9 2441.6 1396.6 2442.1 1393.0 2442.7 1389.3 2443.3 1389.0 2443.8 1388.3 2444.4 1387.6 2445.0 1387.8 2445.5 1387.5 2446.1 1386.4 2446.7 1385.8 2447.2 1381.5 2447.8 1376.2 2448.4 1370.1 2448.9 1366.3 2449.5 1362.4 2450.1 1357.6 2450.6 1353.1 2451.2 1347.8 2451.8 1343.6 2452.3 1340.4 2452.9 1337.6 2453.5 1334.6 2454.0 1331.9 2454.6 1327.6 2455.2 1321.1 2455.7 1318.1 2456.3 1315.8 2456.9 1312.1 2457.4 1310.3 2458.0 1308.2 2458.5 1306.9 2459.1 1305.0 2459.7 1304.3 2460.2 1303.3 2460.8 1304.1 2461.4 1301.9 2461.9 1289.9 2462.5 1281.0 2463.1 1281.1 2463.6 1281.3 2464.2 1281.1 2464.8 1281.2 2465.3 1281.1 2465.9 1282.2 2466.5 1282.9 2467.0 1282.0 2467.6 1279.7 2468.2 1274.2 2468.7 1270.0 2469.3 1271.0 2469.9 1272.5 2470.4 1274.8 2471.0 1275.7 2471.6 1276.4 2472.1 1274.3 2472.7 1270.3 2473.3 1266.3 2473.8 1265.1 2474.4 1264.6 2475.0 1264.1 2475.5 1265.3 2476.1 1267.4 2476.6 1270.7 2477.2 1270.8 2477.8 1270.1 2478.3 1270.1 2478.9 1268.2 2479.5 1266.9 2480.0 1266.0 2480.6 1262.7 2481.2 1261.7 2481.7 1261.3 2482.3 1261.5 2482.9 1261.7 2483.4 1260.6 2484.0 1260.1 2484.6 1257.1 2485.1 1251.7 2485.7 1248.0 2486.3 1246.0 2486.8 1246.0 2487.4 1245.9 2488.0 1246.0 2488.5 1245.5 2489.1 1245.7 2489.7 1245.0 2490.2 1244.2 2490.8 1244.2 2491.4 1242.1 2491.9 1237.3 2492.5 1233.6 2493.1 1230.7 2493.6 1227.6 2494.2 1228.1 2494.7 1229.6 2495.3 1231.2 2495.9 1233.4 2496.4 1234.7 2497.0 1238.0 2497.6 1237.3 2498.1 1236.1 2498.7 1234.7 2499.3 1230.8 2499.8 1230.1 2500.4 1229.6 2501.0 1229.0 2501.5 1228.5 2502.1 1227.8 2502.7 1230.5 2503.2 1231.1 2503.8 1231.2 2504.4 1232.6 2504.9 1234.1 2505.5 1232.3 2506.1 1232.9 2506.6 1231.7 2507.2 1232.5 2507.8 1232.1 2508.3 1229.2 2508.9 1227.0 2509.5 1225.5 2510.0 1225.2 2510.6 1226.7 2511.2 1226.4 2511.7 1223.4 2512.3 1225.0 2512.8 1224.9 2513.4 1224.1 2514.0 1223.9 2514.5 1221.4 2515.1 1221.7 2515.7 1219.4 2516.2 1217.6 2516.8 1217.2 2517.4 1216.7 2517.9 1216.5 2518.5 1214.5 2519.1 1214.3 2519.6 1214.9 2520.2 1215.4 2520.8 1218.1 2521.3 1219.6 2521.9 1221.8 2522.5 1224.6 2523.0 1224.6 2523.6 1225.9 2524.2 1224.2 2524.7 1222.6 2525.3 1221.8 2525.9 1218.7 2526.4 1220.3 2527.0 1218.4 2527.6 1217.8 2528.1 1217.9 2528.7 1217.6 2529.2 1218.0 2529.8 1219.3 2530.4 1222.4 2530.9 1227.0 2531.5 1230.9 2532.1 1233.3 2532.6 1234.3 2533.2 1233.4 2533.8 1229.3 2534.3 1225.1 2534.9 1222.9 2535.5 1223.8 2536.0 1224.9 2536.6 1225.0 2537.2 1223.6 2537.7 1225.6 2538.3 1227.0 2538.9 1228.6 2539.4 1230.4 2540.0 1232.1 2540.6 1232.6 2541.1 1232.0 2541.7 1233.8 2542.3 1234.5 2542.8 1233.8 2543.4 1235.1 2544.0 1235.2 2544.5 1235.3 2545.1 1236.2 2545.7 1234.6 2546.2 1229.7 2546.8 1225.4 2547.3 1224.0 2547.9 1224.7 2548.5 1224.9 2549.0 1226.2 2549.6 1227.2 2550.2 1227.7 2550.7 1227.7 2551.3 1224.6 2551.9 1216.9 2552.4 1211.8 2553.0 1208.8 2553.6 1208.4 2554.1 1207.2 2554.7 1206.3 2555.3 1206.4 2555.8 1206.4 2556.4 1206.3 2557.0 1206.0 2557.5 1204.2 2558.1 1204.4 2558.7 1202.7 2559.2 1201.3 2559.8 1200.3 2560.4 1199.6 2560.9 1196.4 2561.5 1195.7 2562.1 1193.5 2562.6 1192.6 2563.2 1189.3 2563.8 1185.5 2564.3 1183.6 2564.9 1181.1 2565.4 1177.6 2566.0 1176.0 2566.6 1173.3 2567.1 1172.3 2567.7 1170.5 2568.3 1167.5 2568.8 1163.3 2569.4 1162.6 2570.0 1162.9 2570.5 1161.2 2571.1 1159.4 2571.7 1160.9 2572.2 1162.5 2572.8 1162.3 2573.4 1160.5 2573.9 1152.7 2574.5 1141.8 2575.1 1134.5 2575.6 1131.9 2576.2 1130.8 2576.8 1129.3 2577.3 1128.8 2577.9 1129.0 2578.5 1128.5 2579.0 1124.4 2579.6 1121.5 2580.2 1119.0 2580.7 1117.4 2581.3 1114.4 2581.9 1111.9 2582.4 1111.2 2583.0 1108.6 2583.5 1108.1 2584.1 1108.7 2584.7 1107.6 2585.2 1108.3 2585.8 1106.8 2586.4 1104.2 2586.9 1101.2 2587.5 1091.5 2588.1 1082.6 2588.6 1076.9 2589.2 1074.7 2589.8 1073.1 2590.3 1071.4 2590.9 1070.8 2591.5 1069.7 2592.0 1062.7 2592.6 1053.6 2593.2 1044.4 2593.7 1039.4 2594.3 1041.4 2594.9 1041.6 2595.4 1040.8 2596.0 1040.7 2596.6 1040.1 2597.1 1038.7 2597.7 1038.0 2598.3 1037.3 2598.8 1034.0 2599.4 1032.1 2599.9 1031.2 2600.5 1030.2 2601.1 1028.6 2601.6 1028.8 2602.2 1029.0 2602.8 1024.7 2603.3 1018.9 2603.9 1016.6 2604.5 1014.8 2605.0 1012.8 2605.6 1013.0 2606.2 1010.0 2606.7 1007.5 2607.3 1006.4 2607.9 1004.4 2608.4 1004.6 2609.0 1004.5 2609.6 1004.4 2610.1 1003.2 2610.7 1004.2 2611.3 1005.9 2611.8 1008.9 2612.4 1009.9 2613.0 1009.2 2613.5 1003.2 2614.1 1000.1 2614.7 998.8 2615.2 1001.0 2615.8 1003.9 2616.4 1004.3 2616.9 1005.7 2617.5 1005.0 2618.0 1003.6 2618.6 1002.3 2619.2 1000.6 2619.7 1001.6 2620.3 1003.0 2620.9 1003.1 2621.4 1004.5 2622.0 1005.8 2622.6 1004.7 2623.1 1003.6 2623.7 1000.7 2624.3 1001.2 2624.8 1000.5 2625.4 998.8 2626.0 998.5 2626.5 998.8 2627.1 999.4 2627.7 998.3 2628.2 994.0 2628.8 989.7 2629.4 989.8 2629.9 989.7 2630.5 989.9 2631.1 990.2 2631.6 990.7 2632.2 989.2 2632.8 984.7 2633.3 976.9 2633.9 974.4 2634.5 975.4 2635.0 977.4 2635.6 978.6 2636.1 981.1 2636.7 982.2 2637.3 981.9 2637.8 976.5 2638.4 973.8 2639.0 972.2 2639.5 969.5 2640.1 967.9 2640.7 968.1 2641.2 969.4 2641.8 968.8 2642.4 969.4 2642.9 970.5 2643.5 971.7 2644.1 972.9 2644.6 978.6 2645.2 982.4 2645.8 983.0 2646.3 983.6 2646.9 983.7 2647.5 985.3 2648.0 987.4 2648.6 987.1 2649.2 985.8 2649.7 986.2 2650.3 995.8 2650.9 1000.1 2651.4 999.7 2652.0 997.1 2652.6 998.9 2653.1 1000.2 2653.7 1000.6 2654.2 1001.3 2654.8 1003.2 2655.4 1004.5 2655.9 1004.5 2656.5 1002.9 2657.1 1001.2 2657.6 1000.3 2658.2 999.0 2658.8 999.6 2659.3 1000.4 2659.9 1001.4 2660.5 1002.8 2661.0 1004.0 2661.6 1003.8 2662.2 1003.2 2662.7 1004.0 2663.3 1005.6 2663.9 1005.0 2664.4 1007.3 2665.0 1007.9 2665.6 1009.4 2666.1 1008.6 2666.7 1009.5 2667.3 1007.0 2667.8 1006.5 2668.4 1006.8 2669.0 1009.6 2669.5 1012.1 2670.1 1014.9 2670.6 1017.0 2671.2 1019.4 2671.8 1022.0 2672.3 1024.2 2672.9 1028.4 2673.5 1030.2 2674.0 1030.2 2674.6 1029.2 2675.2 1026.3 2675.7 1023.3 2676.3 1021.3 2676.9 1021.4 2677.4 1023.1 2678.0 1026.0 2678.6 1029.9 2679.1 1032.6 2679.7 1031.9 2680.3 1034.3 2680.8 1036.6 2681.4 1038.6 2682.0 1036.8 2682.5 1036.9 2683.1 1036.2 2683.7 1039.4 2684.2 1046.0 2684.8 1051.5 2685.4 1058.3 2685.9 1063.8 2686.5 1067.5 2687.1 1072.9 2687.6 1073.2 2688.2 1073.3 2688.7 1073.7 2689.3 1074.1 2689.9 1074.4 2690.4 1076.5 2691.0 1079.2 2691.6 1081.2 2692.1 1082.3 2692.7 1082.8 2693.3 1083.7 2693.8 1083.8 2694.4 1082.9 2695.0 1083.1 2695.5 1082.9 2696.1 1081.7 2696.7 1078.9 2697.2 1076.6 2697.8 1075.5 2698.4 1074.4 2698.9 1072.7 2699.5 1071.9 2700.1 1073.3 2700.6 1074.5 2701.2 1072.7 2701.8 1073.2 2702.3 1073.7 2702.9 1074.5 2703.5 1077.6 2704.0 1080.6 2704.6 1079.8 2705.2 1079.7 2705.7 1080.2 2706.3 1079.0 2706.8 1078.4 2707.4 1078.0 2708.0 1076.7 2708.5 1074.3 2709.1 1073.2 2709.7 1074.9 2710.2 1077.1 2710.8 1076.4 2711.4 1078.1 2711.9 1079.1 2712.5 1081.5 2713.1 1082.0 2713.6 1080.4 2714.2 1081.0 2714.8 1079.9 2715.3 1079.5 2715.9 1078.5 2716.5 1080.9 2717.0 1083.2 2717.6 1086.2 2718.2 1085.8 2718.7 1084.0 2719.3 1082.8 2719.9 1082.9 2720.4 1081.8 2721.0 1083.6 2721.6 1086.2 2722.1 1088.1 2722.7 1088.2 2723.3 1090.2 2723.8 1093.5 2724.4 1094.7 2724.9 1098.5 2725.5 1101.3 2726.1 1105.0 2726.6 1106.6 2727.2 1110.3 2727.8 1110.6 2728.3 1110.6 2728.9 1109.3 2729.5 1107.9 2730.0 1105.6 2730.6 1104.3 2731.2 1102.6 2731.7 1102.2 2732.3 1106.6 2732.9 1109.4 2733.4 1111.0 2734.0 1113.3 2734.6 1111.5 2735.1 1110.3 2735.7 1108.6 2736.3 1105.8 2736.8 1104.6 2737.4 1105.0 2738.0 1106.7 2738.5 1105.8 2739.1 1105.2 2739.7 1102.3 2740.2 1100.7 2740.8 1099.4 2741.3 1097.9 2741.9 1094.9 2742.5 1090.9 2743.0 1085.6 2743.6 1082.9 2744.2 1081.6 2744.7 1080.1 2745.3 1080.5 2745.9 1080.6 2746.4 1081.5 2747.0 1079.8 2747.6 1078.9 2748.1 1077.4 2748.7 1073.3 2749.3 1068.2 2749.8 1064.3 2750.4 1063.1 2751.0 1061.9 2751.5 1062.8 2752.1 1063.9 2752.7 1064.1 2753.2 1065.1 2753.8 1064.3 2754.4 1065.3 2754.9 1066.6 2755.5 1069.3 2756.1 1069.3 2756.6 1069.0 2757.2 1070.8 2757.8 1069.7 2758.3 1070.1 2758.9 1069.7 2759.4 1069.2 2760.0 1067.1 2760.6 1065.3 2761.1 1064.6 2761.7 1060.8 2762.3 1058.2 2762.8 1056.8 2763.4 1055.8 2764.0 1056.1 2764.5 1056.0 2765.1 1055.8 2765.7 1054.6 2766.2 1052.6 2766.8 1050.8 2767.4 1052.3 2767.9 1054.1 2768.5 1056.0 2769.1 1058.1 2769.6 1057.8 2770.2 1057.9 2770.8 1059.0 2771.3 1061.1 2771.9 1061.4 2772.5 1059.6 2773.0 1058.5 2773.6 1056.7 2774.2 1056.3 2774.7 1056.1 2775.3 1055.9 2775.9 1054.9 2776.4 1055.0 2777.0 1054.3 2777.5 1055.5 2778.1 1054.9 2778.7 1057.3 2779.2 1059.0 2779.8 1059.0 2780.4 1056.0 2780.9 1055.2 2781.5 1053.6 2782.1 1053.1 2782.6 1053.4 2783.2 1052.9 2783.8 1050.3 2784.3 1052.5 2784.9 1054.6 2785.5 1056.2 2786.0 1056.1 2786.6 1056.7 2787.2 1056.9 2787.7 1056.4 2788.3 1054.0 2788.9 1051.5 2789.4 1049.1 2790.0 1046.2 2790.6 1046.0 2791.1 1045.5 2791.7 1044.9 2792.3 1043.6 2792.8 1043.5 2793.4 1043.5 2794.0 1044.2 2794.5 1046.8 2795.1 1047.3 2795.6 1044.3 2796.2 1040.8 2796.8 1038.8 2797.3 1038.8 2797.9 1038.6 2798.5 1038.7 2799.0 1039.3 2799.6 1038.1 2800.2 1037.0 2800.7 1037.2 2801.3 1042.1 2801.9 1044.9 2802.4 1045.3 2803.0 1043.5 2803.6 1043.9 2804.1 1041.9 2804.7 1040.4 2805.3 1039.7 2805.8 1040.4 2806.4 1041.6 2807.0 1043.9 2807.5 1049.0 2808.1 1054.6 2808.7 1059.2 2809.2 1062.8 2809.8 1064.3 2810.4 1067.4 2810.9 1067.6 2811.5 1070.1 2812.0 1072.4 2812.6 1073.3 2813.2 1073.9 2813.7 1074.4 2814.3 1077.1 2814.9 1079.4 2815.4 1083.0 2816.0 1085.9 2816.6 1091.7 2817.1 1097.2 2817.7 1099.6 2818.3 1100.7 2818.8 1102.6 2819.4 1103.2 2820.0 1102.9 2820.5 1104.2 2821.1 1106.6 2821.7 1108.7 2822.2 1113.9 2822.8 1121.5 2823.4 1124.1 2823.9 1127.4 2824.5 1130.6 2825.1 1132.1 2825.6 1132.5 2826.2 1134.1 2826.8 1136.2 2827.3 1141.0 2827.9 1148.3 2828.5 1154.5 2829.0 1159.6 2829.6 1163.3 2830.1 1165.9 2830.7 1167.5 2831.3 1171.0 2831.8 1174.8 2832.4 1178.2 2833.0 1180.8 2833.5 1182.3 2834.1 1185.1 2834.7 1188.0 2835.2 1189.0 2835.8 1190.7 2836.4 1193.8 2836.9 1194.9 2837.5 1195.6 2838.1 1195.8 2838.6 1196.8 2839.2 1198.7 2839.8 1202.2 2840.3 1204.1 2840.9 1207.6 2841.5 1211.8 2842.0 1214.3 2842.6 1216.8 2843.2 1219.0 2843.7 1220.0 2844.3 1221.3 2844.9 1223.6 2845.4 1224.9 2846.0 1225.9 2846.6 1227.5 2847.1 1229.2 2847.7 1230.3 2848.2 1231.1 2848.8 1234.4 2849.4 1235.9 2849.9 1237.4 2850.5 1240.7 2851.1 1241.8 2851.6 1245.4 2852.2 1248.2 2852.8 1250.4 2853.3 1252.1 2853.9 1252.6 2854.5 1254.7 2855.0 1256.2 2855.6 1257.0 2856.2 1258.4 2856.7 1256.9 2857.3 1253.9 2857.9 1251.0 2858.4 1250.6 2859.0 1252.0 2859.6 1254.6 2860.1 1256.9 2860.7 1257.7 2861.3 1253.9 2861.8 1249.9 2862.4 1247.5 2863.0 1246.9 2863.5 1247.0 2864.1 1247.2 2864.7 1246.2 2865.2 1245.3 2865.8 1244.8 2866.3 1244.3 2866.9 1242.7 2867.5 1240.6 2868.0 1239.5 2868.6 1237.0 2869.2 1237.7 2869.7 1237.0 2870.3 1237.6 2870.9 1240.9 2871.4 1244.9 2872.0 1246.5 2872.6 1246.2 2873.1 1248.0 2873.7 1250.2 2874.3 1249.5 2874.8 1249.5 2875.4 1248.5 2876.0 1246.2 2876.5 1245.4 2877.1 1243.4 2877.7 1243.3 2878.2 1243.2 2878.8 1243.3 2879.4 1242.0 2879.9 1239.8 2880.5 1239.6 2881.1 1239.7 2881.6 1241.1 2882.2 1242.3 2882.7 1242.7 2883.3 1244.0 2883.9 1243.4 2884.4 1242.8 2885.0 1243.4 2885.6 1243.0 2886.1 1243.9 2886.7 1243.6 2887.3 1242.3 2887.8 1240.2 2888.4 1237.0 2889.0 1236.7 2889.5 1235.5 2890.1 1235.5 2890.7 1236.4 2891.2 1236.2 2891.8 1236.5 2892.4 1237.3 2892.9 1237.5 2893.5 1237.0 2894.1 1235.9 2894.6 1233.8 2895.2 1231.7 2895.8 1230.4 2896.3 1230.9 2896.9 1232.3 2897.5 1233.9 2898.0 1236.0 2898.6 1236.1 2899.2 1235.5 2899.7 1233.3 2900.3 1232.1 2900.8 1232.2 2901.4 1233.1 2902.0 1236.1 2902.5 1237.2 2903.1 1238.5 2903.7 1239.1 2904.2 1238.6 2904.8 1238.9 2905.4 1238.9 2905.9 1238.4 2906.5 1237.3 2907.1 1235.5 2907.6 1234.0 2908.2 1232.7 2908.8 1233.2 2909.3 1234.6 2909.9 1237.7 2910.5 1238.7 2911.0 1238.6 2911.6 1236.3 2912.2 1234.2 2912.7 1234.1 2913.3 1233.7 2913.9 1232.9 2914.4 1232.7 2915.0 1231.1 2915.6 1230.4 2916.1 1229.7 2916.7 1228.2 2917.3 1227.8 2917.8 1227.0 2918.4 1226.4 2918.9 1225.4 2919.5 1224.8 2920.1 1223.5 2920.6 1222.6 2921.2 1224.0 2921.8 1225.9 2922.3 1226.8 2922.9 1228.6 2923.5 1228.5 2924.0 1227.5 2924.6 1226.5 2925.2 1226.1 2925.7 1226.9 2926.3 1227.5 2926.9 1227.3 2927.4 1228.1 2928.0 1229.0 2928.6 1230.5 2929.1 1234.0 2929.7 1237.4 2930.3 1240.4 2930.8 1242.3 2931.4 1242.4 2932.0 1242.7 2932.5 1242.3 2933.1 1242.8 2933.7 1245.0 2934.2 1247.6 2934.8 1249.5 2935.4 1251.0 2935.9 1252.1 2936.5 1254.3 2937.0 1255.2 2937.6 1254.3 2938.2 1253.7 2938.7 1253.1 2939.3 1251.2 2939.9 1251.5 2940.4 1251.6 2941.0 1254.0 2941.6 1253.9 2942.1 1254.3 2942.7 1252.5 2943.3 1249.0 2943.8 1247.6 2944.4 1246.0 2945.0 1244.8 2945.5 1245.9 2946.1 1248.4 2946.7 1249.7 2947.2 1250.1 2947.8 1250.1 2948.4 1248.9 2948.9 1249.3 2949.5 1250.7 2950.1 1250.3 2950.6 1248.2 2951.2 1243.8 2951.8 1239.9 2952.3 1237.8 2952.9 1239.2 2953.4 1240.1 2954.0 1240.3 2954.6 1240.6 2955.1 1241.0 2955.7 1242.0 2956.3 1242.8 2956.8 1241.8 2957.4 1241.3 2958.0 1241.8 2958.5 1241.6 2959.1 1238.8 2959.7 1237.4 2960.2 1235.5 2960.8 1234.4 2961.4 1234.1 2961.9 1233.8 2962.5 1234.1 2963.1 1235.2 2963.6 1236.5 2964.2 1236.4 2964.8 1237.1 2965.3 1237.1 2965.9 1236.0 2966.5 1233.4 2967.0 1232.6 2967.6 1230.5 2968.2 1230.5 2968.7 1230.4 2969.3 1230.3 2969.9 1231.0 2970.4 1231.6 2971.0 1231.9 2971.5 1229.6 2972.1 1229.3 2972.7 1230.0 2973.2 1229.3 2973.8 1229.6 2974.4 1231.1 2974.9 1232.9 2975.5 1235.0 2976.1 1234.9 2976.6 1233.2 2977.2 1230.3 2977.8 1228.6 2978.3 1228.1 2978.9 1228.6 2979.5 1229.2 2980.0 1229.6 2980.6 1229.9 2981.2 1228.6 2981.7 1226.3 2982.3 1223.2 2982.9 1221.3 2983.4 1219.9 2984.0 1218.8 2984.6 1217.1 2985.1 1217.1 2985.7 1216.8 2986.3 1216.2 2986.8 1215.9 2987.4 1216.4 2988.0 1215.7 2988.5 1215.0 2989.1 1212.9 2989.6 1209.9 2990.2 1207.8 2990.8 1206.9 2991.3 1206.5 2991.9 1207.5 2992.5 1208.0 2993.0 1207.6 2993.6 1208.3 2994.2 1209.2 2994.7 1210.6 2995.3 1211.6 2995.9 1212.4 2996.4 1211.9 2997.0 1211.1 2997.6 1209.8 2998.1 1208.8 2998.7 1210.8 2999.3 1210.9 2999.8 1212.0 3000.4 1213.4 3001.0 1213.7 3001.5 1212.4 3002.1 1210.9 3002.7 1209.6 3003.2 1209.6 3003.8 1209.3 3004.4 1208.8 3004.9 1208.2 3005.5 1209.5 3006.1 1209.4 3006.6 1210.6 3007.2 1212.2 3007.7 1215.4 3008.3 1216.9 3008.9 1218.5 3009.4 1218.8 3010.0 1219.3 3010.6 1219.4 3011.1 1219.6 3011.7 1220.6 3012.3 1219.9 3012.8 1218.1 3013.4 1216.8 3014.0 1214.9 3014.5 1213.1 3015.1 1209.3 3015.7 1207.2 3016.2 1205.5 3016.8 1205.2 3017.4 1205.8 3017.9 1205.7 3018.5 1205.4 3019.1 1205.6 3019.6 1204.9 3020.2 1204.0 3020.8 1201.0 3021.3 1196.1 3021.9 1192.6 3022.5 1188.8 3023.0 1186.7 3023.6 1186.1 3024.1 1185.9 3024.7 1185.6 3025.3 1185.0 3025.8 1183.7 3026.4 1182.2 3027.0 1179.4 3027.5 1176.4 3028.1 1173.2 3028.7 1171.1 3029.2 1169.6 3029.8 1168.5 3030.4 1167.2 3030.9 1166.6 3031.5 1165.7 3032.1 1164.2 3032.6 1162.6 3033.2 1161.4 3033.8 1159.4 3034.3 1158.0 3034.9 1155.4 3035.5 1153.5 3036.0 1153.0 3036.6 1152.1 3037.2 1150.8 3037.7 1149.9 3038.3 1149.9 3038.9 1151.6 3039.4 1153.1 3040.0 1154.5 3040.6 1155.7 3041.1 1154.1 3041.7 1151.8 3042.2 1149.2 3042.8 1146.3 3043.4 1142.6 3043.9 1138.6 3044.5 1136.5 3045.1 1135.7 3045.6 1136.8 3046.2 1137.5 3046.8 1138.1 3047.3 1138.4 3047.9 1138.6 3048.5 1137.7 3049.0 1136.5 3049.6 1135.5 3050.2 1135.8 3050.7 1136.9 3051.3 1136.9 3051.9 1137.8 3052.4 1138.3 3053.0 1138.8 3053.6 1138.4 3054.1 1138.9 3054.7 1139.6 3055.3 1140.2 3055.8 1142.3 3056.4 1143.9 3057.0 1145.4 3057.5 1145.8 3058.1 1145.8 3058.7 1143.1 3059.2 1139.9 3059.8 1137.1 3060.3 1135.9 3060.9 1135.5 3061.5 1134.3 3062.0 1133.8 3062.6 1133.2 3063.2 1132.5 3063.7 1132.6 3064.3 1133.0 3064.9 1131.6 3065.4 1131.1 3066.0 1130.8 3066.6 1130.5 3067.1 1130.3 3067.7 1130.5 3068.3 1132.4 3068.8 1134.3 3069.4 1135.0 3070.0 1135.5 3070.5 1131.0 3071.1 1127.3 3071.7 1128.0 3072.2 1128.8 3072.8 1130.3 3073.4 1131.2 3073.9 1131.8 3074.5 1130.9 3075.1 1129.0 3075.6 1128.1 3076.2 1126.5 3076.8 1126.8 3077.3 1127.3 3077.9 1128.7 3078.4 1129.5 3079.0 1129.2 3079.6 1123.2 3080.1 1118.2 3080.7 1118.2 3081.3 1118.9 3081.8 1118.8 3082.4 1119.9 3083.0 1121.0 3083.5 1122.4 3084.1 1123.5 3084.7 1124.2 3085.2 1125.3 3085.8 1127.1 3086.4 1129.5 3086.9 1131.8 3087.5 1133.3 3088.1 1133.2 3088.6 1132.8 3089.2 1132.4 3089.8 1132.3 3090.3 1132.5 3090.9 1132.7 3091.5 1133.2 3092.0 1133.4 3092.6 1132.5 3093.2 1131.7 3093.7 1131.4 3094.3 1130.3 3094.8 1129.3 3095.4 1128.1 3096.0 1127.2 3096.5 1126.5 3097.1 1125.3 3097.7 1122.4 3098.2 1120.1 3098.8 1117.8 3099.4 1115.7 3099.9 1113.2 3100.5 1111.3 3101.1 1110.6 3101.6 1109.6 3102.2 1108.7 3102.8 1107.9 3103.3 1108.0 3103.9 1108.5 3104.5 1109.2 3105.0 1108.7 3105.6 1108.8 3106.2 1109.0 3106.7 1108.9 3107.3 1108.0 3107.9 1107.4 3108.4 1107.5 3109.0 1108.9 3109.6 1111.4 3110.1 1111.8 3110.7 1112.6 3111.3 1111.9 3111.8 1109.5 3112.4 1106.2 3112.9 1104.8 3113.5 1105.2 3114.1 1106.0 3114.6 1107.2 3115.2 1108.6 3115.8 1109.6 3116.3 1109.2 3116.9 1108.4 3117.5 1105.9 3118.0 1104.9 3118.6 1103.9 3119.2 1103.8 3119.7 1103.2 3120.3 1100.9 3120.9 1097.5 3121.4 1094.9 3122.0 1094.6 3122.6 1094.3 3123.1 1094.9 3123.7 1095.9 3124.3 1096.6 3124.8 1096.3 3125.4 1095.9 3126.0 1094.8 3126.5 1093.2 3127.1 1091.6 3127.7 1091.3 3128.2 1090.5 3128.8 1091.0 3129.4 1092.4 3129.9 1094.0 3130.5 1095.4 3131.0 1096.8 3131.6 1098.4 3132.2 1098.6 3132.7 1098.8 3133.3 1098.2 3133.9 1097.5 3134.4 1097.1 3135.0 1095.6 3135.6 1094.7 3136.1 1094.8 3136.7 1095.2 3137.3 1094.8 3137.8 1094.8 3138.4 1095.0 3139.0 1095.6 3139.5 1095.5 3140.1 1095.1 3140.7 1095.9 3141.2 1096.0 3141.8 1096.3 3142.4 1095.7 3142.9 1095.1 3143.5 1093.4 3144.1 1091.4 3144.6 1090.7 3145.2 1089.9 3145.8 1090.1 3146.3 1092.1 3146.9 1093.1 3147.5 1093.4 3148.0 1094.3 3148.6 1094.0 3149.1 1093.8 3149.7 1092.4 3150.3 1092.0 3150.8 1091.8 3151.4 1092.2 3152.0 1093.7 3152.5 1095.4 3153.1 1096.6 3153.7 1096.3 3154.2 1095.9 3154.8 1095.6 3155.4 1095.3 3155.9 1094.7 3156.5 1094.3 3157.1 1093.6 3157.6 1092.4 3158.2 1092.5 3158.8 1092.6 3159.3 1093.7 3159.9 1095.0 3160.5 1096.3 3161.0 1097.7 3161.6 1099.8 3162.2 1101.4 3162.7 1101.5 3163.3 1100.0 3163.9 1098.6 3164.4 1097.3 3165.0 1094.9 3165.5 1092.5 3166.1 1091.8 3166.7 1090.7 3167.2 1090.0 3167.8 1089.5 3168.4 1088.6 3168.9 1088.0 3169.5 1086.6 3170.1 1086.2 3170.6 1085.5 3171.2 1084.9 3171.8 1082.8 3172.3 1082.0 3172.9 1080.9 3173.5 1079.5 3174.0 1078.3 3174.6 1078.4 3175.2 1078.5 3175.7 1079.3 3176.3 1080.3 3176.9 1081.7 3177.4 1082.1 3178.0 1082.2 3178.6 1083.1 3179.1 1083.6 3179.7 1082.7 3180.3 1083.0 3180.8 1082.1 3181.4 1081.7 3182.0 1081.7 3182.5 1080.8 3183.1 1080.9 3183.6 1081.3 3184.2 1082.4 3184.8 1083.4 3185.3 1083.8 3185.9 1084.5 3186.5 1085.1 3187.0 1085.9 3187.6 1086.3 3188.2 1087.0 3188.7 1088.1 3189.3 1088.3 3189.9 1088.7 3190.4 1088.0 3191.0 1087.3 3191.6 1086.3 3192.1 1085.8 3192.7 1085.0 3193.3 1084.2 3193.8 1084.4 3194.4 1084.3 3195.0 1082.8 3195.5 1079.1 3196.1 1074.9 3196.7 1072.3 3197.2 1070.6 3197.8 1069.1 3198.4 1067.8 3198.9 1066.8 3199.5 1064.8 3200.1 1065.0 3200.6 1066.1 3201.2 1067.0 3201.7 1069.1 3202.3 1069.7 3202.9 1070.3 3203.4 1071.8 3204.0 1074.1 3204.6 1075.0 3205.1 1076.1 3205.7 1076.5 3206.3 1077.2 3206.8 1079.8 3207.4 1083.8 3208.0 1087.2 3208.5 1090.4 3209.1 1093.2 3209.7 1096.1 3210.2 1098.6 3210.8 1099.3 3211.4 1101.1 3211.9 1102.0 3212.5 1102.8 3213.1 1102.0 3213.6 1103.3 3214.2 1104.2 3214.8 1104.8 3215.3 1104.7 3215.9 1104.9 3216.5 1105.1 3217.0 1106.5 3217.6 1108.0 3218.2 1111.8 3218.7 1116.8 3219.3 1120.0 3219.8 1121.4 3220.4 1121.3 3221.0 1121.4 3221.5 1120.7 3222.1 1119.6 3222.7 1117.8 3223.2 1116.9 3223.8 1115.7 3224.4 1120.3 3224.9 1128.8 3225.5 1133.9 3226.1 1134.9 3226.6 1135.6 3227.2 1135.8 3227.8 1137.0 3228.3 1139.0 3228.9 1142.4 3229.5 1146.2 3230.0 1149.6 3230.6 1150.6 3231.2 1151.7 3231.7 1153.0 3232.3 1154.1 3232.9 1154.7 3233.4 1156.2 3234.0 1157.4 3234.6 1158.5 3235.1 1158.7 3235.7 1157.5 3236.2 1157.0 3236.8 1155.9 3237.4 1155.2 3237.9 1153.9 3238.5 1152.8 3239.1 1153.3 3239.6 1156.7 3240.2 1160.6 3240.8 1161.5 3241.3 1161.4 3241.9 1162.0 3242.5 1162.6 3243.0 1163.1 3243.6 1163.0 3244.2 1162.7 3244.7 1161.4 3245.3 1161.2 3245.9 1160.9 3246.4 1161.0 3247.0 1161.8 3247.6 1162.9 3248.1 1163.8 3248.7 1164.9 3249.3 1166.6 3249.8 1169.7 3250.4 1173.2 3251.0 1177.7 3251.5 1181.4 3252.1 1182.7 3252.7 1181.4 3253.2 1181.5 3253.8 1181.6 3254.3 1181.6 3254.9 1180.5 3255.5 1179.8 3256.0 1178.6 3256.6 1178.2 3257.2 1177.3 3257.7 1177.0 3258.3 1177.5 3258.9 1177.1 3259.4 1176.7 3260.0 1176.2 3260.6 1175.1 3261.1 1173.3 3261.7 1170.6 3262.3 1169.6 3262.8 1168.7 3263.4 1168.2 3264.0 1167.9 3264.5 1167.9 3265.1 1168.8 3265.7 1169.8 3266.2 1171.4 3266.8 1172.5 3267.4 1174.2 3267.9 1175.9 3268.5 1177.0 3269.1 1177.6 3269.6 1177.7 3270.2 1178.3 3270.8 1179.3 3271.3 1180.3 3271.9 1181.2 3272.4 1183.0 3273.0 1184.2 3273.6 1184.9 3274.1 1184.7 3274.7 1184.0 3275.3 1183.4 3275.8 1182.9 3276.4 1181.3 3277.0 1179.8 3277.5 1175.7 3278.1 1172.7 3278.7 1169.8 3279.2 1166.7 3279.8 1163.4 3280.4 1159.8 3280.9 1157.4 3281.5 1155.2 3282.1 1153.9 3282.6 1151.9 3283.2 1150.9 3283.8 1150.6 3284.3 1149.6 3284.9 1149.7 3285.5 1149.2 3286.0 1149.2 3286.6 1148.9 3287.2 1148.7 3287.7 1148.4 3288.3 1147.6 3288.9 1147.8 3289.4 1147.2 3290.0 1145.6 3290.5 1143.6 3291.1 1141.0 3291.7 1138.5 3292.2 1136.9 3292.8 1136.5 3293.4 1136.3 3293.9 1135.9 3294.5 1135.5 3295.1 1135.3 3295.6 1135.1 3296.2 1134.8 3296.8 1134.1 3297.3 1132.9 3297.9 1132.3 3298.5 1131.1 3299.0 1130.1 3299.6 1129.7 3300.2 1129.5 3300.7 1129.7 3301.3 1129.7 3301.9 1130.2 3302.4 1130.9 3303.0 1130.9 3303.6 1129.9 3304.1 1130.1 3304.7 1130.2 3305.3 1130.7 3305.8 1131.2 3306.4 1131.3 3306.9 1132.0 3307.5 1134.5 3308.1 1135.9 3308.6 1136.6 3309.2 1135.8 3309.8 1135.4 3310.3 1134.6 3310.9 1134.8 3311.5 1133.7 3312.0 1131.3 3312.6 1127.7 3313.2 1125.3 3313.7 1124.4 3314.3 1124.3 3314.9 1123.7 3315.4 1124.3 3316.0 1124.1 3316.6 1124.2 3317.1 1123.3 3317.7 1121.3 3318.3 1120.0 3318.8 1119.3 3319.4 1119.4 3320.0 1119.2 3320.5 1118.9 3321.1 1117.9 3321.7 1118.0 3322.2 1116.8 3322.8 1115.1 3323.4 1114.4 3323.9 1113.6 3324.5 1113.9 3325.0 1113.6 3325.6 1113.3 3326.2 1112.3 3326.7 1112.4 3327.3 1113.7 3327.9 1115.2 3328.4 1116.9 3329.0 1118.2 3329.6 1119.4 3330.1 1120.0 3330.7 1120.6 3331.3 1121.6 3331.8 1121.6 3332.4 1122.2 3333.0 1123.7 3333.5 1124.1 3334.1 1124.3 3334.7 1124.6 3335.2 1124.3 3335.8 1122.2 3336.4 1120.4 3336.9 1119.0 3337.5 1117.6 3338.1 1116.4 3338.6 1115.1 3339.2 1115.2 3339.8 1114.3 3340.3 1113.0 3340.9 1112.2 3341.5 1110.6 3342.0 1109.6 3342.6 1109.5 3343.1 1109.4 3343.7 1109.8 3344.3 1110.1 3344.8 1110.6 3345.4 1110.8 3346.0 1110.9 3346.5 1111.2 3347.1 1110.4 3347.7 1109.7 3348.2 1109.2 3348.8 1107.6 3349.4 1107.2 3349.9 1106.4 3350.5 1105.5 3351.1 1105.1 3351.6 1106.5 3352.2 1107.3 3352.8 1108.7 3353.3 1110.3 3353.9 1111.4 3354.5 1113.6 3355.0 1113.5 3355.6 1112.9 3356.2 1113.0 3356.7 1113.6 3357.3 1114.9 3357.9 1115.4 3358.4 1115.6 3359.0 1115.8 3359.6 1116.7 3360.1 1117.1 3360.7 1117.1 3361.2 1117.3 3361.8 1117.6 3362.4 1118.5 3362.9 1119.5 3363.5 1120.0 3364.1 1120.9 3364.6 1120.6 3365.2 1121.5 3365.8 1120.9 3366.3 1121.1 3366.9 1121.1 3367.5 1122.0 3368.0 1121.6 3368.6 1120.8 3369.2 1120.8 3369.7 1120.2 3370.3 1120.2 3370.9 1120.0 3371.4 1119.3 3372.0 1118.7 3372.6 1116.4 3373.1 1112.9 3373.7 1108.9 3374.3 1105.4 3374.8 1103.0 3375.4 1100.9 3376.0 1099.1 3376.5 1097.0 3377.1 1096.0 3377.6 1095.8 3378.2 1095.3 3378.8 1095.2 3379.3 1094.9 3379.9 1094.3 3380.5 1094.0 3381.0 1094.2 3381.6 1094.3 3382.2 1094.8 3382.7 1095.7 3383.3 1096.4 3383.9 1096.6 3384.4 1096.9 3385.0 1097.0 3385.6 1096.4 3386.1 1097.0 3386.7 1097.4 3387.3 1099.1 3387.8 1100.5 3388.4 1101.7 3389.0 1103.1 3389.5 1104.8 3390.1 1107.3 3390.7 1108.9 3391.2 1109.4 3391.8 1110.1 3392.4 1109.8 3392.9 1109.2 3393.5 1109.2 3394.1 1109.1 3394.6 1108.7 3395.2 1109.2 3395.7 1109.2 3396.3 1109.8 3396.9 1109.6 3397.4 1110.5 3398.0 1110.0 3398.6 1110.2 3399.1 1111.6 3399.7 1113.9 3400.3 1117.0 3400.8 1118.5 3401.4 1120.0 3402.0 1121.0 3402.5 1122.2 3403.1 1122.7 3403.7 1123.8 3404.2 1124.8 3404.8 1126.1 3405.4 1128.0 3405.9 1130.5 3406.5 1134.4 3407.1 1137.0 3407.6 1137.9 3408.2 1139.1 3408.8 1139.9 3409.3 1139.9 3409.9 1139.9 3410.5 1141.5 3411.0 1142.5 3411.6 1144.1 3412.2 1145.8 3412.7 1147.2 3413.3 1148.6 3413.8 1149.2 3414.4 1149.0 3415.0 1149.3 3415.5 1148.7 3416.1 1148.8 3416.7 1148.2 3417.2 1148.1 3417.8 1148.4 3418.4 1149.2 3418.9 1148.6 3419.5 1148.6 3420.1 1148.2 3420.6 1148.5 3421.2 1149.6 3421.8 1150.5 3422.3 1151.0 3422.9 1152.2 3423.5 1155.6 3424.0 1158.6 3424.6 1160.9 3425.2 1161.4 3425.7 1161.3 3426.3 1162.9 3426.9 1163.2 3427.4 1163.4 3428.0 1163.5 3428.6 1165.5 3429.1 1167.6 3429.7 1169.9 3430.3 1172.0 3430.8 1173.6 3431.4 1175.8 3431.9 1179.2 3432.5 1182.8 3433.1 1187.4 3433.6 1192.9 3434.2 1197.6 3434.8 1201.6 3435.3 1207.0 3435.9 1212.5 3436.5 1215.6 3437.0 1217.6 3437.6 1219.5 3438.2 1220.3 3438.7 1220.7 3439.3 1221.3 3439.9 1221.5 3440.4 1222.4 3441.0 1222.3 3441.6 1222.2 3442.1 1223.4 3442.7 1224.0 3443.3 1224.2 3443.8 1224.6 3444.4 1225.9 3445.0 1227.8 3445.5 1230.3 3446.1 1232.6 3446.7 1233.9 3447.2 1235.5 3447.8 1236.1 3448.3 1236.9 3448.9 1237.2 3449.5 1237.8 3450.0 1237.9 3450.6 1238.5 3451.2 1239.1 3451.7 1240.5 3452.3 1240.7 3452.9 1240.4 3453.4 1239.1 3454.0 1238.0 3454.6 1236.8 3455.1 1236.5 3455.7 1237.0 3456.3 1237.9 3456.8 1238.3 3457.4 1238.8 3458.0 1239.4 3458.5 1240.1 3459.1 1240.7 3459.7 1240.9 3460.2 1242.4 3460.8 1243.3 3461.4 1245.3 3461.9 1247.7 3462.5 1250.0 3463.1 1251.8 3463.6 1252.6 3464.2 1252.5 3464.8 1252.2 3465.3 1251.4 3465.9 1251.6 3466.4 1250.5 3467.0 1249.5 3467.6 1247.8 3468.1 1245.6 3468.7 1243.6 3469.3 1241.7 3469.8 1238.7 3470.4 1235.9 3471.0 1233.2 3471.5 1231.2 3472.1 1229.3 3472.7 1227.8 3473.2 1227.0 3473.8 1225.3 3474.4 1223.7 3474.9 1221.2 3475.5 1217.5 3476.1 1213.7 3476.6 1209.5 3477.2 1206.6 3477.8 1203.6 3478.3 1199.9 3478.9 1196.1 3479.5 1192.8 3480.0 1190.7 3480.6 1189.0 3481.2 1186.6 3481.7 1185.2 3482.3 1184.3 3482.9 1182.3 3483.4 1180.3 3484.0 1178.3 3484.5 1176.4 3485.1 1174.6 3485.7 1172.8 3486.2 1170.9 3486.8 1168.1 3487.4 1166.9 3487.9 1164.7 3488.5 1162.4 3489.1 1160.0 3489.6 1156.9 3490.2 1152.7 3490.8 1149.5 3491.3 1147.0 3491.9 1145.5 3492.5 1143.1 3493.0 1140.4 3493.6 1138.9 3494.2 1138.5 3494.7 1136.9 3495.3 1133.3 3495.9 1129.9 3496.4 1128.0 3497.0 1127.0 3497.6 1125.4 3498.1 1124.6 3498.7 1126.1 3499.3 1126.4 3499.8 1126.4 3500.4 1126.2 3501.0 1127.0 3501.5 1127.2 3502.1 1127.8 3502.6 1127.8 3503.2 1127.0 3503.8 1125.9 3504.3 1124.5 3504.9 1121.4 3505.5 1118.5 3506.0 1117.4 3506.6 1115.8 3507.2 1115.5 3507.7 1116.1 3508.3 1118.2 3508.9 1119.4 3509.4 1121.5 3510.0 1126.4 3510.6 1130.6 3511.1 1134.0 3511.7 1138.0 3512.3 1140.0 3512.8 1141.1 3513.4 1141.8 3514.0 1142.8 3514.5 1144.0 3515.1 1146.0 3515.7 1149.1 3516.2 1152.8 3516.8 1155.9 3517.4 1159.9 3517.9 1162.4 3518.5 1163.7 3519.0 1164.1 3519.6 1165.4 3520.2 1166.0 3520.7 1167.1 3521.3 1168.2 3521.9 1169.9 3522.4 1171.3 3523.0 1172.5 3523.6 1174.6 3524.1 1175.5 3524.7 1176.0 3525.3 1176.9 3525.8 1178.8 3526.4 1181.7 3527.0 1184.1 3527.5 1185.0 3528.1 1186.1 3528.7 1188.0 3529.2 1190.0 3529.8 1191.7 3530.4 1192.8 3530.9 1195.5 3531.5 1198.5 3532.1 1200.6 3532.6 1202.3 3533.2 1203.9 3533.8 1206.5 3534.3 1208.1 3534.9 1209.6 3535.5 1211.0 3536.0 1211.7 3536.6 1213.3 3537.1 1213.9 3537.7 1214.8 3538.3 1215.3 3538.8 1216.7 3539.4 1217.5 3540.0 1218.1 3540.5 1218.6 3541.1 1219.4 3541.7 1219.1 3542.2 1218.8 3542.8 1217.8 3543.4 1217.0 3543.9 1216.1 3544.5 1215.2 3545.1 1214.1 3545.6 1213.4 3546.2 1212.1 3546.8 1211.3 3547.3 1210.1 3547.9 1209.1 3548.5 1208.1 3549.0 1205.6 3549.6 1203.7 3550.2 1202.6 3550.7 1201.4 3551.3 1200.5 3551.9 1199.7 3552.4 1198.6" stroke="#0000ff" stroke-width="6.25" fill="none" stroke-linejoin="round" stroke-linecap="square"/>
<path d="M328.50 1438.40v14.58M894.10 1438.40v14.58M1459.70 1438.40v14.58M2025.30 1438.40v14.58M2590.90 1438.40v14.58M3156.50 1438.40v14.58M328.50 930.40h-14.58M328.50 1038.85h-14.58M328.50 1147.30h-14.58M328.50 1255.75h-14.58M328.50 1364.20h-14.58" stroke="#000" stroke-width="3.333" fill="none"/>
<rect x="328.50" y="856.70" width="3224.00" height="581.70" fill="none" stroke="#000" stroke-width="3.333" stroke-linejoin="miter"/>
<text class="t" x="327.30" y="1498.40" text-anchor="middle">0</text>
<text class="t" x="892.90" y="1498.40" text-anchor="middle">10</text>
<text class="t" x="1458.50" y="1498.40" text-anchor="middle">20</text>
<text class="t" x="2024.10" y="1498.40" text-anchor="middle">30</text>
<text class="t" x="2589.70" y="1498.40" text-anchor="middle">40</text>
<text class="t" x="3155.30" y="1498.40" text-anchor="middle">50</text>
<text class="t" x="299.33" y="945.00" text-anchor="end">0.0050</text>
<text class="t" x="299.33" y="1053.45" text-anchor="end">0.0025</text>
<text class="t" x="299.33" y="1161.90" text-anchor="end">0.0000</text>
<text class="t" x="299.33" y="1270.35" text-anchor="end">−0.0025</text>
<text class="t" x="299.33" y="1378.80" text-anchor="end">−0.0050</text>
<text class="l" x="1939.50" y="1569.10" text-anchor="middle">Time (s)</text>
<text class="l" transform="translate(88.90 1150.25) rotate(-90)" text-anchor="middle">Velocity (cm/s)</text>
<path d="M328.50 1631.50V2212.40M894.10 1631.50V2212.40M1459.70 1631.50V2212.40M2025.30 1631.50V2212.40M2590.90 1631.50V2212.40M3156.50 1631.50V2212.40M328.50 1706.00H3552.50M328.50 1813.80H3552.50M328.50 1921.60H3552.50M328.50 2029.40H3552.50M328.50 2137.20H3552.50" stroke="#b0b0b0" stroke-width="3.333" fill="none"/>
<path clip-path="url(#c2)" d="M328.5 1929.2 330.0 1930.6 331.5 1933.0 333.0 1935.7 334.5 1938.0 336.0 1939.6 337.5 1940.3 339.0 1940.2 340.5 1939.6 342.0 1938.7 343.5 1937.5 345.0 1936.0 346.5 1934.3 348.0 1932.4 349.5 1930.2 351.0 1928.0 352.5 1925.8 354.0 1923.6 355.5 1921.3 357.0 1919.0 358.5 1916.7 360.0 1914.3 361.5 1911.9 363.0 1909.5 364.5 1907.0 366.0 1904.6 367.5 1902.2 369.0 1899.8 370.5 1897.6 372.0 1895.6 373.5 1893.9 375.0 1892.6 376.5 1891.6 378.0 1891.0 379.5 1890.6 381.0 1890.4 382.5 1890.5 384.0 1890.7 385.5 1891.0 387.0 1891.3 388.5 1891.7 390.0 1892.2 391.5 1892.8 393.0 1893.5 394.5 1894.2 396.0 1895.1 397.5 1896.1 399.0 1897.1 400.5 1898.2 402.0 1899.2 403.5 1900.3 405.0 1901.3 406.5 1902.4 408.0 1903.4 409.5 1904.5 411.0 1905.5 412.5 1906.6 414.0 1907.6 415.5 1908.7 417.0 1909.7 418.5 1910.8 420.0 1911.9 421.5 1913.0 423.0 1914.4 424.5 1916.1 426.0 1918.1 427.5 1920.4 429.0 1922.6 430.5 1924.8 432.0 1926.8 433.5 1928.6 435.0 1930.2 436.5 1931.8 438.0 1933.3 439.5 1934.8 441.0 1936.2 442.5 1937.5 444.0 1938.8 445.5 1940.1 447.0 1941.3 448.5 1942.5 450.0 1943.5 451.5 1944.5 453.0 1945.4 454.5 1946.3 456.0 1946.9 457.5 1947.5 459.0 1947.9 460.5 1948.0 462.0 1948.0 463.5 1947.8 465.0 1947.6 466.5 1947.3 468.0 1947.1 469.5 1946.9 471.0 1946.9 472.5 1947.0 474.0 1947.2 475.5 1947.5 477.0 1947.9 478.5 1948.3 480.0 1948.8 481.5 1949.5 483.0 1950.2 484.5 1951.0 486.0 1951.9 487.5 1952.8 489.0 1953.7 490.5 1954.7 492.0 1955.7 493.5 1956.7 495.0 1957.7 496.5 1958.8 498.0 1959.9 499.5 1961.1 501.0 1962.3 502.5 1963.5 504.0 1964.7 505.5 1965.8 507.0 1966.9 508.5 1967.8 510.0 1968.6 511.5 1969.1 513.0 1969.1 514.5 1968.7 516.0 1967.8 517.5 1966.6 519.0 1965.2 520.5 1963.5 522.0 1961.8 523.5 1959.9 525.0 1958.0 526.5 1956.0 528.0 1953.9 529.5 1951.8 531.0 1949.6 532.5 1947.3 534.0 1944.9 535.5 1942.3 537.0 1939.6 538.5 1936.7 540.0 1933.6 541.5 1930.3 543.0 1927.0 544.5 1923.7 546.0 1920.4 547.5 1917.4 549.0 1914.5 550.5 1911.9 552.0 1909.4 553.5 1907.2 555.0 1905.0 556.5 1903.1 558.0 1901.2 559.5 1899.5 561.0 1898.0 562.5 1896.6 564.0 1895.3 565.5 1894.1 567.0 1893.0 568.5 1891.9 570.0 1890.9 571.5 1889.9 573.0 1889.0 574.5 1888.1 576.0 1887.3 577.5 1886.6 579.0 1886.1 580.5 1885.6 582.0 1885.3 583.5 1885.0 585.0 1884.7 586.5 1884.3 588.0 1883.7 589.5 1883.0 591.0 1882.1 592.5 1881.1 594.0 1879.9 595.5 1878.7 597.0 1877.4 598.5 1876.0 600.0 1874.7 601.5 1873.4 603.0 1872.1 604.5 1870.9 606.0 1869.7 607.5 1868.6 609.0 1867.4 610.5 1866.3 612.0 1865.3 613.5 1864.2 615.0 1863.2 616.5 1862.3 618.0 1861.4 619.5 1860.5 621.0 1859.8 622.5 1859.2 624.0 1858.6 625.5 1858.3 627.0 1858.0 628.5 1857.8 630.0 1857.8 631.5 1857.7 633.0 1857.8 634.5 1857.8 636.0 1857.9 637.5 1858.0 639.0 1858.2 640.5 1858.4 642.0 1858.7 643.5 1859.1 645.0 1859.7 646.5 1860.3 648.0 1861.0 649.5 1861.8 651.0 1862.7 652.5 1863.7 654.0 1864.8 655.5 1866.0 657.0 1867.4 658.5 1868.8 660.0 1870.4 661.5 1872.1 663.0 1873.9 664.5 1875.8 666.0 1877.7 667.5 1879.7 669.0 1881.6 670.5 1883.7 672.0 1885.7 673.5 1887.8 675.0 1889.9 676.5 1892.0 678.0 1894.1 679.5 1896.2 681.0 1898.3 682.5 1900.5 684.0 1902.7 685.5 1904.9 687.0 1907.2 688.5 1909.5 690.0 1911.9 691.5 1914.3 693.0 1916.9 694.5 1919.6 696.0 1922.4 697.5 1925.5 699.0 1928.7 700.5 1932.0 702.0 1935.4 703.5 1938.9 705.0 1942.4 706.5 1946.0 708.0 1949.7 709.5 1953.5 711.0 1957.5 712.5 1961.6 714.0 1965.8 715.5 1970.0 717.0 1974.1 718.5 1978.2 720.0 1982.0 721.5 1985.7 723.0 1989.1 724.5 1992.3 726.0 1995.1 727.5 1997.5 729.0 1999.4 730.5 2000.8 732.0 2001.9 733.5 2002.7 735.0 2003.5 736.5 2004.1 738.0 2004.7 739.5 2005.3 741.0 2005.9 742.5 2006.4 744.0 2007.0 745.5 2007.5 747.0 2008.0 748.5 2008.5 750.0 2009.0 751.5 2009.5 753.0 2010.0 754.5 2010.4 756.0 2010.7 757.5 2011.0 759.0 2011.2 760.5 2011.2 762.0 2011.1 763.5 2011.0 765.0 2010.6 766.5 2010.1 768.0 2009.4 769.5 2008.5 771.0 2007.3 772.5 2005.9 774.0 2004.4 775.5 2002.6 777.0 2000.7 778.5 1998.7 780.0 1996.6 781.5 1994.5 783.0 1992.4 784.5 1990.2 786.0 1988.1 787.5 1986.0 789.0 1983.9 790.5 1981.9 792.0 1979.8 793.5 1977.6 795.0 1975.6 796.5 1973.5 798.0 1971.6 799.5 1969.8 801.0 1968.1 802.5 1966.6 804.0 1965.3 805.5 1964.1 807.0 1963.0 808.5 1962.0 810.0 1961.0 811.5 1960.0 813.0 1959.1 814.5 1958.1 816.0 1957.1 817.5 1956.1 819.0 1955.0 820.5 1953.9 822.0 1952.8 823.5 1951.6 825.0 1950.5 826.5 1949.3 828.0 1948.2 829.5 1946.9 831.0 1945.6 832.5 1944.2 834.0 1942.5 835.5 1940.6 837.0 1938.6 838.5 1936.3 840.0 1933.8 841.5 1931.2 843.0 1928.4 844.5 1925.4 846.0 1922.3 847.5 1919.0 849.0 1915.5 850.5 1911.8 852.0 1908.0 853.5 1904.0 855.0 1899.9 856.5 1895.6 858.0 1891.2 859.5 1886.7 861.0 1882.1 862.5 1877.5 864.0 1873.0 865.5 1868.7 867.0 1864.5 868.5 1860.4 870.0 1856.6 871.5 1852.8 873.0 1849.2 874.5 1845.8 876.0 1842.4 877.5 1839.3 879.0 1836.3 880.5 1833.5 882.0 1831.0 883.5 1828.7 885.0 1826.8 886.5 1825.1 888.0 1823.6 889.5 1822.3 891.0 1821.2 892.5 1820.2 894.0 1819.4 895.5 1818.7 897.0 1818.1 898.5 1817.7 900.0 1817.6 901.5 1817.5 903.0 1817.7 904.5 1818.0 906.0 1818.5 907.5 1819.1 909.0 1819.9 910.5 1820.9 912.0 1822.1 913.5 1823.4 915.0 1824.6 916.5 1825.9 918.0 1827.2 919.5 1828.5 921.0 1829.7 922.5 1831.0 924.0 1832.3 925.5 1833.6 927.0 1834.8 928.5 1836.1 930.0 1837.4 931.5 1838.7 933.0 1839.9 934.5 1841.2 936.0 1842.5 937.5 1843.8 939.0 1845.0 940.5 1846.3 942.0 1847.5 943.5 1848.7 945.0 1849.8 946.5 1850.9 948.0 1852.0 949.5 1853.1 951.0 1854.2 952.5 1855.4 954.0 1856.7 955.5 1858.1 957.0 1859.5 958.5 1861.0 960.0 1862.5 961.5 1864.1 963.0 1865.6 964.5 1867.1 966.0 1868.6 967.5 1870.1 969.0 1871.6 970.5 1873.0 972.0 1874.4 973.5 1875.8 975.0 1877.2 976.5 1878.6 978.0 1880.0 979.5 1881.5 981.0 1883.1 982.5 1885.0 984.0 1887.2 985.5 1889.8 987.0 1892.8 988.5 1896.2 990.0 1899.9 991.5 1903.9 993.0 1908.1 994.5 1912.5 996.0 1916.9 997.5 1921.4 999.0 1925.9 1000.5 1930.4 1002.0 1934.9 1003.5 1939.4 1005.0 1943.9 1006.5 1948.4 1008.0 1952.9 1009.5 1957.3 1011.0 1961.6 1012.5 1965.6 1014.0 1969.2 1015.5 1972.5 1017.0 1975.5 1018.5 1978.3 1020.0 1981.0 1021.5 1983.6 1023.0 1986.2 1024.5 1988.8 1026.0 1991.5 1027.5 1994.1 1029.0 1996.7 1030.5 1999.3 1032.0 2002.0 1033.5 2004.6 1035.0 2007.2 1036.5 2009.8 1038.0 2012.4 1039.5 2014.9 1041.0 2017.2 1042.5 2019.3 1044.0 2021.2 1045.5 2022.8 1047.0 2024.3 1048.5 2025.5 1050.0 2026.5 1051.5 2027.3 1053.0 2028.1 1054.5 2028.7 1056.0 2029.3 1057.5 2029.8 1059.0 2030.2 1060.5 2030.6 1062.0 2031.0 1063.5 2031.4 1065.0 2031.7 1066.5 2031.9 1068.0 2032.0 1069.5 2032.1 1071.0 2032.0 1072.5 2031.8 1074.0 2031.5 1075.5 2031.1 1077.0 2030.7 1078.5 2030.2 1080.0 2029.7 1081.5 2029.1 1083.0 2028.4 1084.5 2027.7 1086.0 2026.9 1087.5 2026.0 1089.0 2025.0 1090.5 2024.0 1092.0 2022.7 1093.5 2021.3 1095.0 2019.7 1096.5 2017.9 1098.0 2015.9 1099.5 2013.7 1101.0 2011.3 1102.5 2008.6 1104.0 2005.6 1105.5 2002.3 1107.0 1998.7 1108.5 1994.9 1110.0 1991.0 1111.5 1987.0 1113.0 1982.9 1114.5 1978.8 1116.0 1974.6 1117.5 1970.4 1119.0 1966.2 1120.5 1961.9 1122.0 1957.6 1123.5 1953.2 1125.0 1948.7 1126.5 1944.2 1128.0 1939.7 1129.5 1935.2 1131.0 1930.8 1132.5 1926.5 1134.0 1922.2 1135.5 1918.0 1137.0 1913.8 1138.5 1909.8 1140.0 1905.9 1141.5 1902.1 1143.0 1898.4 1144.5 1894.8 1146.0 1891.3 1147.5 1887.9 1149.0 1884.5 1150.5 1881.3 1152.0 1878.3 1153.5 1875.3 1155.0 1872.5 1156.5 1869.7 1158.0 1867.0 1159.5 1864.2 1161.0 1861.5 1162.5 1858.9 1164.0 1856.2 1165.5 1853.6 1167.0 1851.1 1168.5 1848.8 1170.0 1846.6 1171.5 1844.6 1173.0 1842.6 1174.5 1840.6 1176.0 1838.6 1177.5 1836.5 1179.0 1834.4 1180.5 1832.2 1182.0 1830.1 1183.5 1827.9 1185.0 1825.9 1186.5 1823.9 1188.0 1821.9 1189.5 1820.0 1191.0 1818.2 1192.5 1816.5 1194.0 1814.9 1195.5 1813.5 1197.0 1812.2 1198.5 1811.1 1200.0 1810.0 1201.5 1809.1 1203.0 1808.3 1204.5 1807.6 1206.0 1806.9 1207.5 1806.4 1209.0 1806.0 1210.5 1805.8 1212.0 1805.9 1213.5 1806.3 1215.0 1807.0 1216.5 1808.2 1218.0 1809.8 1219.5 1811.8 1221.0 1814.1 1222.5 1816.6 1224.0 1819.5 1225.5 1822.5 1227.0 1825.8 1228.5 1829.3 1230.0 1833.1 1231.5 1837.1 1233.0 1841.3 1234.5 1845.9 1236.0 1850.8 1237.5 1856.1 1239.0 1861.6 1240.5 1867.3 1242.0 1873.0 1243.5 1878.9 1245.0 1884.8 1246.5 1890.7 1248.0 1896.7 1249.5 1902.8 1251.0 1908.7 1252.5 1914.7 1254.0 1920.5 1255.5 1926.2 1257.0 1931.7 1258.5 1937.0 1260.0 1942.1 1261.5 1946.8 1263.0 1951.3 1264.5 1955.6 1266.0 1959.6 1267.5 1963.6 1269.0 1967.4 1270.5 1971.2 1272.0 1974.8 1273.5 1978.3 1275.0 1981.6 1276.5 1984.7 1278.0 1987.6 1279.5 1990.4 1281.0 1992.9 1282.5 1995.2 1284.0 1997.4 1285.5 1999.5 1287.0 2001.4 1288.5 2003.2 1290.0 2004.8 1291.5 2006.2 1293.0 2007.5 1294.5 2008.7 1296.0 2009.8 1297.5 2010.8 1299.0 2011.7 1300.5 2012.5 1302.0 2013.2 1303.5 2013.8 1305.0 2014.4 1306.5 2014.9 1308.0 2015.2 1309.5 2015.5 1311.0 2015.7 1312.5 2015.7 1314.0 2015.7 1315.5 2015.5 1317.0 2015.2 1318.5 2014.6 1320.0 2013.9 1321.5 2013.0 1323.0 2012.0 1324.5 2010.8 1326.0 2009.6 1327.5 2008.4 1329.0 2007.1 1330.5 2005.8 1332.0 2004.5 1333.5 2003.2 1335.0 2001.8 1336.5 2000.3 1338.0 1998.6 1339.5 1996.8 1341.0 1994.7 1342.5 1992.2 1344.0 1989.4 1345.5 1986.3 1347.0 1983.0 1348.5 1979.6 1350.0 1976.2 1351.5 1972.7 1353.0 1969.1 1354.5 1965.6 1356.0 1962.0 1357.5 1958.4 1359.0 1954.7 1360.5 1950.8 1362.0 1946.7 1363.5 1942.3 1365.0 1937.9 1366.5 1933.4 1368.0 1928.9 1369.5 1924.4 1371.0 1919.9 1372.5 1915.4 1374.0 1910.9 1375.5 1906.4 1377.0 1901.9 1378.5 1897.4 1380.0 1893.1 1381.5 1888.8 1383.0 1884.6 1384.5 1880.6 1386.0 1876.7 1387.5 1873.1 1389.0 1869.7 1390.5 1866.6 1392.0 1863.7 1393.5 1861.0 1395.0 1858.4 1396.5 1856.0 1398.0 1853.7 1399.5 1851.6 1401.0 1849.6 1402.5 1847.7 1404.0 1846.0 1405.5 1844.4 1407.0 1842.9 1408.5 1841.5 1410.0 1840.3 1411.5 1839.1 1413.0 1838.2 1414.5 1837.4 1416.0 1836.7 1417.5 1836.2 1419.0 1835.8 1420.5 1835.5 1422.0 1835.2 1423.5 1835.0 1425.0 1834.9 1426.5 1834.8 1428.0 1834.7 1429.5 1834.7 1431.0 1834.8 1432.5 1834.9 1434.0 1835.0 1435.5 1835.2 1437.0 1835.4 1438.5 1835.7 1440.0 1836.1 1441.5 1836.5 1443.0 1837.0 1444.5 1837.8 1446.0 1838.7 1447.5 1839.9 1449.0 1841.3 1450.5 1842.9 1452.0 1844.7 1453.5 1846.6 1455.0 1848.6 1456.5 1850.8 1458.0 1853.0 1459.5 1855.2 1461.0 1857.4 1462.5 1859.4 1464.0 1861.5 1465.5 1863.5 1467.0 1865.4 1468.5 1867.4 1470.0 1869.4 1471.5 1871.3 1473.0 1873.3 1474.5 1875.2 1476.0 1877.2 1477.5 1879.1 1479.0 1880.9 1480.5 1882.7 1482.0 1884.5 1483.5 1886.2 1485.0 1888.1 1486.5 1890.0 1488.0 1892.2 1489.5 1894.6 1491.0 1897.1 1492.5 1899.6 1494.0 1902.1 1495.5 1904.6 1497.0 1907.1 1498.5 1909.6 1500.0 1912.1 1501.5 1914.6 1503.0 1917.1 1504.5 1919.8 1506.0 1922.7 1507.5 1925.7 1509.0 1928.9 1510.5 1932.3 1512.0 1935.6 1513.5 1938.9 1515.0 1942.1 1516.5 1945.1 1518.0 1948.1 1519.5 1951.1 1521.0 1954.0 1522.5 1957.0 1524.0 1959.8 1525.5 1962.7 1527.0 1965.4 1528.5 1967.9 1530.0 1970.2 1531.5 1972.3 1533.0 1974.5 1534.5 1976.9 1536.0 1979.6 1537.5 1982.3 1539.0 1985.1 1540.5 1987.8 1542.0 1990.6 1543.5 1993.3 1545.0 1996.0 1546.5 1998.4 1548.0 2000.7 1549.5 2002.7 1551.0 2004.5 1552.5 2006.2 1554.0 2007.8 1555.5 2009.6 1557.0 2011.6 1558.5 2013.8 1560.0 2015.9 1561.5 2018.0 1563.0 2019.8 1564.5 2021.4 1566.0 2022.5 1567.5 2023.3 1569.0 2023.9 1570.5 2024.4 1572.0 2024.8 1573.5 2025.1 1575.0 2025.3 1576.5 2025.4 1578.0 2025.4 1579.5 2025.1 1581.0 2024.5 1582.5 2023.5 1584.0 2022.2 1585.5 2020.6 1587.0 2019.0 1588.5 2017.2 1590.0 2015.4 1591.5 2013.5 1593.0 2011.4 1594.5 2009.1 1596.0 2006.7 1597.5 2004.2 1599.0 2001.6 1600.5 1999.1 1602.0 1996.6 1603.5 1994.2 1605.0 1991.9 1606.5 1989.8 1608.0 1987.7 1609.5 1985.5 1611.0 1983.3 1612.5 1981.0 1614.0 1978.7 1615.5 1976.3 1617.0 1973.9 1618.5 1971.6 1620.0 1969.4 1621.5 1967.5 1623.0 1966.0 1624.5 1964.8 1626.0 1963.7 1627.5 1962.8 1629.0 1961.8 1630.5 1960.8 1632.0 1959.7 1633.5 1958.5 1635.0 1957.3 1636.5 1956.1 1638.0 1955.1 1639.5 1954.1 1641.0 1953.2 1642.5 1952.6 1644.0 1952.2 1645.5 1951.8 1647.0 1951.3 1648.5 1950.8 1650.0 1950.2 1651.5 1949.7 1653.0 1949.1 1654.5 1948.5 1656.0 1947.6 1657.5 1946.2 1659.0 1944.8 1660.5 1943.7 1662.0 1942.5 1663.5 1941.0 1665.0 1939.1 1666.5 1937.0 1668.0 1934.8 1669.5 1932.6 1671.0 1930.3 1672.5 1927.8 1674.0 1925.1 1675.5 1922.3 1677.0 1919.3 1678.5 1916.4 1680.0 1913.4 1681.5 1910.4 1683.0 1907.4 1684.5 1904.4 1686.0 1901.4 1687.5 1898.3 1689.0 1895.2 1690.5 1892.1 1692.0 1888.9 1693.5 1885.9 1695.0 1882.8 1696.5 1879.9 1698.0 1877.0 1699.5 1874.3 1701.0 1871.6 1702.5 1868.9 1704.0 1866.1 1705.5 1863.1 1707.0 1860.2 1708.5 1857.4 1710.0 1854.8 1711.5 1852.3 1713.0 1850.0 1714.5 1847.9 1716.0 1845.8 1717.5 1843.9 1719.0 1842.1 1720.5 1840.4 1722.0 1838.8 1723.5 1837.2 1725.0 1835.4 1726.5 1833.4 1728.0 1831.6 1729.5 1830.0 1731.0 1828.7 1732.5 1827.7 1734.0 1826.9 1735.5 1826.2 1737.0 1825.6 1738.5 1824.9 1740.0 1824.3 1741.5 1823.8 1743.0 1823.3 1744.5 1822.8 1746.0 1822.3 1747.5 1821.8 1749.0 1821.3 1750.5 1820.8 1752.0 1820.3 1753.5 1819.8 1755.0 1819.3 1756.5 1818.8 1758.0 1818.2 1759.5 1817.5 1761.0 1816.9 1762.5 1816.2 1764.0 1815.6 1765.5 1815.0 1767.0 1814.4 1768.5 1813.9 1770.0 1813.4 1771.5 1813.0 1773.0 1812.8 1774.5 1812.7 1776.0 1813.0 1777.5 1813.7 1779.0 1814.7 1780.5 1815.9 1782.0 1817.3 1783.5 1818.9 1785.0 1820.6 1786.5 1822.4 1788.0 1824.2 1789.5 1826.1 1791.0 1828.0 1792.5 1830.1 1794.0 1832.2 1795.5 1834.6 1797.0 1837.3 1798.5 1840.1 1800.0 1842.7 1801.5 1845.3 1803.0 1847.7 1804.5 1850.1 1806.0 1852.4 1807.5 1854.5 1809.0 1856.6 1810.5 1858.5 1812.0 1860.4 1813.5 1862.1 1815.0 1863.8 1816.5 1865.2 1818.0 1866.6 1819.5 1867.8 1821.0 1868.8 1822.5 1869.8 1824.0 1870.7 1825.5 1871.6 1827.0 1872.5 1828.5 1873.3 1830.0 1874.1 1831.5 1874.9 1833.0 1875.5 1834.5 1876.2 1836.0 1876.8 1837.5 1877.4 1839.0 1878.0 1840.5 1878.6 1842.0 1879.2 1843.5 1879.8 1845.0 1880.4 1846.5 1881.1 1848.0 1882.0 1849.5 1883.0 1851.0 1884.3 1852.5 1885.8 1854.0 1887.4 1855.5 1889.1 1857.0 1890.9 1858.5 1892.8 1860.0 1894.7 1861.5 1896.7 1863.0 1898.7 1864.5 1900.7 1866.0 1902.7 1867.5 1904.7 1869.0 1906.7 1870.5 1908.7 1872.0 1910.7 1873.5 1912.7 1875.0 1914.7 1876.5 1916.7 1878.0 1918.8 1879.5 1920.9 1881.0 1923.1 1882.5 1925.3 1884.0 1927.5 1885.5 1929.7 1887.0 1931.9 1888.5 1934.1 1890.0 1936.4 1891.5 1938.8 1893.0 1941.2 1894.5 1943.6 1896.0 1946.1 1897.5 1948.7 1899.0 1951.2 1900.5 1953.8 1902.0 1956.4 1903.5 1959.0 1905.0 1961.6 1906.5 1964.2 1908.0 1966.8 1909.5 1969.4 1911.0 1972.0 1912.5 1974.4 1914.0 1976.8 1915.5 1978.8 1917.0 1980.7 1918.5 1982.3 1920.0 1983.8 1921.5 1985.1 1923.0 1986.3 1924.5 1987.3 1926.0 1988.3 1927.5 1989.2 1929.0 1990.1 1930.5 1991.0 1932.0 1991.9 1933.5 1992.8 1935.0 1993.7 1936.5 1994.6 1938.0 1995.6 1939.5 1996.7 1941.0 1997.8 1942.5 1999.0 1944.0 2000.2 1945.5 2001.4 1947.0 2002.7 1948.5 2004.0 1950.0 2005.4 1951.5 2006.9 1953.0 2008.5 1954.5 2010.2 1956.0 2011.9 1957.5 2013.7 1959.0 2015.6 1960.5 2017.5 1962.0 2019.3 1963.5 2021.2 1965.0 2023.2 1966.5 2025.3 1968.0 2027.6 1969.5 2030.2 1971.0 2032.9 1972.5 2035.7 1974.0 2038.7 1975.5 2041.7 1977.0 2044.7 1978.5 2047.7 1980.0 2050.6 1981.5 2053.6 1983.0 2056.5 1984.5 2059.3 1986.0 2062.1 1987.5 2064.7 1989.0 2067.3 1990.5 2069.6 1992.0 2071.8 1993.5 2073.8 1995.0 2075.6 1996.5 2077.2 1998.0 2078.6 1999.5 2079.9 2001.0 2081.1 2002.5 2082.1 2004.0 2083.0 2005.5 2083.8 2007.0 2084.5 2008.5 2085.0 2010.0 2085.3 2011.5 2085.3 2013.0 2085.1 2014.5 2084.6 2016.0 2083.9 2017.5 2082.9 2019.0 2081.7 2020.5 2080.4 2022.0 2078.8 2023.5 2077.1 2025.0 2075.2 2026.5 2073.0 2028.0 2070.7 2029.5 2068.3 2031.0 2065.9 2032.5 2063.4 2034.0 2060.8 2035.5 2058.2 2037.0 2055.6 2038.5 2052.9 2040.0 2050.2 2041.5 2047.4 2043.0 2044.7 2044.5 2041.9 2046.0 2039.1 2047.5 2036.2 2049.0 2033.2 2050.5 2030.3 2052.0 2027.3 2053.5 2024.2 2055.0 2021.2 2056.5 2018.1 2058.0 2015.0 2059.5 2011.8 2061.0 2008.6 2062.5 2005.3 2064.0 2002.0 2065.5 1998.6 2067.0 1995.2 2068.5 1991.6 2070.0 1988.0 2071.5 1984.3 2073.0 1980.4 2074.5 1976.6 2076.0 1972.6 2077.5 1968.6 2079.0 1964.6 2080.5 1960.4 2082.0 1956.2 2083.5 1951.8 2085.0 1947.4 2086.5 1942.9 2088.0 1938.2 2089.5 1933.5 2091.0 1928.5 2092.5 1923.4 2094.0 1918.1 2095.5 1912.7 2097.0 1907.3 2098.5 1901.9 2100.0 1896.5 2101.5 1891.1 2103.0 1885.7 2104.5 1880.3 2106.0 1874.9 2107.5 1869.5 2109.0 1864.1 2110.5 1858.7 2112.0 1853.3 2113.5 1847.9 2115.0 1842.5 2116.5 1837.1 2118.0 1831.8 2119.5 1826.7 2121.0 1821.7 2122.5 1816.9 2124.0 1812.3 2125.5 1807.7 2127.0 1803.3 2128.5 1799.0 2130.0 1794.8 2131.5 1790.6 2133.0 1786.5 2134.5 1782.5 2136.0 1778.5 2137.5 1774.7 2139.0 1771.0 2140.5 1767.5 2142.0 1764.3 2143.5 1761.3 2145.0 1758.7 2146.5 1756.4 2148.0 1754.3 2149.5 1752.4 2151.0 1750.8 2152.5 1749.5 2154.0 1748.3 2155.5 1747.4 2157.0 1746.6 2158.5 1745.8 2160.0 1745.0 2161.5 1744.3 2163.0 1743.5 2164.5 1742.7 2166.0 1742.0 2167.5 1741.2 2169.0 1740.5 2170.5 1739.9 2172.0 1739.4 2173.5 1738.9 2175.0 1738.6 2176.5 1738.5 2178.0 1738.4 2179.5 1738.5 2181.0 1738.8 2182.5 1739.2 2184.0 1739.8 2185.5 1740.4 2187.0 1741.1 2188.5 1741.9 2190.0 1742.7 2191.5 1743.6 2193.0 1744.5 2194.5 1745.4 2196.0 1746.3 2197.5 1747.2 2199.0 1748.0 2200.5 1748.7 2202.0 1749.3 2203.5 1749.9 2205.0 1750.5 2206.5 1751.1 2208.0 1751.6 2209.5 1752.2 2211.0 1752.7 2212.5 1753.2 2214.0 1753.8 2215.5 1754.3 2217.0 1754.8 2218.5 1755.4 2220.0 1755.9 2221.5 1756.4 2223.0 1756.9 2224.5 1757.3 2226.0 1757.8 2227.5 1758.2 2229.0 1758.5 2230.5 1758.8 2232.0 1759.1 2233.5 1759.3 2235.0 1759.6 2236.5 1759.7 2238.0 1759.9 2239.5 1760.1 2241.0 1760.2 2242.5 1760.5 2244.0 1760.9 2245.5 1761.5 2247.0 1762.1 2248.5 1762.9 2250.0 1763.8 2251.5 1764.7 2253.0 1765.9 2254.5 1767.2 2256.0 1768.7 2257.5 1770.4 2259.0 1772.3 2260.5 1774.2 2262.0 1776.2 2263.5 1778.4 2265.0 1780.5 2266.5 1782.8 2268.0 1785.2 2269.5 1787.8 2271.0 1790.6 2272.5 1793.5 2274.0 1796.7 2275.5 1800.0 2277.0 1803.5 2278.5 1807.2 2280.0 1811.0 2281.5 1815.0 2283.0 1819.1 2284.5 1823.4 2286.0 1827.8 2287.5 1832.6 2289.0 1837.6 2290.5 1842.8 2292.0 1848.0 2293.5 1853.2 2295.0 1858.5 2296.5 1863.8 2298.0 1869.1 2299.5 1874.3 2301.0 1879.5 2302.5 1884.5 2304.0 1889.4 2305.5 1894.3 2307.0 1899.0 2308.5 1903.8 2310.0 1908.6 2311.5 1913.3 2313.0 1918.1 2314.5 1922.9 2316.0 1927.7 2317.5 1932.5 2319.0 1937.3 2320.5 1942.1 2322.0 1946.9 2323.5 1951.7 2325.0 1956.5 2326.5 1961.2 2328.0 1965.8 2329.5 1970.2 2331.0 1974.4 2332.5 1978.5 2334.0 1982.5 2335.5 1986.6 2337.0 1990.6 2338.5 1994.7 2340.0 1998.7 2341.5 2002.7 2343.0 2006.6 2344.5 2010.5 2346.0 2014.2 2347.5 2017.7 2349.0 2021.0 2350.5 2024.4 2352.0 2027.8 2353.5 2031.5 2355.0 2035.4 2356.5 2039.5 2358.0 2043.8 2359.5 2048.0 2361.0 2052.2 2362.5 2056.5 2364.0 2060.7 2365.5 2065.0 2367.0 2069.2 2368.5 2073.5 2370.0 2077.7 2371.5 2082.0 2373.0 2086.2 2374.5 2090.5 2376.0 2094.6 2377.5 2098.8 2379.0 2102.8 2380.5 2106.8 2382.0 2110.7 2383.5 2114.6 2385.0 2118.5 2386.5 2122.4 2388.0 2126.2 2389.5 2130.0 2391.0 2133.7 2392.5 2137.4 2394.0 2141.0 2395.5 2144.6 2397.0 2148.0 2398.5 2151.4 2400.0 2154.6 2401.5 2157.8 2403.0 2161.0 2404.5 2164.0 2406.0 2166.9 2407.5 2169.7 2409.0 2172.4 2410.5 2174.8 2412.0 2176.9 2413.5 2178.7 2415.0 2180.3 2416.5 2181.6 2418.0 2182.7 2419.5 2183.6 2421.0 2184.2 2422.5 2184.6 2424.0 2184.7 2425.5 2184.6 2427.0 2184.3 2428.5 2183.8 2430.0 2183.1 2431.5 2182.2 2433.0 2181.1 2434.5 2179.9 2436.0 2178.4 2437.5 2176.7 2439.0 2174.7 2440.5 2172.4 2442.0 2169.8 2443.5 2166.8 2445.0 2163.4 2446.5 2159.8 2448.0 2155.8 2449.5 2151.5 2451.0 2146.8 2452.5 2141.7 2454.0 2136.2 2455.5 2130.5 2457.0 2124.5 2458.5 2118.2 2460.0 2111.6 2461.5 2104.9 2463.0 2098.2 2464.5 2091.5 2466.0 2084.7 2467.5 2078.0 2469.0 2071.2 2470.5 2064.5 2472.0 2057.7 2473.5 2051.0 2475.0 2044.2 2476.5 2037.5 2478.0 2030.7 2479.5 2024.0 2481.0 2017.2 2482.5 2010.5 2484.0 2003.7 2485.5 1997.0 2487.0 1990.2 2488.5 1983.5 2490.0 1976.7 2491.5 1970.0 2493.0 1963.4 2494.5 1957.1 2496.0 1951.0 2497.5 1945.2 2499.0 1939.5 2500.5 1933.9 2502.0 1928.5 2503.5 1923.3 2505.0 1918.3 2506.5 1913.6 2508.0 1909.0 2509.5 1904.7 2511.0 1900.6 2512.5 1896.5 2514.0 1892.6 2515.5 1888.8 2517.0 1885.1 2518.5 1881.5 2520.0 1877.9 2521.5 1874.5 2523.0 1871.1 2524.5 1867.9 2526.0 1864.8 2527.5 1861.8 2529.0 1859.0 2530.5 1856.2 2532.0 1853.7 2533.5 1851.2 2535.0 1848.8 2536.5 1846.6 2538.0 1844.4 2539.5 1842.4 2541.0 1840.5 2542.5 1838.7 2544.0 1837.0 2545.5 1835.3 2547.0 1833.7 2548.5 1832.0 2550.0 1830.3 2551.5 1828.5 2553.0 1826.7 2554.5 1824.8 2556.0 1822.9 2557.5 1821.0 2559.0 1819.1 2560.5 1817.1 2562.0 1815.2 2563.5 1813.2 2565.0 1811.1 2566.5 1809.1 2568.0 1807.0 2569.5 1804.9 2571.0 1802.7 2572.5 1800.6 2574.0 1798.3 2575.5 1796.0 2577.0 1793.7 2578.5 1791.3 2580.0 1788.8 2581.5 1786.2 2583.0 1783.6 2584.5 1780.9 2586.0 1778.1 2587.5 1775.3 2589.0 1772.5 2590.5 1769.5 2592.0 1766.5 2593.5 1763.5 2595.0 1760.3 2596.5 1757.2 2598.0 1754.2 2599.5 1751.3 2601.0 1748.5 2602.5 1745.9 2604.0 1743.2 2605.5 1740.7 2607.0 1738.2 2608.5 1735.8 2610.0 1733.5 2611.5 1731.4 2613.0 1729.5 2614.5 1727.9 2616.0 1726.6 2617.5 1725.6 2619.0 1724.8 2620.5 1724.3 2622.0 1723.8 2623.5 1723.6 2625.0 1723.4 2626.5 1723.4 2628.0 1723.4 2629.5 1723.5 2631.0 1723.7 2632.5 1723.9 2634.0 1724.3 2635.5 1724.7 2637.0 1725.2 2638.5 1725.9 2640.0 1726.7 2641.5 1727.7 2643.0 1728.9 2644.5 1730.4 2646.0 1732.3 2647.5 1734.5 2649.0 1737.0 2650.5 1739.7 2652.0 1742.5 2653.5 1745.5 2655.0 1748.6 2656.5 1751.8 2658.0 1755.1 2659.5 1758.4 2661.0 1761.8 2662.5 1765.3 2664.0 1768.9 2665.5 1772.5 2667.0 1776.3 2668.5 1780.2 2670.0 1784.3 2671.5 1788.5 2673.0 1792.9 2674.5 1797.3 2676.0 1801.9 2677.5 1806.7 2679.0 1811.8 2680.5 1817.2 2682.0 1822.8 2683.5 1828.5 2685.0 1834.2 2686.5 1839.9 2688.0 1845.6 2689.5 1851.3 2691.0 1857.0 2692.5 1862.6 2694.0 1868.0 2695.5 1873.2 2697.0 1878.3 2698.5 1883.2 2700.0 1888.1 2701.5 1892.9 2703.0 1897.7 2704.5 1902.5 2706.0 1907.1 2707.5 1911.7 2709.0 1916.3 2710.5 1920.7 2712.0 1925.1 2713.5 1929.3 2715.0 1933.6 2716.5 1937.7 2718.0 1941.9 2719.5 1946.0 2721.0 1950.1 2722.5 1954.2 2724.0 1958.2 2725.5 1962.3 2727.0 1966.3 2728.5 1970.3 2730.0 1974.3 2731.5 1978.1 2733.0 1981.7 2734.5 1985.0 2736.0 1988.2 2737.5 1991.1 2739.0 1993.7 2740.5 1996.1 2742.0 1998.3 2743.5 2000.2 2745.0 2001.8 2746.5 2003.2 2748.0 2004.3 2749.5 2005.2 2751.0 2006.0 2752.5 2006.7 2754.0 2007.5 2755.5 2008.2 2757.0 2008.9 2758.5 2009.5 2760.0 2010.0 2761.5 2010.3 2763.0 2010.5 2764.5 2010.5 2766.0 2010.4 2767.5 2010.2 2769.0 2010.0 2770.5 2009.8 2772.0 2009.5 2773.5 2009.3 2775.0 2009.0 2776.5 2008.7 2778.0 2008.3 2779.5 2007.9 2781.0 2007.4 2782.5 2006.9 2784.0 2006.3 2785.5 2005.7 2787.0 2005.0 2788.5 2004.3 2790.0 2003.5 2791.5 2002.6 2793.0 2001.6 2794.5 2000.5 2796.0 1999.4 2797.5 1998.2 2799.0 1997.1 2800.5 1995.9 2802.0 1994.7 2803.5 1993.5 2805.0 1992.5 2806.5 1991.6 2808.0 1990.8 2809.5 1990.1 2811.0 1989.6 2812.5 1989.3 2814.0 1989.2 2815.5 1989.2 2817.0 1989.3 2818.5 1989.7 2820.0 1990.2 2821.5 1990.9 2823.0 1991.8 2824.5 1992.9 2826.0 1994.2 2827.5 1995.7 2829.0 1997.3 2830.5 1999.0 2832.0 2000.8 2833.5 2002.7 2835.0 2004.6 2836.5 2006.5 2838.0 2008.4 2839.5 2010.3 2841.0 2012.3 2842.5 2014.2 2844.0 2016.2 2845.5 2018.2 2847.0 2020.1 2848.5 2022.0 2850.0 2023.8 2851.5 2025.6 2853.0 2027.3 2854.5 2029.0 2856.0 2030.6 2857.5 2032.1 2859.0 2033.4 2860.5 2034.6 2862.0 2035.6 2863.5 2036.3 2865.0 2036.9 2866.5 2037.2 2868.0 2037.3 2869.5 2037.2 2871.0 2037.0 2872.5 2036.6 2874.0 2036.1 2875.5 2035.5 2877.0 2034.7 2878.5 2033.8 2880.0 2032.9 2881.5 2031.8 2883.0 2030.6 2884.5 2029.2 2886.0 2027.8 2887.5 2026.1 2889.0 2024.4 2890.5 2022.5 2892.0 2020.6 2893.5 2018.5 2895.0 2016.4 2896.5 2014.2 2898.0 2012.0 2899.5 2009.7 2901.0 2007.4 2902.5 2005.1 2904.0 2002.7 2905.5 2000.3 2907.0 1997.9 2908.5 1995.5 2910.0 1993.0 2911.5 1990.5 2913.0 1987.9 2914.5 1985.3 2916.0 1982.6 2917.5 1979.9 2919.0 1977.2 2920.5 1974.5 2922.0 1971.7 2923.5 1969.0 2925.0 1966.3 2926.5 1963.6 2928.0 1961.0 2929.5 1958.5 2931.0 1956.1 2932.5 1953.8 2934.0 1951.6 2935.5 1949.4 2937.0 1947.3 2938.5 1945.2 2940.0 1943.0 2941.5 1940.8 2943.0 1938.6 2944.5 1936.4 2946.0 1934.2 2947.5 1932.0 2949.0 1929.7 2950.5 1927.3 2952.0 1925.0 2953.5 1922.5 2955.0 1920.1 2956.5 1917.6 2958.0 1915.1 2959.5 1912.6 2961.0 1910.1 2962.5 1907.6 2964.0 1905.1 2965.5 1902.6 2967.0 1900.0 2968.5 1897.5 2970.0 1895.1 2971.5 1892.6 2973.0 1890.2 2974.5 1887.8 2976.0 1885.4 2977.5 1883.0 2979.0 1880.6 2980.5 1878.2 2982.0 1875.8 2983.5 1873.4 2985.0 1871.0 2986.5 1868.6 2988.0 1866.2 2989.5 1863.7 2991.0 1861.3 2992.5 1858.8 2994.0 1856.5 2995.5 1854.2 2997.0 1852.1 2998.5 1850.1 3000.0 1848.3 3001.5 1846.5 3003.0 1844.9 3004.5 1843.3 3006.0 1841.8 3007.5 1840.4 3009.0 1839.1 3010.5 1837.8 3012.0 1836.5 3013.5 1835.3 3015.0 1834.0 3016.5 1832.8 3018.0 1831.5 3019.5 1830.3 3021.0 1829.0 3022.5 1827.8 3024.0 1826.5 3025.5 1825.2 3027.0 1823.9 3028.5 1822.5 3030.0 1821.1 3031.5 1819.8 3033.0 1818.5 3034.5 1817.2 3036.0 1816.0 3037.5 1814.7 3039.0 1813.5 3040.5 1812.3 3042.0 1811.2 3043.5 1810.1 3045.0 1809.1 3046.5 1808.2 3048.0 1807.3 3049.5 1806.6 3051.0 1806.0 3052.5 1805.6 3054.0 1805.3 3055.5 1805.2 3057.0 1805.1 3058.5 1805.2 3060.0 1805.4 3061.5 1805.7 3063.0 1806.0 3064.5 1806.4 3066.0 1806.9 3067.5 1807.4 3069.0 1808.0 3070.5 1808.6 3072.0 1809.3 3073.5 1810.1 3075.0 1811.0 3076.5 1811.9 3078.0 1812.9 3079.5 1813.8 3081.0 1814.9 3082.5 1816.0 3084.0 1817.3 3085.5 1818.7 3087.0 1820.2 3088.5 1821.9 3090.0 1823.5 3091.5 1825.2 3093.0 1826.9 3094.5 1828.6 3096.0 1830.3 3097.5 1832.0 3099.0 1833.7 3100.5 1835.3 3102.0 1836.9 3103.5 1838.4 3105.0 1839.9 3106.5 1841.4 3108.0 1842.9 3109.5 1844.5 3111.0 1846.2 3112.5 1847.9 3114.0 1849.6 3115.5 1851.3 3117.0 1853.1 3118.5 1854.9 3120.0 1856.7 3121.5 1858.5 3123.0 1860.3 3124.5 1862.0 3126.0 1863.7 3127.5 1865.4 3129.0 1867.1 3130.5 1868.7 3132.0 1870.4 3133.5 1872.1 3135.0 1873.9 3136.5 1875.9 3138.0 1877.9 3139.5 1880.0 3141.0 1882.2 3142.5 1884.4 3144.0 1886.6 3145.5 1888.8 3147.0 1891.0 3148.5 1893.2 3150.0 1895.3 3151.5 1897.5 3153.0 1899.7 3154.5 1901.9 3156.0 1904.1 3157.5 1906.3 3159.0 1908.5 3160.5 1910.8 3162.0 1913.1 3163.5 1915.5 3165.0 1917.7 3166.5 1919.9 3168.0 1921.9 3169.5 1923.7 3171.0 1925.5 3172.5 1927.3 3174.0 1929.0 3175.5 1930.8 3177.0 1932.5 3178.5 1934.3 3180.0 1936.1 3181.5 1937.8 3183.0 1939.6 3184.5 1941.4 3186.0 1943.2 3187.5 1945.0 3189.0 1946.9 3190.5 1948.8 3192.0 1950.7 3193.5 1952.5 3195.0 1954.2 3196.5 1955.8 3198.0 1957.2 3199.5 1958.5 3201.0 1959.7 3202.5 1960.8 3204.0 1962.0 3205.5 1963.3 3207.0 1964.8 3208.5 1966.4 3210.0 1968.2 3211.5 1970.1 3213.0 1972.1 3214.5 1974.1 3216.0 1976.2 3217.5 1978.3 3219.0 1980.4 3220.5 1982.5 3222.0 1984.7 3223.5 1986.9 3225.0 1989.2 3226.5 1991.6 3228.0 1994.0 3229.5 1996.6 3231.0 1999.2 3232.5 2001.8 3234.0 2004.4 3235.5 2006.9 3237.0 2009.5 3238.5 2011.9 3240.0 2014.4 3241.5 2016.7 3243.0 2018.9 3244.5 2021.0 3246.0 2023.1 3247.5 2025.1 3249.0 2027.1 3250.5 2029.1 3252.0 2031.1 3253.5 2033.2 3255.0 2035.2 3256.5 2037.2 3258.0 2039.2 3259.5 2040.9 3261.0 2042.5 3262.5 2043.7 3264.0 2044.7 3265.5 2045.6 3267.0 2046.4 3268.5 2047.1 3270.0 2047.8 3271.5 2048.4 3273.0 2049.0 3274.5 2049.6 3276.0 2050.1 3277.5 2050.5 3279.0 2050.6 3280.5 2050.4 3282.0 2049.8 3283.5 2049.1 3285.0 2048.2 3286.5 2047.2 3288.0 2046.2 3289.5 2045.0 3291.0 2043.8 3292.5 2042.4 3294.0 2040.9 3295.5 2039.3 3297.0 2037.6 3298.5 2035.8 3300.0 2033.9 3301.5 2031.9 3303.0 2029.8 3304.5 2027.6 3306.0 2025.4 3307.5 2023.2 3309.0 2020.9 3310.5 2018.6 3312.0 2016.2 3313.5 2013.7 3315.0 2011.0 3316.5 2008.2 3318.0 2005.2 3319.5 2002.2 3321.0 1999.1 3322.5 1996.1 3324.0 1993.0 3325.5 1989.9 3327.0 1986.7 3328.5 1983.6 3330.0 1980.5 3331.5 1977.3 3333.0 1974.2 3334.5 1971.1 3336.0 1968.1 3337.5 1965.1 3339.0 1962.1 3340.5 1959.0 3342.0 1955.8 3343.5 1952.5 3345.0 1949.3 3346.5 1946.0 3348.0 1942.8 3349.5 1939.5 3351.0 1936.3 3352.5 1933.1 3354.0 1929.9 3355.5 1926.8 3357.0 1923.8 3358.5 1920.9 3360.0 1918.1 3361.5 1915.3 3363.0 1912.7 3364.5 1910.1 3366.0 1907.6 3367.5 1905.3 3369.0 1902.9 3370.5 1900.6 3372.0 1898.1 3373.5 1895.4 3375.0 1892.7 3376.5 1889.9 3378.0 1887.2 3379.5 1884.4 3381.0 1881.7 3382.5 1878.9 3384.0 1876.2 3385.5 1873.6 3387.0 1871.2 3388.5 1869.1 3390.0 1867.1 3391.5 1865.2 3393.0 1863.5 3394.5 1861.8 3396.0 1860.3 3397.5 1858.8 3399.0 1857.4 3400.5 1856.1 3402.0 1854.9 3403.5 1853.8 3405.0 1852.8 3406.5 1852.0 3408.0 1851.4 3409.5 1850.9 3411.0 1850.5 3412.5 1850.3 3414.0 1850.1 3415.5 1849.9 3417.0 1849.7 3418.5 1849.5 3420.0 1849.4 3421.5 1849.3 3423.0 1849.2 3424.5 1849.2 3426.0 1849.3 3427.5 1849.6 3429.0 1850.0 3430.5 1850.6 3432.0 1851.5 3433.5 1852.8 3435.0 1854.3 3436.5 1856.0 3438.0 1857.6 3439.5 1859.2 3441.0 1860.9 3442.5 1862.5 3444.0 1864.2 3445.5 1865.9 3447.0 1867.7 3448.5 1869.4 3450.0 1871.0 3451.5 1872.5 3453.0 1873.9 3454.5 1875.3 3456.0 1876.7 3457.5 1878.1 3459.0 1879.5 3460.5 1880.9 3462.0 1882.3 3463.5 1883.6 3465.0 1884.9 3466.5 1885.9 3468.0 1886.8 3469.5 1887.5 3471.0 1888.0 3472.5 1888.3 3474.0 1888.3 3475.5 1888.1 3477.0 1887.7 3478.5 1887.1 3480.0 1886.3 3481.5 1885.4 3483.0 1884.4 3484.5 1883.3 3486.0 1882.1 3487.5 1880.7 3489.0 1879.2 3490.5 1877.4 3492.0 1875.4 3493.5 1873.2 3495.0 1871.0 3496.5 1868.7 3498.0 1866.5 3499.5 1864.2 3501.0 1862.0 3502.5 1859.7 3504.0 1857.5 3505.5 1855.4 3507.0 1853.3 3508.5 1851.4 3510.0 1849.6 3511.5 1848.1 3513.0 1846.9 3514.5 1846.1 3516.0 1845.6 3517.5 1845.3 3519.0 1845.2 3520.5 1845.2 3522.0 1845.4 3523.5 1845.8 3525.0 1846.4 3526.5 1847.2 3528.0 1848.1 3529.5 1849.3 3531.0 1850.6 3532.5 1852.1 3534.0 1853.6 3535.5 1855.2 3537.0 1856.9 3538.5 1858.6 3540.0 1860.4 3541.5 1862.1 3543.0 1863.7 3544.5 1865.2 3546.0 1866.6 3547.5 1867.9 3549.0 1869.1 3550.5 1870.1 3552.0 1870.8" stroke="#ff0000" stroke-width="6.25" fill="none" stroke-linejoin="round" stroke-linecap="square"/>
<path d="M328.50 2212.40v14.58M894.10 2212.40v14.58M1459.70 2212.40v14.58M2025.30 2212.40v14.58M2590.90 2212.40v14.58M3156.50 2212.40v14.58M328.50 1706.00h-14.58M328.50 1813.80h-14.58M328.50 1921.60h-14.58M328.50 2029.40h-14.58M328.50 2137.20h-14.58" stroke="#000" stroke-width="3.333" fill="none"/>
<rect x="328.50" y="1631.50" width="3224.00" height="580.90" fill="none" stroke="#000" stroke-width="3.333" stroke-linejoin="miter"/>
<text class="t" x="327.30" y="2272.40" text-anchor="middle">0</text>
<text class="t" x="892.90" y="2272.40" text-anchor="middle">10</text>
<text class="t" x="1458.50" y="2272.40" text-anchor="middle">20</text>
<text class="t" x="2024.10" y="2272.40" text-anchor="middle">30</text>
<text class="t" x="2589.70" y="2272.40" text-anchor="middle">40</text>
<text class="t" x="3155.30" y="2272.40" text-anchor="middle">50</text>
<text class="t" x="299.33" y="1720.60" text-anchor="end">0.004</text>
<text class="t" x="299.33" y="1828.40" text-anchor="end">0.002</text>
<text class="t" x="299.33" y="1936.20" text-anchor="end">0.000</text>
<text class="t" x="299.33" y="2044.00" text-anchor="end">−0.002</text>
<text class="t" x="299.33" y="2151.80" text-anchor="end">−0.004</text>
<text class="l" x="1939.50" y="2343.10" text-anchor="middle">Time (s)</text>
<text class="l" transform="translate(115.30 1922.45) rotate(-90)" text-anchor="middle">Displacement (cm)</text>
</svg></body></html>
